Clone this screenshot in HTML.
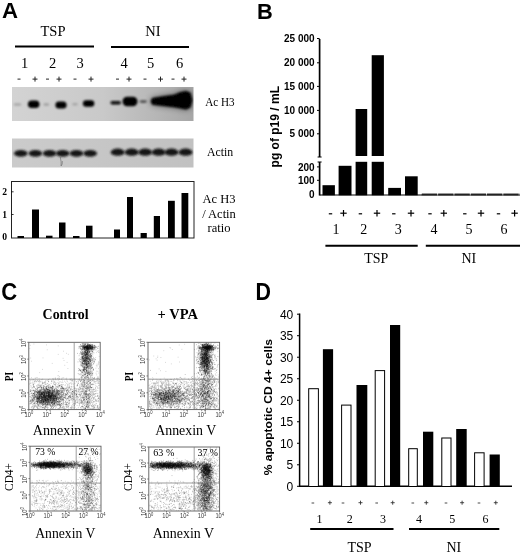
<!DOCTYPE html>
<html><head><meta charset="utf-8"><title>Figure</title>
<style>html,body{margin:0;padding:0;background:#fff;}body{width:520px;height:552px;overflow:hidden;font-family:"Liberation Serif",serif;}svg{display:block;}</style>
</head><body>
<svg width="520" height="552" viewBox="0 0 520 552">
<defs>
<filter id="b1" x="-50%" y="-100%" width="200%" height="300%"><feGaussianBlur stdDeviation="0.9"/></filter>
<filter id="b2" x="-50%" y="-100%" width="200%" height="300%"><feGaussianBlur stdDeviation="1.6"/></filter>
<filter id="b3" x="-50%" y="-100%" width="200%" height="300%"><feGaussianBlur stdDeviation="0.7"/></filter>
<filter id="b4" x="-50%" y="-200%" width="200%" height="500%"><feGaussianBlur stdDeviation="1.3"/></filter>
<filter id="bh" x="-30%" y="-100%" width="160%" height="300%"><feGaussianBlur stdDeviation="3"/></filter>
<filter id="bt" x="-5%" y="-5%" width="110%" height="110%"><feGaussianBlur stdDeviation="0.35"/></filter>
<filter id="bd" x="-5%" y="-5%" width="110%" height="110%"><feGaussianBlur stdDeviation="0.45"/></filter>
<linearGradient id="g1" x1="0" x2="1" y1="0" y2="0"><stop offset="0" stop-color="#d3d3d3"/><stop offset="0.5" stop-color="#c9c9c9"/><stop offset="0.8" stop-color="#b6b6b6"/><stop offset="1" stop-color="#a6a6a6"/></linearGradient>
<linearGradient id="g2" x1="0" x2="1" y1="0" y2="0"><stop offset="0" stop-color="#cbcbcb"/><stop offset="1" stop-color="#c1c1c1"/></linearGradient>
<clipPath id="c1"><rect x="12" y="87" width="181.5" height="34"/></clipPath>
<clipPath id="c2"><rect x="12" y="138.5" width="181.5" height="29"/></clipPath>
</defs>
<rect width="520" height="552" fill="#fff"/>
<g filter="url(#bt)">
<text transform="translate(2.00,18.10) scale(0.989,1)" font-family='"Liberation Sans", sans-serif' font-size="22.46" font-weight="bold" fill="#000">A</text>
<text transform="translate(256.90,18.50) scale(0.971,1)" font-family='"Liberation Sans", sans-serif' font-size="22.46" font-weight="bold" fill="#000">B</text>
<text transform="translate(1.30,299.97) scale(0.956,1)" font-family='"Liberation Sans", sans-serif' font-size="23.10" font-weight="bold" fill="#000">C</text>
<text transform="translate(255.40,300.40) scale(0.928,1)" font-family='"Liberation Sans", sans-serif' font-size="23.04" font-weight="bold" fill="#000">D</text>
<text x="53" y="36" font-family='"Liberation Serif", serif' font-size="14.5" font-weight="normal" text-anchor="middle" >TSP</text>
<text x="153" y="36" font-family='"Liberation Serif", serif' font-size="14.5" font-weight="normal" text-anchor="middle" >NI</text>
<line x1="15" y1="46.5" x2="94" y2="46.5" stroke="#000" stroke-width="2" />
<line x1="111" y1="47" x2="189" y2="47" stroke="#000" stroke-width="2" />
<text x="24.5" y="68" font-family='"Liberation Serif", serif' font-size="14.5" font-weight="normal" text-anchor="middle" >1</text>
<text x="52.5" y="68" font-family='"Liberation Serif", serif' font-size="14.5" font-weight="normal" text-anchor="middle" >2</text>
<text x="80" y="68" font-family='"Liberation Serif", serif' font-size="14.5" font-weight="normal" text-anchor="middle" >3</text>
<text x="124" y="68" font-family='"Liberation Serif", serif' font-size="14.5" font-weight="normal" text-anchor="middle" >4</text>
<text x="150.5" y="68" font-family='"Liberation Serif", serif' font-size="14.5" font-weight="normal" text-anchor="middle" >5</text>
<text x="179.5" y="68" font-family='"Liberation Serif", serif' font-size="14.5" font-weight="normal" text-anchor="middle" >6</text>
<line x1="17.5" y1="79.1" x2="20.5" y2="79.1" stroke="#222" stroke-width="1" />
<line x1="32.5" y1="79.1" x2="37.5" y2="79.1" stroke="#222" stroke-width="1" />
<line x1="35" y1="76.6" x2="35" y2="81.6" stroke="#222" stroke-width="1" />
<line x1="46.0" y1="79.1" x2="49.0" y2="79.1" stroke="#222" stroke-width="1" />
<line x1="56.5" y1="79.1" x2="61.5" y2="79.1" stroke="#222" stroke-width="1" />
<line x1="59" y1="76.6" x2="59" y2="81.6" stroke="#222" stroke-width="1" />
<line x1="73.5" y1="79.1" x2="76.5" y2="79.1" stroke="#222" stroke-width="1" />
<line x1="88.5" y1="79.1" x2="93.5" y2="79.1" stroke="#222" stroke-width="1" />
<line x1="91" y1="76.6" x2="91" y2="81.6" stroke="#222" stroke-width="1" />
<line x1="116.0" y1="79.1" x2="119.0" y2="79.1" stroke="#222" stroke-width="1" />
<line x1="126.5" y1="79.1" x2="131.5" y2="79.1" stroke="#222" stroke-width="1" />
<line x1="129" y1="76.6" x2="129" y2="81.6" stroke="#222" stroke-width="1" />
<line x1="143.5" y1="79.1" x2="146.5" y2="79.1" stroke="#222" stroke-width="1" />
<line x1="158.0" y1="79.1" x2="163.0" y2="79.1" stroke="#222" stroke-width="1" />
<line x1="160.5" y1="76.6" x2="160.5" y2="81.6" stroke="#222" stroke-width="1" />
<line x1="171.5" y1="79.1" x2="174.5" y2="79.1" stroke="#222" stroke-width="1" />
<line x1="181.5" y1="79.1" x2="186.5" y2="79.1" stroke="#222" stroke-width="1" />
<line x1="184" y1="76.6" x2="184" y2="81.6" stroke="#222" stroke-width="1" />
<rect x="12.00" y="87.00" width="181.50" height="34.00" fill="url(#g1)" />
<g clip-path="url(#c1)">
<ellipse cx="17.5" cy="104.5" rx="4" ry="1.2" fill="#a4a4a4" filter="url(#b1)"/>
<rect x="27.90" y="100.50" width="11.6" height="7.6" rx="3.8" fill="#000" filter="url(#b1)"/>
<ellipse cx="46.3" cy="104.5" rx="3" ry="1.2" fill="#9c9c9c" filter="url(#b1)"/>
<rect x="55.40" y="101.40" width="11.2" height="7" rx="3.5" fill="#000" filter="url(#b1)"/>
<ellipse cx="75" cy="104.3" rx="3" ry="1.2" fill="#a4a4a4" filter="url(#b1)"/>
<rect x="82.90" y="100.30" width="11.4" height="6.4" rx="3.2" fill="#000" filter="url(#b1)"/>
<rect x="110.45" y="101.00" width="10.5" height="3.6" rx="1.8" fill="#0a0a0a" filter="url(#b1)"/>
<rect x="122.50" y="96.70" width="15" height="9.6" rx="4.8" fill="#000" filter="url(#b1)"/>
<ellipse cx="143.2" cy="101.6" rx="3.8" ry="1.4" fill="#4a4a4a" filter="url(#b1)"/>
<path d="M150.6 101.3 L152.2 98 L163 96.2 L174 94.8 L180 92.2 L186 91 L190.5 92.8 L192.4 100.2 L190.5 107.6 L186 109.4 L180 108.2 L174 107.2 L163 106 L152.2 104.8Z" fill="#000" opacity="0.55" filter="url(#bh)"/>
<path d="M150.6 101.3 L152.2 98 L163 96.2 L174 94.8 L180 92.2 L186 91 L190.5 92.8 L192.4 100.2 L190.5 107.6 L186 109.4 L180 108.2 L174 107.2 L163 106 L152.2 104.8Z" fill="#000" filter="url(#b1)"/>
</g>
<text transform="translate(205.20,106.27) scale(0.888,1)" font-family='"Liberation Serif", serif' font-size="12.54" font-weight="normal" fill="#000">Ac H3</text>
<rect x="12.00" y="138.50" width="181.50" height="29.00" fill="url(#g2)" />
<g clip-path="url(#c2)">
<ellipse cx="20.8" cy="153.4" rx="6.8" ry="3.4" fill="#181818" filter="url(#b1)"/>
<ellipse cx="35.4" cy="153.4" rx="6.8" ry="3.4" fill="#181818" filter="url(#b1)"/>
<ellipse cx="49.6" cy="153.4" rx="6.8" ry="3.4" fill="#181818" filter="url(#b1)"/>
<ellipse cx="62.7" cy="153.4" rx="6.8" ry="3.4" fill="#181818" filter="url(#b1)"/>
<ellipse cx="76.5" cy="153.4" rx="6.8" ry="3.4" fill="#181818" filter="url(#b1)"/>
<ellipse cx="90.2" cy="153.4" rx="6.8" ry="3.4" fill="#181818" filter="url(#b1)"/>
<ellipse cx="117.7" cy="152.2" rx="7.0" ry="3.6" fill="#181818" filter="url(#b1)"/>
<ellipse cx="131.7" cy="152.2" rx="7.0" ry="3.6" fill="#181818" filter="url(#b1)"/>
<ellipse cx="145.2" cy="152.2" rx="7.0" ry="3.6" fill="#181818" filter="url(#b1)"/>
<ellipse cx="158.7" cy="152.2" rx="7.0" ry="3.6" fill="#181818" filter="url(#b1)"/>
<ellipse cx="171.5" cy="152.2" rx="7.0" ry="3.6" fill="#181818" filter="url(#b1)"/>
<ellipse cx="185.6" cy="152.2" rx="7.0" ry="3.6" fill="#181818" filter="url(#b1)"/>
<path d="M60.3 157 q1.2 5 0.8 9 q1.6 -1.5 1.2 -5" stroke="#666" stroke-width="0.6" fill="none"/>
</g>
<text transform="translate(207.00,156.28) scale(0.996,1)" font-family='"Liberation Serif", serif' font-size="11.85" font-weight="normal" fill="#000">Actin</text>
<rect x="11.5" y="181.5" width="182.5" height="56.5" fill="#fff" stroke="#222" stroke-width="1"/>
<text x="4.6" y="195" font-family='"Liberation Serif", serif' font-size="9.6" font-weight="bold" text-anchor="middle" >2</text>
<text x="4.6" y="217.6" font-family='"Liberation Serif", serif' font-size="9.6" font-weight="bold" text-anchor="middle" >1</text>
<text x="4.6" y="239.6" font-family='"Liberation Serif", serif' font-size="9.6" font-weight="bold" text-anchor="middle" >0</text>
<line x1="11.5" y1="191.8" x2="13.6" y2="191.8" stroke="#000" stroke-width="0.8" />
<line x1="11.5" y1="214.5" x2="13.6" y2="214.5" stroke="#000" stroke-width="0.8" />
<rect x="17.50" y="236.00" width="6.50" height="2.00" fill="#000" />
<rect x="32.00" y="209.50" width="7.00" height="28.50" fill="#000" />
<rect x="46.00" y="235.70" width="6.50" height="2.30" fill="#000" />
<rect x="59.00" y="222.50" width="6.50" height="15.50" fill="#000" />
<rect x="73.00" y="236.00" width="6.50" height="2.00" fill="#000" />
<rect x="86.00" y="225.70" width="6.50" height="12.30" fill="#000" />
<rect x="114.00" y="229.50" width="6.00" height="8.50" fill="#000" />
<rect x="127.00" y="197.00" width="6.00" height="41.00" fill="#000" />
<rect x="140.60" y="233.00" width="6.20" height="5.00" fill="#000" />
<rect x="153.80" y="216.00" width="6.20" height="22.00" fill="#000" />
<rect x="168.00" y="200.80" width="6.80" height="37.20" fill="#000" />
<rect x="181.50" y="193.00" width="6.80" height="45.00" fill="#000" />
<text x="219" y="203.0" font-family='"Liberation Serif", serif' font-size="12.5" font-weight="normal" text-anchor="middle" >Ac H3</text>
<text x="219" y="217.7" font-family='"Liberation Serif", serif' font-size="12.5" font-weight="normal" text-anchor="middle" >/ Actin</text>
<text x="219" y="232.4" font-family='"Liberation Serif", serif' font-size="12.5" font-weight="normal" text-anchor="middle" >ratio</text>
<line x1="319.6" y1="39" x2="319.6" y2="157" stroke="#000" stroke-width="1.7" />
<line x1="319.6" y1="162" x2="319.6" y2="195.5" stroke="#000" stroke-width="1.7" />
<line x1="317.6" y1="157" x2="321.6" y2="157" stroke="#000" stroke-width="1" />
<line x1="317.6" y1="162" x2="321.6" y2="162" stroke="#000" stroke-width="1" />
<text x="314.6" y="42.1" font-family='"Liberation Sans", sans-serif' font-size="10" font-weight="bold" text-anchor="end" >25 000</text>
<line x1="317.0" y1="38.5" x2="319.6" y2="38.5" stroke="#000" stroke-width="1" />
<text x="314.6" y="66.39999999999999" font-family='"Liberation Sans", sans-serif' font-size="10" font-weight="bold" text-anchor="end" >20 000</text>
<line x1="317.0" y1="62.8" x2="319.6" y2="62.8" stroke="#000" stroke-width="1" />
<text x="314.6" y="90.0" font-family='"Liberation Sans", sans-serif' font-size="10" font-weight="bold" text-anchor="end" >15 000</text>
<line x1="317.0" y1="86.4" x2="319.6" y2="86.4" stroke="#000" stroke-width="1" />
<text x="314.6" y="114.0" font-family='"Liberation Sans", sans-serif' font-size="10" font-weight="bold" text-anchor="end" >10 000</text>
<line x1="317.0" y1="110.4" x2="319.6" y2="110.4" stroke="#000" stroke-width="1" />
<text x="314.6" y="137.4" font-family='"Liberation Sans", sans-serif' font-size="10" font-weight="bold" text-anchor="end" >5 000</text>
<line x1="317.0" y1="133.8" x2="319.6" y2="133.8" stroke="#000" stroke-width="1" />
<text x="314.6" y="170.5" font-family='"Liberation Sans", sans-serif' font-size="10" font-weight="bold" text-anchor="end" >200</text>
<line x1="317.0" y1="166.9" x2="319.6" y2="166.9" stroke="#000" stroke-width="1" />
<text x="314.6" y="183.9" font-family='"Liberation Sans", sans-serif' font-size="10" font-weight="bold" text-anchor="end" >100</text>
<line x1="317.0" y1="180.3" x2="319.6" y2="180.3" stroke="#000" stroke-width="1" />
<text x="314.6" y="197.9" font-family='"Liberation Sans", sans-serif' font-size="10" font-weight="bold" text-anchor="end" >0</text>
<text transform="translate(278.75,167.40) rotate(-90) scale(0.885,1)" font-family='"Liberation Sans", sans-serif' font-size="13.58" font-weight="bold" fill="#000">pg of p19 / mL</text>
<line x1="319.6" y1="195" x2="422" y2="195" stroke="#000" stroke-width="1" />
<rect x="322.50" y="185.20" width="12.40" height="10.10" fill="#000" />
<rect x="338.60" y="165.80" width="12.90" height="29.50" fill="#000" />
<rect x="355.60" y="109.00" width="11.60" height="47.00" fill="#000" />
<rect x="355.60" y="161.80" width="11.60" height="33.50" fill="#000" />
<rect x="371.70" y="55.20" width="12.20" height="100.80" fill="#000" />
<rect x="371.70" y="161.80" width="12.20" height="33.50" fill="#000" />
<rect x="388.20" y="187.90" width="12.80" height="7.40" fill="#000" />
<rect x="405.00" y="176.30" width="12.70" height="19.00" fill="#000" />
<rect x="421.80" y="193.60" width="15.40" height="2.00" fill="#000" />
<rect x="438.10" y="193.60" width="15.40" height="2.00" fill="#000" />
<rect x="454.40" y="193.60" width="15.40" height="2.00" fill="#000" />
<rect x="470.70" y="193.60" width="15.40" height="2.00" fill="#000" />
<rect x="487.00" y="193.60" width="15.40" height="2.00" fill="#000" />
<rect x="503.30" y="193.60" width="15.40" height="2.00" fill="#000" />
<rect x="519.60" y="193.60" width="15.40" height="2.00" fill="#000" />
<rect x="421.80" y="194.60" width="100.00" height="1.00" fill="#555" />
<line x1="328.8" y1="213.8" x2="332.2" y2="213.8" stroke="#000" stroke-width="1.2" />
<line x1="340.3" y1="213.2" x2="346.7" y2="213.2" stroke="#000" stroke-width="1.2" />
<line x1="343.5" y1="210" x2="343.5" y2="216.4" stroke="#000" stroke-width="1.2" />
<line x1="358.7" y1="213.8" x2="362.09999999999997" y2="213.8" stroke="#000" stroke-width="1.2" />
<line x1="373.8" y1="213.2" x2="380.2" y2="213.2" stroke="#000" stroke-width="1.2" />
<line x1="377" y1="210" x2="377" y2="216.4" stroke="#000" stroke-width="1.2" />
<line x1="392.1" y1="213.8" x2="395.5" y2="213.8" stroke="#000" stroke-width="1.2" />
<line x1="407.8" y1="213.2" x2="414.2" y2="213.2" stroke="#000" stroke-width="1.2" />
<line x1="411" y1="210" x2="411" y2="216.4" stroke="#000" stroke-width="1.2" />
<line x1="428.3" y1="213.8" x2="431.7" y2="213.8" stroke="#000" stroke-width="1.2" />
<line x1="440.6" y1="213.2" x2="447.0" y2="213.2" stroke="#000" stroke-width="1.2" />
<line x1="443.8" y1="210" x2="443.8" y2="216.4" stroke="#000" stroke-width="1.2" />
<line x1="463.1" y1="213.8" x2="466.5" y2="213.8" stroke="#000" stroke-width="1.2" />
<line x1="477.8" y1="213.2" x2="484.2" y2="213.2" stroke="#000" stroke-width="1.2" />
<line x1="481" y1="210" x2="481" y2="216.4" stroke="#000" stroke-width="1.2" />
<line x1="496.8" y1="213.8" x2="500.2" y2="213.8" stroke="#000" stroke-width="1.2" />
<line x1="511.40000000000003" y1="213.2" x2="517.8000000000001" y2="213.2" stroke="#000" stroke-width="1.2" />
<line x1="514.6" y1="210" x2="514.6" y2="216.4" stroke="#000" stroke-width="1.2" />
<text x="336" y="233.8" font-family='"Liberation Serif", serif' font-size="14" font-weight="normal" text-anchor="middle" >1</text>
<text x="363.7" y="233.8" font-family='"Liberation Serif", serif' font-size="14" font-weight="normal" text-anchor="middle" >2</text>
<text x="398.3" y="233.8" font-family='"Liberation Serif", serif' font-size="14" font-weight="normal" text-anchor="middle" >3</text>
<text x="433.9" y="233.8" font-family='"Liberation Serif", serif' font-size="14" font-weight="normal" text-anchor="middle" >4</text>
<text x="468.9" y="233.8" font-family='"Liberation Serif", serif' font-size="14" font-weight="normal" text-anchor="middle" >5</text>
<text x="503.9" y="233.8" font-family='"Liberation Serif", serif' font-size="14" font-weight="normal" text-anchor="middle" >6</text>
<line x1="325.4" y1="245.8" x2="417.7" y2="245.8" stroke="#000" stroke-width="2" />
<line x1="425.8" y1="245.8" x2="520" y2="245.8" stroke="#000" stroke-width="2" />
<text x="376.2" y="263.3" font-family='"Liberation Serif", serif' font-size="14" font-weight="normal" text-anchor="middle" >TSP</text>
<text x="468.8" y="263.3" font-family='"Liberation Serif", serif' font-size="14" font-weight="normal" text-anchor="middle" >NI</text>
<line x1="299.6" y1="313.5" x2="299.6" y2="487" stroke="#000" stroke-width="1.5" />
<line x1="299" y1="486.3" x2="512" y2="486.3" stroke="#000" stroke-width="1.5" />
<text x="293.3" y="490.6" font-family='"Liberation Sans", sans-serif' font-size="12" font-weight="normal" text-anchor="end" >0</text>
<line x1="297" y1="486.3" x2="299.6" y2="486.3" stroke="#000" stroke-width="1" />
<text x="293.3" y="469.08750000000003" font-family='"Liberation Sans", sans-serif' font-size="12" font-weight="normal" text-anchor="end" >5</text>
<line x1="297" y1="464.7875" x2="299.6" y2="464.7875" stroke="#000" stroke-width="1" />
<text x="293.3" y="447.575" font-family='"Liberation Sans", sans-serif' font-size="12" font-weight="normal" text-anchor="end" >10</text>
<line x1="297" y1="443.275" x2="299.6" y2="443.275" stroke="#000" stroke-width="1" />
<text x="293.3" y="426.0625" font-family='"Liberation Sans", sans-serif' font-size="12" font-weight="normal" text-anchor="end" >15</text>
<line x1="297" y1="421.7625" x2="299.6" y2="421.7625" stroke="#000" stroke-width="1" />
<text x="293.3" y="404.55" font-family='"Liberation Sans", sans-serif' font-size="12" font-weight="normal" text-anchor="end" >20</text>
<line x1="297" y1="400.25" x2="299.6" y2="400.25" stroke="#000" stroke-width="1" />
<text x="293.3" y="383.0375" font-family='"Liberation Sans", sans-serif' font-size="12" font-weight="normal" text-anchor="end" >25</text>
<line x1="297" y1="378.7375" x2="299.6" y2="378.7375" stroke="#000" stroke-width="1" />
<text x="293.3" y="361.52500000000003" font-family='"Liberation Sans", sans-serif' font-size="12" font-weight="normal" text-anchor="end" >30</text>
<line x1="297" y1="357.225" x2="299.6" y2="357.225" stroke="#000" stroke-width="1" />
<text x="293.3" y="340.0125" font-family='"Liberation Sans", sans-serif' font-size="12" font-weight="normal" text-anchor="end" >35</text>
<line x1="297" y1="335.7125" x2="299.6" y2="335.7125" stroke="#000" stroke-width="1" />
<text x="293.3" y="318.5" font-family='"Liberation Sans", sans-serif' font-size="12" font-weight="normal" text-anchor="end" >40</text>
<line x1="297" y1="314.2" x2="299.6" y2="314.2" stroke="#000" stroke-width="1" />
<text transform="translate(272.44,475.30) rotate(-90) scale(1.075,1)" font-family='"Liberation Sans", sans-serif' font-size="11.23" font-weight="bold" fill="#000">% apoptotic CD 4+ cells</text>
<rect x="308.70" y="388.70" width="9.70" height="97.80" fill="#fff" stroke="#000" stroke-width="1.0"/>
<rect x="322.90" y="349.20" width="10.20" height="137.30" fill="#000" />
<rect x="341.60" y="405.10" width="9.40" height="81.40" fill="#fff" stroke="#000" stroke-width="1.0"/>
<rect x="356.50" y="385.00" width="10.80" height="101.50" fill="#000" />
<rect x="375.20" y="370.60" width="9.40" height="115.90" fill="#fff" stroke="#000" stroke-width="1.0"/>
<rect x="390.00" y="325.00" width="10.20" height="161.50" fill="#000" />
<rect x="408.70" y="448.70" width="8.60" height="37.80" fill="#fff" stroke="#000" stroke-width="1.0"/>
<rect x="423.00" y="431.70" width="10.30" height="54.80" fill="#000" />
<rect x="441.80" y="438.00" width="9.20" height="48.50" fill="#fff" stroke="#000" stroke-width="1.0"/>
<rect x="456.20" y="429.00" width="10.50" height="57.50" fill="#000" />
<rect x="474.60" y="452.80" width="9.50" height="33.70" fill="#fff" stroke="#000" stroke-width="1.0"/>
<rect x="489.60" y="454.50" width="10.20" height="32.00" fill="#000" />
<line x1="311.59999999999997" y1="503" x2="314.2" y2="503" stroke="#333" stroke-width="0.9" />
<line x1="327.9" y1="502.7" x2="331.9" y2="502.7" stroke="#333" stroke-width="0.9" />
<line x1="329.9" y1="500.7" x2="329.9" y2="504.7" stroke="#333" stroke-width="0.9" />
<line x1="341.7" y1="503" x2="344.3" y2="503" stroke="#333" stroke-width="0.9" />
<line x1="358.5" y1="502.7" x2="362.5" y2="502.7" stroke="#333" stroke-width="0.9" />
<line x1="360.5" y1="500.7" x2="360.5" y2="504.7" stroke="#333" stroke-width="0.9" />
<line x1="375.4" y1="503" x2="378.0" y2="503" stroke="#333" stroke-width="0.9" />
<line x1="390.7" y1="502.7" x2="394.7" y2="502.7" stroke="#333" stroke-width="0.9" />
<line x1="392.7" y1="500.7" x2="392.7" y2="504.7" stroke="#333" stroke-width="0.9" />
<line x1="411.5" y1="503" x2="414.1" y2="503" stroke="#333" stroke-width="0.9" />
<line x1="424.3" y1="502.7" x2="428.3" y2="502.7" stroke="#333" stroke-width="0.9" />
<line x1="426.3" y1="500.7" x2="426.3" y2="504.7" stroke="#333" stroke-width="0.9" />
<line x1="444.7" y1="503" x2="447.3" y2="503" stroke="#333" stroke-width="0.9" />
<line x1="460.1" y1="502.7" x2="464.1" y2="502.7" stroke="#333" stroke-width="0.9" />
<line x1="462.1" y1="500.7" x2="462.1" y2="504.7" stroke="#333" stroke-width="0.9" />
<line x1="477.7" y1="503" x2="480.3" y2="503" stroke="#333" stroke-width="0.9" />
<line x1="493.8" y1="502.7" x2="497.8" y2="502.7" stroke="#333" stroke-width="0.9" />
<line x1="495.8" y1="500.7" x2="495.8" y2="504.7" stroke="#333" stroke-width="0.9" />
<text x="319.6" y="522.5" font-family='"Liberation Serif", serif' font-size="12" font-weight="normal" text-anchor="middle" >1</text>
<text x="349.8" y="522.5" font-family='"Liberation Serif", serif' font-size="12" font-weight="normal" text-anchor="middle" >2</text>
<text x="383" y="522.5" font-family='"Liberation Serif", serif' font-size="12" font-weight="normal" text-anchor="middle" >3</text>
<text x="419" y="522.5" font-family='"Liberation Serif", serif' font-size="12" font-weight="normal" text-anchor="middle" >4</text>
<text x="452.2" y="522.5" font-family='"Liberation Serif", serif' font-size="12" font-weight="normal" text-anchor="middle" >5</text>
<text x="485.5" y="522.5" font-family='"Liberation Serif", serif' font-size="12" font-weight="normal" text-anchor="middle" >6</text>
<line x1="310.2" y1="529" x2="393.5" y2="529" stroke="#000" stroke-width="2" />
<line x1="409" y1="529" x2="499.3" y2="529" stroke="#000" stroke-width="2" />
<text x="359.6" y="551.5" font-family='"Liberation Serif", serif' font-size="14" font-weight="normal" text-anchor="middle" >TSP</text>
<text x="453.8" y="551.5" font-family='"Liberation Serif", serif' font-size="14" font-weight="normal" text-anchor="middle" >NI</text>
<text transform="translate(42.60,319.15) scale(0.943,1)" font-family='"Liberation Serif", serif' font-size="14.75" font-weight="bold" fill="#000">Control</text>
<text transform="translate(157.60,319.07) scale(0.942,1)" font-family='"Liberation Serif", serif' font-size="15.41" font-weight="bold" fill="#000">+ VPA</text>
<text transform="translate(32.70,435.27) scale(0.908,1)" font-family='"Liberation Serif", serif' font-size="15.59" font-weight="normal" fill="#000">Annexin V</text>
<text transform="translate(155.20,435.27) scale(0.891,1)" font-family='"Liberation Serif", serif' font-size="15.59" font-weight="normal" fill="#000">Annexin V</text>
<text transform="translate(35.20,537.88) scale(0.912,1)" font-family='"Liberation Serif", serif' font-size="15.00" font-weight="normal" fill="#000">Annexin V</text>
<text transform="translate(152.80,537.88) scale(0.930,1)" font-family='"Liberation Serif", serif' font-size="15.00" font-weight="normal" fill="#000">Annexin V</text>
<text transform="translate(13.00,381.20) rotate(-90) scale(0.808,1)" font-family='"Liberation Serif", serif' font-size="11.76" font-weight="bold" fill="#000">PI</text>
<text transform="translate(133.20,381.20) rotate(-90) scale(0.808,1)" font-family='"Liberation Serif", serif' font-size="11.76" font-weight="bold" fill="#000">PI</text>
<text transform="translate(12.88,490.90) rotate(-90) scale(0.937,1)" font-family='"Liberation Serif", serif' font-size="12.09" font-weight="normal" fill="#000">CD4+</text>
<text transform="translate(132.38,490.90) rotate(-90) scale(0.937,1)" font-family='"Liberation Serif", serif' font-size="12.09" font-weight="normal" fill="#000">CD4+</text>
<path d="M49.6 391.6h.8M98.1 397.8h.8M37.6 408.4h.8M61.2 379.3h.8M95.2 387.4h.8M45.9 397.5h.8M44.5 395.6h.8M83.4 408.6h.8M66.0 402.7h.8M72.8 384.4h.8M83.0 398.5h.8M50.3 404.9h.8M77.3 394.1h.8M71.6 407.8h.8M36.9 385.6h.8M74.8 380.2h.8M59.9 390.5h.8M59.5 381.6h.8M50.3 393.9h.8M84.5 397.7h.8M59.9 406.4h.8M96.6 393.6h.8M62.5 404.3h.8M58.2 398.4h.8M42.7 398.0h.8M54.3 389.1h.8M34.8 377.9h.8M61.3 386.1h.8M32.5 381.1h.8M97.1 407.4h.8M52.2 378.7h.8M49.5 386.0h.8M63.0 399.1h.8M87.1 407.1h.8M76.3 408.8h.8M72.0 394.4h.8M94.2 378.1h.8M87.0 387.3h.8M55.9 390.7h.8M59.2 385.9h.8M97.6 388.5h.8M39.9 392.0h.8M66.7 380.9h.8M52.0 396.9h.8M78.0 390.3h.8M64.1 390.4h.8M45.6 406.7h.8M60.1 392.7h.8M80.5 396.9h.8M53.0 379.0h.8M92.9 402.9h.8M89.2 398.7h.8M33.3 384.1h.8M66.4 379.8h.8M59.9 408.3h.8M57.0 387.3h.8M46.0 388.6h.8M45.6 388.2h.8M30.5 387.0h.8M43.9 397.2h.8M97.1 406.3h.8M34.9 378.6h.8M86.2 391.5h.8M66.3 394.9h.8M74.5 383.5h.8M39.2 398.2h.8M64.7 404.5h.8M37.2 389.0h.8M98.2 383.6h.8M51.8 398.8h.8M98.5 383.3h.8M71.2 407.0h.8M38.8 385.7h.8M55.3 388.5h.8M41.1 387.7h.8M65.4 406.1h.8M38.6 401.6h.8M57.1 392.3h.8M95.6 403.5h.8M43.2 392.6h.8M64.9 396.4h.8M75.0 393.3h.8M34.8 395.5h.8M36.1 407.2h.8M89.5 380.6h.8M96.3 386.2h.8M72.4 393.5h.8M66.1 399.4h.8M90.4 394.8h.8M93.3 398.1h.8M47.1 389.2h.8M78.7 394.1h.8M45.0 406.9h.8M73.6 405.3h.8M88.6 394.9h.8M80.1 401.0h.8M92.9 401.9h.8M98.7 407.6h.8M81.0 400.0h.8M95.0 390.3h.8M80.8 392.1h.8M83.0 400.5h.8M56.0 388.4h.8M33.9 400.4h.8M43.4 404.0h.8M47.3 408.8h.8M68.4 396.2h.8M81.2 378.9h.8M71.3 388.6h.8M92.0 378.8h.8M60.5 382.0h.8M59.4 394.9h.8M47.4 385.8h.8M47.2 399.5h.8M60.6 409.1h.8M39.0 380.9h.8M83.6 408.9h.8M45.0 396.4h.8M31.0 402.1h.8M53.7 378.3h.8M33.3 387.3h.8M44.4 389.6h.8M30.5 385.5h.8M94.0 407.6h.8M97.4 382.1h.8M51.2 394.1h.8M30.1 403.8h.8M33.7 398.6h.8M47.1 407.4h.8M34.1 403.7h.8M33.7 405.2h.8M88.0 396.0h.8M35.8 381.9h.8M41.7 402.4h.8M32.7 382.8h.8M60.9 391.1h.8M65.3 382.3h.8M92.5 384.0h.8M66.7 387.3h.8M44.8 382.0h.8M65.7 408.8h.8M52.7 379.3h.8M50.0 405.8h.8M98.3 395.9h.8M69.7 398.0h.8M47.8 399.3h.8M94.6 394.0h.8M79.3 390.0h.8M46.8 380.6h.8M93.6 405.1h.8M33.0 386.4h.8M40.2 381.9h.8M63.6 393.1h.8M48.9 391.9h.8M51.4 409.1h.8M66.9 381.7h.8M76.1 394.7h.8M88.8 408.1h.8M44.5 397.8h.8M31.3 406.7h.8M85.4 394.6h.8M75.3 403.7h.8M93.0 380.1h.8M53.2 403.3h.8M53.7 400.5h.8M56.4 387.7h.8M83.0 380.8h.8M72.5 383.3h.8M74.8 407.1h.8M41.7 402.0h.8M37.2 401.3h.8M76.3 385.8h.8M61.0 392.2h.8M74.3 387.7h.8M59.5 398.0h.8M66.0 391.0h.8M39.2 394.9h.8M64.6 385.3h.8M49.5 378.9h.8M80.0 389.7h.8M64.6 404.1h.8M53.4 399.7h.8M62.8 407.3h.8M31.2 377.7h.8M30.3 400.0h.8M57.8 378.0h.8M53.5 400.4h.8M63.5 389.5h.8M90.7 387.6h.8M35.0 380.8h.8M92.9 406.3h.8M86.8 380.4h.8M88.2 379.8h.8M51.1 389.3h.8M83.9 383.0h.8M71.7 381.3h.8M75.7 397.4h.8M95.6 396.5h.8M37.0 380.4h.8M55.5 384.2h.8M91.4 384.6h.8M77.7 399.2h.8M65.0 397.0h.8M86.0 399.6h.8M60.3 384.8h.8M37.6 384.4h.8M68.3 387.9h.8M77.1 401.8h.8M91.6 389.8h.8M54.5 406.2h.8M44.0 408.5h.8M49.9 405.2h.8M31.8 407.9h.8M36.8 402.6h.8M36.3 399.7h.8M37.1 404.6h.8M70.1 397.6h.8M77.3 402.2h.8M75.0 400.6h.8M59.5 401.5h.8M36.0 377.7h.8M72.6 407.8h.8M36.8 402.3h.8M43.8 397.7h.8M53.0 399.7h.8M83.8 397.4h.8M92.3 387.2h.8M91.3 395.8h.8M53.2 391.0h.8M99.2 407.1h.8M77.1 383.2h.8M68.1 405.6h.8M99.2 399.1h.8M93.9 394.4h.8M37.9 392.5h.8M50.2 399.7h.8M91.7 380.8h.8M69.8 388.6h.8M76.0 395.2h.8M83.1 390.2h.8M98.8 383.9h.8M91.4 408.4h.8M62.2 404.8h.8M51.0 407.3h.8M90.2 395.0h.8M68.5 383.2h.8M83.3 381.9h.8M32.2 406.4h.8M62.7 390.9h.8M98.3 398.4h.8M39.3 401.8h.8M38.4 385.7h.8M67.7 401.6h.8M82.4 397.4h.8M43.4 407.3h.8M83.8 383.1h.8M79.1 378.9h.8M39.0 393.5h.8M65.6 398.3h.8M44.8 401.1h.8M97.6 393.8h.8M59.0 385.9h.8M80.7 384.0h.8M84.2 399.7h.8M46.7 393.5h.8M81.1 401.0h.8M92.8 405.7h.8M45.9 397.3h.8M42.0 405.4h.8M71.6 392.1h.8M39.7 385.9h.8M58.4 392.1h.8M91.3 393.6h.8M37.3 398.9h.8M40.4 381.2h.8M46.2 407.3h.8M61.1 398.9h.8M84.2 408.9h.8M45.2 399.5h.8M37.2 393.2h.8M92.0 380.1h.8M74.1 404.8h.8M67.0 389.8h.8M95.6 391.5h.8M47.4 406.9h.8M82.1 398.3h.8M51.5 392.3h.8M76.4 390.3h.8M30.5 382.8h.8M75.7 381.8h.8M76.2 388.6h.8M48.5 398.5h.8M94.7 399.5h.8M93.1 401.3h.8M61.5 378.8h.8M74.3 393.0h.8M30.4 397.0h.8M38.8 391.5h.8M97.8 401.3h.8M94.4 380.0h.8M41.7 381.3h.8M79.2 404.3h.8M39.7 390.0h.8M90.3 400.0h.8M83.3 389.1h.8M38.5 387.1h.8M49.8 404.2h.8M61.6 408.5h.8M90.5 408.4h.8M98.2 378.1h.8M91.7 390.6h.8M98.4 408.2h.8M55.5 394.4h.8M41.0 387.6h.8M86.6 395.3h.8M33.5 399.0h.8M89.4 378.0h.8M90.2 387.1h.8M32.5 393.6h.8M55.0 377.9h.8M69.5 379.9h.8M58.7 398.5h.8M66.5 406.8h.8M57.9 399.5h.8M42.0 382.8h.8M69.6 386.6h.8M71.8 402.4h.8M49.1 403.7h.8M73.5 399.8h.8M38.7 383.3h.8M38.7 378.4h.8M52.5 388.1h.8M98.3 401.8h.8M90.9 399.0h.8M67.0 395.1h.8M67.3 387.7h.8M83.1 397.5h.8M78.0 381.6h.8M65.2 394.6h.8M62.0 403.7h.8M72.0 401.2h.8M55.6 379.9h.8M49.8 399.0h.8M75.5 390.3h.8M88.8 405.6h.8M47.9 404.0h.8M39.6 397.0h.8M83.2 383.0h.8M43.5 386.9h.8M42.8 395.1h.8M38.5 402.0h.8M86.4 386.6h.8M64.1 381.2h.8M37.4 400.1h.8M76.7 405.5h.8M60.8 395.9h.8M41.9 400.8h.8M47.9 392.2h.8M53.3 391.4h.8M52.6 386.5h.8M90.8 389.9h.8M87.8 394.8h.8M35.6 380.9h.8M43.5 407.2h.8M81.7 406.6h.8M65.2 395.9h.8M33.3 395.1h.8M37.6 387.2h.8M88.3 396.2h.8M68.6 397.0h.8M71.3 378.6h.8M46.1 390.5h.8M30.6 380.3h.8M33.6 395.9h.8M55.2 392.1h.8M47.1 403.8h.8M66.4 383.5h.8M97.2 396.4h.8M46.7 399.3h.8M37.9 381.7h.8M85.6 405.2h.8M93.1 393.7h.8M71.0 389.4h.8M81.8 402.8h.8M54.4 392.0h.8M73.6 386.5h.8M45.4 403.3h.8M76.7 396.0h.8M97.6 379.0h.8M96.5 378.3h.8M91.3 384.2h.8M33.3 384.1h.8M88.2 404.1h.8M37.4 380.7h.8M41.8 408.1h.8M54.5 398.4h.8M50.8 403.6h.8M61.5 382.6h.8M32.1 394.3h.8M95.1 383.7h.8M31.6 391.4h.8M43.2 404.7h.8M90.0 380.4h.8M30.8 398.8h.8M55.7 406.1h.8M93.3 394.7h.8M98.3 408.1h.8M62.3 406.3h.8M97.3 380.9h.8M37.8 398.3h.8M97.4 390.6h.8M57.5 390.1h.8M62.5 382.6h.8M36.0 391.2h.8M93.2 408.7h.8M51.3 396.3h.8M71.3 383.0h.8M67.4 406.9h.8M96.1 403.7h.8M85.9 406.0h.8M37.0 388.3h.8M57.5 382.5h.8M33.9 406.2h.8M35.4 395.3h.8M41.4 404.4h.8M61.3 384.7h.8M84.7 396.8h.8M53.9 401.3h.8M77.8 397.7h.8M78.7 405.9h.8M45.2 392.1h.8M30.1 380.9h.8M88.2 395.7h.8M36.6 397.5h.8M53.8 398.3h.8M60.1 405.0h.8M34.0 407.2h.8M39.6 403.3h.8M58.7 404.9h.8M39.9 391.0h.8M69.1 400.7h.8M78.8 392.6h.8M44.1 382.0h.8M69.3 405.1h.8M64.4 408.1h.8M51.1 381.2h.8M57.0 393.6h.8M31.9 395.5h.8M90.4 380.5h.8M61.7 378.1h.8M97.7 406.0h.8M86.8 401.7h.8M71.7 394.4h.8M45.1 403.3h.8M98.3 381.8h.8M58.4 383.5h.8M78.3 397.6h.8M86.5 382.7h.8M53.4 380.3h.8M54.6 402.7h.8M91.6 384.1h.8M45.0 392.8h.8M40.7 385.0h.8M37.2 377.8h.8M92.7 398.0h.8M93.1 395.1h.8M72.0 380.6h.8M51.4 392.4h.8M81.0 403.2h.8M30.0 403.0h.8M95.4 396.2h.8M48.2 403.7h.8M60.3 401.8h.8M44.5 395.1h.8M58.8 378.5h.8M59.1 408.2h.8M33.8 386.8h.8M66.4 390.6h.8M96.4 400.1h.8M42.1 396.5h.8M96.1 381.1h.8M69.1 385.8h.8M51.0 395.0h.8M44.4 390.4h.8M84.3 391.7h.8M89.4 401.9h.8M84.7 387.0h.8M89.9 392.0h.8M50.9 397.3h.8M79.7 400.3h.8M97.5 387.2h.8M99.1 396.2h.8M65.3 384.9h.8M97.3 406.4h.8M91.1 379.7h.8M55.5 398.0h.8M36.9 388.1h.8M59.7 397.7h.8M43.7 382.6h.8M32.4 380.0h.8M39.1 395.6h.8M48.2 407.7h.8M34.5 406.0h.8M31.0 401.8h.8M51.5 391.8h.8M92.9 393.3h.8M89.7 396.5h.8M88.1 402.0h.8M56.3 402.3h.8M55.9 393.9h.8M98.2 385.5h.8M57.9 400.5h.8M80.7 389.3h.8M97.3 380.1h.8M34.8 381.0h.8M35.9 399.5h.8M50.9 402.1h.8M56.5 402.8h.8M63.0 400.9h.8M66.3 378.2h.8M33.4 406.3h.8M40.8 402.8h.8M96.7 383.5h.8M62.7 377.7h.8M32.8 408.3h.8M42.1 383.9h.8M86.5 398.7h.8M92.1 396.8h.8M71.2 384.7h.8M82.5 391.6h.8M53.1 404.3h.8M58.7 378.9h.8M98.8 381.5h.8M80.1 409.1h.8M63.5 378.1h.8M65.2 389.0h.8M72.0 391.6h.8M75.2 393.8h.8M58.7 379.2h.8M56.2 389.7h.8M96.0 400.2h.8M37.3 402.2h.8M63.6 408.8h.8M92.6 391.4h.8M74.4 378.9h.8M50.4 396.2h.8M96.6 380.6h.8M84.9 400.6h.8M92.3 409.0h.8M37.7 392.2h.8M32.7 405.9h.8M97.7 398.5h.8M39.1 382.0h.8M41.8 382.6h.8M56.0 401.2h.8M86.9 402.2h.8M96.7 407.2h.8M33.9 405.0h.8M95.8 401.1h.8M46.4 397.9h.8M31.6 390.5h.8M58.8 382.7h.8M88.6 393.2h.8M71.9 379.4h.8M54.9 379.6h.8M67.0 407.2h.8M41.8 385.2h.8M98.8 408.9h.8M39.7 384.8h.8M88.3 404.8h.8M56.4 390.5h.8M70.1 396.6h.8M70.0 379.6h.8M92.1 400.3h.8M98.0 400.5h.8M52.3 395.6h.8M88.5 408.0h.8M93.5 384.1h.8M63.6 395.6h.8M82.0 384.2h.8M71.6 408.1h.8M61.1 399.7h.8M62.0 381.0h.8M42.3 379.0h.8M57.1 386.7h.8M76.8 385.0h.8M82.2 401.9h.8M75.1 398.0h.8M96.7 405.7h.8M35.8 405.4h.8M31.9 406.2h.8M58.4 390.4h.8M61.0 407.6h.8M38.5 408.6h.8M72.3 400.5h.8M67.6 398.7h.8M90.0 394.7h.8M45.2 384.3h.8M63.6 390.0h.8M93.9 407.2h.8M53.7 398.5h.8M50.2 408.3h.8M54.9 385.8h.8M98.0 382.2h.8M90.3 403.4h.8M33.7 390.7h.8M97.4 408.5h.8M61.3 397.8h.8M84.4 384.1h.8M82.8 384.3h.8M30.9 387.0h.8M89.0 399.4h.8M32.2 383.0h.8M92.1 409.0h.8M68.7 400.0h.8M79.2 393.9h.8M89.1 383.3h.8M43.4 390.3h.8M40.2 406.0h.8M77.8 396.3h.8M92.0 380.2h.8M86.5 394.5h.8M39.2 399.1h.8M30.4 393.3h.8M85.1 408.5h.8M97.5 399.7h.8M47.8 380.0h.8M62.9 394.6h.8M94.2 378.3h.8M31.6 388.4h.8M36.1 391.4h.8M57.8 385.2h.8M79.7 388.8h.8M87.4 395.3h.8M51.2 407.5h.8M58.7 386.0h.8M31.9 400.6h.8M98.8 398.1h.8M96.7 386.8h.8M43.5 401.4h.8M85.6 387.2h.8M49.5 393.2h.8M78.3 388.3h.8M87.3 396.5h.8M94.6 389.4h.8M69.7 378.7h.8M70.7 393.0h.8M33.1 407.8h.8M91.7 393.1h.8M56.5 404.3h.8M41.1 397.1h.8M62.9 388.7h.8M39.4 402.6h.8M55.8 407.4h.8M70.3 382.7h.8M92.4 389.5h.8M45.4 380.5h.8M70.6 383.5h.8M42.0 407.7h.8M38.7 408.7h.8M67.1 393.2h.8M90.4 389.2h.8M92.5 394.9h.8M32.2 390.3h.8M92.7 407.7h.8M76.5 391.4h.8M29.7 401.5h.8M37.9 394.5h.8M62.7 399.9h.8M78.2 382.8h.8M31.0 397.2h.8M46.0 392.9h.8M55.5 386.7h.8M57.2 404.5h.8M83.2 400.8h.8M57.4 384.7h.8M55.7 405.0h.8M58.8 405.9h.8M41.9 383.5h.8M70.3 395.2h.8M91.9 405.8h.8M47.9 401.1h.8M82.1 397.3h.8M32.0 399.1h.8M33.6 405.9h.8M57.8 380.7h.8M53.2 390.5h.8M63.5 393.7h.8M87.4 403.8h.8M39.4 402.4h.8M54.4 400.4h.8M45.3 403.2h.8M71.7 398.1h.8M73.5 403.8h.8M53.5 403.3h.8M87.3 400.9h.8M50.7 405.6h.8M69.0 400.9h.8M77.1 397.0h.8M71.5 392.8h.8M94.1 401.7h.8M89.0 403.6h.8M68.2 387.8h.8M31.2 399.8h.8M58.1 404.6h.8M82.0 406.0h.8M59.0 403.5h.8M79.0 387.4h.8M84.7 392.8h.8M71.9 380.7h.8M58.6 379.3h.8M49.9 396.4h.8M91.3 406.7h.8M60.7 386.6h.8M70.6 408.8h.8M55.9 383.2h.8M60.2 399.1h.8M47.0 385.7h.8M32.9 385.3h.8M49.4 394.2h.8M87.6 384.0h.8M83.2 404.1h.8M39.4 381.7h.8M68.8 400.5h.8M57.7 397.2h.8M88.2 385.2h.8M60.1 385.6h.8M85.6 400.8h.8M43.1 393.1h.8M33.7 386.4h.8M53.7 396.4h.8M91.3 402.3h.8M38.1 381.4h.8M79.9 348.8h.8M91.0 405.4h.8M95.0 391.2h.8M86.6 349.2h.8M81.4 386.3h.8M97.9 377.0h.8M91.0 406.0h.8M99.2 367.0h.8M96.6 401.5h.8M82.5 391.2h.8M95.0 405.1h.8M98.0 350.6h.8M86.9 383.0h.8M91.9 371.2h.8M83.1 380.6h.8M81.9 343.9h.8M83.8 352.4h.8M89.8 376.9h.8M87.1 351.8h.8M88.1 398.8h.8M87.4 403.2h.8M85.7 391.8h.8M98.5 378.5h.8M94.5 407.3h.8M85.9 356.6h.8M91.8 345.6h.8M87.4 351.5h.8M82.9 373.1h.8M89.8 379.2h.8M97.6 346.8h.8M91.4 347.1h.8M85.5 386.3h.8M98.9 388.0h.8M99.0 404.3h.8M85.4 367.4h.8M96.8 407.5h.8M83.6 407.2h.8M83.3 374.7h.8M84.3 401.1h.8M92.9 399.5h.8M98.7 352.4h.8M97.2 348.3h.8M97.6 351.3h.8M85.0 408.2h.8M81.5 408.5h.8M86.6 380.4h.8M93.6 382.6h.8M81.4 382.2h.8M93.0 369.2h.8M80.2 381.2h.8M93.8 397.4h.8M86.6 357.0h.8M96.2 390.1h.8M81.1 393.6h.8M94.8 359.6h.8M82.5 386.8h.8M87.9 376.6h.8M86.5 405.9h.8M87.3 373.0h.8M97.7 408.6h.8M95.5 381.8h.8M83.7 356.3h.8M79.8 395.0h.8M88.6 388.2h.8M94.4 406.8h.8M89.8 402.2h.8M80.2 394.7h.8M81.7 400.7h.8M87.0 343.4h.8M98.9 392.2h.8M84.4 382.9h.8M83.4 359.9h.8M89.1 368.2h.8M88.1 394.6h.8M82.4 398.2h.8M87.3 377.1h.8M80.3 381.1h.8M84.2 363.6h.8M98.1 380.4h.8M80.9 371.2h.8M91.3 381.5h.8M90.7 354.0h.8M84.3 384.9h.8M94.3 404.4h.8M93.2 397.4h.8M85.2 355.9h.8M94.8 381.5h.8M94.2 397.2h.8M91.6 371.9h.8M98.0 352.3h.8M89.9 393.0h.8M83.1 346.4h.8M81.7 390.9h.8M90.7 405.5h.8M98.0 363.4h.8M96.5 379.1h.8M92.8 408.2h.8M95.9 352.6h.8M89.4 365.5h.8M84.0 389.7h.8M87.5 358.7h.8M98.6 396.8h.8M98.2 364.7h.8M82.4 357.0h.8M85.4 406.5h.8M87.6 401.8h.8M97.3 396.2h.8M84.4 403.8h.8M89.2 375.4h.8M84.2 362.1h.8M97.9 398.4h.8M84.8 395.7h.8M87.9 380.4h.8M86.6 372.4h.8M97.5 371.3h.8M82.1 375.9h.8M90.2 376.0h.8M84.7 383.8h.8M86.1 370.3h.8M99.1 379.7h.8M86.6 404.4h.8M82.4 392.5h.8M90.6 367.1h.8M87.3 354.8h.8M99.0 385.3h.8M96.3 374.8h.8M84.2 399.7h.8M89.2 364.4h.8M87.2 365.2h.8M93.8 405.9h.8M86.9 366.9h.8M95.5 400.4h.8M92.5 387.3h.8M98.4 373.1h.8M98.8 356.4h.8M90.2 387.8h.8M84.9 391.3h.8M81.7 343.8h.8M95.9 365.6h.8M82.4 346.6h.8M89.8 368.0h.8M83.9 348.8h.8M80.4 381.8h.8M88.1 346.6h.8M90.7 372.6h.8M88.2 365.1h.8M80.1 351.7h.8M97.5 378.3h.8M88.5 374.7h.8M90.9 356.1h.8M94.9 385.8h.8M83.9 347.4h.8M82.8 359.4h.8M90.1 392.0h.8M84.6 399.5h.8M91.1 373.1h.8M81.5 372.8h.8M82.0 346.4h.8M96.5 393.2h.8M92.5 380.7h.8M82.3 367.7h.8M98.5 362.5h.8M98.2 368.6h.8M94.9 400.9h.8M81.1 399.6h.8M94.6 350.0h.8M83.2 379.2h.8M96.6 364.1h.8M87.6 346.9h.8M94.9 405.3h.8M91.3 374.6h.8M91.3 372.2h.8M95.3 357.7h.8M81.7 349.6h.8M89.1 358.0h.8M83.9 384.7h.8M88.2 343.4h.8M98.2 361.8h.8M85.8 381.4h.8M83.9 355.9h.8M92.0 358.9h.8M87.7 407.5h.8M86.6 390.5h.8M87.2 387.9h.8M86.4 352.1h.8M80.4 386.6h.8M90.6 389.2h.8M92.6 359.9h.8M86.7 363.2h.8M85.6 380.5h.8M95.6 401.8h.8M90.3 376.0h.8M94.7 393.9h.8M92.6 373.0h.8M96.8 351.2h.8M95.7 373.2h.8M85.2 354.8h.8M87.8 387.9h.8M86.3 350.3h.8M82.4 352.1h.8M93.0 358.4h.8M92.2 353.4h.8M80.4 375.0h.8M93.6 389.5h.8M97.6 400.9h.8M88.1 398.1h.8M92.4 356.4h.8M82.9 350.9h.8M88.6 351.7h.8M90.6 360.3h.8M85.8 382.0h.8M87.3 348.1h.8M84.6 359.3h.8M93.2 347.4h.8M96.4 371.2h.8M80.1 346.0h.8M96.8 365.2h.8M86.3 406.5h.8M91.5 347.6h.8M83.7 399.6h.8M85.3 351.0h.8M96.4 346.7h.8M92.8 370.3h.8M90.8 374.0h.8M89.0 351.5h.8M82.3 354.8h.8M89.0 357.3h.8M97.0 395.9h.8M80.8 354.4h.8M80.0 371.0h.8M82.5 382.3h.8M92.7 352.2h.8M94.5 382.7h.8M96.6 366.8h.8M95.5 368.2h.8M80.1 351.9h.8M89.5 373.7h.8M94.5 346.1h.8M88.6 374.6h.8M90.7 384.4h.8M81.9 353.9h.8M83.6 402.0h.8M80.4 359.8h.8M89.0 362.7h.8M91.2 364.0h.8M95.6 408.6h.8M85.1 391.6h.8M87.3 404.7h.8M97.4 388.0h.8M92.0 403.2h.8M91.4 365.9h.8M80.4 402.7h.8M88.1 359.3h.8M82.5 375.7h.8M80.0 373.9h.8M98.3 398.0h.8M89.7 380.3h.8M81.4 401.0h.8M92.0 384.1h.8M91.3 391.9h.8M42.1 369.4h.8M57.8 345.9h.8M64.4 365.3h.8M33.5 344.0h.8M66.7 362.4h.8M57.8 354.4h.8M66.1 353.3h.8M31.1 361.2h.8M29.4 348.4h.8M58.4 371.5h.8M46.8 349.8h.8M42.6 357.9h.8M30.3 358.0h.8M29.9 345.3h.8M63.6 360.5h.8M67.5 368.5h.8M67.9 354.3h.8M46.0 344.9h.8M63.0 351.2h.8M39.3 372.6h.8M62.7 358.3h.8M51.8 363.4h.8" stroke="#000" stroke-opacity="0.24" stroke-width="0.8" fill="none" filter="url(#bd)"/>
<path d="M37.1 395.1h.8M53.8 399.1h.8M36.3 397.1h.8M49.9 391.8h.8M37.2 402.7h.8M51.6 394.7h.8M57.8 392.3h.8M45.5 398.1h.8M65.6 398.1h.8M40.4 402.0h.8M47.0 396.2h.8M43.7 397.1h.8M48.3 393.7h.8M54.5 395.9h.8M32.9 393.6h.8M35.6 397.6h.8M35.2 396.8h.8M40.5 395.8h.8M71.0 397.0h.8M52.6 402.8h.8M44.1 393.8h.8M45.6 395.1h.8M47.1 401.4h.8M50.5 400.5h.8M60.3 399.1h.8M51.4 396.8h.8M53.4 399.5h.8M53.8 397.4h.8M55.8 394.0h.8M47.4 400.4h.8M52.0 394.7h.8M58.6 398.5h.8M50.5 394.5h.8M48.4 395.9h.8M47.7 399.5h.8M38.7 398.6h.8M50.7 389.9h.8M53.6 392.0h.8M52.1 393.6h.8M47.7 393.3h.8M59.6 398.3h.8M41.1 387.9h.8M48.1 392.4h.8M52.8 402.0h.8M64.5 388.7h.8M47.6 393.4h.8M47.2 400.8h.8M45.5 395.1h.8M54.7 393.6h.8M46.7 390.7h.8M40.6 393.2h.8M54.6 398.1h.8M32.9 400.9h.8M48.1 394.4h.8M57.9 401.4h.8M46.3 393.9h.8M45.1 407.6h.8M52.3 386.3h.8M53.8 401.0h.8M43.2 395.8h.8M65.0 394.0h.8M47.1 389.7h.8M45.7 388.4h.8M41.2 399.0h.8M51.7 390.3h.8M51.2 395.4h.8M32.6 400.1h.8M41.7 399.2h.8M50.7 398.3h.8M52.2 396.4h.8M43.8 396.3h.8M49.5 392.9h.8M42.7 397.9h.8M36.1 389.5h.8M57.2 397.6h.8M42.7 402.4h.8M47.6 395.9h.8M62.6 395.7h.8M40.5 407.9h.8M56.9 396.0h.8M34.2 396.0h.8M34.2 381.0h.8M54.7 394.2h.8M45.0 406.5h.8M45.3 403.9h.8M50.8 406.5h.8M39.5 391.3h.8M58.6 402.2h.8M34.8 392.8h.8M52.7 401.3h.8M41.1 400.0h.8M37.4 399.9h.8M55.7 393.7h.8M61.7 397.2h.8M45.3 401.3h.8M45.4 402.8h.8M33.0 393.6h.8M57.1 393.0h.8M56.3 395.7h.8M40.9 396.4h.8M43.5 401.9h.8M33.6 403.5h.8M46.3 396.1h.8M42.7 390.3h.8M47.6 394.2h.8M55.4 400.5h.8M31.5 393.4h.8M41.1 390.9h.8M48.8 392.2h.8M52.0 406.3h.8M51.7 399.9h.8M40.6 398.8h.8M52.1 392.8h.8M53.9 404.4h.8M41.9 407.6h.8M45.5 394.1h.8M40.6 395.7h.8M48.0 392.2h.8M40.1 400.6h.8M40.6 388.9h.8M54.5 397.4h.8M48.0 396.3h.8M47.8 397.8h.8M43.8 402.5h.8M41.5 389.3h.8M50.3 396.5h.8M44.7 396.5h.8M48.9 399.7h.8M47.8 395.7h.8M40.7 400.4h.8M38.8 401.6h.8M53.0 407.5h.8M44.3 399.6h.8M41.6 396.4h.8M54.7 396.5h.8M45.2 399.6h.8M45.3 392.7h.8M43.3 402.0h.8M36.8 401.8h.8M35.9 391.8h.8M49.0 397.9h.8M57.2 399.8h.8M51.9 393.2h.8M34.7 403.9h.8M39.3 392.7h.8M56.0 402.4h.8M54.2 398.6h.8M43.3 399.3h.8M43.9 405.1h.8M38.8 402.4h.8M50.0 387.3h.8M66.8 398.3h.8M33.4 398.7h.8M39.3 387.8h.8M50.6 400.1h.8M53.3 394.4h.8M34.1 399.2h.8M44.5 396.7h.8M47.3 398.4h.8M47.7 399.5h.8M39.6 389.9h.8M49.0 394.8h.8M34.3 397.6h.8M52.4 402.7h.8M54.5 398.6h.8M49.3 397.4h.8M47.9 391.3h.8M43.3 389.7h.8M40.4 401.0h.8M51.6 401.7h.8M43.5 392.7h.8M55.4 404.9h.8M50.1 388.3h.8M55.3 397.9h.8M41.8 398.2h.8M37.7 398.0h.8M44.9 397.5h.8M55.2 397.9h.8M35.4 392.0h.8M38.3 398.8h.8M45.3 398.4h.8M38.8 397.9h.8M62.7 399.6h.8M45.3 391.7h.8M51.9 393.3h.8M52.8 405.8h.8M39.8 396.2h.8M50.0 390.9h.8M49.8 397.9h.8M46.6 397.8h.8M48.1 393.8h.8M43.7 400.5h.8M39.9 391.8h.8M55.9 392.3h.8M52.7 393.0h.8M46.3 393.8h.8M38.4 397.7h.8M40.8 393.5h.8M41.9 397.3h.8M49.3 390.7h.8M40.4 401.1h.8M52.4 401.8h.8M49.7 399.4h.8M45.5 405.1h.8M51.6 399.1h.8M39.6 387.4h.8M51.6 380.9h.8M49.4 398.4h.8M47.1 389.5h.8M46.1 394.8h.8M50.2 400.9h.8M47.3 399.1h.8M37.0 392.9h.8M51.3 396.5h.8M39.5 405.9h.8M49.9 397.3h.8M33.7 397.1h.8M34.9 396.9h.8M47.4 395.2h.8M47.9 396.0h.8M37.7 398.6h.8M42.5 397.9h.8M48.3 394.0h.8M58.6 408.5h.8M49.3 397.7h.8M63.4 392.6h.8M33.9 395.0h.8M42.4 392.3h.8M38.4 397.3h.8M45.3 397.3h.8M41.9 405.2h.8M49.7 392.3h.8M45.8 401.4h.8M47.8 394.2h.8M45.0 396.9h.8M56.9 401.9h.8M42.1 405.5h.8M41.0 400.2h.8M39.1 400.0h.8M59.8 397.7h.8M45.4 386.8h.8M45.8 404.7h.8M49.3 401.1h.8M58.6 402.5h.8M41.9 404.1h.8M47.0 401.4h.8M45.8 398.5h.8M41.7 392.5h.8M53.3 396.5h.8M39.5 401.7h.8M48.3 386.0h.8M42.9 400.4h.8M41.1 401.8h.8M39.0 397.7h.8M57.0 396.8h.8M42.5 404.1h.8M47.9 396.9h.8M37.1 401.7h.8M46.0 392.2h.8M51.0 395.9h.8M43.9 395.4h.8M46.2 386.9h.8M37.8 398.5h.8M55.8 398.0h.8M57.0 397.0h.8M47.4 398.5h.8M35.9 401.2h.8M62.9 393.9h.8M50.8 392.5h.8M50.6 392.2h.8M44.3 397.8h.8M53.7 398.4h.8M36.3 397.8h.8M42.2 394.0h.8M40.9 401.6h.8M43.8 389.8h.8M45.9 396.1h.8M46.4 395.5h.8M53.3 390.5h.8M34.0 390.6h.8M46.3 398.3h.8M64.3 397.6h.8M60.9 392.4h.8M38.6 394.6h.8M51.8 397.4h.8M44.9 401.8h.8M60.0 397.9h.8M43.3 398.2h.8M40.4 400.3h.8M47.0 395.4h.8M42.5 397.2h.8M35.9 394.4h.8M40.7 395.8h.8M39.5 399.2h.8M47.9 402.3h.8M64.8 397.0h.8M45.7 400.1h.8M58.2 390.5h.8M48.5 403.0h.8M42.5 394.0h.8M42.5 402.2h.8M37.4 400.3h.8M46.4 399.8h.8M46.4 384.1h.8M59.6 401.5h.8M48.9 396.4h.8M45.3 392.1h.8M43.8 398.3h.8M43.5 397.3h.8M55.9 393.3h.8M36.2 398.8h.8M40.3 393.1h.8M48.0 392.8h.8M45.8 405.5h.8M49.7 395.8h.8M50.1 402.7h.8M46.9 399.9h.8M41.1 395.2h.8M48.9 400.9h.8M33.5 408.1h.8M42.0 391.7h.8M45.9 407.0h.8M39.8 394.9h.8M58.8 391.5h.8M49.0 395.9h.8M38.4 398.9h.8M43.8 400.3h.8M46.8 398.6h.8M48.8 390.3h.8M51.9 394.9h.8M44.5 403.7h.8M45.4 394.3h.8M38.7 391.1h.8M43.8 395.1h.8M43.8 402.5h.8M61.8 402.1h.8M53.2 399.3h.8M48.4 400.5h.8M43.2 392.6h.8M60.9 400.7h.8M46.4 392.5h.8M41.6 393.6h.8M40.4 394.1h.8M49.6 391.3h.8M49.0 402.2h.8M51.3 401.8h.8M51.9 390.0h.8M50.8 399.3h.8M55.2 396.1h.8M37.0 398.4h.8M56.9 398.2h.8M47.2 398.4h.8M33.7 399.1h.8M49.0 395.9h.8M45.0 406.5h.8M55.5 393.5h.8M54.0 390.9h.8M43.0 399.6h.8M48.6 389.2h.8M33.7 397.9h.8M40.9 394.3h.8M57.3 398.2h.8M37.0 396.6h.8M44.2 403.8h.8M52.9 399.2h.8M51.4 402.8h.8M54.5 403.4h.8M54.2 405.0h.8M56.6 398.5h.8M34.6 397.9h.8M48.8 401.3h.8M42.6 395.6h.8M43.1 394.9h.8M48.5 392.2h.8M41.1 385.2h.8M52.3 395.4h.8M54.4 392.5h.8M47.1 399.6h.8M54.0 394.9h.8M32.1 401.8h.8M49.8 396.3h.8M48.4 393.9h.8M47.4 389.6h.8M41.9 398.6h.8M48.7 393.4h.8M52.2 390.1h.8M42.7 391.5h.8M49.8 401.5h.8M45.3 387.3h.8M52.2 398.9h.8M41.0 396.5h.8M63.6 393.4h.8M48.6 401.1h.8M37.4 397.8h.8M42.8 383.2h.8M43.3 399.6h.8M54.8 396.5h.8M37.0 391.0h.8M44.0 402.8h.8M48.7 394.6h.8M43.8 393.6h.8M52.4 400.8h.8M30.9 407.7h.8M45.3 391.2h.8M53.8 390.5h.8M60.2 396.7h.8M54.2 403.8h.8M51.5 395.0h.8M45.6 398.8h.8M37.9 396.2h.8M55.9 398.5h.8M50.3 399.8h.8M48.2 401.4h.8M49.1 397.8h.8M48.7 399.6h.8M37.5 398.3h.8M54.1 389.6h.8M43.9 393.2h.8M52.0 395.0h.8M34.7 395.3h.8M39.0 391.5h.8M52.2 394.0h.8M51.5 402.6h.8M53.6 396.5h.8M44.9 400.1h.8M38.7 398.8h.8M69.4 395.9h.8M47.9 399.8h.8M41.7 399.3h.8M39.6 392.8h.8M44.3 392.9h.8M37.6 392.6h.8M46.1 393.8h.8M45.5 400.8h.8M55.4 398.8h.8M45.2 400.8h.8M47.8 398.6h.8M48.4 395.2h.8M41.1 403.2h.8M49.5 392.6h.8M51.5 402.0h.8M50.8 395.1h.8M48.4 394.9h.8M43.9 395.8h.8M53.2 399.1h.8M35.5 397.3h.8M47.8 405.2h.8M41.2 394.1h.8M45.2 396.4h.8M36.9 392.7h.8M59.4 397.7h.8M40.8 402.1h.8M53.0 396.3h.8M40.3 391.3h.8M52.0 394.1h.8M33.1 397.3h.8M51.0 402.4h.8M53.3 390.3h.8M54.0 400.1h.8M41.0 392.5h.8M53.7 391.2h.8M55.3 397.3h.8M43.2 405.2h.8M52.2 386.5h.8M42.8 399.0h.8M51.2 395.1h.8M36.0 400.1h.8M38.1 387.6h.8M40.9 392.9h.8M60.7 388.2h.8M57.0 389.4h.8M37.0 398.4h.8M40.8 398.1h.8M65.9 404.4h.8M50.5 402.4h.8M56.3 390.9h.8M42.5 387.4h.8M46.9 390.9h.8M48.6 399.4h.8M43.4 397.3h.8M50.9 396.2h.8M64.0 397.7h.8M42.8 400.1h.8M40.5 403.4h.8M38.9 392.7h.8M46.7 397.6h.8M48.9 392.0h.8M50.9 393.3h.8M42.1 398.0h.8M40.5 397.3h.8M40.2 398.5h.8M45.0 397.8h.8M44.3 399.0h.8M56.1 398.4h.8M38.7 395.9h.8M38.1 401.7h.8M46.9 404.4h.8M54.1 404.4h.8M39.6 394.2h.8M31.4 400.8h.8M37.3 397.7h.8M31.5 392.7h.8M45.2 395.4h.8M43.8 406.4h.8M45.2 402.9h.8M46.4 400.7h.8M43.9 397.8h.8M52.1 393.3h.8M38.8 396.9h.8M57.2 394.6h.8M40.8 397.4h.8M43.7 392.5h.8M46.5 395.1h.8M62.9 403.1h.8M38.7 404.7h.8M34.4 392.9h.8M48.5 389.4h.8M31.5 400.8h.8M57.1 392.1h.8M52.9 392.9h.8M46.5 396.9h.8M46.5 393.0h.8M45.1 395.4h.8M57.2 401.9h.8M40.7 394.2h.8M44.3 397.5h.8M62.0 394.9h.8M43.2 391.8h.8M65.2 401.9h.8M41.3 396.3h.8M41.5 386.9h.8M50.2 398.6h.8M50.0 400.4h.8M41.8 396.3h.8M64.2 407.0h.8M49.4 390.7h.8M51.8 388.1h.8M49.7 396.1h.8M45.3 400.7h.8M58.6 402.2h.8M45.4 399.2h.8M40.4 406.9h.8M43.4 396.2h.8M47.4 393.0h.8M45.1 399.7h.8M48.6 393.8h.8M39.5 403.7h.8M38.6 392.0h.8M53.8 400.8h.8M47.1 393.0h.8M56.3 399.8h.8M44.5 390.4h.8M64.4 389.9h.8M37.7 394.8h.8M44.1 397.1h.8M41.3 399.0h.8M46.2 388.6h.8M51.5 394.9h.8M46.5 400.2h.8M44.6 391.2h.8M52.5 387.9h.8M48.2 396.9h.8M34.2 395.0h.8M33.4 389.9h.8M41.6 396.8h.8M36.2 399.1h.8M39.3 391.7h.8M48.2 402.2h.8M31.8 397.1h.8M42.6 401.9h.8M50.7 397.7h.8M47.1 399.5h.8M42.0 398.9h.8M34.3 394.0h.8M49.3 404.6h.8M47.1 391.6h.8M48.1 390.9h.8M44.3 396.8h.8M36.5 400.9h.8M32.6 400.9h.8M48.1 394.5h.8M55.0 396.2h.8M38.9 394.9h.8M45.2 388.7h.8M61.0 392.5h.8M37.8 399.2h.8M47.7 400.0h.8M50.2 393.7h.8M52.6 395.8h.8M39.7 400.6h.8M45.4 390.8h.8M58.1 392.4h.8M49.0 393.7h.8M52.5 390.9h.8M52.7 403.8h.8M53.4 395.1h.8M42.8 394.4h.8M48.5 397.1h.8M33.6 396.3h.8M50.5 397.0h.8M34.4 394.7h.8M51.7 396.0h.8M49.5 398.4h.8M41.4 394.4h.8M43.6 396.0h.8M70.7 393.6h.8M47.3 404.2h.8M47.0 393.4h.8M41.0 397.9h.8M29.4 394.3h.8M41.8 393.7h.8M56.5 397.5h.8M53.7 395.7h.8M44.8 398.1h.8M39.9 391.0h.8M52.9 401.4h.8M52.6 400.1h.8M35.0 391.4h.8M36.7 391.4h.8M47.8 392.7h.8M50.1 391.6h.8M48.9 394.2h.8M48.2 391.8h.8M43.4 392.2h.8M57.6 397.1h.8M49.6 399.1h.8M44.1 395.6h.8M43.7 400.8h.8M46.1 395.9h.8M48.7 393.6h.8M33.0 390.4h.8M45.0 400.3h.8M43.5 394.8h.8M52.8 398.5h.8M47.5 404.1h.8M47.6 397.3h.8M43.1 392.8h.8M59.7 392.1h.8M40.4 389.9h.8M43.8 397.0h.8M41.9 394.7h.8M50.4 396.2h.8M44.7 397.5h.8M43.3 392.4h.8M42.4 397.5h.8M44.7 400.2h.8M44.6 403.5h.8M49.3 394.4h.8M44.0 389.8h.8M40.2 394.3h.8M49.9 399.2h.8M44.5 392.8h.8M46.8 395.5h.8M56.7 395.8h.8M33.8 400.1h.8M52.5 397.4h.8M38.2 405.8h.8M48.7 390.0h.8M36.9 406.6h.8M50.0 399.3h.8M44.1 398.3h.8M39.6 394.8h.8M53.1 395.2h.8M42.1 392.1h.8M45.5 394.2h.8M39.3 393.8h.8M51.8 391.0h.8M46.5 394.8h.8M42.0 392.8h.8M52.1 391.9h.8M43.4 402.3h.8M45.8 397.7h.8M40.8 394.1h.8M53.3 395.0h.8M54.6 395.0h.8M39.1 399.4h.8M43.7 393.7h.8M53.1 396.2h.8M53.8 400.5h.8M45.5 390.1h.8M49.6 392.1h.8M32.3 404.3h.8M39.9 392.3h.8M58.3 399.6h.8M39.0 401.4h.8M39.7 394.3h.8M44.0 388.4h.8M51.6 399.9h.8M48.1 397.5h.8M52.2 392.7h.8M43.7 392.8h.8M50.5 397.2h.8M48.2 393.8h.8M44.0 399.8h.8M55.7 396.8h.8M41.9 394.7h.8M35.4 396.5h.8M36.3 398.7h.8M33.2 400.0h.8M52.9 397.6h.8M37.4 389.0h.8M41.7 390.2h.8M42.5 403.3h.8M59.9 398.7h.8M51.9 391.5h.8M36.7 396.5h.8M42.1 394.1h.8M46.2 402.4h.8M46.8 393.4h.8M44.2 394.3h.8M42.4 397.0h.8M48.9 396.1h.8M55.7 392.6h.8M52.5 393.6h.8M47.5 402.0h.8M54.1 389.0h.8M48.0 397.9h.8M46.1 391.4h.8M48.4 401.2h.8M45.1 400.2h.8M44.9 400.8h.8M39.9 390.2h.8M54.0 403.9h.8M39.2 398.8h.8M43.5 402.9h.8M52.9 403.9h.8M51.4 393.7h.8M43.7 399.7h.8M46.8 396.1h.8M31.0 402.3h.8M50.2 397.3h.8M43.3 401.2h.8M41.2 400.2h.8M66.8 402.3h.8M57.6 394.6h.8M47.9 395.9h.8M43.6 389.6h.8M50.1 396.9h.8M45.5 395.9h.8M38.0 398.2h.8M41.8 394.0h.8M50.8 405.1h.8M44.7 392.4h.8M36.9 402.0h.8M53.7 397.4h.8M43.0 402.2h.8M47.6 399.2h.8M47.9 394.9h.8M51.5 398.2h.8M42.5 396.6h.8M45.6 396.0h.8M42.5 397.8h.8M42.1 399.4h.8M47.5 391.7h.8M42.4 394.2h.8M48.9 396.3h.8M51.3 399.3h.8M50.5 395.4h.8M50.7 388.1h.8M38.6 396.3h.8M48.9 401.1h.8M55.2 394.8h.8M40.5 402.1h.8M43.3 386.2h.8M62.2 407.8h.8M33.0 393.8h.8M45.6 399.6h.8M50.8 396.4h.8M48.5 395.6h.8M38.4 390.9h.8M43.0 391.7h.8M51.4 396.6h.8M47.4 397.0h.8M32.8 398.2h.8M49.5 404.0h.8M35.4 392.0h.8M52.3 403.7h.8M49.7 397.0h.8M53.5 398.2h.8M44.7 400.1h.8M47.7 397.3h.8M41.5 398.3h.8M40.8 394.0h.8M38.7 403.7h.8M39.2 391.9h.8M42.6 393.9h.8M51.8 399.1h.8M51.9 394.5h.8M46.0 399.9h.8M45.9 402.5h.8M44.3 399.4h.8M49.6 395.3h.8M41.6 392.9h.8M55.1 396.5h.8M40.9 394.5h.8M50.6 387.8h.8M40.9 389.9h.8M63.5 388.3h.8M47.7 392.2h.8M45.0 399.5h.8M44.6 390.1h.8M52.6 398.1h.8M49.2 392.9h.8M50.5 397.0h.8M41.5 400.1h.8M43.1 399.3h.8M34.6 403.2h.8M52.8 401.8h.8M36.6 397.0h.8M57.1 391.1h.8M43.3 401.5h.8M42.3 400.9h.8M42.2 394.6h.8M38.4 400.3h.8M44.4 396.9h.8M40.6 400.4h.8M37.9 400.2h.8M50.2 397.9h.8M45.8 400.7h.8M34.0 391.5h.8M62.2 387.0h.8M40.8 396.6h.8M52.1 402.4h.8M59.3 400.1h.8M48.9 402.0h.8M49.0 396.9h.8M54.4 402.0h.8M46.2 388.6h.8M37.4 395.2h.8M49.6 399.1h.8M44.3 390.4h.8M54.8 394.2h.8M48.3 401.9h.8M47.0 388.7h.8M54.2 403.0h.8M30.8 399.8h.8M47.5 399.3h.8M44.0 395.3h.8M53.0 395.9h.8M55.7 403.3h.8M49.8 394.9h.8M35.1 391.1h.8M34.3 403.4h.8M66.3 390.9h.8M49.1 390.6h.8M54.9 401.9h.8M49.9 390.4h.8M45.1 396.5h.8M42.8 393.5h.8M42.1 399.5h.8M37.1 401.0h.8M47.9 394.7h.8M43.4 401.6h.8M48.9 395.2h.8M55.9 399.1h.8M43.2 394.5h.8M57.8 397.0h.8M45.7 401.1h.8M43.5 392.5h.8M52.7 391.7h.8M33.9 393.0h.8M39.3 394.1h.8M39.6 391.0h.8M47.2 390.9h.8M43.0 387.8h.8M42.9 388.1h.8M42.6 401.3h.8M53.1 398.6h.8M45.9 403.0h.8M43.7 396.3h.8M41.0 395.0h.8M43.2 390.1h.8M43.7 399.8h.8M42.9 395.5h.8M50.8 398.9h.8M40.3 394.8h.8M52.6 404.8h.8M38.4 399.9h.8M59.2 391.2h.8M52.3 394.5h.8M37.8 391.6h.8M42.9 400.5h.8M61.0 403.5h.8M56.8 395.9h.8M39.3 396.0h.8M39.9 395.9h.8M41.4 402.3h.8M66.5 399.1h.8M53.8 397.0h.8M51.4 402.6h.8M53.9 394.8h.8M37.4 393.0h.8M50.8 383.3h.8M48.1 392.6h.8M51.0 393.3h.8M46.1 398.7h.8M51.7 391.1h.8M37.5 402.0h.8M46.0 388.5h.8M44.7 404.6h.8M52.5 393.3h.8M61.1 395.9h.8M61.3 400.1h.8M53.2 396.2h.8M37.3 398.1h.8M56.4 391.7h.8M43.5 391.7h.8M53.2 392.7h.8M48.5 395.4h.8M40.1 397.1h.8M47.3 400.2h.8M44.1 396.0h.8M48.0 391.9h.8M38.5 398.6h.8M48.4 398.5h.8M48.9 398.9h.8M55.3 397.8h.8M37.7 393.3h.8M59.0 405.6h.8M45.4 396.5h.8M54.2 389.9h.8M45.1 404.0h.8M51.4 392.2h.8M49.9 396.4h.8M40.2 385.6h.8M37.2 403.7h.8M53.7 395.5h.8M51.4 395.1h.8M59.1 390.2h.8M42.2 392.2h.8M37.4 404.6h.8M55.5 398.8h.8M30.1 396.9h.8M41.3 394.5h.8M45.9 400.3h.8M40.9 393.3h.8M39.3 396.2h.8M38.9 394.7h.8M59.9 394.2h.8M54.8 394.7h.8M39.1 398.2h.8M46.9 394.8h.8M41.8 394.0h.8M40.9 396.5h.8M46.3 402.1h.8M53.9 396.6h.8M47.2 396.9h.8M30.4 403.2h.8M39.6 392.2h.8M42.0 394.0h.8M38.6 400.7h.8M42.8 391.9h.8M33.8 397.6h.8M49.4 396.2h.8M46.2 393.2h.8M48.5 401.4h.8M51.1 400.4h.8M43.8 390.1h.8M64.8 390.1h.8M49.6 400.3h.8M40.6 389.2h.8M48.9 403.1h.8M58.2 394.1h.8M56.3 394.9h.8M30.0 400.2h.8M45.3 397.6h.8M57.8 399.9h.8M45.6 397.0h.8M45.7 401.5h.8M37.1 408.6h.8M48.9 397.7h.8M47.9 401.6h.8M46.4 401.2h.8M38.7 395.2h.8M51.1 394.1h.8M46.0 398.6h.8M56.9 391.1h.8M41.5 401.8h.8M49.1 395.3h.8M39.4 386.3h.8M30.5 400.6h.8M48.2 392.2h.8M32.3 398.8h.8M57.2 390.3h.8M44.4 396.6h.8M39.7 395.0h.8M38.4 406.1h.8M34.8 396.5h.8M36.4 391.7h.8M56.0 392.2h.8M51.3 391.6h.8M48.3 392.8h.8M49.9 393.2h.8M38.7 399.8h.8M38.8 393.0h.8M50.2 400.4h.8M38.9 399.4h.8M52.9 397.3h.8M44.5 399.9h.8M45.4 389.5h.8M41.1 398.4h.8M59.2 393.5h.8M37.7 391.8h.8M36.8 394.2h.8M53.3 399.5h.8M40.9 396.5h.8M46.4 398.9h.8M41.2 388.6h.8M57.6 395.3h.8M37.7 399.2h.8M44.2 394.6h.8M58.4 399.2h.8M47.5 398.7h.8M47.4 399.9h.8M49.2 391.5h.8M43.4 398.3h.8M47.2 402.8h.8M60.0 402.9h.8M43.6 400.8h.8M57.7 399.0h.8M42.5 388.1h.8M45.4 400.3h.8M46.3 395.9h.8M40.7 397.6h.8M44.8 393.5h.8M52.1 393.0h.8M45.4 393.1h.8M44.8 391.5h.8M49.4 398.7h.8M55.7 403.7h.8M39.0 400.4h.8M45.4 402.4h.8M37.3 405.4h.8M47.2 400.3h.8M62.9 393.2h.8M37.7 390.7h.8M47.1 391.9h.8M38.0 391.5h.8M54.6 398.7h.8M39.9 398.5h.8M48.3 385.8h.8M60.0 389.9h.8M44.7 398.3h.8M49.1 398.0h.8M42.8 397.7h.8M52.7 397.1h.8M48.1 398.0h.8M44.9 398.3h.8M55.9 395.7h.8M57.6 397.6h.8M54.4 403.1h.8M43.3 397.1h.8M41.6 397.3h.8M39.4 397.5h.8M41.3 396.8h.8M44.1 401.3h.8M43.3 396.7h.8M36.8 396.3h.8M55.8 397.8h.8M50.5 393.9h.8M40.3 390.7h.8M65.3 401.5h.8M62.5 400.0h.8M57.3 405.1h.8M54.9 396.1h.8M36.7 400.5h.8M38.4 400.9h.8M49.2 397.6h.8M49.9 396.4h.8M59.1 405.2h.8M48.2 396.6h.8M51.8 402.9h.8M36.5 397.6h.8M46.9 405.1h.8M49.1 396.8h.8M51.9 408.7h.8M50.1 400.8h.8M42.8 393.2h.8M59.1 396.1h.8M45.5 390.8h.8M39.6 397.5h.8M42.5 401.3h.8M47.8 387.5h.8M48.2 394.5h.8M46.1 391.6h.8M47.7 400.8h.8M47.1 390.2h.8M45.7 391.3h.8M45.8 387.5h.8M48.5 393.8h.8M44.2 393.0h.8M44.6 403.5h.8M48.6 402.3h.8M57.5 393.2h.8M46.5 393.6h.8M41.5 393.7h.8M65.7 404.2h.8M43.2 395.2h.8M49.5 404.5h.8M39.3 390.0h.8M41.8 394.2h.8M36.0 400.9h.8M32.6 395.5h.8M55.1 396.3h.8M44.3 395.7h.8M49.9 398.1h.8M50.5 387.9h.8M63.1 399.4h.8M36.8 388.0h.8M53.8 391.2h.8M50.9 397.8h.8M53.7 391.7h.8M55.2 401.7h.8M54.1 398.4h.8M43.7 395.2h.8M43.7 386.2h.8M50.6 395.5h.8M44.9 395.6h.8M44.6 394.1h.8M52.9 392.9h.8M36.9 398.3h.8M47.0 402.4h.8M49.2 397.4h.8M46.8 395.0h.8M41.7 389.7h.8M54.2 399.3h.8M49.9 393.4h.8M40.6 398.4h.8M51.6 408.6h.8M36.4 395.3h.8M51.1 401.0h.8M52.8 386.6h.8M47.9 397.0h.8M46.9 401.4h.8M50.5 395.9h.8M52.0 390.2h.8M46.6 395.9h.8M48.8 388.8h.8M35.4 396.8h.8M41.6 396.2h.8M52.7 396.4h.8M51.9 395.9h.8M41.0 399.8h.8M36.0 395.7h.8M43.4 392.9h.8M53.7 400.8h.8M38.2 394.0h.8M39.8 395.8h.8M51.0 398.5h.8M59.8 400.3h.8M49.6 398.6h.8M45.2 394.1h.8M45.4 400.1h.8M42.5 398.1h.8M52.1 398.0h.8M55.7 392.9h.8M40.8 392.0h.8M29.3 396.6h.8M39.0 397.2h.8M55.1 396.8h.8M45.1 390.9h.8M40.6 400.5h.8M53.7 394.0h.8M35.6 396.1h.8M52.3 397.5h.8M43.3 396.1h.8M48.0 400.0h.8M52.7 404.0h.8M45.8 387.0h.8M38.4 396.9h.8M37.7 396.5h.8M42.7 388.4h.8M39.4 396.9h.8M48.0 393.8h.8M53.1 403.9h.8M62.9 398.2h.8M41.0 404.3h.8M43.0 404.8h.8M47.8 399.5h.8M48.8 400.4h.8M46.9 386.6h.8M55.2 396.0h.8M39.0 390.1h.8M33.6 403.2h.8M56.1 399.5h.8M56.5 394.2h.8M62.7 388.6h.8M50.8 399.6h.8M50.8 390.4h.8M43.5 398.5h.8M45.9 398.4h.8M54.9 402.6h.8M49.7 405.8h.8M30.0 401.4h.8M40.7 400.9h.8M41.1 394.0h.8M50.7 396.4h.8M47.8 400.0h.8M38.9 403.3h.8M43.2 402.0h.8M43.9 393.5h.8M50.4 390.8h.8M39.3 406.8h.8M38.0 387.7h.8M51.6 398.8h.8M56.2 398.7h.8M58.9 398.6h.8M43.3 393.6h.8M37.7 397.6h.8M60.9 394.8h.8M38.0 397.9h.8M46.1 400.3h.8M49.4 391.1h.8M46.7 392.8h.8M48.5 396.2h.8M40.7 392.4h.8M56.5 398.9h.8M39.7 394.4h.8M47.1 391.7h.8M50.0 397.4h.8M35.9 394.0h.8M47.0 402.6h.8M35.1 405.1h.8M51.0 398.8h.8M41.5 397.3h.8M46.6 398.4h.8M51.9 392.2h.8M44.6 389.6h.8M45.3 400.8h.8M47.4 403.3h.8M44.0 401.6h.8M43.0 395.9h.8M48.2 397.8h.8M51.7 395.3h.8M43.5 401.4h.8M51.8 393.4h.8M35.2 400.1h.8M37.4 393.0h.8M42.0 402.5h.8M57.6 394.8h.8M48.0 395.7h.8M44.9 396.7h.8M53.0 394.8h.8M42.8 396.4h.8M60.3 399.4h.8M36.3 396.3h.8M37.7 384.9h.8M50.9 394.2h.8M49.0 387.9h.8M38.6 397.1h.8M33.7 391.2h.8M45.7 388.8h.8M44.2 401.6h.8M40.9 393.2h.8M40.0 395.7h.8M40.8 400.1h.8M42.0 389.4h.8M38.1 395.4h.8M52.3 400.2h.8M34.9 390.0h.8M59.3 398.0h.8M37.2 392.9h.8M45.9 400.6h.8M43.3 407.8h.8M40.1 402.4h.8M36.3 394.2h.8M48.2 389.1h.8M39.9 390.8h.8M54.0 396.3h.8M46.9 400.3h.8M42.3 398.9h.8M51.7 387.3h.8M55.5 394.6h.8M52.5 404.6h.8M38.5 393.0h.8M43.3 404.3h.8M46.1 402.8h.8M46.2 389.7h.8M37.6 399.0h.8M50.3 397.0h.8M47.6 400.8h.8M43.6 407.8h.8M44.8 391.0h.8M37.7 397.8h.8M51.5 391.3h.8M55.0 401.0h.8M43.0 388.8h.8M42.6 395.6h.8M39.7 399.9h.8M29.5 401.6h.8M38.7 390.7h.8M51.9 395.1h.8M42.2 403.3h.8M49.8 400.7h.8M45.2 392.6h.8M44.7 397.0h.8M38.6 392.1h.8M50.1 393.7h.8M58.5 404.4h.8M46.3 394.0h.8M48.6 395.5h.8M49.7 404.0h.8M45.5 391.6h.8M45.7 397.8h.8M52.5 405.0h.8M49.1 389.9h.8M44.2 400.7h.8M50.1 399.0h.8M39.9 396.2h.8M33.5 393.8h.8M37.0 399.5h.8M51.6 397.1h.8M48.1 390.6h.8M57.6 387.3h.8M41.9 392.7h.8M33.5 393.2h.8M56.0 400.3h.8M49.6 393.1h.8M44.9 399.9h.8M57.6 403.0h.8M47.3 392.5h.8M47.9 389.6h.8M57.4 394.8h.8M59.6 393.5h.8M36.7 398.4h.8M48.2 396.0h.8M33.2 386.3h.8M34.2 402.1h.8M49.5 396.0h.8M57.8 395.9h.8M49.0 393.6h.8M40.5 402.9h.8M42.6 392.2h.8M44.0 391.2h.8M41.9 393.4h.8M46.3 393.0h.8M46.2 396.0h.8M42.6 391.2h.8M45.9 394.6h.8M51.1 401.0h.8M39.8 397.1h.8M55.8 401.8h.8M38.4 401.5h.8M43.2 401.8h.8M39.9 394.5h.8M37.9 396.9h.8M37.2 397.8h.8M50.1 406.1h.8M46.6 395.9h.8M45.7 395.7h.8M49.3 402.9h.8M45.2 393.9h.8M56.0 403.2h.8M41.6 403.2h.8M46.0 401.8h.8M38.7 393.3h.8M63.2 406.4h.8M58.6 401.1h.8M51.3 395.3h.8M55.5 397.8h.8M39.9 397.2h.8M52.1 401.0h.8M49.3 396.9h.8M47.5 396.8h.8M50.7 393.2h.8M44.0 398.5h.8M29.9 400.9h.8M34.6 393.8h.8M38.0 400.1h.8M50.2 392.3h.8M55.4 400.8h.8M48.0 392.0h.8M39.8 397.9h.8M36.9 399.8h.8M51.5 396.5h.8M43.4 399.4h.8M57.7 393.4h.8M36.8 386.9h.8M43.1 397.6h.8M42.5 399.5h.8M51.0 403.5h.8M46.4 398.4h.8M59.4 395.1h.8M49.5 394.5h.8M50.7 396.3h.8M43.8 393.6h.8M48.5 399.4h.8M39.4 401.5h.8M48.4 397.3h.8M39.5 398.5h.8M48.8 399.9h.8M45.2 399.7h.8M46.7 393.1h.8M56.0 400.2h.8M50.7 395.6h.8M46.8 393.1h.8M52.8 402.7h.8M57.4 397.7h.8M41.2 400.0h.8M44.5 402.0h.8M54.4 394.9h.8M39.4 393.1h.8M48.0 396.5h.8M53.5 397.3h.8M44.2 394.6h.8M32.4 402.3h.8M50.0 392.0h.8M33.5 396.8h.8M41.2 398.1h.8M50.7 390.0h.8M59.5 392.5h.8M51.0 396.2h.8M32.1 395.1h.8M37.2 401.9h.8M47.1 404.1h.8M59.6 394.1h.8M49.0 394.6h.8M48.0 396.6h.8M51.5 399.9h.8M48.3 396.1h.8M52.1 401.9h.8M48.1 397.4h.8M51.0 394.4h.8M47.6 394.7h.8M49.6 390.6h.8M48.5 394.4h.8M39.2 397.8h.8M52.0 392.1h.8M38.9 397.0h.8M44.2 396.6h.8M42.6 398.8h.8M45.8 396.3h.8M53.9 400.7h.8M39.0 393.3h.8M50.0 397.7h.8M37.5 392.0h.8M38.1 391.7h.8M48.1 397.5h.8M45.0 393.1h.8M46.3 404.8h.8M41.0 406.6h.8M49.2 392.6h.8M54.0 403.0h.8M62.2 388.6h.8M45.4 405.9h.8M39.7 392.1h.8M61.8 399.3h.8M32.4 401.3h.8M60.6 396.9h.8M35.7 406.4h.8M51.0 393.2h.8M42.6 397.8h.8M46.8 398.4h.8M42.1 399.5h.8M41.8 391.2h.8M49.2 392.2h.8M60.1 407.3h.8M45.7 392.5h.8M44.6 399.6h.8M49.2 399.3h.8M39.9 398.3h.8M46.6 396.8h.8M53.0 396.8h.8M42.6 383.0h.8M44.5 398.1h.8M45.1 400.0h.8M34.4 396.0h.8M57.2 405.1h.8M40.5 394.9h.8M41.1 394.5h.8M45.9 401.9h.8M44.6 399.2h.8M50.3 408.4h.8M49.3 390.8h.8M47.3 395.8h.8M42.2 395.3h.8M45.1 402.7h.8M37.3 407.4h.8M49.5 396.1h.8M54.4 395.7h.8M51.4 403.0h.8M32.2 399.5h.8M43.7 395.2h.8M45.2 397.6h.8M46.5 395.7h.8M47.7 395.4h.8M42.4 397.3h.8M35.2 401.9h.8M44.2 394.9h.8M40.5 403.3h.8M53.4 400.7h.8M33.3 401.3h.8M37.3 407.9h.8M43.3 389.2h.8M40.6 400.6h.8M54.8 396.5h.8M45.4 390.7h.8M37.3 397.1h.8M50.0 395.9h.8M37.4 401.1h.8M59.6 397.3h.8M44.2 392.0h.8M32.8 397.1h.8M33.0 390.5h.8M38.8 396.4h.8M39.3 396.3h.8M48.6 396.8h.8M43.8 395.7h.8M44.4 399.1h.8M51.0 393.0h.8M36.1 401.4h.8M40.4 395.5h.8M35.7 389.8h.8M46.6 396.1h.8M52.8 400.2h.8M49.0 395.0h.8M55.9 401.6h.8M56.6 394.1h.8M48.1 392.0h.8M44.4 397.7h.8M52.5 398.4h.8M54.4 390.6h.8M47.9 396.0h.8M41.4 401.0h.8M57.0 401.5h.8M46.9 395.5h.8M39.6 399.9h.8M41.0 387.2h.8M49.1 390.5h.8M61.5 392.2h.8M56.2 398.8h.8M41.1 390.2h.8M57.3 401.4h.8M54.9 395.5h.8M52.3 392.4h.8M60.6 399.6h.8M46.4 391.1h.8M44.4 394.3h.8M45.8 404.5h.8M42.2 392.8h.8M42.3 403.7h.8M42.6 396.3h.8M50.1 395.2h.8M50.3 401.5h.8M41.9 400.2h.8M43.1 394.7h.8M56.4 397.8h.8M54.4 391.7h.8M37.9 400.4h.8M47.6 403.0h.8M60.4 405.2h.8M37.3 393.2h.8M40.9 393.5h.8M39.1 391.9h.8M42.1 393.4h.8M54.0 403.5h.8M39.8 404.6h.8M38.2 392.5h.8M46.2 392.9h.8M57.1 392.0h.8M51.9 398.6h.8M43.6 395.2h.8M53.0 391.8h.8M48.7 398.0h.8M45.9 389.2h.8M48.6 387.6h.8M41.2 392.7h.8M48.2 393.2h.8M40.9 395.1h.8M46.0 397.9h.8M37.6 403.1h.8M44.0 394.2h.8M48.5 395.6h.8M49.0 402.8h.8M54.5 396.3h.8M40.9 399.1h.8M53.9 395.8h.8M34.1 387.1h.8M35.5 388.9h.8M52.9 401.2h.8M55.9 390.9h.8M54.4 393.7h.8M49.0 395.7h.8M42.6 395.4h.8M56.1 397.1h.8M61.3 403.7h.8M46.8 403.3h.8M33.5 395.5h.8M44.2 399.1h.8M38.7 397.7h.8M34.5 397.5h.8M42.7 402.3h.8M49.7 405.0h.8M49.8 395.4h.8M50.5 396.0h.8M52.5 397.8h.8M38.5 394.9h.8M40.7 398.3h.8M47.5 400.8h.8M53.9 403.6h.8M55.7 396.8h.8M59.3 391.6h.8M51.7 395.3h.8M47.5 402.8h.8M42.4 400.9h.8M41.3 397.2h.8M40.7 396.0h.8M44.7 398.7h.8M49.5 394.5h.8M36.6 398.0h.8M68.4 396.6h.8M50.0 400.6h.8M53.9 389.7h.8M50.9 397.2h.8M46.8 405.2h.8M51.0 398.0h.8M49.6 394.9h.8M48.2 387.1h.8M53.5 399.6h.8M51.2 393.8h.8M46.9 390.3h.8M43.9 404.5h.8M38.6 394.9h.8M39.2 395.9h.8M35.3 394.9h.8M44.7 400.7h.8M42.5 397.9h.8M53.4 395.6h.8M45.1 395.9h.8M53.2 394.5h.8M59.7 399.9h.8M52.7 396.1h.8M41.9 393.9h.8M52.8 392.2h.8M50.2 400.6h.8M47.9 394.9h.8M59.0 396.1h.8M47.7 389.6h.8M47.1 398.6h.8M48.7 393.1h.8M47.7 404.2h.8M43.6 392.1h.8M41.1 392.8h.8M47.9 400.2h.8M52.5 406.3h.8M31.0 403.6h.8M50.5 397.9h.8M51.3 397.0h.8M47.6 399.0h.8M43.7 392.2h.8M52.3 402.6h.8M50.9 387.5h.8M52.2 400.9h.8M52.1 395.6h.8M44.2 392.2h.8M55.7 399.0h.8M47.5 398.4h.8M46.6 389.5h.8M43.4 394.1h.8M48.5 396.2h.8M38.3 393.8h.8M38.5 393.4h.8M45.9 396.0h.8M43.2 400.5h.8M39.0 396.6h.8M46.0 395.3h.8M44.5 393.2h.8M47.7 396.1h.8M44.8 396.7h.8M51.4 399.8h.8M37.7 394.9h.8M49.7 396.5h.8M48.4 402.5h.8M39.4 396.6h.8M55.7 404.5h.8M74.8 403.2h.8M47.8 403.1h.8M36.1 398.1h.8M58.7 397.9h.8M55.8 405.9h.8M72.0 393.7h.8M29.4 384.0h.8M65.6 388.3h.8M71.2 386.8h.8M30.9 395.4h.8M44.5 382.4h.8M66.4 395.9h.8M57.6 401.7h.8M76.4 390.7h.8M55.0 398.6h.8M72.6 399.6h.8M72.5 394.5h.8M51.8 393.3h.8M82.2 407.0h.8M67.3 390.7h.8M52.3 385.7h.8M66.1 392.1h.8M41.1 391.9h.8M36.8 392.4h.8M88.3 402.1h.8M79.4 403.4h.8M57.1 390.9h.8M34.5 393.6h.8M44.5 400.2h.8M68.7 396.5h.8M62.1 395.8h.8M61.8 385.1h.8M58.0 397.9h.8M56.5 390.9h.8M55.0 392.9h.8M95.2 400.0h.8M52.0 404.0h.8M55.1 408.2h.8M43.5 396.5h.8M33.5 397.8h.8M45.8 387.1h.8M80.0 381.2h.8M58.2 391.2h.8M91.6 400.4h.8M81.5 402.3h.8M71.9 406.8h.8M50.1 397.3h.8M57.9 397.9h.8M78.3 391.8h.8M72.1 396.6h.8M45.5 405.5h.8M50.5 402.5h.8M51.9 398.2h.8M75.3 402.8h.8M61.1 403.6h.8M60.2 388.7h.8M47.5 404.2h.8M56.6 395.8h.8M46.5 393.0h.8M57.1 391.2h.8M35.4 390.6h.8M75.1 401.7h.8M85.8 394.3h.8M36.5 403.4h.8M44.9 400.5h.8M52.5 393.8h.8M53.0 398.2h.8M45.4 404.5h.8M53.1 395.8h.8M39.3 402.8h.8M69.2 403.5h.8M54.6 395.6h.8M65.9 404.8h.8M75.8 397.0h.8M71.3 405.9h.8M72.4 396.6h.8M67.8 400.4h.8M69.0 395.7h.8M46.0 392.7h.8M53.1 399.1h.8M50.4 389.5h.8M70.1 389.4h.8M31.4 390.2h.8M33.3 379.7h.8M61.8 387.9h.8M56.0 395.0h.8M45.3 381.9h.8M51.0 388.2h.8M43.8 397.0h.8M50.1 396.7h.8M48.3 391.4h.8M66.0 407.2h.8M49.4 405.2h.8M72.2 404.8h.8M63.1 394.9h.8M81.7 397.0h.8M66.3 388.5h.8M40.9 402.9h.8M82.1 382.2h.8M43.6 396.5h.8M70.4 397.0h.8M76.0 391.7h.8M54.9 391.2h.8M48.9 387.0h.8M46.0 386.7h.8M94.1 408.3h.8M81.8 406.4h.8M55.0 383.0h.8M72.5 391.2h.8M61.7 394.7h.8M63.1 397.3h.8M51.8 404.6h.8M82.5 396.0h.8M85.0 390.6h.8M63.0 403.7h.8M52.2 395.6h.8M54.3 398.0h.8M52.3 399.3h.8M51.3 406.9h.8M43.1 385.5h.8M41.8 399.6h.8M43.5 397.1h.8M48.2 381.7h.8M40.3 386.3h.8M49.0 392.7h.8M94.6 396.0h.8M51.0 397.5h.8M58.1 394.2h.8M39.5 402.5h.8M67.8 397.8h.8M56.7 391.2h.8M57.8 394.8h.8M39.8 395.8h.8M30.4 383.3h.8M44.5 383.9h.8M48.7 396.8h.8M76.0 394.3h.8M59.0 397.8h.8M52.3 401.0h.8M44.5 408.5h.8M54.0 401.4h.8M77.7 380.8h.8M85.3 404.2h.8M50.8 396.7h.8M33.0 384.8h.8M67.2 393.7h.8M85.7 392.3h.8M51.8 393.8h.8M49.2 392.4h.8M36.4 392.2h.8M51.8 398.8h.8M50.5 396.7h.8M29.9 391.5h.8M53.4 383.0h.8M56.1 389.1h.8M55.9 396.7h.8M37.8 399.1h.8M51.9 400.9h.8M61.0 388.4h.8M51.8 387.3h.8M75.3 390.3h.8M51.4 395.0h.8M81.4 384.8h.8M73.8 408.0h.8M67.3 386.2h.8M65.3 397.9h.8M63.5 396.0h.8M79.3 389.8h.8M42.0 401.1h.8M71.9 389.5h.8M60.9 393.3h.8M37.5 401.8h.8M64.5 408.7h.8M64.0 391.6h.8M66.5 389.7h.8M85.6 393.6h.8M44.1 407.8h.8M70.1 407.6h.8M59.2 400.8h.8M52.7 394.2h.8M57.1 404.1h.8M68.1 396.6h.8M80.6 398.4h.8M81.0 406.9h.8M52.7 386.4h.8M76.6 392.0h.8M72.8 398.6h.8M67.6 388.9h.8M71.0 393.0h.8M69.4 392.6h.8M65.9 406.7h.8M65.7 402.4h.8M50.8 395.3h.8M60.4 405.0h.8M48.5 394.0h.8M50.3 395.5h.8M60.1 394.2h.8M48.2 394.4h.8M65.3 404.7h.8M68.5 402.8h.8M62.1 391.3h.8M66.3 404.1h.8M42.5 404.1h.8M65.2 394.7h.8M74.6 399.4h.8M55.3 394.0h.8M41.1 398.8h.8M64.9 398.2h.8M56.3 394.9h.8M82.7 393.8h.8M61.6 399.1h.8M75.4 395.2h.8M56.0 386.4h.8M77.0 402.3h.8M51.7 386.7h.8M49.3 384.6h.8M54.0 381.9h.8M34.3 381.7h.8M45.4 398.8h.8M47.7 401.0h.8M58.8 394.8h.8M46.9 399.5h.8M76.8 388.9h.8M71.5 386.9h.8M53.5 389.5h.8M81.6 401.6h.8M41.2 402.6h.8M48.9 390.0h.8M45.2 398.4h.8M36.5 407.1h.8M53.6 401.1h.8M69.9 395.0h.8M38.0 398.6h.8M40.4 401.7h.8M47.1 404.3h.8M45.0 397.8h.8M67.2 390.8h.8M83.4 407.3h.8M50.3 387.2h.8M39.0 397.0h.8M67.2 384.9h.8M65.0 393.5h.8M53.7 391.5h.8M57.7 393.4h.8M46.4 396.8h.8M42.7 403.6h.8M43.3 401.8h.8M45.9 400.0h.8M33.0 393.7h.8M60.9 384.9h.8M41.3 402.1h.8M57.0 401.9h.8M44.3 390.7h.8M53.2 407.3h.8M70.5 380.0h.8M73.2 397.1h.8M76.7 396.4h.8M50.7 394.1h.8M75.8 395.1h.8M51.5 405.7h.8M58.9 403.5h.8M54.5 405.7h.8M42.9 402.8h.8M45.9 404.0h.8M74.7 390.4h.8M51.0 403.3h.8M72.6 397.7h.8M64.7 388.8h.8M49.8 392.8h.8M62.8 399.0h.8M53.4 400.3h.8M81.1 388.7h.8M97.3 395.4h.8M69.5 400.3h.8M44.7 402.1h.8M62.9 390.5h.8M69.8 390.4h.8M36.6 394.5h.8M61.0 405.4h.8M38.8 380.4h.8M45.8 399.4h.8M76.6 393.2h.8M43.1 395.7h.8M61.5 391.8h.8M40.9 393.3h.8M45.9 399.5h.8M43.0 401.6h.8M63.3 408.4h.8M58.9 376.8h.8M42.4 398.0h.8M54.9 385.0h.8M34.3 392.0h.8M54.4 382.1h.8M52.8 381.9h.8M41.3 393.4h.8M39.3 400.2h.8M37.0 398.8h.8M79.4 399.7h.8M93.3 384.6h.8M60.5 395.9h.8M60.7 401.3h.8M64.9 395.3h.8M64.6 395.6h.8M60.6 396.0h.8M48.6 388.6h.8M77.1 398.1h.8M68.0 403.6h.8M74.8 401.8h.8M56.5 389.3h.8M48.3 395.7h.8M71.1 399.9h.8M61.0 388.3h.8M59.7 401.5h.8M49.9 397.8h.8M56.1 391.6h.8M32.4 396.5h.8M58.9 385.5h.8M33.9 402.2h.8M69.2 396.3h.8M72.3 396.3h.8M46.1 396.4h.8M74.4 391.0h.8M58.8 395.0h.8M72.0 391.7h.8M59.5 390.9h.8M57.3 403.8h.8M69.3 387.6h.8M76.7 396.5h.8M37.8 393.2h.8M47.1 409.0h.8M58.1 401.3h.8M56.9 399.4h.8M68.1 390.1h.8M63.4 387.8h.8M47.9 379.6h.8M30.1 390.9h.8M71.2 398.8h.8M57.6 404.3h.8M49.3 394.0h.8M50.5 401.8h.8M41.5 397.2h.8M35.3 388.5h.8M73.0 395.8h.8M47.0 396.4h.8M54.3 401.5h.8M46.2 393.1h.8M42.4 400.5h.8M49.1 402.9h.8M59.6 404.9h.8M69.5 391.1h.8M55.3 390.2h.8M72.0 398.7h.8M55.0 400.2h.8M50.3 398.7h.8M57.0 392.5h.8M88.3 393.7h.8M69.7 397.6h.8M80.2 395.2h.8M53.2 398.0h.8M56.2 398.8h.8M58.4 383.9h.8M56.8 401.3h.8M40.8 401.4h.8M57.8 393.7h.8M62.6 388.2h.8M41.7 400.6h.8M42.7 403.0h.8M46.1 401.9h.8M65.8 403.4h.8M67.8 406.9h.8M48.5 404.5h.8M55.7 392.9h.8M49.5 400.7h.8M41.0 401.9h.8M43.0 400.8h.8M56.4 390.1h.8M50.1 390.6h.8M40.4 393.7h.8M38.4 404.9h.8M58.6 408.9h.8M39.9 393.7h.8M47.9 401.1h.8M63.1 402.6h.8M38.4 399.1h.8M54.1 395.4h.8M52.5 388.2h.8M63.4 397.3h.8M88.9 407.0h.8M58.7 401.7h.8M86.6 394.4h.8M67.2 393.7h.8M76.6 400.1h.8M68.4 408.1h.8M63.4 388.6h.8M67.8 392.3h.8M50.1 386.0h.8M63.0 391.9h.8M74.2 392.8h.8M35.0 401.9h.8M52.2 405.2h.8M62.3 399.3h.8M50.5 387.5h.8M53.6 398.1h.8M71.6 398.9h.8M62.7 384.6h.8M34.9 406.1h.8M44.5 397.9h.8M38.9 394.7h.8M43.6 388.7h.8M62.4 391.8h.8M58.2 395.0h.8M31.1 398.0h.8M38.3 402.7h.8M48.3 381.4h.8M38.7 385.0h.8M57.0 378.7h.8M51.7 400.2h.8M54.6 400.2h.8M44.4 391.6h.8M48.3 390.4h.8M63.7 390.1h.8M78.1 389.2h.8M41.0 387.3h.8M72.8 403.7h.8M69.8 399.2h.8M50.8 397.6h.8M46.7 391.4h.8M54.2 396.7h.8M55.7 398.9h.8M40.1 392.3h.8M67.3 404.5h.8M69.1 387.8h.8M57.5 386.4h.8M44.1 394.4h.8M41.5 379.6h.8M49.0 391.8h.8M33.5 398.4h.8M61.3 397.2h.8M43.9 386.2h.8M32.3 395.8h.8M52.5 398.9h.8M64.6 394.8h.8M52.4 391.9h.8M53.9 392.8h.8M73.8 394.7h.8M56.0 400.3h.8M75.9 389.8h.8M62.9 394.3h.8M42.9 395.8h.8M59.5 404.3h.8M41.0 397.1h.8M83.3 393.9h.8M33.7 387.7h.8M68.3 391.5h.8M47.1 397.1h.8M87.3 388.7h.8M31.9 399.3h.8M41.7 400.9h.8M65.8 387.2h.8M34.2 392.4h.8M67.8 394.6h.8M75.1 388.3h.8M43.2 395.4h.8M59.2 404.5h.8M51.8 389.3h.8M60.9 396.1h.8M93.3 392.0h.8M69.3 402.3h.8M73.2 399.3h.8M52.6 399.2h.8M36.4 392.4h.8M37.0 390.6h.8M43.3 387.6h.8M60.2 388.2h.8M38.9 392.4h.8M66.2 394.4h.8M53.6 400.3h.8M36.5 403.5h.8M44.0 391.5h.8M55.7 397.7h.8M43.7 395.0h.8M32.5 400.1h.8M67.2 402.6h.8M53.4 398.8h.8M42.4 401.6h.8M40.0 396.6h.8M59.9 391.9h.8M60.6 404.3h.8M75.9 393.8h.8M66.3 405.1h.8M71.4 380.4h.8M63.1 388.5h.8M46.7 395.1h.8M54.5 391.6h.8M57.8 394.4h.8M41.9 404.4h.8M55.2 378.7h.8M40.7 392.5h.8M75.3 400.6h.8M31.0 393.6h.8M54.8 402.2h.8M77.9 391.3h.8M55.3 405.7h.8M74.2 388.3h.8M67.8 384.9h.8M40.0 403.1h.8M68.5 393.1h.8M54.8 399.6h.8M70.8 394.4h.8M68.4 404.1h.8M56.4 393.2h.8M70.7 407.8h.8M52.5 400.7h.8M55.6 397.1h.8M61.8 390.7h.8M59.5 396.6h.8M68.7 386.4h.8M56.5 401.7h.8M82.0 389.8h.8M88.2 399.0h.8M49.7 397.3h.8M54.2 406.4h.8M68.1 406.5h.8M39.6 394.3h.8M38.2 405.6h.8M51.2 381.2h.8M65.7 400.6h.8M75.8 394.4h.8M32.8 400.2h.8M56.1 400.4h.8M47.4 402.7h.8M58.1 390.6h.8M39.5 387.4h.8M42.9 398.1h.8M80.7 391.9h.8M56.8 398.6h.8M52.3 388.4h.8M47.3 383.5h.8M56.3 395.0h.8M50.9 395.5h.8M76.0 394.4h.8M40.5 401.5h.8M73.2 392.3h.8M42.8 397.0h.8M57.1 392.1h.8M41.1 395.4h.8M36.1 401.6h.8M52.2 386.6h.8M54.3 384.5h.8M61.4 387.0h.8M53.2 408.8h.8M82.4 397.2h.8M48.0 391.8h.8M50.0 398.8h.8M58.6 393.3h.8M46.8 401.8h.8M79.8 402.2h.8M42.0 397.4h.8M53.4 394.0h.8M79.2 386.9h.8M55.0 395.3h.8M70.3 397.0h.8M58.2 403.8h.8M61.7 396.7h.8M34.0 394.4h.8M89.1 393.7h.8M43.5 387.1h.8M61.0 394.8h.8M78.5 389.7h.8M87.1 401.7h.8M49.1 396.7h.8M58.6 404.4h.8M59.9 406.0h.8M47.1 397.9h.8M59.5 393.9h.8M44.2 393.7h.8M60.2 396.8h.8M56.0 399.7h.8M82.9 386.5h.8M59.4 386.8h.8M42.4 399.8h.8M50.7 393.0h.8M50.7 402.6h.8M33.0 403.9h.8M69.7 392.7h.8M34.4 383.1h.8M48.3 399.4h.8M53.1 395.8h.8M49.8 396.4h.8M67.3 389.7h.8M45.4 397.3h.8M44.2 399.2h.8M54.1 398.4h.8M64.6 402.6h.8M61.4 391.0h.8M50.9 398.4h.8M64.7 398.8h.8M50.6 394.7h.8M59.3 392.1h.8M34.8 399.1h.8M62.2 392.3h.8M46.7 399.3h.8M78.6 394.3h.8M74.2 405.6h.8M62.0 400.0h.8M48.0 387.2h.8M39.7 402.7h.8M45.1 397.8h.8M56.0 393.2h.8M74.3 392.8h.8M82.2 388.7h.8M63.8 397.2h.8M76.3 398.2h.8M70.5 395.9h.8M47.2 391.5h.8M65.9 394.0h.8M72.0 395.3h.8M44.6 395.6h.8M83.7 402.9h.8M40.2 386.7h.8M58.0 402.6h.8M54.7 402.7h.8M62.9 389.6h.8M73.8 388.8h.8M55.4 387.8h.8M63.0 405.0h.8M76.1 402.3h.8M46.8 407.0h.8M37.1 402.0h.8M37.7 398.8h.8M67.5 398.3h.8M62.2 388.4h.8M46.5 385.8h.8M54.9 396.5h.8M61.0 386.6h.8M37.4 389.7h.8M48.3 395.5h.8M73.2 390.8h.8M39.8 402.5h.8M37.5 396.4h.8M86.3 397.1h.8M30.1 391.0h.8M42.0 407.2h.8M61.4 396.2h.8M58.2 391.1h.8M58.2 388.1h.8M74.2 403.4h.8M61.5 397.6h.8M67.9 397.4h.8M36.5 403.9h.8M52.0 390.3h.8M77.8 403.1h.8M62.2 396.6h.8M38.1 404.4h.8M79.1 399.2h.8M54.3 392.9h.8M61.0 391.3h.8M43.5 398.8h.8M59.4 393.7h.8M44.6 408.1h.8M68.6 390.2h.8M69.8 397.0h.8M86.1 394.0h.8M59.3 407.5h.8M45.8 389.3h.8M60.6 397.1h.8M74.4 391.2h.8M63.8 397.3h.8M61.9 388.9h.8M60.3 405.0h.8M52.9 398.1h.8M61.9 387.2h.8M54.5 399.2h.8M66.7 392.8h.8M43.8 392.9h.8M58.4 393.7h.8M32.9 408.0h.8M70.2 389.1h.8M36.1 385.9h.8M38.5 401.8h.8M88.1 405.2h.8M66.2 390.4h.8M72.3 391.5h.8M59.4 385.3h.8M54.4 395.4h.8M61.6 398.5h.8M53.4 387.6h.8M80.0 391.9h.8M54.0 399.6h.8M49.8 398.7h.8M49.0 396.7h.8M52.3 388.6h.8M34.3 399.0h.8M67.9 399.0h.8M49.5 392.2h.8M54.4 402.9h.8M57.9 391.7h.8M30.2 389.7h.8M29.8 391.2h.8M35.9 394.5h.8M55.0 388.9h.8M54.6 399.1h.8M44.5 394.6h.8M52.1 389.9h.8M61.9 387.4h.8M66.4 394.8h.8M54.8 391.7h.8M67.3 405.4h.8M61.7 398.6h.8M60.6 390.5h.8M70.8 408.2h.8M59.1 396.0h.8M47.3 389.7h.8M69.7 395.9h.8M77.0 385.8h.8M58.8 390.1h.8M69.0 383.9h.8M68.0 391.2h.8M57.7 390.9h.8M79.6 396.5h.8M54.4 402.7h.8M94.5 398.7h.8M48.4 400.0h.8M73.7 393.5h.8M83.5 396.3h.8M57.7 375.7h.8M52.4 397.4h.8M65.6 378.9h.8M62.6 407.3h.8M53.9 397.4h.8M67.3 398.4h.8M58.1 404.9h.8M37.1 395.5h.8M80.7 402.7h.8M32.2 387.6h.8M62.0 390.3h.8M53.5 394.2h.8M54.8 395.9h.8M83.0 398.7h.8M50.2 395.8h.8M53.4 384.0h.8M53.7 393.1h.8M37.7 392.0h.8M65.9 391.2h.8M32.1 400.2h.8M54.7 384.4h.8M85.2 388.6h.8M46.6 397.4h.8M77.1 385.5h.8M69.3 397.8h.8M61.7 407.1h.8M41.9 399.0h.8M44.8 384.1h.8M73.5 392.3h.8M52.7 400.9h.8M87.4 394.2h.8M60.2 407.1h.8M47.5 389.6h.8M58.1 399.0h.8M51.5 407.1h.8M34.3 406.9h.8M60.9 389.3h.8M50.9 388.1h.8M80.7 403.5h.8M80.0 397.9h.8M55.0 399.2h.8M40.9 391.6h.8M81.4 386.8h.8M47.7 392.4h.8M72.0 391.8h.8M36.4 381.4h.8M44.9 401.7h.8M58.2 394.3h.8M47.7 405.1h.8M37.6 395.9h.8M65.9 394.4h.8M59.2 402.1h.8M47.6 389.6h.8M48.3 384.7h.8M71.5 391.0h.8M52.5 402.5h.8M53.7 402.7h.8M50.5 398.4h.8M47.6 387.9h.8M42.6 401.2h.8M74.0 394.1h.8M63.6 400.4h.8M61.1 386.6h.8M56.4 392.9h.8M74.6 391.7h.8M74.8 404.3h.8M29.4 403.8h.8M62.5 400.7h.8M75.9 399.7h.8M46.1 400.9h.8M67.0 392.7h.8M58.2 386.2h.8M43.6 404.4h.8M56.0 396.3h.8M57.5 393.0h.8M32.6 384.7h.8M61.4 390.1h.8M59.4 401.8h.8M53.0 405.6h.8M53.5 397.6h.8M46.9 392.1h.8M75.8 396.2h.8M49.8 403.8h.8M44.8 401.1h.8M53.6 390.3h.8M58.9 385.4h.8M62.0 394.3h.8M60.0 406.4h.8M55.0 400.9h.8M52.7 396.2h.8M51.7 396.4h.8M61.3 393.8h.8M45.8 389.5h.8M56.8 393.4h.8M82.4 384.2h.8M89.0 397.6h.8M62.2 392.6h.8M57.5 397.0h.8M68.6 387.9h.8M89.3 399.7h.8M63.0 401.3h.8M88.1 407.2h.8M57.6 408.5h.8M50.8 403.2h.8M80.7 348.7h.8M87.3 347.5h.8M81.2 346.5h.8M87.0 348.8h.8M93.6 348.3h.8M89.0 345.3h.8M88.3 347.5h.8M91.6 347.9h.8M88.4 347.5h.8M86.8 346.3h.8M89.1 345.4h.8M89.5 349.2h.8M89.5 347.7h.8M87.2 346.0h.8M89.6 349.5h.8M95.3 347.5h.8M82.3 347.8h.8M89.9 348.8h.8M85.1 349.7h.8M89.1 348.0h.8M93.6 347.0h.8M89.0 348.1h.8M91.6 349.2h.8M89.1 346.7h.8M85.3 348.9h.8M92.2 344.9h.8M89.5 344.9h.8M89.8 347.6h.8M86.7 349.0h.8M91.4 348.1h.8M85.8 346.8h.8M89.9 348.3h.8M88.9 347.5h.8M88.6 347.5h.8M86.6 350.6h.8M86.0 345.7h.8M86.9 347.1h.8M90.3 348.7h.8M88.4 347.7h.8M89.4 346.5h.8M88.4 347.6h.8M91.5 347.2h.8M82.8 345.6h.8M89.7 348.1h.8M87.9 348.6h.8M88.6 349.3h.8M91.7 346.7h.8M84.6 346.7h.8M82.9 348.0h.8M84.5 346.4h.8M90.6 349.1h.8M88.7 346.7h.8M86.9 344.1h.8M82.5 345.5h.8M93.5 347.8h.8M84.1 345.7h.8M79.3 347.4h.8M83.0 347.4h.8M86.1 349.1h.8M90.1 345.8h.8M83.2 346.5h.8M88.4 348.3h.8M86.2 346.6h.8M92.1 347.7h.8M79.3 346.3h.8M89.5 350.0h.8M86.2 347.4h.8M87.0 346.9h.8M84.9 346.5h.8M78.3 346.9h.8M86.0 347.5h.8M90.4 345.5h.8M84.4 347.5h.8M84.4 347.3h.8M86.0 349.0h.8M92.0 346.9h.8M88.1 345.6h.8M82.2 346.8h.8M93.8 347.8h.8M84.9 348.4h.8M92.4 345.9h.8M89.2 346.1h.8M85.6 347.9h.8M91.0 348.6h.8M88.8 347.4h.8M85.0 347.1h.8M83.5 348.2h.8M80.9 349.1h.8M84.9 346.9h.8M88.1 349.1h.8M87.1 344.3h.8M88.3 346.8h.8M80.4 348.0h.8M92.1 349.3h.8M84.8 348.4h.8M87.5 346.6h.8M81.7 346.5h.8M78.6 348.6h.8M89.4 349.0h.8M84.9 348.1h.8M93.7 348.8h.8M91.4 344.7h.8M86.6 348.5h.8M87.9 348.8h.8M86.6 348.8h.8M82.6 349.6h.8M91.2 348.3h.8M83.8 346.0h.8M87.3 347.9h.8M85.2 347.4h.8M86.8 348.0h.8M87.3 346.4h.8M87.2 345.6h.8M91.4 348.8h.8M84.4 349.2h.8M85.1 346.4h.8M86.7 348.1h.8M88.2 350.4h.8M89.0 347.7h.8M90.3 347.8h.8M91.4 346.0h.8M86.8 346.7h.8M84.6 348.4h.8M83.9 347.7h.8M83.5 348.9h.8M87.0 349.4h.8M89.9 348.7h.8M86.9 347.9h.8M91.5 346.6h.8M87.0 348.2h.8M90.9 347.6h.8M84.1 347.3h.8M90.1 347.5h.8M88.0 345.4h.8M85.9 346.4h.8M93.5 345.1h.8M83.7 346.7h.8M88.3 344.2h.8M92.4 346.1h.8M92.1 346.7h.8M84.1 344.4h.8M81.7 346.4h.8M90.6 347.2h.8M91.5 347.5h.8M90.7 347.1h.8M85.2 346.1h.8M85.8 346.6h.8M84.1 347.1h.8M89.8 345.9h.8M83.9 348.2h.8M87.8 348.8h.8M90.0 344.2h.8M90.3 346.6h.8M84.9 346.7h.8M89.8 344.8h.8M86.6 345.7h.8M86.6 347.8h.8M86.3 347.0h.8M82.5 347.9h.8M93.2 349.9h.8M91.1 346.4h.8M86.3 348.5h.8M92.0 347.9h.8M89.0 347.7h.8M83.8 346.0h.8M90.2 348.7h.8M91.9 349.1h.8M83.3 346.3h.8M86.3 347.4h.8M93.6 348.9h.8M90.1 348.0h.8M88.2 347.7h.8M85.0 347.3h.8M84.6 347.4h.8M84.4 347.8h.8M88.4 349.3h.8M87.6 346.5h.8M88.3 346.2h.8M84.3 346.6h.8M89.0 351.2h.8M87.9 346.2h.8M87.6 347.4h.8M87.4 347.6h.8M84.1 348.3h.8M80.0 344.6h.8M87.8 347.1h.8M90.1 346.7h.8M87.6 349.5h.8M83.6 345.1h.8M89.4 346.5h.8M84.1 348.1h.8M88.8 348.5h.8M92.2 348.4h.8M86.3 349.0h.8M89.2 345.7h.8M88.6 347.4h.8M86.6 346.3h.8M87.9 345.0h.8M86.9 347.9h.8M86.0 350.0h.8M88.7 347.2h.8M82.1 349.0h.8M84.0 347.8h.8M84.2 346.4h.8M92.2 348.3h.8M88.0 348.9h.8M92.6 348.9h.8M85.0 347.4h.8M85.0 343.8h.8M87.2 347.7h.8M84.3 347.5h.8M85.7 348.0h.8M91.4 348.2h.8M89.4 348.3h.8M91.5 348.4h.8M84.4 347.8h.8M92.4 348.0h.8M84.7 347.6h.8M85.3 347.1h.8M85.4 347.0h.8M91.1 346.8h.8M93.3 347.0h.8M94.5 345.7h.8M86.9 346.4h.8M85.2 347.7h.8M87.6 348.5h.8M89.0 347.5h.8M95.0 346.4h.8M87.0 348.3h.8M86.0 348.3h.8M85.2 347.4h.8M83.1 347.8h.8M89.6 348.2h.8M83.9 348.1h.8M90.9 348.4h.8M93.4 349.7h.8M85.0 346.6h.8M92.7 347.7h.8M82.0 347.8h.8M84.6 348.3h.8M86.5 348.2h.8M87.7 347.2h.8M86.8 349.8h.8M87.2 350.9h.8M88.1 348.0h.8M84.6 344.6h.8M93.8 345.6h.8M88.6 348.1h.8M89.5 345.2h.8M87.6 347.6h.8M85.8 347.5h.8M90.8 348.6h.8M91.6 347.2h.8M95.8 347.2h.8M92.4 348.7h.8M96.5 347.3h.8M87.6 345.4h.8M88.4 349.1h.8M90.1 346.7h.8M87.8 348.0h.8M82.2 345.2h.8M86.3 346.9h.8M86.1 348.4h.8M88.9 348.6h.8M91.2 349.6h.8M90.0 345.8h.8M86.3 347.1h.8M90.8 348.0h.8M87.1 347.7h.8M97.6 348.5h.8M87.3 348.0h.8M86.0 348.6h.8M85.6 347.2h.8M92.1 345.2h.8M83.4 348.7h.8M87.8 348.7h.8M85.2 347.7h.8M85.9 348.5h.8M88.7 348.4h.8M87.0 347.0h.8M90.5 347.1h.8M91.8 347.2h.8M82.7 345.4h.8M98.0 346.3h.8M93.6 345.9h.8M86.4 346.6h.8M85.5 348.2h.8M89.9 347.3h.8M85.6 349.3h.8M90.8 347.4h.8M88.5 348.6h.8M85.2 347.5h.8M81.3 345.8h.8M88.0 345.9h.8M91.3 348.2h.8M89.8 348.9h.8M84.7 345.6h.8M86.1 348.4h.8M89.6 347.4h.8M91.4 349.1h.8M87.1 348.8h.8M88.1 347.8h.8M84.6 349.7h.8M83.1 346.1h.8M86.7 348.8h.8M88.6 348.9h.8M91.2 346.2h.8M88.1 348.2h.8M81.5 346.7h.8M95.2 347.1h.8M86.0 346.3h.8M86.6 349.0h.8M87.6 346.6h.8M81.5 346.0h.8M93.7 347.4h.8M86.3 349.3h.8M89.9 347.8h.8M92.3 345.3h.8M92.4 347.1h.8M81.5 345.6h.8M86.3 348.0h.8M91.8 346.7h.8M84.3 347.8h.8M86.9 347.6h.8M83.8 345.4h.8M87.5 346.5h.8M91.7 344.5h.8M90.5 348.4h.8M86.4 346.2h.8M93.8 349.3h.8M94.8 348.1h.8M87.3 348.0h.8M90.1 347.6h.8M87.8 348.6h.8M93.2 346.9h.8M87.8 344.5h.8M90.3 345.5h.8M87.0 347.2h.8M87.5 346.2h.8M89.0 349.6h.8M90.0 347.7h.8M88.9 346.1h.8M87.0 346.5h.8M88.1 347.5h.8M86.2 347.5h.8M86.9 346.3h.8M79.9 346.6h.8M87.7 348.8h.8M90.8 347.4h.8M90.0 345.6h.8M88.8 349.5h.8M82.3 347.4h.8M83.7 344.5h.8M87.7 349.8h.8M80.3 348.1h.8M79.5 346.7h.8M79.8 346.2h.8M86.3 345.9h.8M83.9 348.0h.8M91.9 349.5h.8M90.4 345.4h.8M84.5 347.6h.8M93.9 345.4h.8M93.8 347.5h.8M86.7 347.6h.8M86.7 346.3h.8M91.0 346.7h.8M85.6 346.3h.8M89.8 347.0h.8M92.4 347.9h.8M88.5 345.9h.8M85.4 346.2h.8M90.7 345.4h.8M92.6 348.1h.8M94.4 348.0h.8M83.8 347.7h.8M86.8 348.5h.8M91.5 346.7h.8M90.2 349.2h.8M94.5 346.7h.8M92.2 346.9h.8M89.4 346.3h.8M88.6 345.5h.8M86.3 350.1h.8M86.8 347.4h.8M89.5 347.2h.8M89.6 346.7h.8M87.5 346.6h.8M90.1 348.4h.8M81.9 347.0h.8M89.8 345.9h.8M92.0 347.0h.8M92.2 348.1h.8M86.4 345.5h.8M83.9 347.4h.8M84.4 349.0h.8M95.6 349.7h.8M94.4 347.9h.8M85.4 349.5h.8M88.9 346.5h.8M90.2 348.5h.8M93.9 347.1h.8M90.0 346.5h.8M90.1 347.8h.8M89.4 348.3h.8M89.0 348.6h.8M83.1 348.1h.8M87.6 348.2h.8M87.0 348.1h.8M88.3 345.0h.8M90.2 346.2h.8M91.6 346.2h.8M89.6 346.2h.8M91.9 347.5h.8M87.1 347.3h.8M87.9 346.7h.8M86.6 347.9h.8M88.9 346.7h.8M87.8 349.3h.8M87.3 346.2h.8M87.3 345.7h.8M86.3 347.7h.8M90.9 345.8h.8M87.1 345.4h.8M88.8 346.8h.8M94.4 346.2h.8M87.4 347.4h.8M84.9 345.9h.8M89.4 344.9h.8M92.4 347.3h.8M84.2 361.6h.8M89.7 360.0h.8M89.4 348.8h.8M90.4 356.9h.8M88.1 369.5h.8M87.0 358.7h.8M88.8 373.4h.8M86.5 362.8h.8M86.3 360.0h.8M85.0 354.0h.8M86.8 349.5h.8M93.5 352.9h.8M87.1 346.8h.8M81.9 344.0h.8M82.6 362.8h.8M86.2 369.9h.8M84.1 357.5h.8M87.2 370.4h.8M77.1 353.4h.8M81.1 356.1h.8M87.4 352.3h.8M84.3 363.9h.8M95.2 359.7h.8M83.0 369.7h.8M85.2 344.8h.8M88.1 366.3h.8M81.9 364.0h.8M85.9 356.5h.8M87.5 349.8h.8M82.0 371.7h.8M85.7 354.1h.8M84.3 356.7h.8M85.7 349.4h.8M85.3 362.8h.8M87.5 350.7h.8M84.0 359.8h.8M83.8 368.3h.8M93.2 363.9h.8M85.0 361.7h.8M83.5 360.1h.8M85.7 355.8h.8M84.3 370.6h.8M85.6 353.1h.8M89.8 359.6h.8M85.2 365.1h.8M90.4 363.9h.8M84.4 359.4h.8M85.3 358.4h.8M87.2 344.9h.8M87.5 355.5h.8M87.5 351.6h.8M85.0 359.6h.8M84.9 360.4h.8M84.8 352.4h.8M89.2 359.3h.8M85.1 352.0h.8M85.4 354.4h.8M84.0 347.3h.8M84.6 354.3h.8M91.1 355.6h.8M85.2 352.7h.8M90.5 377.2h.8M84.8 360.1h.8M88.6 371.4h.8M88.4 358.4h.8M87.7 367.4h.8M86.4 354.0h.8M82.9 382.4h.8M85.8 360.7h.8M88.0 358.4h.8M82.0 377.4h.8M89.3 350.8h.8M85.6 361.0h.8M88.1 363.3h.8M82.1 348.5h.8M81.8 362.3h.8M89.9 355.0h.8M89.3 346.5h.8M86.6 371.2h.8M80.8 377.3h.8M88.2 370.9h.8M85.6 358.1h.8M87.0 359.1h.8M89.9 356.1h.8M89.2 359.6h.8M86.1 357.5h.8M87.4 352.4h.8M84.5 353.7h.8M94.3 381.4h.8M87.9 359.9h.8M85.3 363.9h.8M82.4 356.8h.8M83.8 345.6h.8M87.0 344.2h.8M86.3 370.9h.8M87.3 357.2h.8M88.6 379.0h.8M86.2 346.7h.8M86.2 376.1h.8M87.3 354.8h.8M90.2 354.2h.8M83.0 349.0h.8M88.1 348.8h.8M85.5 350.2h.8M79.6 370.2h.8M87.8 345.4h.8M87.7 357.5h.8M85.5 362.4h.8M89.4 373.9h.8M86.8 346.2h.8M81.0 377.8h.8M83.0 358.9h.8M87.6 363.7h.8M88.4 363.3h.8M81.1 350.3h.8M86.0 364.5h.8M81.0 380.3h.8M82.8 352.8h.8M83.2 370.3h.8M83.6 353.9h.8M87.8 348.5h.8M83.3 346.2h.8M90.8 355.2h.8M89.2 344.8h.8M87.2 366.2h.8M87.6 355.7h.8M86.2 360.9h.8M89.8 358.5h.8M82.2 356.1h.8M89.1 372.6h.8M82.6 356.7h.8M87.2 354.1h.8M86.9 352.8h.8M83.7 360.9h.8M85.7 355.1h.8M92.0 351.3h.8M82.8 355.6h.8M91.2 358.0h.8M88.3 357.3h.8M82.6 358.3h.8M84.8 369.6h.8M85.6 362.1h.8M85.3 352.6h.8M82.8 358.1h.8M87.2 356.4h.8M86.9 358.1h.8M81.2 376.4h.8M84.2 362.2h.8M83.2 365.4h.8M84.8 344.3h.8M85.7 352.0h.8M88.1 357.4h.8M89.0 363.6h.8M85.5 368.8h.8M85.6 351.3h.8M83.3 359.5h.8M85.2 359.3h.8M84.8 356.4h.8M82.2 357.7h.8M91.1 368.2h.8M88.5 364.8h.8M84.3 343.5h.8M88.1 353.5h.8M91.1 353.3h.8M85.7 378.3h.8M88.2 344.4h.8M84.7 369.1h.8M80.8 353.8h.8M78.7 355.7h.8M88.5 362.8h.8M82.8 361.3h.8M90.8 368.7h.8M83.6 354.4h.8M84.1 347.8h.8M83.8 369.2h.8M81.4 360.8h.8M89.4 358.8h.8M84.2 371.9h.8M86.8 364.6h.8M93.1 369.0h.8M81.8 369.8h.8M86.6 354.0h.8M86.7 349.0h.8M88.1 364.0h.8M91.1 365.6h.8M86.6 358.6h.8M89.5 359.3h.8M87.0 375.6h.8M85.7 357.7h.8M90.6 373.6h.8M82.3 351.8h.8M93.1 357.7h.8M79.5 374.1h.8M84.8 366.5h.8M87.5 350.0h.8M88.4 366.9h.8M83.8 360.6h.8M87.3 354.2h.8M84.8 350.2h.8M88.2 361.5h.8M86.6 345.4h.8M88.0 361.5h.8M85.0 350.8h.8M87.2 357.7h.8M83.8 361.1h.8M86.5 344.0h.8M82.0 357.9h.8M83.1 370.6h.8M93.0 369.7h.8M89.7 350.2h.8M87.4 358.5h.8M85.9 354.7h.8M87.2 354.1h.8M88.0 372.8h.8M82.1 359.2h.8M85.9 370.4h.8M88.9 354.8h.8M86.9 350.1h.8M87.9 359.9h.8M84.2 349.2h.8M84.5 365.2h.8M83.1 353.1h.8M86.8 360.3h.8M88.9 366.0h.8M88.5 363.3h.8M85.5 360.6h.8M86.7 347.1h.8M84.2 350.2h.8M89.8 360.3h.8M84.0 368.6h.8M85.4 357.9h.8M83.1 355.2h.8M86.8 350.6h.8M92.4 350.3h.8M83.4 360.0h.8M82.0 362.5h.8M81.7 349.3h.8M79.3 353.8h.8M86.4 372.0h.8M88.4 347.9h.8M91.4 361.1h.8M88.3 357.3h.8M90.4 359.0h.8M89.4 367.5h.8M84.0 368.1h.8M85.4 369.6h.8M86.5 363.8h.8M81.7 356.9h.8M89.5 354.6h.8M87.0 361.0h.8M85.4 372.5h.8M92.0 373.1h.8M83.3 367.8h.8M82.7 357.7h.8M83.7 363.7h.8M87.1 369.2h.8M82.6 355.1h.8M84.5 374.6h.8M87.8 371.3h.8M85.9 358.9h.8M86.8 356.7h.8M84.7 359.3h.8M80.9 356.8h.8M80.2 352.9h.8M83.7 351.6h.8M85.8 354.7h.8M84.5 361.2h.8M87.4 353.5h.8M84.8 382.3h.8M86.4 353.0h.8M89.8 361.2h.8M89.2 389.4h.8M84.7 364.5h.8M92.3 361.2h.8M93.9 358.7h.8M84.6 364.0h.8M83.4 358.0h.8M86.4 367.5h.8M91.4 350.1h.8M85.0 354.6h.8M85.4 363.3h.8M83.3 364.7h.8M91.4 344.7h.8M85.6 361.8h.8M89.4 366.3h.8M88.2 372.1h.8M87.2 352.7h.8M88.5 345.6h.8M89.7 362.7h.8M81.7 379.0h.8M82.7 360.3h.8M87.3 355.3h.8M86.3 360.7h.8M87.1 349.3h.8M86.2 350.9h.8M90.4 357.1h.8M88.2 356.0h.8M89.7 351.4h.8M86.7 348.7h.8M89.8 356.9h.8M82.3 343.8h.8M86.8 352.5h.8M86.7 361.3h.8M82.4 358.6h.8M85.5 354.2h.8M85.2 359.1h.8M88.4 358.7h.8M84.2 354.6h.8M85.1 367.6h.8M82.8 366.2h.8M84.2 378.0h.8M81.6 364.0h.8M84.8 360.3h.8M87.8 368.0h.8M90.8 355.7h.8M78.6 359.3h.8M82.9 354.4h.8M91.4 370.9h.8M86.3 368.2h.8M81.4 353.4h.8M88.6 364.7h.8M84.8 369.4h.8M83.9 361.0h.8M85.5 352.8h.8M86.6 359.3h.8M86.3 353.6h.8M87.7 370.6h.8M85.4 355.4h.8M83.6 371.5h.8M82.9 369.5h.8M85.3 360.3h.8M87.6 375.5h.8M87.4 351.9h.8M94.2 361.5h.8M88.3 373.9h.8M89.3 344.8h.8M86.8 364.2h.8M90.7 367.2h.8M91.5 368.2h.8M87.5 356.3h.8M86.6 364.0h.8M82.8 347.0h.8M87.4 366.6h.8M81.9 352.4h.8M90.2 359.4h.8M84.6 354.0h.8M87.5 348.4h.8M85.5 365.0h.8M85.8 370.6h.8M82.6 363.7h.8M85.5 358.3h.8M81.6 362.0h.8M92.1 373.8h.8M84.8 363.1h.8M87.9 365.9h.8M93.0 363.7h.8M86.8 357.6h.8M90.3 355.3h.8M81.7 358.5h.8M84.1 349.1h.8M87.6 355.9h.8M85.7 365.2h.8M89.2 351.1h.8M93.0 361.2h.8M89.5 368.1h.8M87.7 358.9h.8M82.7 364.2h.8M86.3 360.9h.8M85.1 361.4h.8M86.0 362.8h.8M80.7 357.9h.8M91.3 360.5h.8M86.4 366.1h.8M83.5 367.2h.8M81.8 358.7h.8M83.1 356.3h.8M86.3 371.2h.8M92.8 362.1h.8M86.4 363.0h.8M82.4 359.3h.8M87.6 377.0h.8M86.1 358.0h.8M91.6 375.9h.8M83.8 349.4h.8M83.7 353.7h.8M82.9 368.9h.8M88.3 363.8h.8M82.6 358.8h.8M89.6 360.0h.8M92.9 370.0h.8M91.1 356.5h.8M88.6 352.7h.8M85.1 361.6h.8M81.8 365.2h.8M83.7 350.6h.8M84.5 356.2h.8M83.4 367.1h.8M87.9 374.2h.8M86.0 367.6h.8M83.3 361.0h.8M92.3 351.6h.8M88.5 355.2h.8M87.5 364.9h.8M86.5 360.0h.8M87.9 351.7h.8M82.4 370.4h.8M90.4 368.6h.8M89.2 356.4h.8M85.5 357.6h.8M88.7 360.6h.8M90.9 359.1h.8M90.0 356.8h.8M86.6 352.6h.8M85.5 364.7h.8M85.7 358.4h.8M84.8 352.7h.8M87.0 356.6h.8M84.9 357.2h.8M88.1 361.7h.8M85.2 356.9h.8M86.7 364.2h.8M88.5 355.4h.8M91.7 369.0h.8M82.0 356.8h.8M91.8 351.1h.8M86.0 365.4h.8M86.9 363.3h.8M83.4 358.4h.8M83.8 361.8h.8M83.7 360.9h.8M87.4 358.7h.8M86.7 368.0h.8M81.5 360.1h.8M85.9 353.7h.8M81.7 351.5h.8M85.5 368.4h.8M84.1 363.1h.8M90.0 363.0h.8M86.9 366.7h.8M81.7 365.4h.8M80.9 362.0h.8M85.2 344.5h.8M84.4 349.9h.8M87.8 352.4h.8M86.5 360.5h.8M87.4 349.4h.8M83.4 369.9h.8M84.0 371.5h.8M84.5 362.0h.8M83.6 361.0h.8M89.5 358.8h.8M89.3 360.6h.8M86.2 370.9h.8M89.6 356.7h.8M90.3 360.0h.8M82.5 376.2h.8M88.2 368.2h.8M82.3 357.0h.8M83.4 344.2h.8M84.2 351.5h.8M83.9 363.7h.8M85.1 360.9h.8M86.9 362.0h.8M90.1 371.0h.8M87.1 372.8h.8M87.4 349.1h.8M90.6 353.9h.8M86.4 364.7h.8M84.7 357.8h.8M83.6 370.4h.8M89.8 354.9h.8M87.3 362.8h.8M87.9 362.8h.8M87.2 358.8h.8M86.0 364.6h.8M88.0 366.1h.8M90.8 351.4h.8M85.2 355.2h.8M88.5 359.0h.8M82.5 356.8h.8M84.8 360.8h.8M92.3 358.8h.8M81.6 353.0h.8M89.1 366.1h.8M85.8 365.1h.8M86.8 349.3h.8M94.0 361.1h.8M86.4 347.3h.8M85.2 351.4h.8M83.4 352.8h.8M91.0 350.7h.8M90.8 351.0h.8M86.1 353.0h.8M88.7 357.1h.8M88.7 361.3h.8M83.5 347.0h.8M86.6 345.1h.8M91.8 362.6h.8M91.0 355.4h.8M87.2 373.6h.8M84.6 361.0h.8M84.1 369.1h.8M80.8 357.8h.8M87.1 351.7h.8M81.5 372.3h.8M92.2 360.2h.8M85.7 350.3h.8M82.6 360.6h.8M88.5 355.3h.8M88.6 362.6h.8M90.6 371.3h.8M79.2 360.8h.8M86.3 359.3h.8M79.6 370.4h.8M84.9 351.7h.8M89.5 344.9h.8M82.2 363.5h.8M80.6 369.4h.8M82.1 360.3h.8M83.3 356.6h.8M90.2 361.5h.8M84.6 359.0h.8M85.3 361.1h.8M83.9 358.1h.8M84.3 355.4h.8M86.4 350.2h.8M87.6 354.7h.8M85.7 363.0h.8M87.7 366.2h.8M87.2 345.1h.8M83.8 353.5h.8M87.8 359.1h.8M89.2 362.9h.8M82.2 354.7h.8M87.4 356.6h.8M88.7 368.2h.8M83.4 343.9h.8M85.1 350.3h.8M87.2 375.2h.8M86.5 352.7h.8M82.0 360.1h.8M82.6 361.5h.8M86.3 365.4h.8M81.7 354.1h.8M87.7 363.2h.8M83.8 351.6h.8M85.5 349.1h.8M88.0 361.4h.8M89.0 374.5h.8M83.1 358.6h.8M88.7 352.0h.8M87.6 366.0h.8M85.7 343.3h.8M88.1 350.1h.8M86.3 369.1h.8M84.8 348.2h.8M83.6 348.4h.8M87.5 373.6h.8M86.2 363.4h.8M85.4 346.7h.8M81.7 372.6h.8M84.9 358.0h.8M86.8 357.9h.8M83.3 360.9h.8M92.4 354.8h.8M88.5 356.0h.8M86.6 371.7h.8M80.6 354.0h.8M82.1 353.4h.8M86.9 359.9h.8M82.2 363.8h.8M89.9 361.4h.8M85.8 354.5h.8M84.2 360.8h.8M86.8 353.9h.8M84.2 367.8h.8M88.2 363.2h.8M86.1 367.8h.8M92.7 359.8h.8M86.9 351.5h.8M82.5 357.6h.8M82.0 366.1h.8M88.5 349.3h.8M87.3 366.9h.8M85.6 352.8h.8M84.7 361.8h.8M86.5 352.2h.8M84.0 372.0h.8M84.3 360.4h.8M85.3 356.8h.8M89.3 359.3h.8M87.1 364.5h.8M85.6 354.5h.8M82.4 350.8h.8M83.4 361.5h.8M87.6 354.3h.8M86.2 364.3h.8M91.7 360.0h.8M86.0 358.6h.8M86.3 361.4h.8M84.2 367.8h.8M82.5 353.3h.8M90.9 357.6h.8M86.4 361.1h.8M84.8 343.3h.8M86.5 354.7h.8M89.0 383.1h.8M87.9 359.5h.8M86.2 358.2h.8M87.9 354.0h.8M90.9 362.6h.8M87.2 351.5h.8M84.2 360.6h.8M87.8 357.2h.8M85.7 356.9h.8M94.0 362.7h.8M82.7 357.6h.8M80.5 364.4h.8M80.1 349.0h.8M88.3 360.9h.8M79.2 369.1h.8M81.4 359.2h.8M88.4 354.4h.8M84.8 363.9h.8M88.9 360.7h.8M81.1 365.1h.8M84.1 347.0h.8M85.4 373.6h.8M84.8 352.2h.8M83.1 363.7h.8M82.1 357.3h.8M86.0 363.8h.8M86.3 354.9h.8M83.9 359.8h.8M87.8 361.5h.8M81.0 354.5h.8M85.7 355.8h.8M86.5 346.1h.8M87.4 353.2h.8M83.2 358.9h.8M85.5 355.4h.8M80.9 359.6h.8M83.8 364.7h.8M84.3 354.1h.8M88.8 353.8h.8M80.6 362.3h.8M86.6 358.1h.8M88.3 363.5h.8M84.9 376.1h.8M85.6 354.0h.8M86.4 366.1h.8M85.8 359.1h.8M83.1 363.6h.8M86.4 353.8h.8M91.7 367.1h.8M84.9 352.3h.8M84.4 352.6h.8M80.2 344.8h.8M88.8 358.3h.8M81.9 362.6h.8M83.5 347.5h.8M84.4 357.0h.8M87.7 362.2h.8M83.9 377.7h.8M88.4 346.8h.8M86.4 366.8h.8M87.4 361.4h.8M77.6 361.9h.8M79.8 361.8h.8M82.3 352.1h.8M81.2 357.9h.8M85.5 372.5h.8M86.0 364.9h.8M82.8 371.4h.8M85.9 364.4h.8M85.4 359.6h.8M90.2 361.3h.8M86.0 347.7h.8M84.4 349.2h.8M87.3 375.3h.8M90.3 360.5h.8M82.4 361.5h.8M86.4 357.3h.8M92.2 373.7h.8M86.9 363.9h.8M84.5 363.1h.8M83.6 345.8h.8M86.4 359.7h.8M86.8 372.1h.8M85.4 363.6h.8M83.0 347.9h.8M86.5 354.2h.8M84.1 358.4h.8M85.8 354.2h.8M86.3 355.3h.8M83.6 355.1h.8M87.1 355.1h.8M85.0 357.3h.8M85.7 356.7h.8M85.8 363.4h.8M84.3 358.2h.8M82.6 379.8h.8M85.6 362.5h.8M86.5 354.4h.8M86.9 361.4h.8M86.3 373.5h.8M87.5 366.8h.8M83.5 355.3h.8M83.9 367.0h.8M85.0 367.8h.8M88.2 368.6h.8M85.5 350.4h.8M88.9 356.6h.8M82.2 354.2h.8M89.5 351.5h.8M87.6 354.1h.8M85.5 356.1h.8M87.0 359.1h.8M89.7 366.5h.8M89.6 364.0h.8M82.8 361.8h.8M83.3 361.4h.8M87.7 349.1h.8M88.2 381.4h.8M89.4 365.4h.8M87.0 348.8h.8M89.1 344.9h.8M86.0 367.3h.8M83.1 343.3h.8M84.8 357.8h.8M84.4 366.8h.8M90.3 348.0h.8M86.4 353.8h.8M83.7 360.3h.8M84.3 351.1h.8M89.6 363.9h.8M80.7 352.6h.8M92.0 367.4h.8M91.3 356.7h.8M86.7 372.2h.8M85.3 371.3h.8M86.5 365.1h.8M84.0 360.2h.8M86.3 347.4h.8M86.2 358.3h.8M82.8 367.0h.8M86.5 360.2h.8M85.4 355.2h.8M90.6 366.9h.8M87.9 351.4h.8M84.3 370.0h.8M82.2 358.0h.8M86.2 356.2h.8M87.9 350.7h.8M89.8 345.4h.8M85.8 357.8h.8M83.2 369.0h.8M85.8 368.3h.8M89.8 365.5h.8M90.9 365.2h.8M85.4 350.3h.8M87.1 347.7h.8M83.3 353.1h.8M84.7 355.2h.8M81.8 366.4h.8M85.0 355.5h.8M82.7 366.9h.8M80.5 363.9h.8M90.7 364.3h.8M80.1 370.7h.8M82.5 363.1h.8M86.6 352.0h.8M84.4 354.1h.8M85.6 353.8h.8M89.0 352.6h.8M80.9 353.2h.8M84.8 378.3h.8M87.2 361.3h.8M82.1 375.2h.8M87.4 356.8h.8M87.8 358.4h.8M91.8 364.8h.8M86.1 358.5h.8M90.7 348.6h.8M84.2 349.3h.8M83.9 352.3h.8M81.2 374.1h.8M88.8 355.7h.8M84.7 373.5h.8M84.2 364.0h.8M88.1 358.1h.8M79.9 365.7h.8M82.4 365.1h.8M82.2 349.7h.8M89.3 360.9h.8M83.6 367.2h.8M88.7 355.2h.8M89.4 364.2h.8M84.3 355.5h.8M82.4 349.1h.8M84.2 369.8h.8M88.7 361.6h.8M85.0 347.7h.8M90.2 364.8h.8M89.5 371.5h.8M90.2 357.5h.8M86.0 346.4h.8M87.2 373.9h.8M87.0 351.6h.8M89.0 345.9h.8M84.8 369.5h.8M81.2 363.3h.8M84.1 357.6h.8M90.9 363.3h.8M82.0 358.8h.8M86.5 353.2h.8M90.1 355.0h.8M86.8 365.2h.8M87.0 350.7h.8M84.8 345.3h.8M86.0 352.6h.8M80.9 349.8h.8M85.6 363.2h.8M86.5 357.0h.8M83.8 369.8h.8M87.2 353.2h.8M86.5 361.3h.8M85.3 374.8h.8M84.4 365.2h.8M85.5 378.1h.8M82.0 363.3h.8M80.3 370.6h.8M90.3 361.2h.8M84.4 358.8h.8M82.7 358.4h.8M84.4 367.9h.8M86.0 353.5h.8M85.9 370.1h.8M86.2 364.6h.8M84.5 357.7h.8M87.2 352.2h.8M88.8 352.9h.8M91.2 349.5h.8M90.7 349.1h.8M84.8 351.9h.8M89.4 352.3h.8M90.0 353.7h.8M83.5 360.5h.8M83.1 369.8h.8M92.1 351.7h.8M89.8 369.7h.8M88.4 362.7h.8M88.1 352.6h.8M89.9 365.4h.8M89.8 350.2h.8M87.1 367.9h.8M82.3 372.8h.8M81.2 352.3h.8M81.1 365.4h.8M86.9 363.0h.8M87.4 348.8h.8M84.5 353.3h.8M89.2 359.1h.8M89.0 359.2h.8M86.6 351.2h.8M85.4 360.3h.8M87.7 350.1h.8M82.8 349.4h.8M86.7 356.9h.8M90.2 366.5h.8M83.4 368.1h.8M86.5 354.7h.8M81.6 354.8h.8M82.4 356.8h.8M92.4 349.3h.8M86.1 350.8h.8M88.4 378.3h.8M83.7 352.3h.8M87.8 367.4h.8M87.5 355.1h.8M85.8 358.6h.8M91.8 352.2h.8M88.8 372.8h.8M85.0 351.8h.8M86.8 360.2h.8M83.3 355.9h.8M85.7 371.9h.8M93.8 359.9h.8M80.6 370.8h.8M84.2 362.4h.8M83.5 359.5h.8M90.5 367.3h.8M89.4 351.8h.8M82.7 370.5h.8M88.4 350.3h.8M88.4 353.5h.8M84.1 353.1h.8M82.9 353.6h.8M88.8 352.5h.8M90.1 353.2h.8M89.3 357.0h.8M91.2 358.8h.8M90.6 364.0h.8M82.7 356.6h.8M86.0 362.5h.8M83.8 351.5h.8M87.5 350.9h.8M84.9 355.4h.8M83.2 363.9h.8M88.6 351.7h.8M86.5 348.3h.8M83.9 347.0h.8M85.7 359.5h.8M83.3 347.0h.8M83.2 346.8h.8M90.4 373.8h.8M86.0 368.0h.8M84.6 358.7h.8M85.3 352.8h.8M87.5 373.2h.8M82.4 369.6h.8M82.0 354.0h.8M85.6 358.0h.8M79.8 361.6h.8M79.4 358.8h.8M84.2 354.9h.8M88.5 380.8h.8M85.6 386.7h.8M82.5 362.0h.8M87.1 406.6h.8M86.7 377.1h.8M83.6 376.6h.8M85.2 374.3h.8M86.6 403.6h.8M87.2 375.6h.8M79.0 405.1h.8M88.0 406.6h.8M79.4 391.9h.8M84.5 395.9h.8M84.8 388.3h.8M85.4 396.2h.8M85.7 391.4h.8M88.2 372.4h.8M88.4 390.5h.8M88.7 397.0h.8M86.7 407.5h.8M82.7 386.8h.8M90.2 373.3h.8M79.7 395.7h.8M83.4 391.5h.8M86.2 386.0h.8M85.4 408.3h.8M78.2 368.6h.8M83.9 383.3h.8M86.8 382.1h.8M86.3 376.7h.8M82.4 385.4h.8M88.1 403.5h.8M82.6 402.8h.8M91.3 398.6h.8M89.6 398.1h.8M87.2 384.2h.8M87.1 398.8h.8M84.4 367.5h.8M91.9 384.7h.8M84.1 386.8h.8M93.6 401.7h.8M86.8 385.8h.8M84.8 394.6h.8M89.6 396.8h.8M85.7 388.6h.8M81.3 391.5h.8M90.5 377.8h.8M79.0 394.9h.8M93.2 406.0h.8M82.9 388.1h.8M83.7 403.2h.8M83.4 390.0h.8M87.4 387.7h.8M89.3 394.0h.8M86.7 387.3h.8M92.0 377.5h.8M84.1 382.2h.8M88.3 373.1h.8M89.8 361.7h.8M95.2 388.3h.8M82.7 385.0h.8M83.4 392.9h.8M90.4 400.9h.8M78.6 400.3h.8M88.7 385.1h.8M87.4 377.1h.8M85.7 364.1h.8M87.3 379.9h.8M83.4 386.1h.8M85.1 407.9h.8M87.3 404.8h.8M78.7 374.7h.8M88.8 397.0h.8M78.7 401.4h.8M87.3 365.9h.8M83.9 369.2h.8M79.5 370.3h.8M89.0 402.0h.8M91.7 391.3h.8M83.3 397.4h.8M89.8 399.8h.8M83.5 394.5h.8M91.9 367.5h.8M85.9 385.6h.8M85.6 406.6h.8M87.7 406.1h.8M80.4 399.9h.8M87.9 398.5h.8M89.7 382.8h.8M90.3 373.1h.8M84.3 382.1h.8M89.0 387.3h.8M84.3 384.7h.8M87.0 382.1h.8M85.9 399.6h.8M80.6 393.4h.8M93.5 389.4h.8M86.4 402.8h.8M87.7 390.9h.8M87.1 395.6h.8M82.2 404.0h.8M83.9 405.1h.8M82.1 388.2h.8M86.4 399.0h.8M85.7 377.2h.8M81.6 383.4h.8M78.2 370.7h.8M88.3 363.2h.8M93.4 390.2h.8M88.9 386.1h.8M78.6 379.3h.8M89.4 380.9h.8M87.4 407.8h.8M87.2 402.4h.8M84.0 377.7h.8M81.5 406.3h.8M87.6 384.3h.8M77.8 373.5h.8M83.5 370.1h.8M84.6 372.5h.8M81.5 400.6h.8M90.0 369.9h.8M86.8 386.0h.8M89.3 405.3h.8M83.8 390.7h.8M91.6 402.3h.8M88.9 402.8h.8M81.6 390.8h.8M86.9 391.3h.8M83.2 399.9h.8M83.8 408.1h.8M86.6 375.0h.8M84.8 401.7h.8M84.8 391.7h.8M84.3 405.5h.8M87.5 372.0h.8M87.1 401.8h.8M91.5 392.0h.8M87.9 394.5h.8M86.1 394.8h.8M85.4 390.4h.8M97.3 405.7h.8M86.6 399.8h.8M90.1 394.1h.8M85.7 391.9h.8M94.1 377.8h.8M87.8 377.8h.8M80.7 385.4h.8M87.6 400.6h.8M82.4 381.1h.8M84.5 409.1h.8M89.2 390.8h.8M81.4 371.7h.8M84.0 399.9h.8M83.3 397.4h.8M92.2 397.1h.8M89.1 402.0h.8M91.0 375.4h.8M89.5 368.9h.8M81.2 401.2h.8M89.4 390.8h.8M87.3 389.4h.8M84.9 393.8h.8M84.0 392.5h.8M88.9 370.4h.8M91.8 394.4h.8M84.4 398.3h.8M78.9 379.9h.8M89.7 387.0h.8M86.4 383.2h.8M90.0 375.0h.8M80.2 359.5h.8M83.6 373.8h.8M81.8 375.4h.8M96.8 378.6h.8M86.4 370.7h.8M86.0 390.5h.8M84.3 394.5h.8M86.8 401.9h.8M90.9 387.6h.8M81.4 402.6h.8M86.0 397.0h.8M92.2 406.5h.8M86.3 394.2h.8M85.6 384.0h.8M88.6 400.0h.8M84.1 387.2h.8M86.0 399.6h.8M79.9 387.9h.8M84.5 385.4h.8M83.7 393.5h.8M86.4 388.5h.8M85.9 391.3h.8M82.3 401.8h.8M83.1 399.5h.8M81.0 397.4h.8M88.2 402.0h.8M88.8 381.1h.8M89.5 389.3h.8M78.6 394.5h.8M88.9 400.9h.8M88.9 374.0h.8M86.0 406.5h.8M86.4 393.5h.8M87.0 367.1h.8M85.6 366.7h.8M88.4 387.8h.8M83.5 395.7h.8M79.0 369.5h.8M88.3 397.0h.8M89.6 372.4h.8M85.8 393.5h.8M88.7 394.9h.8M93.3 378.5h.8M87.1 398.3h.8M77.9 407.7h.8M94.9 393.5h.8M81.3 380.2h.8M80.1 407.5h.8M92.9 407.9h.8M87.7 381.5h.8M85.9 392.7h.8M84.6 366.1h.8M90.8 395.2h.8M84.4 393.5h.8M77.4 400.0h.8M84.2 374.4h.8M88.0 406.3h.8M80.6 384.0h.8M87.8 381.8h.8M86.4 387.9h.8M86.6 367.4h.8M86.2 406.4h.8M89.8 382.2h.8M85.0 374.3h.8M88.6 402.8h.8M82.9 370.4h.8M90.0 409.0h.8M81.7 366.4h.8M97.1 377.1h.8M86.0 397.5h.8M89.7 371.8h.8M87.9 395.2h.8M88.0 398.6h.8M93.4 378.3h.8M86.5 365.3h.8M90.0 396.4h.8M86.6 402.0h.8M84.3 393.3h.8M84.8 398.1h.8M85.5 391.4h.8M91.7 395.4h.8M84.8 384.6h.8M87.2 408.1h.8M85.2 394.4h.8M83.4 381.5h.8M87.7 400.4h.8M90.9 387.7h.8M86.5 389.1h.8M89.8 383.1h.8M83.5 388.1h.8M85.9 396.9h.8M85.0 377.6h.8M86.6 357.7h.8M84.0 380.2h.8M90.8 397.8h.8M86.7 377.6h.8M93.7 394.2h.8M85.7 387.9h.8M89.2 397.9h.8M89.9 385.9h.8M86.6 405.7h.8M84.9 395.8h.8M84.9 402.1h.8M80.3 388.3h.8M91.2 387.5h.8M88.6 389.0h.8M76.3 381.7h.8M93.4 381.1h.8M88.5 386.3h.8M85.6 396.4h.8M86.6 404.3h.8M86.0 369.0h.8M92.3 404.5h.8M89.8 384.7h.8M90.2 386.7h.8M85.3 376.6h.8M86.6 397.2h.8M82.2 391.5h.8M94.1 391.5h.8M85.8 389.7h.8M82.7 404.1h.8M93.1 398.7h.8M79.6 388.2h.8M89.9 403.1h.8M83.9 374.9h.8M84.5 398.2h.8M85.6 407.5h.8M89.2 390.3h.8M84.4 397.1h.8M84.4 380.5h.8M88.3 384.2h.8M78.0 383.5h.8M85.9 398.9h.8M80.7 377.3h.8M92.4 392.8h.8M85.7 402.8h.8M89.6 391.8h.8M83.5 375.2h.8M88.4 389.0h.8M86.1 396.5h.8M83.1 400.1h.8M84.2 380.9h.8M82.5 372.6h.8M90.7 401.7h.8M89.7 383.2h.8M92.8 389.0h.8M87.9 397.3h.8M81.4 384.0h.8M85.0 393.7h.8M83.3 386.1h.8M90.6 384.8h.8M82.5 389.6h.8M87.8 379.0h.8M90.6 379.1h.8M84.1 366.5h.8M86.4 383.5h.8M88.7 372.7h.8M80.7 394.7h.8M83.3 379.7h.8M92.3 375.0h.8M82.3 385.8h.8M90.0 383.0h.8M90.0 356.3h.8M89.6 387.1h.8M88.6 388.5h.8M84.8 392.8h.8M82.7 406.3h.8M86.6 405.0h.8M83.9 402.0h.8M88.9 374.4h.8M87.1 402.5h.8M90.8 387.8h.8M80.9 394.0h.8M86.5 404.9h.8M86.4 383.0h.8M78.9 385.0h.8M89.7 404.5h.8M81.8 395.6h.8M86.3 395.6h.8M85.0 408.4h.8M79.2 403.0h.8M89.9 382.7h.8M89.1 395.8h.8M83.9 400.0h.8M87.7 387.1h.8M83.8 380.8h.8M84.7 394.7h.8M77.2 384.5h.8M90.0 385.9h.8M85.7 373.5h.8M86.6 388.8h.8M88.1 377.7h.8M79.6 380.5h.8M87.6 373.8h.8M87.1 394.1h.8M83.6 392.3h.8M84.0 385.9h.8M86.4 403.1h.8M88.9 393.7h.8M84.7 374.3h.8M88.0 387.0h.8M83.4 375.6h.8M88.5 409.0h.8" stroke="#000" stroke-opacity="0.34" stroke-width="0.8" fill="none" filter="url(#bd)"/>
<rect x="28.8" y="342.3" width="71.40" height="67.30" fill="none" stroke="#5c5c5c" stroke-width="0.9"/>
<line x1="74.2" y1="342.3" x2="74.2" y2="409.6" stroke="#747474" stroke-width="0.7" />
<line x1="28.8" y1="379.2" x2="100.2" y2="379.2" stroke="#747474" stroke-width="0.7" />
<text transform="translate(24.6,416.9) scale(0.86,1)" font-family='"Liberation Sans", sans-serif' font-size="6.7" fill="#3a3a3a">10<tspan dy="-2.7" font-size="4.8">0</tspan></text>
<text transform="translate(25.6,414.5) rotate(-90) scale(0.86,1)" font-family='"Liberation Sans", sans-serif' font-size="6.7" fill="#3a3a3a">10<tspan dy="-2.7" font-size="4.8">0</tspan></text>
<line x1="28.8" y1="409.6" x2="28.8" y2="411.20000000000005" stroke="#444" stroke-width="0.6" />
<line x1="27.2" y1="409.6" x2="28.8" y2="409.6" stroke="#444" stroke-width="0.6" />
<text transform="translate(42.5,416.9) scale(0.86,1)" font-family='"Liberation Sans", sans-serif' font-size="6.7" fill="#3a3a3a">10<tspan dy="-2.7" font-size="4.8">1</tspan></text>
<text transform="translate(25.6,397.7) rotate(-90) scale(0.86,1)" font-family='"Liberation Sans", sans-serif' font-size="6.7" fill="#3a3a3a">10<tspan dy="-2.7" font-size="4.8">1</tspan></text>
<line x1="46.650000000000006" y1="409.6" x2="46.650000000000006" y2="411.20000000000005" stroke="#444" stroke-width="0.6" />
<line x1="27.2" y1="392.77500000000003" x2="28.8" y2="392.77500000000003" stroke="#444" stroke-width="0.6" />
<text transform="translate(60.3,416.9) scale(0.86,1)" font-family='"Liberation Sans", sans-serif' font-size="6.7" fill="#3a3a3a">10<tspan dy="-2.7" font-size="4.8">2</tspan></text>
<text transform="translate(25.6,380.9) rotate(-90) scale(0.86,1)" font-family='"Liberation Sans", sans-serif' font-size="6.7" fill="#3a3a3a">10<tspan dy="-2.7" font-size="4.8">2</tspan></text>
<line x1="64.5" y1="409.6" x2="64.5" y2="411.20000000000005" stroke="#444" stroke-width="0.6" />
<line x1="27.2" y1="375.95000000000005" x2="28.8" y2="375.95000000000005" stroke="#444" stroke-width="0.6" />
<text transform="translate(78.2,416.9) scale(0.86,1)" font-family='"Liberation Sans", sans-serif' font-size="6.7" fill="#3a3a3a">10<tspan dy="-2.7" font-size="4.8">3</tspan></text>
<text transform="translate(25.6,364.0) rotate(-90) scale(0.86,1)" font-family='"Liberation Sans", sans-serif' font-size="6.7" fill="#3a3a3a">10<tspan dy="-2.7" font-size="4.8">3</tspan></text>
<line x1="82.35000000000001" y1="409.6" x2="82.35000000000001" y2="411.20000000000005" stroke="#444" stroke-width="0.6" />
<line x1="27.2" y1="359.125" x2="28.8" y2="359.125" stroke="#444" stroke-width="0.6" />
<text transform="translate(96.0,416.9) scale(0.86,1)" font-family='"Liberation Sans", sans-serif' font-size="6.7" fill="#3a3a3a">10<tspan dy="-2.7" font-size="4.8">4</tspan></text>
<text transform="translate(25.6,347.2) rotate(-90) scale(0.86,1)" font-family='"Liberation Sans", sans-serif' font-size="6.7" fill="#3a3a3a">10<tspan dy="-2.7" font-size="4.8">4</tspan></text>
<line x1="100.2" y1="409.6" x2="100.2" y2="411.20000000000005" stroke="#444" stroke-width="0.6" />
<line x1="27.2" y1="342.3" x2="28.8" y2="342.3" stroke="#444" stroke-width="0.6" />
<path d="M153.7 407.7h.8M181.0 382.4h.8M179.9 400.9h.8M185.4 390.0h.8M167.9 381.0h.8M153.4 406.0h.8M189.1 395.1h.8M205.4 402.8h.8M195.1 397.0h.8M167.5 390.9h.8M207.9 388.6h.8M159.9 381.3h.8M194.6 383.6h.8M169.9 392.0h.8M149.0 387.3h.8M191.5 395.0h.8M178.4 389.9h.8M205.9 403.4h.8M216.5 398.0h.8M187.3 395.3h.8M204.0 393.2h.8M170.8 407.4h.8M189.1 380.4h.8M215.3 403.7h.8M195.6 379.8h.8M212.9 406.5h.8M199.7 381.8h.8M151.3 401.4h.8M177.7 408.2h.8M204.7 389.7h.8M191.7 388.8h.8M176.5 399.8h.8M149.9 393.3h.8M155.4 401.2h.8M206.5 397.3h.8M159.8 392.4h.8M181.0 382.7h.8M156.7 405.5h.8M184.5 397.8h.8M162.4 391.1h.8M208.8 380.8h.8M154.6 383.0h.8M158.5 380.7h.8M167.1 399.4h.8M187.5 389.6h.8M149.2 405.9h.8M206.3 393.9h.8M176.1 390.5h.8M206.5 404.2h.8M157.6 385.6h.8M166.3 382.2h.8M204.9 398.5h.8M212.5 379.4h.8M170.5 407.2h.8M171.0 389.7h.8M165.0 394.8h.8M201.0 404.8h.8M169.1 399.1h.8M154.9 398.2h.8M151.1 383.2h.8M167.7 382.2h.8M161.4 385.4h.8M172.5 402.4h.8M150.2 388.6h.8M166.3 392.1h.8M181.9 406.1h.8M192.5 407.7h.8M174.1 384.7h.8M179.4 386.1h.8M193.5 402.3h.8M188.2 382.4h.8M202.0 383.1h.8M203.0 386.3h.8M158.8 401.9h.8M155.8 383.3h.8M175.4 392.9h.8M198.3 389.0h.8M217.1 395.0h.8M161.5 404.8h.8M173.5 391.5h.8M208.1 395.0h.8M193.6 394.7h.8M204.2 395.1h.8M153.2 379.1h.8M168.5 403.8h.8M163.7 406.0h.8M183.9 388.0h.8M196.2 408.3h.8M172.6 401.0h.8M173.5 380.0h.8M172.3 382.8h.8M200.2 386.8h.8M176.6 387.5h.8M207.7 381.0h.8M173.8 393.4h.8M196.7 396.6h.8M149.5 391.8h.8M191.6 381.5h.8M206.5 396.5h.8M213.4 383.1h.8M160.9 403.7h.8M215.1 404.7h.8M182.9 398.5h.8M179.4 377.7h.8M158.6 389.8h.8M210.9 392.1h.8M168.5 385.5h.8M213.0 401.2h.8M207.7 378.6h.8M164.3 392.0h.8M211.8 406.8h.8M212.2 382.7h.8M163.1 398.5h.8M191.8 386.0h.8M214.6 399.3h.8M202.1 395.5h.8M176.2 378.4h.8M149.1 396.7h.8M179.1 387.3h.8M154.0 383.9h.8M194.3 407.2h.8M190.2 406.8h.8M160.2 407.1h.8M172.7 392.1h.8M196.4 379.7h.8M197.9 388.9h.8M163.0 391.7h.8M155.8 392.8h.8M151.4 396.2h.8M197.0 379.3h.8M154.7 388.2h.8M199.6 400.4h.8M184.4 388.5h.8M214.7 408.7h.8M211.2 404.3h.8M176.3 388.1h.8M195.8 390.8h.8M167.6 400.3h.8M165.8 380.6h.8M173.6 380.3h.8M160.8 391.3h.8M157.3 405.0h.8M157.9 397.1h.8M217.7 396.4h.8M159.8 407.4h.8M184.9 403.1h.8M199.8 382.9h.8M189.4 404.1h.8M175.9 395.8h.8M204.9 398.7h.8M164.4 385.5h.8M191.1 385.4h.8M207.6 397.8h.8M196.4 406.7h.8M176.1 408.7h.8M165.8 396.2h.8M203.1 401.8h.8M215.5 397.1h.8M206.8 405.6h.8M170.2 398.8h.8M212.2 387.0h.8M177.6 397.1h.8M191.5 382.1h.8M213.5 406.6h.8M177.8 402.8h.8M176.9 378.9h.8M179.6 403.7h.8M157.0 405.8h.8M214.7 399.2h.8M215.3 378.3h.8M197.9 386.2h.8M192.5 403.9h.8M150.5 402.1h.8M157.7 399.5h.8M213.9 389.8h.8M167.1 399.7h.8M171.0 407.5h.8M196.6 396.7h.8M176.3 404.5h.8M163.1 400.7h.8M212.5 395.9h.8M195.5 395.8h.8M183.7 385.8h.8M205.2 408.9h.8M208.8 397.2h.8M178.8 383.5h.8M204.4 385.8h.8M163.6 390.2h.8M154.2 392.5h.8M195.9 393.3h.8M189.4 402.9h.8M189.0 405.5h.8M156.5 385.2h.8M175.3 401.9h.8M202.6 385.6h.8M207.0 393.8h.8M177.5 405.2h.8M189.5 389.7h.8M169.2 397.6h.8M214.2 404.5h.8M166.5 407.0h.8M152.5 385.5h.8M165.3 397.7h.8M213.3 403.9h.8M172.9 392.6h.8M192.0 389.5h.8M205.5 404.6h.8M169.0 395.4h.8M160.8 381.2h.8M177.8 390.6h.8M193.4 403.9h.8M188.4 398.0h.8M194.1 385.1h.8M177.0 402.0h.8M165.0 384.0h.8M201.2 407.2h.8M176.6 378.9h.8M165.1 388.7h.8M200.1 386.3h.8M157.4 385.4h.8M155.5 383.0h.8M189.4 386.8h.8M168.0 385.9h.8M173.4 393.2h.8M152.3 377.7h.8M161.8 390.0h.8M170.7 405.0h.8M199.4 407.1h.8M175.1 383.6h.8M169.8 388.3h.8M153.4 389.4h.8M190.6 394.2h.8M199.8 383.2h.8M192.9 399.6h.8M213.2 383.4h.8M208.7 385.5h.8M200.4 404.2h.8M215.3 397.5h.8M149.9 407.7h.8M158.6 408.7h.8M160.2 399.6h.8M159.0 397.3h.8M158.0 407.7h.8M177.1 394.0h.8M187.9 404.0h.8M207.1 403.6h.8M183.4 392.1h.8M202.4 394.0h.8M204.5 388.7h.8M184.2 384.5h.8M211.8 387.5h.8M162.1 408.5h.8M214.2 380.0h.8M177.2 380.1h.8M216.2 400.8h.8M198.0 393.5h.8M150.6 406.7h.8M201.0 391.9h.8M176.9 406.6h.8M157.2 405.2h.8M196.1 390.2h.8M166.1 396.1h.8M201.2 393.7h.8M170.1 392.1h.8M198.3 388.6h.8M160.7 380.0h.8M172.5 383.4h.8M198.0 396.1h.8M164.6 381.6h.8M196.5 403.2h.8M191.3 405.5h.8M208.4 384.8h.8M197.0 384.7h.8M213.0 396.9h.8M177.4 388.4h.8M174.2 391.0h.8M200.3 379.2h.8M209.0 380.4h.8M207.9 404.1h.8M213.6 398.9h.8M202.1 401.8h.8M181.3 397.0h.8M198.0 397.5h.8M209.6 408.1h.8M161.1 392.8h.8M181.0 393.2h.8M166.8 397.8h.8M215.8 386.2h.8M174.1 378.5h.8M215.5 401.1h.8M174.0 401.0h.8M216.9 394.5h.8M149.6 384.4h.8M215.0 392.7h.8M205.5 380.7h.8M158.1 387.7h.8M207.8 387.4h.8M170.1 379.3h.8M169.0 396.2h.8M150.4 405.9h.8M169.7 409.0h.8M157.5 403.5h.8M209.6 377.7h.8M190.9 402.4h.8M201.2 389.3h.8M196.9 382.6h.8M177.5 380.8h.8M186.4 398.5h.8M170.8 379.7h.8M161.6 382.4h.8M208.0 404.8h.8M160.2 389.8h.8M206.7 395.4h.8M208.8 383.3h.8M170.1 385.0h.8M202.8 392.8h.8M193.8 391.5h.8M155.4 394.9h.8M202.8 407.5h.8M167.6 395.3h.8M162.4 383.9h.8M173.4 401.6h.8M203.3 387.0h.8M155.1 384.7h.8M151.1 406.1h.8M187.4 385.8h.8M165.2 379.8h.8M208.4 383.7h.8M166.6 400.1h.8M197.4 388.7h.8M197.0 381.2h.8M208.1 404.2h.8M149.0 391.2h.8M201.2 406.5h.8M168.0 383.3h.8M207.8 389.5h.8M213.1 400.5h.8M179.0 405.8h.8M213.4 390.1h.8M202.7 401.6h.8M197.9 378.1h.8M218.1 388.2h.8M182.3 380.0h.8M174.3 403.8h.8M168.2 391.3h.8M149.7 390.4h.8M194.9 377.8h.8M164.5 406.4h.8M171.3 403.8h.8M168.8 403.9h.8M180.0 386.5h.8M194.3 390.3h.8M159.6 396.7h.8M198.2 383.7h.8M156.7 389.7h.8M214.1 381.6h.8M169.5 379.7h.8M211.4 384.9h.8M201.4 381.1h.8M165.7 399.4h.8M175.4 397.1h.8M157.9 397.7h.8M204.8 378.6h.8M198.2 393.9h.8M161.7 384.9h.8M163.8 378.1h.8M204.3 380.4h.8M181.6 409.0h.8M161.0 399.7h.8M184.8 393.0h.8M210.8 402.3h.8M195.5 395.5h.8M184.6 378.0h.8M175.9 393.0h.8M176.6 382.6h.8M172.4 397.6h.8M151.1 393.7h.8M169.4 383.1h.8M202.3 387.1h.8M208.5 387.1h.8M189.1 400.2h.8M149.9 408.7h.8M192.7 383.7h.8M161.2 393.0h.8M169.8 381.4h.8M198.8 405.5h.8M171.9 385.8h.8M205.8 401.6h.8M194.6 384.9h.8M203.2 403.6h.8M162.0 385.4h.8M175.5 383.2h.8M208.3 388.4h.8M192.3 401.4h.8M206.7 387.4h.8M157.5 382.3h.8M210.8 397.3h.8M150.4 388.3h.8M152.1 387.4h.8M157.6 389.6h.8M167.5 380.5h.8M162.6 403.5h.8M161.2 382.3h.8M196.3 380.4h.8M196.3 395.4h.8M154.5 394.3h.8M201.9 392.1h.8M149.7 407.8h.8M198.1 404.6h.8M152.7 407.1h.8M153.1 398.6h.8M160.2 379.3h.8M155.3 383.7h.8M185.3 401.7h.8M156.0 381.1h.8M150.9 408.5h.8M186.4 390.4h.8M183.2 404.7h.8M168.5 393.6h.8M207.6 405.6h.8M182.7 383.8h.8M202.7 402.6h.8M157.3 391.1h.8M210.7 398.8h.8M171.2 379.4h.8M209.5 391.2h.8M203.5 386.0h.8M181.3 378.3h.8M208.6 397.4h.8M153.6 384.3h.8M183.9 405.8h.8M189.0 391.4h.8M161.1 399.9h.8M208.2 405.1h.8M190.5 382.6h.8M155.2 390.1h.8M183.1 398.8h.8M192.5 396.7h.8M162.3 395.1h.8M173.0 395.5h.8M203.7 402.6h.8M215.1 385.3h.8M210.9 404.7h.8M216.6 397.8h.8M171.7 399.8h.8M211.3 402.3h.8M160.8 387.8h.8M198.0 380.5h.8M190.7 393.4h.8M212.9 382.2h.8M181.8 398.4h.8M188.2 390.5h.8M215.9 392.9h.8M173.0 403.8h.8M199.9 388.9h.8M208.0 383.6h.8M195.4 385.6h.8M184.8 403.6h.8M216.7 385.8h.8M218.2 382.4h.8M178.4 388.3h.8M209.5 383.5h.8M198.3 395.2h.8M213.4 392.5h.8M187.1 393.3h.8M155.9 389.8h.8M203.5 396.5h.8M158.7 393.4h.8M189.9 402.0h.8M159.6 397.1h.8M160.3 394.4h.8M153.9 390.8h.8M205.0 387.0h.8M201.4 396.3h.8M166.7 403.6h.8M202.7 399.0h.8M157.4 382.6h.8M163.5 398.7h.8M186.2 389.0h.8M157.3 380.0h.8M206.7 380.9h.8M205.6 389.6h.8M165.6 394.4h.8M162.7 404.5h.8M201.4 386.6h.8M188.7 399.0h.8M175.8 392.5h.8M204.9 402.7h.8M159.4 379.8h.8M153.8 389.4h.8M152.1 386.8h.8M177.5 398.8h.8M177.3 408.6h.8M184.9 381.6h.8M218.7 382.0h.8M192.2 402.9h.8M165.9 379.5h.8M163.6 388.8h.8M173.1 402.5h.8M172.5 382.0h.8M194.7 407.9h.8M165.4 380.6h.8M176.9 392.9h.8M179.9 398.6h.8M173.6 385.4h.8M216.1 383.4h.8M191.1 379.3h.8M177.8 390.1h.8M198.7 405.5h.8M173.8 403.8h.8M154.7 394.6h.8M160.3 406.3h.8M192.9 392.0h.8M188.6 407.0h.8M204.2 401.9h.8M156.6 398.2h.8M154.8 406.0h.8M187.9 385.5h.8M173.0 383.4h.8M215.1 392.7h.8M208.7 380.3h.8M151.0 394.6h.8M196.2 396.0h.8M205.8 399.4h.8M201.6 405.8h.8M207.2 380.0h.8M218.7 403.6h.8M158.2 391.9h.8M183.7 378.3h.8M185.7 398.1h.8M167.0 402.8h.8M210.0 391.3h.8M150.3 381.2h.8M209.3 403.7h.8M168.9 384.6h.8M176.1 390.3h.8M156.5 389.4h.8M151.4 408.1h.8M189.8 382.9h.8M162.8 405.8h.8M157.3 392.2h.8M149.3 404.8h.8M151.3 386.1h.8M163.1 382.3h.8M198.1 401.2h.8M149.1 401.6h.8M210.9 389.4h.8M174.3 398.9h.8M206.4 403.5h.8M217.2 398.9h.8M165.5 404.3h.8M155.6 383.7h.8M192.9 387.6h.8M201.1 386.3h.8M213.4 403.8h.8M187.7 400.3h.8M167.2 379.7h.8M216.3 378.5h.8M153.0 400.0h.8M155.9 406.9h.8M182.5 398.3h.8M186.6 409.0h.8M173.2 395.6h.8M200.0 393.0h.8M152.3 401.8h.8M191.5 401.8h.8M166.7 389.3h.8M209.0 386.9h.8M196.0 383.7h.8M213.5 407.1h.8M176.1 402.5h.8M167.4 379.9h.8M152.1 398.2h.8M218.1 381.8h.8M195.3 378.7h.8M149.5 379.0h.8M151.0 394.0h.8M186.4 406.3h.8M201.4 381.2h.8M188.5 384.5h.8M163.7 402.0h.8M161.7 383.7h.8M198.9 382.8h.8M151.9 408.2h.8M151.1 387.4h.8M208.5 404.0h.8M169.2 385.2h.8M199.2 381.3h.8M194.2 384.6h.8M199.1 382.3h.8M195.5 408.7h.8M193.4 395.4h.8M184.2 402.1h.8M205.5 402.9h.8M173.4 382.3h.8M186.0 398.6h.8M177.8 384.4h.8M151.3 388.5h.8M152.1 386.0h.8M152.1 380.5h.8M174.6 383.6h.8M204.6 400.0h.8M162.9 406.0h.8M167.5 399.0h.8M195.9 397.2h.8M186.1 389.7h.8M196.2 408.7h.8M157.0 404.1h.8M188.8 403.6h.8M209.0 402.5h.8M173.7 393.4h.8M196.5 391.4h.8M157.4 401.8h.8M212.8 387.3h.8M200.4 403.4h.8M168.3 395.0h.8M203.3 378.2h.8M162.4 400.2h.8M152.1 386.5h.8M177.7 408.7h.8M181.5 378.7h.8M204.1 385.7h.8M188.8 386.0h.8M155.8 379.2h.8M211.0 390.0h.8M186.3 382.0h.8M157.3 383.4h.8M183.5 399.0h.8M195.0 401.3h.8M208.3 408.2h.8M167.0 401.2h.8M200.7 382.7h.8M163.4 403.6h.8M178.8 390.2h.8M150.9 390.4h.8M172.1 397.1h.8M158.3 394.1h.8M214.5 378.0h.8M211.6 395.1h.8M171.0 381.5h.8M213.2 388.7h.8M172.0 406.2h.8M166.7 397.2h.8M204.9 409.0h.8M192.3 385.8h.8M195.3 382.4h.8M181.9 383.4h.8M152.6 388.3h.8M212.9 378.5h.8M150.8 386.5h.8M186.7 386.2h.8M195.8 394.9h.8M182.6 382.4h.8M159.1 389.6h.8M215.2 388.3h.8M214.6 386.4h.8M152.7 382.6h.8M164.6 380.7h.8M181.1 383.1h.8M162.5 404.6h.8M156.5 381.9h.8M169.6 394.7h.8M152.2 379.6h.8M196.6 384.6h.8M202.4 388.7h.8M207.4 401.1h.8M186.3 391.5h.8M160.2 381.9h.8M190.1 405.8h.8M188.5 390.8h.8M167.6 380.7h.8M196.7 377.9h.8M166.5 384.5h.8M162.6 399.1h.8M192.3 401.3h.8M173.1 380.1h.8M179.1 390.0h.8M155.9 382.2h.8M183.2 402.1h.8M188.3 398.8h.8M166.2 395.6h.8M214.0 400.6h.8M163.9 384.3h.8M159.5 399.6h.8M157.8 407.0h.8M180.0 386.3h.8M194.7 392.5h.8M161.9 389.0h.8M218.6 408.1h.8M196.7 405.0h.8M168.2 402.6h.8M165.2 381.7h.8M187.2 382.9h.8M178.4 379.0h.8M209.0 399.8h.8M179.1 392.6h.8M155.1 387.6h.8M174.6 408.1h.8M170.3 393.7h.8M165.2 400.6h.8M167.5 381.5h.8M212.4 403.8h.8M203.4 386.8h.8M180.4 382.2h.8M162.4 393.8h.8M173.5 396.9h.8M181.7 399.0h.8M176.5 388.5h.8M215.1 386.0h.8M159.6 404.8h.8M187.7 385.1h.8M184.6 393.0h.8M196.5 403.8h.8M207.5 396.1h.8M156.8 391.6h.8M195.5 381.6h.8M173.0 394.1h.8M202.0 406.1h.8M200.7 382.7h.8M190.4 382.0h.8M214.3 407.6h.8M199.1 400.8h.8M209.2 395.3h.8M184.4 407.9h.8M200.1 386.3h.8M177.6 398.5h.8M209.5 407.1h.8M202.8 390.9h.8M218.6 408.6h.8M172.7 386.6h.8M154.4 398.5h.8M161.8 400.7h.8M188.9 407.9h.8M155.5 393.7h.8M184.4 399.9h.8M197.1 390.3h.8M191.7 383.4h.8M187.5 388.5h.8M216.1 360.7h.8M209.3 384.9h.8M201.0 398.0h.8M206.5 347.5h.8M204.4 379.1h.8M210.8 389.9h.8M218.7 378.9h.8M202.5 381.8h.8M205.5 344.5h.8M217.6 402.1h.8M206.2 399.2h.8M200.9 385.3h.8M214.6 379.7h.8M205.4 383.5h.8M214.9 364.6h.8M200.7 379.2h.8M208.2 371.5h.8M211.1 344.2h.8M210.1 391.7h.8M207.5 406.8h.8M204.4 392.9h.8M207.2 408.5h.8M202.2 394.6h.8M202.7 348.4h.8M218.0 401.8h.8M205.2 378.3h.8M214.2 382.5h.8M209.4 349.9h.8M215.3 407.1h.8M217.3 405.9h.8M211.2 373.4h.8M208.0 379.5h.8M217.3 364.8h.8M208.9 369.5h.8M199.2 371.2h.8M212.3 404.0h.8M213.9 378.3h.8M204.7 399.6h.8M210.2 393.6h.8M201.3 356.0h.8M211.7 351.8h.8M202.7 387.1h.8M199.1 389.8h.8M202.7 381.3h.8M202.6 369.0h.8M207.1 351.7h.8M215.9 395.0h.8M207.6 356.9h.8M205.2 404.6h.8M206.6 384.5h.8M217.7 383.8h.8M218.5 396.1h.8M201.5 393.9h.8M217.4 351.6h.8M217.1 348.4h.8M211.8 390.5h.8M202.9 372.9h.8M216.6 367.2h.8M203.7 387.2h.8M199.2 391.8h.8M218.2 380.7h.8M212.4 368.1h.8M218.4 376.4h.8M212.4 375.4h.8M202.0 372.5h.8M202.6 370.9h.8M210.3 405.3h.8M206.8 392.2h.8M206.6 362.2h.8M200.6 402.1h.8M218.0 364.4h.8M199.0 364.1h.8M204.3 389.3h.8M208.7 394.5h.8M201.1 349.3h.8M209.0 384.9h.8M218.3 377.3h.8M206.8 367.0h.8M207.9 382.2h.8M214.5 343.2h.8M205.8 365.5h.8M201.8 374.0h.8M217.4 403.2h.8M218.2 381.8h.8M202.7 408.1h.8M212.6 369.1h.8M203.6 381.9h.8M204.8 354.8h.8M213.3 360.6h.8M212.2 348.5h.8M199.8 352.3h.8M215.9 381.8h.8M218.7 395.7h.8M213.5 380.9h.8M213.2 399.4h.8M216.3 360.6h.8M205.1 388.0h.8M218.0 403.9h.8M200.2 356.0h.8M212.5 350.7h.8M208.7 379.5h.8M214.4 364.6h.8M218.5 399.9h.8M211.0 373.1h.8M203.2 381.9h.8M217.6 348.0h.8M211.6 394.6h.8M216.0 370.4h.8M206.9 400.7h.8M215.0 400.7h.8M201.2 375.6h.8M216.3 384.5h.8M205.3 375.2h.8M214.2 362.7h.8M210.5 354.1h.8M215.6 375.5h.8M213.0 380.0h.8M210.5 407.7h.8M211.8 345.9h.8M218.3 388.9h.8M213.0 347.8h.8M199.1 348.4h.8M204.3 383.1h.8M207.4 385.9h.8M212.7 401.6h.8M216.4 398.8h.8M217.0 349.1h.8M210.4 352.5h.8M204.2 401.5h.8M212.5 399.9h.8M212.4 405.3h.8M208.3 346.4h.8M204.9 371.5h.8M205.2 377.1h.8M207.1 345.0h.8M215.8 382.0h.8M203.8 403.7h.8M210.0 370.9h.8M201.9 382.1h.8M217.2 405.2h.8M206.4 367.8h.8M214.4 408.1h.8M202.5 348.4h.8M204.9 397.2h.8M203.5 393.6h.8M216.7 406.9h.8M206.2 355.2h.8M216.0 358.5h.8M208.9 372.4h.8M213.6 407.8h.8M212.6 375.7h.8M212.1 368.1h.8M213.1 390.2h.8M208.0 375.9h.8M200.0 394.5h.8M212.7 388.0h.8M205.9 402.7h.8M211.9 377.3h.8M205.2 406.0h.8M209.6 372.8h.8M212.3 350.8h.8M213.2 375.4h.8M212.3 376.1h.8M200.1 394.0h.8M214.8 371.2h.8M216.6 369.5h.8M217.0 382.0h.8M206.6 345.5h.8M203.4 366.1h.8M216.6 379.2h.8M210.6 347.1h.8M201.0 368.0h.8M217.1 366.8h.8M211.0 402.2h.8M206.4 399.4h.8M213.4 407.1h.8M203.6 392.8h.8M202.2 400.7h.8M217.2 365.3h.8M206.9 393.6h.8M199.0 345.6h.8M201.0 350.6h.8M200.0 364.0h.8M215.1 356.8h.8M202.1 374.7h.8M216.4 359.8h.8M202.1 386.9h.8M213.9 389.7h.8M218.1 400.1h.8M207.1 371.8h.8M208.8 355.0h.8M209.2 397.8h.8M206.1 372.1h.8M212.9 380.5h.8M215.5 385.0h.8M201.8 353.9h.8M209.5 361.0h.8M205.6 343.4h.8M200.8 389.4h.8M210.5 349.9h.8M205.3 370.7h.8M217.8 345.5h.8M208.8 377.7h.8M209.7 379.8h.8M209.4 370.3h.8M200.7 381.2h.8M202.7 401.1h.8M207.0 350.3h.8M206.6 349.9h.8M215.3 408.6h.8M217.2 380.0h.8M211.6 404.1h.8M202.8 371.0h.8M208.2 404.8h.8M203.8 398.3h.8M217.7 407.9h.8M200.1 388.5h.8M202.5 357.3h.8M208.0 343.7h.8M199.5 383.9h.8M208.5 407.5h.8M204.1 395.2h.8M204.3 390.3h.8M205.5 383.7h.8M203.0 404.1h.8M210.8 378.2h.8M207.9 384.9h.8M201.9 351.3h.8M205.5 343.8h.8M216.2 370.4h.8M207.9 402.9h.8M210.6 369.7h.8M212.7 404.8h.8M217.1 356.5h.8M216.3 372.6h.8M208.1 347.1h.8M208.4 390.9h.8M199.6 352.5h.8M214.3 355.8h.8M199.9 399.2h.8M213.9 368.5h.8M202.8 353.8h.8M200.6 354.0h.8M207.5 384.8h.8M212.0 357.4h.8M205.9 398.7h.8M211.3 389.6h.8M201.1 388.2h.8M203.0 399.9h.8M218.5 356.7h.8M217.8 374.9h.8M207.3 392.6h.8M203.9 359.9h.8M212.4 400.8h.8M203.4 377.1h.8M213.8 381.1h.8M206.4 401.2h.8M203.9 361.1h.8M214.6 350.1h.8M215.0 405.5h.8M156.7 360.2h.8M165.5 371.4h.8M156.0 373.3h.8M179.1 362.0h.8M157.3 357.5h.8M184.3 344.3h.8M181.5 349.3h.8M170.9 363.9h.8M158.7 368.9h.8M153.4 356.0h.8M155.7 358.8h.8M157.4 356.1h.8M148.9 359.9h.8M160.1 370.7h.8M171.9 349.5h.8M177.7 357.2h.8M178.8 345.0h.8M160.5 357.5h.8M163.4 350.7h.8M170.3 348.0h.8M165.2 362.4h.8M169.5 347.6h.8" stroke="#000" stroke-opacity="0.24" stroke-width="0.8" fill="none" filter="url(#bd)"/>
<path d="M161.4 399.5h.8M167.6 403.0h.8M169.4 401.2h.8M160.9 399.8h.8M172.9 396.0h.8M160.9 395.1h.8M156.6 395.8h.8M167.4 396.6h.8M154.1 395.2h.8M170.8 395.1h.8M161.5 392.2h.8M182.2 391.3h.8M168.4 389.2h.8M158.9 404.6h.8M158.0 399.8h.8M160.2 397.4h.8M168.6 398.2h.8M156.6 398.3h.8M170.1 401.3h.8M152.7 398.8h.8M162.6 381.8h.8M168.2 399.5h.8M162.8 399.7h.8M172.4 386.9h.8M169.8 399.4h.8M167.6 384.8h.8M157.7 399.7h.8M161.3 398.8h.8M163.1 393.3h.8M156.7 401.9h.8M162.7 402.9h.8M168.8 398.8h.8M169.6 394.5h.8M172.8 397.9h.8M170.4 399.4h.8M167.5 393.0h.8M181.2 394.9h.8M161.5 399.3h.8M155.3 393.3h.8M176.8 400.2h.8M161.8 397.5h.8M152.5 402.3h.8M170.5 399.8h.8M171.0 395.1h.8M178.2 399.8h.8M178.5 398.8h.8M166.0 391.0h.8M161.3 402.0h.8M172.0 398.2h.8M151.7 390.9h.8M159.6 393.3h.8M165.1 400.4h.8M166.7 403.0h.8M175.8 401.3h.8M166.3 385.9h.8M163.6 396.8h.8M153.8 389.8h.8M167.9 395.8h.8M152.8 398.6h.8M164.4 398.8h.8M159.8 406.8h.8M156.0 387.1h.8M169.0 393.0h.8M154.8 391.1h.8M161.2 398.4h.8M167.3 397.4h.8M171.5 401.7h.8M166.7 402.2h.8M186.8 403.8h.8M178.1 391.3h.8M163.7 397.5h.8M164.4 394.7h.8M170.9 394.8h.8M172.6 395.3h.8M157.9 394.0h.8M160.5 401.6h.8M169.0 397.8h.8M165.8 394.8h.8M154.2 397.8h.8M160.2 397.2h.8M175.8 401.1h.8M162.3 398.6h.8M168.8 404.0h.8M171.6 399.6h.8M178.3 391.4h.8M162.9 399.7h.8M161.8 400.0h.8M174.3 388.1h.8M154.5 400.5h.8M167.0 395.8h.8M169.6 402.6h.8M172.9 398.4h.8M171.3 397.8h.8M153.2 392.8h.8M163.8 399.5h.8M153.4 398.7h.8M176.6 391.4h.8M172.0 399.4h.8M167.1 395.8h.8M160.4 398.5h.8M167.7 401.1h.8M163.4 401.9h.8M160.0 399.1h.8M169.2 394.3h.8M159.4 396.3h.8M178.8 406.7h.8M164.5 403.5h.8M176.7 394.7h.8M170.1 395.3h.8M151.0 391.5h.8M163.2 397.6h.8M152.4 396.5h.8M150.8 403.9h.8M186.8 398.0h.8M186.2 390.2h.8M177.3 405.9h.8M180.7 396.5h.8M160.6 387.3h.8M173.6 393.0h.8M156.2 398.2h.8M171.6 397.2h.8M165.3 398.2h.8M168.7 399.2h.8M177.9 404.6h.8M159.2 394.3h.8M174.6 389.5h.8M175.0 402.2h.8M173.8 398.5h.8M178.4 392.4h.8M158.0 398.1h.8M167.4 402.3h.8M152.1 398.6h.8M172.4 390.4h.8M170.0 395.9h.8M162.1 390.7h.8M153.4 394.4h.8M175.5 390.5h.8M158.4 401.2h.8M162.4 393.2h.8M169.9 397.0h.8M174.0 397.0h.8M164.2 389.0h.8M162.5 395.4h.8M159.4 394.6h.8M160.4 393.6h.8M163.8 397.0h.8M186.6 393.8h.8M174.4 398.5h.8M162.9 393.2h.8M173.5 394.9h.8M175.9 406.6h.8M166.6 391.7h.8M171.7 391.5h.8M157.4 394.4h.8M158.7 403.9h.8M181.6 393.6h.8M179.7 399.8h.8M165.2 399.9h.8M177.1 399.3h.8M160.6 398.6h.8M161.5 399.7h.8M182.3 401.9h.8M158.0 402.9h.8M176.3 400.8h.8M172.6 390.3h.8M169.5 388.4h.8M160.6 385.5h.8M173.7 403.3h.8M171.4 398.5h.8M179.1 402.6h.8M174.5 403.6h.8M170.9 404.6h.8M154.9 391.5h.8M166.8 399.7h.8M175.3 388.3h.8M162.0 400.0h.8M166.3 402.1h.8M162.3 401.5h.8M179.7 401.9h.8M178.1 391.9h.8M163.0 397.2h.8M157.1 389.7h.8M160.8 395.8h.8M161.7 396.8h.8M171.3 394.6h.8M175.7 396.7h.8M171.0 404.0h.8M162.3 405.2h.8M173.9 396.9h.8M154.1 399.7h.8M169.3 390.2h.8M161.0 395.2h.8M154.5 386.0h.8M155.1 393.2h.8M164.6 400.5h.8M177.0 387.7h.8M174.7 396.5h.8M175.1 399.6h.8M162.3 402.0h.8M161.9 398.2h.8M167.5 400.3h.8M161.1 408.8h.8M179.8 392.8h.8M170.5 396.1h.8M154.4 402.7h.8M162.4 399.2h.8M169.3 399.6h.8M160.6 394.8h.8M164.3 393.7h.8M171.8 399.3h.8M168.1 396.5h.8M166.1 402.9h.8M159.8 396.9h.8M162.9 406.3h.8M172.8 396.9h.8M163.2 401.0h.8M158.8 396.8h.8M178.1 391.4h.8M165.9 396.4h.8M167.7 393.3h.8M175.3 393.0h.8M165.5 392.2h.8M169.8 393.2h.8M158.7 392.5h.8M163.7 397.6h.8M165.1 398.9h.8M175.0 398.8h.8M159.4 393.4h.8M155.5 397.1h.8M158.5 397.5h.8M151.8 398.9h.8M150.7 395.8h.8M167.2 401.4h.8M152.8 400.8h.8M157.6 390.3h.8M172.4 400.2h.8M172.6 395.6h.8M154.8 404.3h.8M159.2 402.9h.8M158.7 399.6h.8M168.5 405.3h.8M183.1 399.2h.8M156.5 400.7h.8M156.5 391.8h.8M157.5 408.2h.8M158.4 394.5h.8M155.2 397.3h.8M177.6 393.1h.8M155.1 393.4h.8M165.6 398.6h.8M183.5 400.3h.8M171.8 398.9h.8M159.1 403.4h.8M170.0 395.8h.8M180.9 400.8h.8M177.3 399.2h.8M154.0 395.8h.8M173.6 398.2h.8M176.6 389.1h.8M179.7 395.9h.8M158.2 389.2h.8M168.4 398.8h.8M155.3 394.6h.8M182.2 394.4h.8M157.4 396.0h.8M162.3 394.9h.8M181.8 404.6h.8M168.4 398.6h.8M168.3 398.5h.8M157.1 390.6h.8M162.9 398.8h.8M175.5 393.4h.8M175.0 400.1h.8M163.0 393.7h.8M159.9 401.7h.8M156.9 399.8h.8M152.6 399.8h.8M161.1 393.0h.8M156.2 397.9h.8M161.4 400.9h.8M155.5 397.4h.8M171.4 396.9h.8M153.2 392.0h.8M166.2 397.5h.8M152.6 398.8h.8M182.1 395.7h.8M164.9 387.7h.8M176.5 398.3h.8M157.4 401.3h.8M164.2 399.9h.8M171.2 400.7h.8M174.7 402.6h.8M151.0 391.7h.8M156.8 396.0h.8M171.0 396.3h.8M176.4 393.9h.8M165.9 397.0h.8M177.9 396.9h.8M174.0 393.6h.8M160.3 394.4h.8M191.7 401.3h.8M173.8 406.1h.8M163.4 398.9h.8M170.4 396.2h.8M154.0 402.5h.8M164.8 400.0h.8M163.6 396.3h.8M165.6 390.5h.8M168.6 395.3h.8M158.6 390.7h.8M175.9 396.2h.8M164.2 395.0h.8M175.9 392.4h.8M160.1 393.0h.8M165.8 400.0h.8M163.0 393.4h.8M182.3 398.4h.8M161.2 396.4h.8M162.1 402.8h.8M176.9 401.3h.8M162.8 396.6h.8M163.8 393.5h.8M156.1 402.9h.8M168.2 397.4h.8M155.5 393.6h.8M167.9 404.3h.8M167.9 394.5h.8M172.1 400.2h.8M164.0 397.4h.8M170.3 400.4h.8M164.8 398.5h.8M164.5 400.5h.8M169.1 392.6h.8M177.9 397.4h.8M169.0 396.7h.8M169.1 401.8h.8M150.5 390.4h.8M189.0 400.1h.8M173.9 395.6h.8M177.6 401.7h.8M167.5 387.6h.8M185.8 401.9h.8M166.3 398.2h.8M183.5 393.1h.8M159.0 394.5h.8M164.8 402.9h.8M161.5 392.8h.8M172.2 392.9h.8M148.6 394.3h.8M158.1 403.8h.8M158.8 395.5h.8M165.6 384.9h.8M176.2 390.3h.8M172.2 395.8h.8M166.8 385.2h.8M162.9 402.1h.8M170.1 397.1h.8M166.4 402.7h.8M158.8 397.5h.8M162.4 395.4h.8M178.8 395.2h.8M169.8 398.5h.8M153.5 395.3h.8M166.0 400.0h.8M159.0 393.4h.8M171.2 397.3h.8M173.2 403.8h.8M165.0 390.6h.8M162.9 395.7h.8M163.7 395.3h.8M156.9 403.4h.8M173.9 394.7h.8M174.5 401.1h.8M168.0 397.6h.8M170.2 389.4h.8M161.4 389.3h.8M156.5 394.1h.8M162.9 402.1h.8M173.5 399.9h.8M170.1 392.8h.8M159.8 400.0h.8M164.8 397.3h.8M181.9 394.0h.8M160.2 396.2h.8M164.1 397.4h.8M174.3 394.4h.8M163.1 393.3h.8M174.8 394.3h.8M160.7 390.0h.8M179.3 400.6h.8M173.8 393.4h.8M170.6 393.6h.8M163.9 397.9h.8M193.9 383.7h.8M153.6 386.8h.8M172.7 396.5h.8M174.3 390.6h.8M167.1 394.6h.8M178.5 400.9h.8M152.9 394.6h.8M179.7 398.5h.8M169.8 398.8h.8M165.7 397.4h.8M185.3 404.3h.8M160.4 402.8h.8M168.9 387.4h.8M171.5 397.4h.8M165.0 396.6h.8M165.8 398.3h.8M162.2 396.4h.8M160.9 398.7h.8M171.9 393.7h.8M174.8 391.7h.8M168.8 388.4h.8M170.6 395.8h.8M169.9 397.4h.8M151.7 398.2h.8M156.9 397.4h.8M168.5 397.3h.8M164.5 397.6h.8M184.4 401.2h.8M171.3 400.8h.8M163.1 391.6h.8M156.8 397.1h.8M155.7 390.3h.8M169.0 393.4h.8M165.2 392.0h.8M154.4 394.3h.8M160.5 398.9h.8M177.9 397.0h.8M171.0 399.1h.8M162.1 392.3h.8M160.1 399.3h.8M171.1 398.3h.8M152.3 397.7h.8M180.7 400.1h.8M152.3 392.9h.8M161.5 399.4h.8M184.8 396.2h.8M155.9 394.1h.8M162.2 384.3h.8M169.4 398.3h.8M161.6 397.3h.8M159.5 393.5h.8M183.9 405.5h.8M165.8 394.3h.8M165.8 392.1h.8M174.8 396.3h.8M160.3 392.2h.8M159.9 399.7h.8M163.9 395.9h.8M161.0 398.0h.8M167.8 391.7h.8M159.6 400.9h.8M153.9 398.0h.8M167.5 394.2h.8M162.1 402.5h.8M154.6 392.4h.8M171.9 393.3h.8M174.4 396.5h.8M161.5 401.7h.8M166.3 398.1h.8M155.8 399.7h.8M154.2 394.5h.8M167.0 390.7h.8M166.6 397.9h.8M172.6 395.4h.8M153.4 402.9h.8M156.2 391.6h.8M181.4 398.7h.8M170.9 393.2h.8M168.7 388.1h.8M164.4 399.4h.8M153.8 400.9h.8M165.2 405.8h.8M175.3 404.7h.8M153.6 399.5h.8M161.7 398.7h.8M162.9 388.8h.8M161.9 393.7h.8M156.9 389.7h.8M164.2 395.8h.8M155.1 400.9h.8M165.8 403.2h.8M169.8 395.8h.8M174.1 401.0h.8M169.0 389.3h.8M165.1 397.4h.8M180.1 395.2h.8M178.5 401.1h.8M164.6 394.5h.8M170.9 392.6h.8M173.9 398.2h.8M162.9 398.3h.8M172.5 393.0h.8M159.4 394.8h.8M163.0 399.6h.8M166.8 392.4h.8M162.7 400.9h.8M182.6 385.9h.8M158.4 398.6h.8M165.6 396.6h.8M163.3 397.7h.8M169.0 403.3h.8M159.5 390.2h.8M163.0 391.8h.8M163.1 399.3h.8M154.9 395.0h.8M160.6 390.2h.8M174.1 394.0h.8M158.0 395.4h.8M158.4 397.2h.8M172.6 391.5h.8M151.1 391.9h.8M182.1 400.8h.8M166.2 392.5h.8M165.5 392.7h.8M166.7 393.5h.8M191.6 391.2h.8M164.4 400.2h.8M169.6 401.4h.8M153.9 399.5h.8M167.4 398.8h.8M167.5 401.3h.8M175.3 395.8h.8M164.5 400.9h.8M164.5 398.7h.8M163.8 403.2h.8M171.7 396.5h.8M180.9 392.2h.8M153.8 400.2h.8M170.1 395.3h.8M167.3 397.3h.8M171.4 391.2h.8M154.7 397.0h.8M155.5 403.0h.8M157.7 392.6h.8M178.7 389.7h.8M168.2 398.0h.8M165.4 394.8h.8M161.6 397.2h.8M158.2 398.9h.8M166.8 396.5h.8M170.2 391.1h.8M172.3 394.0h.8M159.4 392.5h.8M185.1 398.4h.8M176.3 393.1h.8M166.5 397.6h.8M178.7 399.0h.8M172.1 397.9h.8M173.0 391.0h.8M172.3 391.8h.8M163.7 394.4h.8M172.1 387.9h.8M168.1 395.1h.8M160.8 394.9h.8M151.5 398.0h.8M178.1 399.6h.8M163.4 393.5h.8M159.1 395.3h.8M156.8 398.5h.8M176.6 402.5h.8M149.0 404.2h.8M171.6 399.0h.8M178.4 404.3h.8M168.7 406.7h.8M186.0 393.5h.8M162.7 399.2h.8M165.5 406.3h.8M160.9 402.3h.8M178.3 406.9h.8M171.1 401.9h.8M163.4 400.0h.8M167.5 394.8h.8M155.1 391.1h.8M157.5 403.8h.8M164.2 393.0h.8M169.2 398.4h.8M179.1 401.9h.8M158.4 389.3h.8M176.9 398.9h.8M166.6 399.3h.8M168.4 397.2h.8M156.2 402.6h.8M164.9 400.2h.8M161.2 398.7h.8M164.6 389.2h.8M168.6 399.6h.8M169.6 402.5h.8M157.4 395.9h.8M157.9 401.3h.8M179.6 389.1h.8M174.2 401.9h.8M150.4 400.8h.8M154.4 400.7h.8M161.8 395.3h.8M185.5 401.3h.8M163.4 404.0h.8M178.9 392.6h.8M168.9 400.5h.8M164.4 395.5h.8M170.6 401.4h.8M176.7 399.4h.8M170.6 392.9h.8M171.6 402.4h.8M168.7 394.1h.8M161.2 401.9h.8M166.6 393.7h.8M178.6 390.4h.8M169.7 404.8h.8M165.3 398.5h.8M178.4 393.5h.8M154.5 403.1h.8M167.2 401.6h.8M150.0 404.5h.8M177.9 395.1h.8M155.5 397.8h.8M160.8 400.7h.8M175.2 391.1h.8M175.5 398.6h.8M177.2 403.4h.8M149.1 400.1h.8M161.2 393.1h.8M156.0 396.5h.8M168.4 395.2h.8M161.1 398.8h.8M157.8 397.4h.8M158.7 394.6h.8M168.1 397.4h.8M166.9 396.3h.8M173.2 391.8h.8M148.9 391.1h.8M169.1 392.9h.8M175.6 398.8h.8M158.0 392.5h.8M182.0 399.2h.8M150.9 392.7h.8M174.0 397.5h.8M155.6 388.6h.8M163.0 395.8h.8M160.3 390.1h.8M168.8 391.2h.8M173.5 393.9h.8M164.0 398.3h.8M160.1 398.4h.8M153.4 394.2h.8M175.6 396.4h.8M179.3 403.0h.8M160.9 397.1h.8M165.2 394.9h.8M174.6 394.7h.8M162.8 403.7h.8M166.7 399.8h.8M167.4 395.9h.8M158.4 396.8h.8M165.4 404.4h.8M162.7 393.7h.8M177.0 401.6h.8M162.7 403.4h.8M179.6 395.7h.8M167.6 396.7h.8M166.7 393.0h.8M167.3 403.8h.8M170.5 384.7h.8M176.7 396.0h.8M167.9 398.8h.8M161.3 399.6h.8M164.0 397.1h.8M165.3 402.8h.8M161.1 395.7h.8M172.0 393.6h.8M159.9 393.9h.8M166.2 391.8h.8M161.0 390.5h.8M164.5 396.2h.8M166.6 396.4h.8M157.6 393.9h.8M162.0 391.3h.8M164.7 401.8h.8M148.9 401.9h.8M172.8 396.7h.8M174.9 393.3h.8M171.4 402.3h.8M167.0 401.4h.8M178.6 399.3h.8M168.8 398.9h.8M169.2 389.9h.8M168.7 389.7h.8M155.2 395.9h.8M155.6 388.9h.8M167.4 394.9h.8M187.7 400.4h.8M163.5 394.4h.8M160.7 394.8h.8M153.5 395.1h.8M155.2 394.7h.8M156.5 391.6h.8M159.9 394.7h.8M156.4 394.4h.8M158.7 392.4h.8M173.0 389.9h.8M167.6 402.0h.8M166.2 394.5h.8M160.4 394.9h.8M172.0 400.5h.8M180.9 401.0h.8M162.0 397.3h.8M164.7 401.0h.8M178.6 396.8h.8M161.3 401.2h.8M170.1 395.9h.8M160.4 395.4h.8M183.0 396.8h.8M153.2 394.3h.8M180.1 397.4h.8M159.6 394.3h.8M163.4 392.6h.8M169.4 395.8h.8M162.3 393.1h.8M167.6 399.3h.8M169.7 399.4h.8M177.6 396.2h.8M165.1 393.6h.8M160.5 398.6h.8M173.1 389.9h.8M171.8 405.5h.8M165.2 392.3h.8M158.8 395.9h.8M163.6 391.6h.8M173.9 393.1h.8M164.6 396.2h.8M154.8 399.7h.8M175.8 401.0h.8M167.7 392.9h.8M163.5 389.7h.8M157.0 398.3h.8M170.5 404.0h.8M161.5 395.3h.8M169.2 392.8h.8M162.9 394.1h.8M177.2 395.4h.8M155.0 395.2h.8M186.5 399.6h.8M159.7 394.0h.8M164.2 400.6h.8M167.7 390.7h.8M168.5 391.5h.8M165.8 400.4h.8M175.2 396.7h.8M176.5 392.6h.8M169.5 396.0h.8M163.2 407.9h.8M164.0 398.2h.8M163.0 393.2h.8M162.8 400.7h.8M172.6 401.6h.8M173.9 395.2h.8M173.6 389.8h.8M178.7 394.1h.8M165.8 387.3h.8M167.9 395.8h.8M163.3 399.1h.8M177.2 390.6h.8M175.9 403.3h.8M172.6 403.5h.8M152.4 390.2h.8M168.2 387.8h.8M181.0 403.6h.8M151.2 388.9h.8M157.7 398.0h.8M170.8 391.3h.8M172.6 402.5h.8M166.5 396.5h.8M178.8 399.2h.8M177.3 391.3h.8M165.9 397.9h.8M177.7 388.9h.8M155.7 405.1h.8M165.3 394.1h.8M163.0 403.9h.8M159.3 393.7h.8M156.6 392.0h.8M168.3 397.3h.8M166.0 394.8h.8M172.5 389.7h.8M166.3 397.3h.8M169.8 390.2h.8M163.5 390.2h.8M171.2 388.6h.8M166.7 390.9h.8M166.4 394.6h.8M164.1 396.2h.8M153.4 402.0h.8M157.4 391.5h.8M175.4 395.2h.8M172.9 401.6h.8M161.5 393.9h.8M156.8 404.6h.8M165.4 396.5h.8M168.8 390.0h.8M154.1 401.1h.8M162.1 387.0h.8M153.3 403.0h.8M165.7 399.5h.8M176.4 395.8h.8M165.3 389.9h.8M149.3 403.4h.8M175.9 403.4h.8M161.5 398.7h.8M182.7 395.4h.8M169.3 392.1h.8M157.7 391.8h.8M169.5 407.6h.8M156.5 402.1h.8M172.0 394.8h.8M178.3 393.4h.8M151.0 405.0h.8M157.0 396.7h.8M149.1 402.8h.8M167.1 402.3h.8M166.1 396.3h.8M150.4 393.8h.8M174.9 397.8h.8M168.1 396.1h.8M169.9 404.8h.8M165.4 401.0h.8M160.8 403.5h.8M162.6 402.7h.8M179.7 400.2h.8M156.6 393.6h.8M176.7 398.5h.8M170.0 397.1h.8M163.7 396.2h.8M172.3 395.8h.8M165.9 398.8h.8M177.4 391.0h.8M157.6 396.1h.8M173.9 397.6h.8M166.3 388.5h.8M168.6 402.0h.8M161.5 400.6h.8M163.8 395.9h.8M168.3 398.2h.8M153.7 400.6h.8M172.0 396.9h.8M165.2 397.7h.8M180.9 397.4h.8M170.1 398.8h.8M172.7 401.4h.8M169.8 394.1h.8M163.1 398.1h.8M171.1 386.7h.8M179.1 397.2h.8M179.9 402.0h.8M167.8 391.0h.8M163.5 394.3h.8M175.1 398.1h.8M174.5 407.5h.8M165.2 395.3h.8M159.6 401.3h.8M164.0 396.3h.8M166.0 396.5h.8M170.8 394.9h.8M173.4 392.3h.8M184.5 397.3h.8M200.8 393.8h.8M165.9 402.3h.8M165.6 391.3h.8M182.3 394.4h.8M159.0 393.4h.8M156.4 403.0h.8M180.8 399.6h.8M179.3 400.3h.8M168.5 401.9h.8M174.5 390.0h.8M166.4 398.4h.8M156.2 403.3h.8M177.6 399.3h.8M156.7 393.1h.8M164.1 395.4h.8M155.9 394.9h.8M150.5 396.2h.8M165.3 393.9h.8M156.4 396.4h.8M201.1 391.8h.8M149.7 403.4h.8M176.4 398.5h.8M165.0 395.2h.8M165.7 393.4h.8M156.6 393.8h.8M179.2 401.7h.8M157.9 400.3h.8M182.1 403.6h.8M162.7 402.9h.8M168.2 393.7h.8M176.2 401.3h.8M157.9 390.6h.8M167.8 395.8h.8M168.6 394.3h.8M165.0 392.2h.8M176.7 397.5h.8M172.6 389.8h.8M184.6 403.6h.8M173.2 390.4h.8M174.3 401.5h.8M168.6 396.7h.8M167.5 397.0h.8M154.8 397.6h.8M168.6 393.1h.8M176.4 396.2h.8M169.1 399.7h.8M165.8 396.5h.8M153.9 392.0h.8M158.3 388.6h.8M179.1 396.7h.8M170.3 396.3h.8M168.0 405.8h.8M164.8 402.2h.8M171.8 397.0h.8M157.3 394.3h.8M176.9 397.0h.8M152.5 393.8h.8M176.8 394.3h.8M186.5 400.2h.8M156.6 394.6h.8M156.5 395.4h.8M165.8 393.1h.8M171.2 396.6h.8M159.4 400.1h.8M172.0 395.6h.8M165.5 397.1h.8M160.7 392.4h.8M161.3 392.7h.8M180.4 396.1h.8M164.3 395.1h.8M155.8 403.4h.8M178.4 395.4h.8M165.4 390.8h.8M169.8 403.1h.8M165.2 398.9h.8M175.1 399.9h.8M165.1 392.9h.8M160.2 397.9h.8M175.3 394.9h.8M170.8 397.7h.8M155.2 396.3h.8M177.5 402.8h.8M165.4 394.2h.8M168.4 396.4h.8M172.2 390.1h.8M159.9 399.0h.8M174.2 400.6h.8M159.9 386.4h.8M176.6 402.1h.8M167.1 393.1h.8M177.7 392.9h.8M158.3 399.4h.8M174.8 396.4h.8M159.1 394.3h.8M169.4 401.0h.8M160.6 395.7h.8M173.1 395.9h.8M159.8 405.9h.8M158.7 402.7h.8M165.0 401.6h.8M169.2 403.2h.8M168.3 390.6h.8M164.3 401.4h.8M168.1 387.9h.8M172.9 404.8h.8M202.9 396.2h.8M154.8 401.1h.8M200.6 405.8h.8M166.0 387.3h.8M171.5 405.6h.8M178.5 388.3h.8M149.5 388.3h.8M184.7 393.0h.8M191.9 396.8h.8M192.0 380.8h.8M170.1 404.0h.8M195.7 404.4h.8M173.7 401.2h.8M168.0 398.8h.8M178.0 407.5h.8M165.6 392.1h.8M179.6 403.4h.8M170.0 390.6h.8M198.2 390.0h.8M172.9 392.5h.8M188.1 379.0h.8M183.0 395.4h.8M192.1 394.5h.8M176.0 400.1h.8M172.7 391.5h.8M198.8 396.0h.8M166.9 397.3h.8M159.8 396.9h.8M197.4 397.7h.8M194.3 408.9h.8M166.4 397.3h.8M158.3 396.1h.8M164.7 386.3h.8M194.7 392.8h.8M171.7 402.3h.8M165.5 386.5h.8M156.8 394.8h.8M172.7 396.0h.8M189.9 390.3h.8M194.8 395.0h.8M166.5 402.7h.8M170.5 393.4h.8M195.5 394.4h.8M196.2 395.6h.8M164.5 402.1h.8M204.5 393.3h.8M184.0 398.0h.8M188.3 394.4h.8M170.6 396.0h.8M170.5 400.7h.8M182.2 403.5h.8M193.4 398.7h.8M196.9 403.3h.8M164.4 382.7h.8M206.7 394.1h.8M207.3 392.2h.8M188.6 393.7h.8M208.4 388.9h.8M159.2 395.1h.8M150.0 398.6h.8M176.2 390.9h.8M195.9 398.6h.8M180.9 387.7h.8M181.2 399.9h.8M176.4 385.7h.8M182.2 394.6h.8M180.5 392.5h.8M179.2 387.5h.8M205.9 393.8h.8M152.9 387.5h.8M184.4 395.6h.8M191.2 377.6h.8M208.5 393.3h.8M177.0 400.4h.8M209.7 391.1h.8M169.4 405.3h.8M191.7 398.7h.8M215.8 389.1h.8M183.9 391.7h.8M187.6 402.7h.8M190.3 388.1h.8M171.2 398.8h.8M188.0 397.3h.8M203.3 390.0h.8M199.8 394.0h.8M179.1 386.3h.8M189.7 392.4h.8M205.8 401.2h.8M152.8 398.2h.8M187.1 388.8h.8M177.1 399.1h.8M170.0 396.6h.8M173.2 386.6h.8M182.1 398.0h.8M185.8 401.0h.8M178.6 400.6h.8M178.5 400.5h.8M194.2 403.6h.8M206.3 394.9h.8M159.0 405.5h.8M166.9 406.9h.8M179.9 381.3h.8M178.1 391.2h.8M184.0 397.3h.8M213.4 392.7h.8M157.8 395.5h.8M158.3 397.4h.8M183.5 386.9h.8M184.4 400.9h.8M184.2 393.1h.8M168.3 396.9h.8M201.3 378.1h.8M189.2 401.1h.8M196.7 400.8h.8M167.8 397.2h.8M150.0 370.4h.8M186.7 395.7h.8M192.9 404.2h.8M193.4 396.6h.8M167.4 393.6h.8M169.9 387.4h.8M179.6 390.8h.8M149.1 401.8h.8M167.0 393.2h.8M163.8 400.8h.8M157.6 398.4h.8M150.4 404.3h.8M189.5 391.3h.8M210.3 387.9h.8M204.7 392.0h.8M167.7 402.2h.8M194.6 388.9h.8M164.0 388.9h.8M182.7 393.0h.8M156.7 398.3h.8M194.0 397.9h.8M202.8 404.6h.8M210.3 394.0h.8M170.3 399.2h.8M197.4 403.2h.8M158.4 396.1h.8M191.6 397.5h.8M175.7 388.2h.8M180.2 396.0h.8M211.7 384.3h.8M164.0 403.1h.8M159.9 392.0h.8M191.2 398.1h.8M177.6 401.3h.8M184.9 389.3h.8M155.7 400.6h.8M194.3 394.1h.8M175.7 397.2h.8M174.4 398.0h.8M166.0 398.0h.8M179.5 404.5h.8M180.0 396.0h.8M179.9 394.0h.8M193.4 381.8h.8M182.3 391.2h.8M175.2 393.9h.8M173.2 396.4h.8M217.2 392.9h.8M162.5 387.6h.8M176.3 403.7h.8M156.3 390.5h.8M180.7 391.3h.8M152.6 405.6h.8M177.0 391.9h.8M172.4 387.1h.8M177.7 403.3h.8M190.2 391.5h.8M188.1 394.1h.8M154.6 392.7h.8M174.6 406.8h.8M180.1 396.8h.8M167.9 391.8h.8M167.9 403.3h.8M203.8 393.7h.8M199.6 388.2h.8M186.0 386.3h.8M214.4 405.1h.8M170.1 400.8h.8M175.5 400.2h.8M184.7 397.3h.8M191.9 397.8h.8M173.4 394.2h.8M160.8 398.0h.8M188.7 399.4h.8M196.3 398.1h.8M179.1 394.2h.8M183.1 395.9h.8M170.0 400.1h.8M187.4 402.6h.8M174.6 398.9h.8M153.4 396.1h.8M202.9 395.2h.8M178.6 397.7h.8M171.1 407.1h.8M180.1 391.3h.8M183.8 384.2h.8M205.2 393.6h.8M161.6 383.0h.8M180.2 401.9h.8M161.2 387.1h.8M179.6 389.6h.8M161.3 392.8h.8M166.6 389.0h.8M151.2 388.9h.8M164.4 398.3h.8M158.6 385.7h.8M178.8 396.1h.8M166.9 399.2h.8M179.2 397.1h.8M175.9 394.1h.8M198.9 391.6h.8M183.3 395.5h.8M164.2 390.4h.8M157.7 400.3h.8M174.1 395.7h.8M186.7 389.4h.8M184.8 374.5h.8M167.4 400.9h.8M164.8 393.2h.8M203.9 392.8h.8M177.7 391.4h.8M193.4 386.2h.8M150.9 394.8h.8M200.9 394.3h.8M159.2 391.1h.8M171.5 394.2h.8M172.9 391.7h.8M166.6 392.8h.8M163.2 393.0h.8M199.5 394.8h.8M213.1 393.6h.8M180.7 401.7h.8M184.1 399.8h.8M186.1 392.7h.8M192.6 404.5h.8M179.9 408.3h.8M194.7 399.5h.8M164.5 402.5h.8M165.5 391.1h.8M163.5 404.4h.8M200.0 407.5h.8M174.5 396.0h.8M174.1 390.5h.8M171.9 394.7h.8M176.2 384.1h.8M188.2 386.9h.8M190.2 401.4h.8M177.6 394.3h.8M174.4 407.6h.8M181.3 399.6h.8M186.7 398.4h.8M188.2 403.5h.8M160.5 397.4h.8M191.7 401.0h.8M168.0 403.1h.8M170.5 408.0h.8M187.4 395.0h.8M216.3 391.4h.8M198.0 393.3h.8M212.5 394.3h.8M193.7 394.3h.8M169.5 406.0h.8M202.0 391.3h.8M210.5 402.0h.8M160.9 401.7h.8M152.9 396.2h.8M165.5 394.9h.8M208.3 393.4h.8M191.4 386.1h.8M161.7 395.9h.8M190.7 393.1h.8M173.9 391.7h.8M187.4 399.6h.8M189.4 397.8h.8M197.9 392.7h.8M168.3 381.9h.8M174.0 393.5h.8M175.6 387.8h.8M166.8 401.5h.8M189.4 407.1h.8M178.0 391.2h.8M210.6 406.6h.8M153.1 401.0h.8M189.5 390.0h.8M171.0 387.3h.8M168.6 392.7h.8M175.3 383.5h.8M205.3 387.8h.8M170.5 407.3h.8M172.5 399.7h.8M167.3 401.1h.8M172.7 392.6h.8M202.4 388.6h.8M192.3 378.5h.8M199.9 390.0h.8M197.3 396.8h.8M175.5 399.6h.8M171.5 397.7h.8M168.2 384.9h.8M192.1 389.1h.8M211.5 393.8h.8M198.6 400.8h.8M187.6 390.8h.8M159.0 390.6h.8M181.7 399.3h.8M205.9 394.9h.8M179.7 389.6h.8M170.3 405.9h.8M196.4 388.1h.8M170.8 393.9h.8M181.5 393.8h.8M200.1 394.7h.8M194.1 389.7h.8M175.3 393.1h.8M174.1 396.7h.8M204.5 401.3h.8M194.8 396.8h.8M172.4 394.6h.8M170.5 407.1h.8M200.5 390.3h.8M172.7 404.7h.8M163.2 383.3h.8M163.9 400.6h.8M160.3 402.6h.8M183.8 405.2h.8M156.1 393.4h.8M163.7 392.8h.8M166.4 384.1h.8M159.4 393.7h.8M160.4 385.8h.8M183.4 398.6h.8M177.7 399.3h.8M171.3 393.7h.8M215.5 392.3h.8M189.2 400.2h.8M164.9 395.2h.8M168.4 383.9h.8M180.7 384.3h.8M176.9 387.3h.8M153.8 383.0h.8M158.4 394.1h.8M178.0 396.6h.8M195.6 402.2h.8M190.1 406.9h.8M154.3 390.1h.8M205.5 403.0h.8M191.3 398.1h.8M210.5 393.0h.8M214.2 398.4h.8M215.6 400.0h.8M212.8 390.5h.8M154.3 387.9h.8M185.1 389.2h.8M165.2 398.5h.8M157.9 384.0h.8M195.7 394.4h.8M190.4 398.5h.8M171.6 390.3h.8M178.9 389.2h.8M199.4 388.6h.8M171.6 404.6h.8M188.4 403.4h.8M205.8 397.0h.8M195.3 393.1h.8M197.2 392.5h.8M189.3 394.2h.8M166.6 407.4h.8M150.5 387.1h.8M168.2 392.7h.8M193.9 393.8h.8M194.3 380.3h.8M159.3 395.3h.8M183.4 388.0h.8M170.7 403.6h.8M206.7 399.9h.8M176.7 399.2h.8M176.6 394.2h.8M197.7 392.6h.8M186.4 397.0h.8M180.0 388.6h.8M166.7 395.3h.8M184.0 392.3h.8M185.1 403.9h.8M163.4 401.9h.8M178.1 394.5h.8M180.2 393.5h.8M207.7 391.4h.8M202.1 396.3h.8M159.3 392.1h.8M161.1 386.6h.8M174.3 398.6h.8M180.1 384.8h.8M154.4 386.2h.8M211.3 389.2h.8M181.0 388.4h.8M171.7 401.4h.8M203.4 406.5h.8M188.5 399.4h.8M174.7 395.7h.8M171.4 386.1h.8M167.2 403.8h.8M155.8 395.3h.8M184.2 396.0h.8M183.8 403.8h.8M187.6 389.4h.8M153.5 397.6h.8M180.7 398.1h.8M165.8 400.3h.8M161.2 383.8h.8M157.3 403.3h.8M152.4 394.4h.8M162.1 391.2h.8M182.5 393.0h.8M194.8 395.8h.8M173.1 395.1h.8M198.9 402.1h.8M176.0 383.6h.8M187.6 386.3h.8M193.5 408.2h.8M173.5 405.1h.8M185.4 396.6h.8M194.3 393.8h.8M173.8 387.3h.8M156.1 408.1h.8M197.9 392.5h.8M193.1 402.5h.8M193.4 390.9h.8M181.5 395.5h.8M177.4 392.4h.8M154.8 385.8h.8M163.4 403.3h.8M203.7 396.2h.8M151.1 394.4h.8M170.4 392.8h.8M158.2 396.4h.8M173.0 383.7h.8M161.9 388.1h.8M198.0 393.0h.8M175.4 391.9h.8M165.6 388.0h.8M148.6 385.5h.8M173.2 399.9h.8M185.7 383.3h.8M179.5 380.8h.8M178.7 393.0h.8M155.6 395.8h.8M178.9 400.1h.8M155.0 399.7h.8M187.1 390.6h.8M213.8 389.0h.8M179.9 386.3h.8M186.5 407.5h.8M193.7 405.9h.8M194.1 405.1h.8M149.2 388.8h.8M171.4 400.6h.8M214.1 395.5h.8M209.9 397.6h.8M203.9 399.1h.8M199.0 400.7h.8M158.3 386.7h.8M210.2 398.6h.8M185.3 391.5h.8M188.3 404.1h.8M200.6 383.3h.8M183.3 394.8h.8M169.2 391.9h.8M193.0 400.0h.8M149.3 406.4h.8M190.4 394.6h.8M152.8 383.7h.8M162.2 403.1h.8M199.0 386.7h.8M170.7 394.6h.8M188.8 392.3h.8M171.7 395.8h.8M191.1 384.7h.8M188.2 409.0h.8M162.2 402.9h.8M194.5 385.0h.8M189.5 404.8h.8M173.9 396.7h.8M196.4 394.5h.8M194.5 399.3h.8M215.9 405.2h.8M178.2 388.3h.8M195.3 404.4h.8M168.1 398.7h.8M196.1 389.6h.8M152.1 397.9h.8M184.0 388.4h.8M191.6 386.5h.8M172.3 401.0h.8M183.4 394.0h.8M177.4 403.7h.8M184.6 399.4h.8M192.0 397.0h.8M164.8 402.9h.8M168.3 396.4h.8M178.1 406.0h.8M191.7 398.6h.8M192.2 394.5h.8M172.8 386.9h.8M195.9 405.2h.8M176.0 406.1h.8M168.7 397.1h.8M170.1 397.8h.8M189.2 388.1h.8M190.5 389.2h.8M168.7 399.0h.8M198.1 400.2h.8M189.1 395.3h.8M190.9 387.7h.8M182.7 400.1h.8M165.8 383.2h.8M196.9 405.4h.8M180.6 400.9h.8M180.7 382.3h.8M181.9 406.6h.8M181.4 395.7h.8M159.5 405.9h.8M168.2 396.6h.8M199.1 401.7h.8M186.6 384.1h.8M162.4 404.2h.8M168.5 392.5h.8M161.7 388.6h.8M168.2 401.0h.8M187.2 390.1h.8M172.1 397.2h.8M196.0 383.4h.8M170.1 390.1h.8M198.8 391.6h.8M183.2 394.3h.8M160.0 397.5h.8M165.3 400.1h.8M183.9 381.9h.8M185.6 399.0h.8M202.2 403.2h.8M196.5 401.9h.8M186.3 382.0h.8M178.0 401.1h.8M177.1 392.0h.8M160.5 393.0h.8M191.4 402.0h.8M174.9 388.3h.8M172.3 391.4h.8M179.0 396.6h.8M182.8 393.8h.8M175.1 388.4h.8M181.0 395.3h.8M194.1 391.2h.8M185.5 387.5h.8M192.9 390.2h.8M199.8 390.7h.8M177.9 386.1h.8M167.7 398.8h.8M211.1 398.4h.8M205.5 401.9h.8M179.8 389.1h.8M150.1 396.9h.8M177.8 396.3h.8M197.9 403.4h.8M210.4 398.7h.8M160.8 393.8h.8M192.5 390.0h.8M190.1 402.2h.8M183.3 393.4h.8M200.6 389.5h.8M159.2 408.0h.8M191.0 395.6h.8M180.1 402.7h.8M181.6 399.1h.8M178.8 391.9h.8M180.5 391.6h.8M176.4 386.6h.8M212.6 398.0h.8M182.4 397.2h.8M172.0 388.0h.8M202.4 391.3h.8M153.4 395.1h.8M174.2 394.4h.8M180.2 377.4h.8M199.1 380.5h.8M200.2 398.1h.8M203.7 383.9h.8M172.2 392.3h.8M192.8 391.4h.8M199.6 388.2h.8M175.5 384.0h.8M183.5 381.2h.8M186.4 391.9h.8M193.1 392.3h.8M205.1 400.5h.8M167.4 401.3h.8M197.7 398.8h.8M187.7 399.1h.8M164.7 399.4h.8M179.1 400.0h.8M205.1 391.3h.8M193.7 394.5h.8M180.0 408.7h.8M180.2 401.4h.8M194.6 396.7h.8M184.1 407.7h.8M193.7 393.6h.8M166.7 393.5h.8M210.8 389.0h.8M173.0 404.2h.8M165.9 393.7h.8M177.9 391.1h.8M186.5 396.0h.8M179.7 392.3h.8M169.6 396.1h.8M166.8 393.4h.8M192.0 389.7h.8M179.0 401.7h.8M170.9 391.5h.8M169.7 394.1h.8M186.6 389.9h.8M164.7 385.9h.8M154.2 387.9h.8M187.5 386.8h.8M174.4 393.1h.8M166.4 399.1h.8M151.7 394.1h.8M172.7 387.2h.8M213.5 403.3h.8M205.6 392.7h.8M161.5 407.7h.8M181.5 398.7h.8M200.7 399.7h.8M210.3 406.4h.8M182.2 393.3h.8M211.2 389.7h.8M172.7 391.7h.8M188.6 392.7h.8M171.6 399.8h.8M160.0 404.2h.8M186.4 391.2h.8M169.6 389.6h.8M159.2 399.7h.8M171.3 403.5h.8M160.6 393.8h.8M173.9 396.0h.8M179.2 402.3h.8M203.2 397.9h.8M210.9 378.8h.8M202.5 399.5h.8M194.0 401.5h.8M189.5 395.5h.8M206.0 390.1h.8M195.8 380.6h.8M176.5 390.9h.8M199.3 397.8h.8M189.1 386.4h.8M154.6 393.7h.8M188.1 388.8h.8M185.8 392.4h.8M193.4 383.8h.8M180.0 393.1h.8M174.4 389.5h.8M170.4 406.8h.8M159.6 399.3h.8M161.7 398.7h.8M181.3 394.5h.8M168.3 386.7h.8M195.8 394.3h.8M198.9 396.5h.8M184.8 387.3h.8M190.5 395.1h.8M154.4 398.3h.8M167.9 390.8h.8M183.7 393.6h.8M152.2 392.5h.8M190.3 385.4h.8M213.8 381.0h.8M201.3 393.4h.8M175.0 403.6h.8M179.4 386.1h.8M190.8 394.3h.8M185.0 402.3h.8M159.8 395.7h.8M200.4 399.6h.8M161.8 395.3h.8M171.0 397.2h.8M186.7 396.2h.8M195.0 383.8h.8M170.8 409.0h.8M159.9 386.9h.8M178.0 396.1h.8M174.7 388.8h.8M209.1 407.1h.8M200.8 396.5h.8M151.6 404.2h.8M182.8 393.6h.8M163.6 389.3h.8M176.5 392.8h.8M158.3 396.8h.8M213.8 406.8h.8M185.9 396.7h.8M194.0 391.2h.8M198.6 394.0h.8M172.9 392.3h.8M154.9 394.8h.8M186.6 395.7h.8M178.2 389.1h.8M177.4 386.2h.8M174.5 401.0h.8M197.7 390.3h.8M154.7 404.0h.8M178.7 390.0h.8M176.3 398.4h.8M177.5 386.4h.8M165.1 392.5h.8M209.3 386.7h.8M185.2 397.6h.8M202.5 397.8h.8M168.4 390.9h.8M194.8 389.1h.8M153.4 398.3h.8M175.1 394.1h.8M183.6 404.3h.8M156.1 403.6h.8M153.6 383.3h.8M163.1 395.0h.8M197.1 384.9h.8M196.2 403.2h.8M190.1 403.3h.8M187.6 396.7h.8M207.8 400.8h.8M204.1 389.9h.8M158.8 405.7h.8M185.5 392.7h.8M157.7 392.9h.8M164.9 393.0h.8M172.6 390.5h.8M194.9 407.2h.8M189.4 394.7h.8M168.3 390.4h.8M190.4 388.9h.8M174.7 395.9h.8M213.7 391.8h.8M203.8 400.6h.8M175.1 401.5h.8M176.5 397.1h.8M202.1 400.6h.8M205.1 399.8h.8M216.7 399.0h.8M170.5 393.8h.8M179.9 400.1h.8M197.6 391.0h.8M201.9 405.0h.8M187.4 398.5h.8M168.5 392.4h.8M163.9 399.7h.8M165.4 388.2h.8M201.9 395.4h.8M184.0 399.5h.8M202.3 389.5h.8M171.4 402.7h.8M205.9 403.6h.8M193.7 387.5h.8M154.3 393.0h.8M193.5 388.0h.8M209.6 400.7h.8M191.6 392.2h.8M206.9 392.8h.8M192.6 403.9h.8M189.9 395.1h.8M190.2 404.4h.8M169.8 394.3h.8M169.3 387.6h.8M197.1 397.2h.8M207.8 392.2h.8M192.3 392.7h.8M216.7 400.8h.8M202.0 391.0h.8M167.9 390.3h.8M180.1 400.3h.8M177.2 394.1h.8M172.7 401.2h.8M183.5 395.5h.8M168.0 401.4h.8M163.3 399.7h.8M200.4 392.1h.8M166.2 395.4h.8M178.2 393.0h.8M189.4 408.1h.8M159.8 393.5h.8M176.7 389.7h.8M174.3 385.1h.8M172.6 401.4h.8M160.8 405.4h.8M210.0 404.1h.8M183.9 394.9h.8M186.8 393.1h.8M200.9 392.9h.8M173.0 394.5h.8M188.2 391.7h.8M205.3 397.1h.8M192.8 397.0h.8M198.1 402.8h.8M179.2 400.6h.8M165.2 404.0h.8M178.4 400.2h.8M197.4 392.2h.8M194.5 398.4h.8M192.9 396.8h.8M157.2 402.1h.8M179.9 391.0h.8M158.4 382.0h.8M181.2 400.7h.8M185.1 398.7h.8M208.1 350.0h.8M209.5 347.0h.8M216.1 347.8h.8M209.0 345.3h.8M204.9 346.2h.8M208.5 348.4h.8M204.2 344.0h.8M207.8 346.4h.8M209.2 350.6h.8M207.3 348.0h.8M212.8 346.1h.8M203.1 347.6h.8M198.8 347.3h.8M206.6 345.8h.8M211.2 349.1h.8M209.0 347.8h.8M207.1 347.6h.8M206.9 345.7h.8M206.5 343.7h.8M199.8 348.3h.8M206.6 348.7h.8M198.9 350.0h.8M207.6 349.0h.8M215.2 348.2h.8M208.5 349.2h.8M203.3 345.2h.8M203.2 347.6h.8M209.0 347.7h.8M210.6 345.8h.8M206.9 346.3h.8M212.0 347.1h.8M213.6 348.8h.8M213.3 348.7h.8M208.7 346.6h.8M210.9 342.9h.8M207.1 345.8h.8M200.6 347.0h.8M201.3 351.2h.8M203.6 346.0h.8M207.4 347.8h.8M206.3 349.2h.8M204.0 347.4h.8M197.5 346.4h.8M206.5 347.9h.8M205.1 345.8h.8M205.9 346.0h.8M202.9 347.1h.8M209.7 347.0h.8M206.5 349.4h.8M212.7 349.8h.8M213.2 344.4h.8M204.1 346.6h.8M212.2 349.6h.8M204.6 345.0h.8M211.3 345.6h.8M205.8 348.0h.8M204.6 350.8h.8M207.2 344.7h.8M208.7 345.8h.8M206.4 349.3h.8M204.7 350.6h.8M204.2 350.7h.8M207.6 345.1h.8M205.8 347.4h.8M207.1 347.7h.8M206.1 347.1h.8M199.7 347.3h.8M200.5 347.2h.8M202.1 347.2h.8M207.6 346.9h.8M204.6 348.0h.8M207.2 348.6h.8M203.9 346.1h.8M205.8 347.2h.8M205.7 348.8h.8M213.4 348.6h.8M207.8 347.3h.8M209.3 346.7h.8M202.0 347.1h.8M203.1 347.9h.8M209.9 350.8h.8M210.1 346.6h.8M202.4 345.4h.8M211.2 348.5h.8M203.3 346.5h.8M204.8 350.8h.8M204.8 347.1h.8M211.7 348.7h.8M206.6 347.7h.8M206.7 347.9h.8M210.5 347.0h.8M211.6 350.2h.8M211.2 348.9h.8M203.8 347.4h.8M209.1 346.0h.8M203.5 347.1h.8M211.3 349.6h.8M213.8 347.9h.8M200.4 348.5h.8M210.2 347.9h.8M210.0 346.8h.8M206.4 350.0h.8M208.5 349.5h.8M209.4 346.9h.8M207.1 346.9h.8M208.6 348.6h.8M201.1 350.7h.8M206.9 344.7h.8M205.1 348.7h.8M203.7 347.5h.8M206.8 347.6h.8M207.5 351.0h.8M199.1 347.0h.8M208.4 348.8h.8M207.6 346.5h.8M201.2 347.6h.8M205.9 348.3h.8M205.4 351.4h.8M208.1 347.0h.8M204.4 347.7h.8M205.3 348.2h.8M209.1 348.3h.8M216.2 346.8h.8M202.3 346.9h.8M210.5 351.2h.8M209.9 348.7h.8M206.2 348.3h.8M201.3 348.3h.8M206.9 348.0h.8M202.6 347.9h.8M207.1 349.3h.8M210.8 347.4h.8M210.7 348.1h.8M208.3 345.5h.8M208.9 347.9h.8M206.1 346.5h.8M207.7 348.6h.8M205.1 346.6h.8M204.1 347.7h.8M208.6 350.7h.8M211.0 348.1h.8M204.8 346.3h.8M206.9 347.5h.8M209.9 346.4h.8M208.1 346.8h.8M203.4 348.7h.8M210.6 347.9h.8M204.6 345.8h.8M211.9 346.9h.8M207.1 345.4h.8M206.0 349.1h.8M207.6 348.2h.8M208.6 348.8h.8M213.2 347.7h.8M209.7 346.4h.8M217.6 348.3h.8M206.1 346.9h.8M209.7 347.0h.8M208.8 345.6h.8M211.9 346.1h.8M199.0 348.2h.8M204.2 348.6h.8M205.5 344.6h.8M208.8 349.5h.8M208.2 346.3h.8M212.8 347.7h.8M206.4 349.1h.8M207.0 348.0h.8M202.3 349.1h.8M214.4 346.0h.8M201.9 345.4h.8M210.6 350.0h.8M206.9 347.1h.8M198.3 348.6h.8M205.5 346.1h.8M205.2 347.2h.8M208.9 349.5h.8M202.1 346.7h.8M209.5 346.3h.8M206.9 348.9h.8M200.4 344.6h.8M200.4 347.6h.8M207.6 350.4h.8M206.6 346.9h.8M208.9 348.8h.8M204.6 348.1h.8M207.9 347.7h.8M194.2 349.6h.8M204.6 348.3h.8M208.7 349.2h.8M200.3 347.7h.8M208.6 346.6h.8M211.4 346.7h.8M207.3 346.0h.8M209.7 350.6h.8M215.1 347.3h.8M206.7 348.5h.8M205.6 349.4h.8M209.1 348.5h.8M208.5 350.0h.8M210.6 346.6h.8M210.9 346.8h.8M210.0 347.5h.8M209.0 346.1h.8M207.9 349.6h.8M207.9 347.3h.8M214.8 347.1h.8M202.8 348.5h.8M206.8 344.4h.8M210.1 348.1h.8M204.5 346.1h.8M207.6 347.0h.8M205.2 347.6h.8M213.2 345.4h.8M208.2 348.5h.8M206.3 349.9h.8M209.0 349.4h.8M208.2 348.2h.8M209.4 346.0h.8M208.7 346.8h.8M207.1 350.2h.8M207.9 345.9h.8M210.9 347.6h.8M212.9 349.5h.8M211.5 347.2h.8M208.1 347.0h.8M213.7 349.0h.8M211.6 347.0h.8M207.0 347.7h.8M203.7 347.8h.8M210.1 346.7h.8M206.4 345.7h.8M205.7 347.5h.8M211.9 348.7h.8M207.8 346.4h.8M211.9 346.4h.8M201.8 345.4h.8M204.9 346.2h.8M206.1 347.1h.8M202.3 344.8h.8M206.4 344.9h.8M209.7 346.5h.8M201.3 348.6h.8M210.5 347.3h.8M207.6 345.0h.8M208.1 348.3h.8M206.4 348.9h.8M208.2 347.0h.8M206.3 347.9h.8M206.9 347.3h.8M210.2 347.8h.8M205.1 348.8h.8M206.2 348.4h.8M208.4 348.6h.8M206.0 345.3h.8M205.1 349.7h.8M204.9 347.9h.8M207.0 346.7h.8M209.1 347.0h.8M202.9 345.5h.8M205.0 348.2h.8M207.1 346.9h.8M207.3 349.7h.8M211.1 349.2h.8M203.4 347.8h.8M207.2 347.6h.8M204.5 348.6h.8M204.5 348.2h.8M208.7 346.6h.8M210.8 346.3h.8M199.1 348.7h.8M203.4 347.2h.8M203.1 347.2h.8M212.0 348.6h.8M206.9 346.1h.8M204.1 348.3h.8M210.4 348.2h.8M210.5 349.4h.8M208.9 347.1h.8M202.0 348.5h.8M205.1 346.9h.8M205.1 347.6h.8M202.7 345.0h.8M210.5 347.1h.8M205.8 347.4h.8M201.6 347.6h.8M199.0 348.8h.8M207.3 345.0h.8M210.6 346.2h.8M213.9 347.5h.8M210.0 348.2h.8M209.3 347.5h.8M198.8 347.9h.8M213.2 349.2h.8M209.3 345.4h.8M206.4 347.2h.8M205.3 349.0h.8M210.7 347.8h.8M205.4 346.3h.8M209.8 346.5h.8M215.2 348.1h.8M207.8 348.5h.8M205.8 346.4h.8M209.4 347.3h.8M210.5 348.6h.8M205.3 347.2h.8M206.1 352.0h.8M208.4 346.3h.8M205.3 350.3h.8M211.9 347.3h.8M208.0 347.3h.8M207.8 348.7h.8M205.9 346.9h.8M204.9 348.2h.8M209.3 347.9h.8M207.1 348.6h.8M211.3 348.6h.8M201.6 349.8h.8M207.5 347.9h.8M207.7 347.2h.8M209.8 345.3h.8M206.4 348.4h.8M203.6 345.8h.8M197.5 347.8h.8M213.2 350.0h.8M204.4 347.5h.8M209.9 346.2h.8M205.5 347.1h.8M208.6 348.0h.8M208.2 348.3h.8M207.0 347.4h.8M210.1 348.4h.8M207.2 347.4h.8M205.4 347.3h.8M206.0 346.9h.8M206.8 347.1h.8M205.5 348.0h.8M202.2 350.2h.8M212.8 345.3h.8M205.8 346.6h.8M198.8 347.0h.8M206.2 349.3h.8M209.9 346.1h.8M205.9 347.3h.8M207.3 349.6h.8M203.4 350.6h.8M204.1 348.4h.8M204.4 349.1h.8M207.4 347.5h.8M206.9 348.0h.8M205.8 348.8h.8M213.2 347.9h.8M208.3 346.2h.8M202.4 348.1h.8M209.9 348.1h.8M209.6 346.5h.8M207.4 345.8h.8M211.5 347.8h.8M211.1 346.1h.8M206.5 349.5h.8M208.1 346.6h.8M203.2 349.6h.8M208.8 346.5h.8M207.5 347.6h.8M205.2 348.2h.8M212.8 350.3h.8M203.7 346.4h.8M209.5 347.7h.8M205.9 347.2h.8M208.0 347.8h.8M204.1 348.3h.8M218.1 348.2h.8M217.3 348.0h.8M208.2 346.9h.8M204.4 347.2h.8M209.8 349.2h.8M205.2 349.1h.8M210.2 348.2h.8M210.3 346.6h.8M204.7 348.2h.8M201.1 345.7h.8M207.9 348.8h.8M208.5 347.0h.8M208.9 349.4h.8M209.8 347.5h.8M211.6 346.9h.8M201.2 348.3h.8M202.2 347.2h.8M206.5 347.2h.8M212.8 350.0h.8M209.1 345.6h.8M207.0 348.1h.8M208.0 349.2h.8M209.2 346.0h.8M209.6 349.0h.8M209.3 348.0h.8M207.6 348.6h.8M214.2 349.1h.8M206.5 345.2h.8M207.3 347.2h.8M212.5 347.2h.8M211.5 347.3h.8M205.1 347.5h.8M204.3 348.1h.8M208.4 348.5h.8M199.6 348.0h.8M207.9 348.7h.8M206.4 348.6h.8M208.9 348.0h.8M210.8 347.0h.8M203.2 347.5h.8M206.5 347.5h.8M206.9 349.8h.8M205.3 344.9h.8M206.4 346.9h.8M207.7 347.4h.8M206.7 348.0h.8M211.9 346.1h.8M206.6 348.3h.8M201.0 344.5h.8M210.0 348.9h.8M202.8 350.5h.8M202.8 347.3h.8M206.8 349.1h.8M211.5 348.0h.8M202.2 347.8h.8M204.8 343.2h.8M211.2 345.4h.8M209.3 346.2h.8M211.1 349.3h.8M204.6 348.1h.8M205.1 347.0h.8M202.3 347.0h.8M209.5 347.4h.8M214.7 348.7h.8M206.8 345.3h.8M209.8 350.2h.8M205.8 347.6h.8M204.3 348.9h.8M201.9 346.6h.8M205.6 346.2h.8M211.9 349.0h.8M208.0 348.7h.8M203.6 346.9h.8M210.3 348.6h.8M207.6 344.5h.8M207.4 346.8h.8M207.8 346.3h.8M204.7 347.1h.8M207.5 350.0h.8M210.3 345.2h.8M208.0 348.0h.8M208.8 349.4h.8M202.3 345.1h.8M208.7 347.8h.8M207.5 347.9h.8M205.1 347.4h.8M211.6 346.8h.8M208.6 347.2h.8M203.5 347.2h.8M206.9 348.2h.8M202.9 350.2h.8M209.8 349.2h.8M208.0 344.3h.8M208.2 349.3h.8M205.3 347.1h.8M209.2 350.3h.8M207.8 347.6h.8M205.4 346.5h.8M207.7 348.6h.8M207.3 350.4h.8M203.6 346.1h.8M210.8 345.4h.8M211.1 349.4h.8M212.2 346.4h.8M201.8 350.3h.8M207.5 350.8h.8M210.4 347.4h.8M205.5 346.0h.8M205.6 346.8h.8M199.6 348.7h.8M201.0 349.5h.8M206.1 347.1h.8M202.0 348.6h.8M208.0 349.2h.8M199.7 347.8h.8M207.3 346.8h.8M208.6 346.0h.8M208.2 350.6h.8M208.2 346.4h.8M208.1 345.7h.8M208.3 348.2h.8M203.2 349.7h.8M209.8 345.8h.8M207.7 348.3h.8M205.9 348.1h.8M207.0 348.8h.8M207.5 347.2h.8M214.3 347.1h.8M206.9 348.2h.8M203.8 347.6h.8M204.4 345.8h.8M203.5 346.7h.8M212.9 349.4h.8M202.5 345.8h.8M206.9 344.5h.8M207.3 349.3h.8M211.8 348.6h.8M210.6 346.1h.8M213.1 347.4h.8M206.0 349.9h.8M203.7 347.0h.8M211.3 349.8h.8M206.9 347.7h.8M204.7 351.2h.8M203.6 346.9h.8M209.1 347.1h.8M209.5 349.5h.8M201.1 349.2h.8M213.0 349.7h.8M206.5 349.0h.8M210.3 349.6h.8M205.5 350.0h.8M208.5 347.6h.8M206.0 348.2h.8M206.4 348.7h.8M214.9 346.0h.8M209.9 347.5h.8M202.4 346.4h.8M208.7 347.2h.8M208.2 345.7h.8M214.8 348.9h.8M208.8 347.7h.8M206.3 347.9h.8M204.6 346.8h.8M209.5 344.4h.8M200.8 347.6h.8M205.8 343.2h.8M207.6 347.9h.8M203.7 349.6h.8M201.3 349.6h.8M210.4 345.1h.8M197.7 348.0h.8M205.5 346.8h.8M200.3 349.3h.8M208.7 346.0h.8M204.9 350.8h.8M206.0 346.4h.8M205.5 348.6h.8M208.7 347.6h.8M201.9 345.9h.8M209.0 348.9h.8M211.8 346.0h.8M217.2 345.2h.8M207.5 348.8h.8M208.2 347.0h.8M209.0 348.6h.8M202.2 349.3h.8M208.0 346.4h.8M206.5 346.1h.8M208.3 348.4h.8M208.1 348.4h.8M204.0 348.1h.8M207.2 346.7h.8M206.0 351.4h.8M208.3 346.8h.8M205.6 347.8h.8M202.7 349.8h.8M210.5 347.3h.8M209.4 348.4h.8M210.6 347.4h.8M201.5 348.4h.8M205.9 347.6h.8M203.8 349.2h.8M203.3 347.8h.8M209.8 346.6h.8M212.1 345.5h.8M207.1 348.9h.8M205.9 348.9h.8M205.0 348.8h.8M206.7 349.8h.8M204.7 344.5h.8M196.2 344.7h.8M205.9 347.6h.8M205.8 348.2h.8M209.5 348.4h.8M204.6 347.7h.8M205.1 347.8h.8M209.0 347.1h.8M207.5 350.0h.8M208.7 345.9h.8M205.2 347.0h.8M209.5 346.0h.8M209.8 347.3h.8M209.9 349.1h.8M209.8 348.2h.8M203.9 350.1h.8M203.0 347.5h.8M200.6 348.4h.8M204.5 347.8h.8M201.4 357.6h.8M202.4 357.9h.8M207.6 367.5h.8M206.6 358.0h.8M209.0 380.9h.8M207.4 364.1h.8M207.6 359.4h.8M206.0 362.2h.8M203.1 358.1h.8M206.5 345.9h.8M204.6 354.5h.8M201.4 354.0h.8M203.9 370.9h.8M204.9 355.2h.8M202.5 364.0h.8M204.4 363.7h.8M206.7 366.4h.8M207.3 364.0h.8M212.4 367.8h.8M208.3 365.3h.8M205.8 361.4h.8M204.2 366.5h.8M206.5 351.7h.8M201.7 370.5h.8M210.6 367.2h.8M202.0 356.7h.8M205.9 347.4h.8M205.6 347.4h.8M206.9 357.5h.8M201.0 354.8h.8M199.1 353.0h.8M211.5 354.9h.8M208.5 357.0h.8M202.2 357.4h.8M200.2 352.7h.8M202.6 361.3h.8M202.1 345.8h.8M205.2 355.0h.8M204.2 358.3h.8M203.3 365.7h.8M203.4 349.6h.8M203.8 359.0h.8M211.5 355.6h.8M208.3 360.4h.8M207.1 351.6h.8M204.3 350.1h.8M209.1 375.7h.8M211.9 352.5h.8M208.2 357.2h.8M209.1 365.0h.8M200.1 360.6h.8M207.2 364.6h.8M208.7 368.6h.8M203.7 344.7h.8M204.1 352.1h.8M201.2 362.4h.8M209.5 371.5h.8M204.2 370.1h.8M205.3 370.5h.8M203.4 363.1h.8M201.7 358.1h.8M208.2 360.2h.8M203.0 345.6h.8M209.6 362.2h.8M205.5 362.9h.8M204.3 360.8h.8M204.8 373.0h.8M200.3 357.8h.8M203.2 356.2h.8M201.0 350.7h.8M206.0 364.3h.8M204.6 354.2h.8M203.9 358.5h.8M208.5 358.5h.8M207.1 365.8h.8M206.6 359.1h.8M206.5 360.5h.8M203.2 350.0h.8M201.3 362.8h.8M208.6 369.6h.8M202.1 361.4h.8M208.3 351.6h.8M206.5 364.3h.8M209.7 352.5h.8M210.8 353.2h.8M203.5 355.6h.8M202.3 344.7h.8M204.8 372.8h.8M203.1 355.4h.8M205.0 353.0h.8M203.3 361.5h.8M207.2 361.4h.8M206.0 366.1h.8M206.2 349.0h.8M201.4 368.8h.8M205.5 372.1h.8M203.3 358.2h.8M202.4 360.1h.8M201.0 353.0h.8M206.2 371.8h.8M208.5 363.1h.8M206.9 374.1h.8M201.1 351.5h.8M208.4 353.7h.8M202.5 356.5h.8M211.6 361.3h.8M207.2 362.0h.8M204.4 354.8h.8M202.2 351.5h.8M208.6 360.3h.8M204.7 370.5h.8M206.5 354.3h.8M204.9 363.4h.8M204.0 361.7h.8M214.6 356.9h.8M201.3 351.1h.8M204.8 371.5h.8M212.7 366.8h.8M204.2 357.1h.8M209.8 360.9h.8M210.3 362.4h.8M204.0 363.6h.8M203.0 361.8h.8M210.9 362.1h.8M206.5 357.4h.8M205.0 361.7h.8M206.6 359.7h.8M198.3 363.4h.8M198.9 350.9h.8M204.1 362.2h.8M209.1 366.8h.8M202.3 366.6h.8M207.0 357.6h.8M204.6 353.9h.8M210.4 368.1h.8M205.8 364.5h.8M204.8 357.1h.8M201.3 373.9h.8M208.5 362.0h.8M208.0 365.7h.8M208.1 359.1h.8M208.9 362.4h.8M202.0 368.0h.8M205.2 354.8h.8M202.2 355.3h.8M207.1 368.2h.8M204.0 358.1h.8M207.2 355.6h.8M204.1 360.9h.8M207.5 352.6h.8M205.3 349.4h.8M207.1 364.2h.8M208.1 358.0h.8M207.7 351.6h.8M208.5 352.7h.8M210.9 357.9h.8M201.7 367.3h.8M198.2 373.0h.8M203.8 362.4h.8M205.0 351.0h.8M207.0 348.7h.8M206.4 364.1h.8M207.4 353.0h.8M201.5 359.9h.8M206.7 362.9h.8M210.9 355.4h.8M208.2 360.5h.8M204.8 373.0h.8M203.9 354.0h.8M203.7 360.5h.8M198.9 364.5h.8M205.3 359.9h.8M203.2 361.6h.8M207.8 352.3h.8M207.4 350.0h.8M202.0 353.3h.8M206.8 359.9h.8M206.0 353.8h.8M202.5 344.4h.8M205.5 348.0h.8M202.5 358.8h.8M204.6 369.8h.8M208.5 371.9h.8M207.6 359.8h.8M207.0 365.0h.8M205.2 355.4h.8M202.9 358.1h.8M206.0 365.1h.8M205.7 354.4h.8M204.8 369.4h.8M203.4 363.9h.8M206.2 367.8h.8M207.6 367.1h.8M206.7 368.8h.8M204.9 355.9h.8M204.3 344.5h.8M204.3 371.7h.8M205.2 348.5h.8M202.8 357.6h.8M206.0 353.5h.8M205.3 350.8h.8M201.9 358.9h.8M201.7 361.2h.8M200.4 362.7h.8M202.8 345.8h.8M205.8 342.8h.8M205.2 356.4h.8M207.3 351.5h.8M202.9 361.9h.8M209.2 362.8h.8M205.3 369.9h.8M201.1 362.3h.8M203.6 359.6h.8M209.2 369.6h.8M205.0 363.6h.8M205.2 358.7h.8M202.2 364.2h.8M198.3 345.5h.8M202.8 347.8h.8M201.7 364.6h.8M200.9 353.0h.8M204.7 358.1h.8M197.1 359.3h.8M206.1 362.9h.8M206.6 360.8h.8M209.3 353.9h.8M201.4 363.1h.8M206.3 366.0h.8M206.0 354.5h.8M203.7 357.7h.8M204.1 354.7h.8M196.2 359.9h.8M205.0 363.5h.8M209.6 370.9h.8M206.1 367.3h.8M200.7 361.4h.8M199.6 361.3h.8M212.9 354.1h.8M206.4 370.8h.8M198.3 363.8h.8M201.5 357.0h.8M201.2 363.2h.8M212.5 367.2h.8M207.8 355.2h.8M213.0 369.4h.8M203.2 361.5h.8M206.8 359.9h.8M209.6 356.4h.8M202.1 356.8h.8M210.5 357.3h.8M204.9 351.3h.8M203.1 356.1h.8M209.5 356.9h.8M205.6 350.9h.8M210.6 356.0h.8M212.8 362.9h.8M200.9 357.3h.8M205.5 352.7h.8M212.3 354.2h.8M205.9 352.3h.8M200.5 360.0h.8M205.0 349.7h.8M207.6 356.4h.8M206.3 364.0h.8M202.0 360.4h.8M205.1 355.2h.8M207.9 360.5h.8M205.8 368.4h.8M209.0 373.8h.8M204.4 362.3h.8M203.4 352.5h.8M206.3 344.1h.8M205.4 368.9h.8M209.6 361.1h.8M207.0 347.2h.8M210.5 352.9h.8M203.3 354.6h.8M206.8 371.4h.8M203.0 358.0h.8M208.2 362.3h.8M204.9 379.0h.8M212.1 369.4h.8M206.2 346.2h.8M201.4 350.9h.8M202.6 361.4h.8M201.0 360.2h.8M205.8 355.8h.8M208.3 358.6h.8M201.4 361.0h.8M199.8 370.5h.8M204.2 353.9h.8M203.1 359.6h.8M207.2 360.9h.8M203.5 353.9h.8M206.1 353.9h.8M202.0 359.5h.8M206.8 364.4h.8M207.0 352.6h.8M202.2 354.5h.8M205.8 348.8h.8M199.9 360.9h.8M207.7 350.7h.8M205.9 358.6h.8M203.9 346.7h.8M207.3 353.1h.8M206.9 364.9h.8M210.2 355.7h.8M207.5 366.8h.8M209.4 352.4h.8M209.3 364.3h.8M198.3 361.6h.8M205.7 366.4h.8M204.1 370.4h.8M205.3 364.1h.8M202.3 356.5h.8M202.4 351.1h.8M204.0 361.2h.8M204.3 345.6h.8M206.1 356.4h.8M204.6 362.4h.8M199.2 359.2h.8M210.0 357.4h.8M206.8 354.9h.8M206.8 368.6h.8M207.3 359.9h.8M206.1 354.7h.8M206.2 362.7h.8M202.1 367.8h.8M212.0 349.7h.8M211.0 373.7h.8M203.9 360.1h.8M203.3 354.6h.8M201.8 365.1h.8M207.8 368.2h.8M202.4 361.2h.8M207.6 358.3h.8M205.0 362.2h.8M205.1 355.9h.8M211.2 370.4h.8M205.9 370.8h.8M210.8 374.5h.8M205.2 353.3h.8M206.6 358.8h.8M204.8 360.9h.8M200.4 358.1h.8M203.4 347.4h.8M206.1 355.0h.8M205.2 353.1h.8M204.4 365.1h.8M204.7 362.5h.8M206.3 353.7h.8M206.6 364.6h.8M206.4 357.3h.8M203.7 361.4h.8M204.7 362.8h.8M202.4 347.3h.8M204.5 360.7h.8M200.9 368.6h.8M201.9 352.3h.8M204.8 350.6h.8M203.6 361.6h.8M203.9 344.9h.8M203.4 354.9h.8M201.6 347.4h.8M205.1 356.8h.8M209.2 366.8h.8M205.7 349.7h.8M207.2 359.2h.8M203.0 347.7h.8M208.3 368.9h.8M206.0 356.4h.8M206.8 351.8h.8M206.9 368.6h.8M203.7 368.0h.8M203.6 371.4h.8M207.2 369.2h.8M201.3 356.8h.8M207.0 355.7h.8M205.6 370.8h.8M208.6 354.7h.8M208.8 363.4h.8M204.2 366.2h.8M208.6 366.1h.8M206.6 348.4h.8M197.4 355.0h.8M205.3 352.5h.8M204.2 358.1h.8M201.4 366.2h.8M214.6 354.8h.8M203.8 362.8h.8M207.6 358.5h.8M203.7 366.2h.8M204.6 345.6h.8M208.7 368.2h.8M208.7 372.3h.8M201.5 366.5h.8M205.8 354.3h.8M199.4 359.6h.8M205.3 354.0h.8M202.4 358.4h.8M208.7 354.3h.8M204.4 360.8h.8M211.4 368.6h.8M203.8 356.9h.8M208.7 355.5h.8M206.6 356.2h.8M202.2 353.5h.8M200.8 366.9h.8M203.2 357.6h.8M199.6 367.5h.8M202.3 359.6h.8M201.6 370.7h.8M209.1 355.6h.8M204.7 363.1h.8M207.8 360.6h.8M201.2 363.4h.8M206.3 354.0h.8M209.3 357.3h.8M210.9 365.7h.8M203.0 347.6h.8M204.5 349.6h.8M198.3 352.8h.8M206.6 343.2h.8M209.9 366.6h.8M202.6 368.0h.8M212.9 351.9h.8M205.8 349.4h.8M208.7 373.9h.8M208.4 368.2h.8M208.7 357.9h.8M204.4 364.2h.8M205.8 350.7h.8M206.2 362.0h.8M210.0 360.2h.8M203.9 370.2h.8M202.5 364.2h.8M202.0 347.9h.8M202.5 344.3h.8M206.0 347.8h.8M206.7 369.0h.8M206.2 367.7h.8M201.9 344.6h.8M209.8 343.3h.8M205.2 363.9h.8M204.8 360.5h.8M209.5 351.6h.8M205.9 356.9h.8M196.2 367.7h.8M200.2 354.5h.8M206.5 355.8h.8M206.3 359.1h.8M206.7 357.3h.8M207.2 361.4h.8M205.7 359.0h.8M199.7 356.7h.8M200.8 364.9h.8M205.5 347.7h.8M203.5 357.1h.8M209.0 359.7h.8M211.8 365.4h.8M206.8 361.4h.8M209.1 349.2h.8M206.5 359.9h.8M207.2 362.6h.8M199.7 364.0h.8M202.2 361.8h.8M210.8 356.9h.8M203.1 361.8h.8M208.8 358.2h.8M212.0 346.6h.8M206.3 358.5h.8M203.7 376.8h.8M203.8 356.9h.8M203.9 347.5h.8M204.7 353.7h.8M207.4 361.9h.8M203.3 358.1h.8M205.8 355.4h.8M199.9 363.9h.8M211.0 357.4h.8M198.4 367.5h.8M207.2 362.0h.8M207.4 353.3h.8M199.0 368.8h.8M206.5 369.2h.8M206.3 362.0h.8M206.4 366.2h.8M197.6 353.8h.8M205.3 359.0h.8M205.3 355.3h.8M201.9 361.6h.8M202.6 358.6h.8M207.4 373.9h.8M209.5 356.2h.8M207.2 358.4h.8M202.4 362.2h.8M201.6 357.5h.8M211.3 365.9h.8M204.2 358.6h.8M204.8 356.5h.8M208.9 348.6h.8M205.7 366.0h.8M206.1 366.3h.8M211.0 357.8h.8M199.9 369.9h.8M205.0 357.1h.8M207.4 365.4h.8M201.4 368.3h.8M207.6 360.7h.8M206.9 350.8h.8M202.5 347.0h.8M207.4 366.5h.8M206.5 366.4h.8M206.8 364.0h.8M213.2 360.6h.8M200.6 350.9h.8M210.9 346.6h.8M205.6 371.8h.8M202.7 356.8h.8M207.5 360.0h.8M206.7 369.1h.8M207.5 365.7h.8M207.3 351.8h.8M206.1 365.2h.8M203.6 356.6h.8M208.8 356.3h.8M203.8 360.7h.8M204.5 352.5h.8M204.9 363.0h.8M207.7 372.3h.8M201.9 357.7h.8M205.0 353.9h.8M204.1 344.5h.8M204.9 372.6h.8M206.3 369.9h.8M204.0 356.3h.8M203.5 370.9h.8M208.1 351.8h.8M205.2 359.7h.8M205.9 366.8h.8M206.4 357.2h.8M210.2 359.4h.8M212.2 367.0h.8M206.3 361.5h.8M198.3 361.4h.8M205.6 371.2h.8M205.5 356.8h.8M205.2 360.4h.8M201.6 363.1h.8M201.0 362.9h.8M208.7 363.4h.8M209.8 366.0h.8M202.1 363.2h.8M208.8 349.1h.8M206.0 358.6h.8M206.0 361.9h.8M205.2 344.1h.8M205.3 367.0h.8M202.0 363.7h.8M208.2 367.7h.8M209.8 356.5h.8M204.5 362.9h.8M203.5 355.4h.8M204.5 353.3h.8M206.0 347.4h.8M205.4 364.5h.8M206.0 354.9h.8M207.1 344.9h.8M209.6 361.1h.8M202.7 371.1h.8M201.3 374.6h.8M206.3 356.4h.8M200.0 353.9h.8M201.9 363.8h.8M204.3 351.6h.8M204.4 368.3h.8M208.4 362.1h.8M208.6 375.0h.8M199.8 356.0h.8M203.8 358.3h.8M204.0 357.1h.8M199.7 366.5h.8M203.0 365.2h.8M201.4 364.1h.8M201.9 349.2h.8M207.6 355.9h.8M197.4 361.9h.8M201.3 359.4h.8M205.1 364.5h.8M202.6 355.3h.8M210.7 351.2h.8M201.8 360.0h.8M201.2 353.5h.8M200.3 362.1h.8M201.3 358.5h.8M202.2 355.0h.8M212.2 368.5h.8M208.0 366.9h.8M205.9 370.8h.8M206.5 371.2h.8M200.9 358.0h.8M202.0 366.0h.8M201.9 363.1h.8M202.8 344.5h.8M205.5 354.6h.8M206.7 370.0h.8M202.7 362.6h.8M210.2 364.8h.8M204.2 369.0h.8M206.2 354.2h.8M200.9 363.9h.8M206.3 350.2h.8M201.9 366.5h.8M206.9 351.6h.8M207.2 366.3h.8M203.8 352.7h.8M209.1 362.0h.8M209.4 362.6h.8M205.1 362.8h.8M199.9 371.9h.8M205.4 363.0h.8M204.0 360.4h.8M208.0 348.9h.8M202.5 363.7h.8M206.6 372.6h.8M204.5 346.7h.8M205.1 359.7h.8M200.6 354.3h.8M208.8 367.6h.8M207.1 365.6h.8M200.5 347.1h.8M207.3 366.4h.8M200.0 364.2h.8M200.1 362.8h.8M204.6 365.6h.8M211.4 363.6h.8M207.1 349.0h.8M206.7 364.7h.8M207.3 362.9h.8M201.8 353.8h.8M206.7 351.3h.8M202.2 355.0h.8M206.3 351.3h.8M208.1 373.2h.8M200.2 357.6h.8M202.1 354.1h.8M207.3 361.4h.8M204.3 354.4h.8M206.0 375.4h.8M212.1 358.4h.8M204.3 366.5h.8M206.0 358.0h.8M208.9 360.3h.8M206.6 358.2h.8M206.1 356.3h.8M207.5 349.7h.8M211.2 351.1h.8M197.9 356.8h.8M208.2 349.8h.8M201.7 364.8h.8M201.8 358.6h.8M210.3 358.1h.8M206.3 351.8h.8M202.9 358.8h.8M203.2 362.1h.8M207.9 360.8h.8M205.7 361.4h.8M204.2 359.4h.8M205.4 371.5h.8M206.1 368.0h.8M209.3 357.2h.8M209.7 375.4h.8M203.9 366.6h.8M207.6 354.3h.8M205.5 352.6h.8M208.5 356.2h.8M203.6 355.9h.8M206.8 371.9h.8M210.0 360.2h.8M204.8 361.9h.8M202.0 369.8h.8M208.3 366.9h.8M205.6 358.2h.8M206.7 376.2h.8M207.6 357.6h.8M206.8 365.3h.8M202.6 360.8h.8M199.7 353.9h.8M207.6 358.7h.8M200.1 357.4h.8M204.0 360.2h.8M203.9 355.4h.8M203.5 362.7h.8M205.6 356.9h.8M204.7 357.8h.8M207.5 360.4h.8M201.9 357.1h.8M211.6 367.0h.8M200.9 349.6h.8M208.3 369.8h.8M200.8 349.5h.8M207.7 352.8h.8M203.1 353.7h.8M206.1 375.5h.8M207.9 344.1h.8M206.6 356.1h.8M210.0 368.0h.8M207.2 357.8h.8M212.0 347.4h.8M204.7 354.8h.8M204.2 359.1h.8M198.5 362.9h.8M205.0 365.4h.8M201.1 361.8h.8M205.2 365.2h.8M205.4 359.4h.8M203.6 363.4h.8M207.8 353.9h.8M204.6 357.1h.8M203.1 370.5h.8M209.5 367.3h.8M206.5 344.7h.8M207.4 352.8h.8M206.0 362.5h.8M206.1 353.7h.8M203.0 351.2h.8M199.1 365.2h.8M207.5 355.9h.8M206.2 360.2h.8M201.9 358.2h.8M202.9 353.1h.8M203.2 354.3h.8M214.4 357.2h.8M207.4 372.9h.8M203.6 367.1h.8M200.0 364.6h.8M200.8 349.2h.8M202.6 354.6h.8M204.1 353.7h.8M207.5 353.9h.8M201.9 351.9h.8M208.2 343.1h.8M212.0 360.0h.8M202.4 358.0h.8M202.0 359.3h.8M206.5 369.0h.8M207.8 365.5h.8M208.8 355.5h.8M206.9 372.4h.8M206.0 363.5h.8M202.1 365.3h.8M205.2 361.8h.8M207.0 351.3h.8M202.8 343.8h.8M204.9 372.5h.8M202.3 351.0h.8M203.9 364.8h.8M203.9 353.3h.8M206.5 369.6h.8M203.3 363.1h.8M203.4 348.0h.8M205.4 355.4h.8M198.8 367.5h.8M207.4 360.4h.8M205.6 357.3h.8M202.7 353.5h.8M207.1 359.4h.8M208.3 371.7h.8M209.7 376.6h.8M202.0 349.5h.8M208.1 359.6h.8M210.4 359.9h.8M203.3 353.3h.8M202.1 357.2h.8M203.4 366.1h.8M207.6 354.2h.8M207.8 354.8h.8M205.0 359.3h.8M204.2 377.1h.8M207.1 350.2h.8M207.0 358.6h.8M205.1 358.0h.8M208.2 358.9h.8M201.4 351.9h.8M204.0 366.1h.8M202.0 358.1h.8M207.0 353.9h.8M200.5 347.0h.8M210.9 361.1h.8M198.2 354.2h.8M206.8 358.6h.8M204.8 352.6h.8M208.0 380.6h.8M200.0 351.2h.8M202.1 347.4h.8M201.7 357.7h.8M203.7 360.8h.8M200.1 367.3h.8M203.4 363.6h.8M204.4 356.6h.8M210.1 355.3h.8M205.2 362.4h.8M203.5 346.5h.8M204.5 370.0h.8M203.5 365.2h.8M205.8 351.3h.8M207.2 361.9h.8M203.1 355.9h.8M201.2 364.8h.8M209.7 361.9h.8M204.1 358.7h.8M199.9 368.2h.8M209.6 373.8h.8M207.1 358.1h.8M205.9 373.7h.8M204.1 364.0h.8M205.6 365.5h.8M209.7 364.2h.8M200.6 352.1h.8M206.4 355.1h.8M207.0 359.1h.8M211.6 349.8h.8M202.1 356.7h.8M206.9 358.2h.8M204.4 350.3h.8M205.7 367.0h.8M205.7 359.2h.8M204.6 355.0h.8M203.2 367.8h.8M207.6 346.6h.8M204.5 359.7h.8M204.0 356.4h.8M207.7 367.6h.8M204.8 363.1h.8M205.9 357.0h.8M200.7 362.9h.8M203.3 367.2h.8M204.1 357.6h.8M208.8 365.7h.8M204.7 364.9h.8M198.6 372.8h.8M200.5 365.0h.8M204.8 359.2h.8M208.4 356.8h.8M205.7 371.4h.8M208.7 348.7h.8M209.7 350.4h.8M203.0 364.3h.8M206.5 354.2h.8M205.9 361.5h.8M206.9 368.8h.8M205.5 367.2h.8M204.5 362.1h.8M203.7 360.6h.8M214.4 355.4h.8M202.9 364.3h.8M209.4 357.8h.8M207.4 353.6h.8M209.8 366.1h.8M201.7 367.4h.8M205.2 359.5h.8M201.9 368.2h.8M204.4 358.6h.8M208.2 361.3h.8M205.2 354.7h.8M203.7 354.8h.8M202.3 357.3h.8M207.0 347.7h.8M205.9 361.6h.8M208.4 361.5h.8M207.0 350.3h.8M204.6 363.7h.8M205.0 348.7h.8M206.4 353.3h.8M205.6 361.7h.8M209.1 381.0h.8M205.5 348.1h.8M201.3 356.6h.8M196.4 349.0h.8M206.1 364.9h.8M208.7 365.4h.8M204.1 364.6h.8M206.3 365.0h.8M208.7 356.9h.8M206.4 372.2h.8M206.1 350.3h.8M204.5 360.5h.8M206.1 354.1h.8M210.6 360.5h.8M203.6 359.0h.8M199.3 356.9h.8M202.6 381.7h.8M201.7 354.8h.8M201.6 353.4h.8M200.4 355.5h.8M209.9 360.5h.8M206.0 358.5h.8M196.6 352.7h.8M200.6 364.6h.8M209.0 362.4h.8M201.8 365.3h.8M208.2 356.5h.8M198.8 358.5h.8M208.1 357.7h.8M201.9 362.1h.8M202.1 360.4h.8M206.3 349.1h.8M204.2 360.0h.8M200.5 358.5h.8M210.7 368.6h.8M204.0 371.5h.8M200.7 359.4h.8M203.7 371.9h.8M206.1 360.7h.8M206.8 361.2h.8M203.7 361.5h.8M203.2 357.8h.8M206.7 359.5h.8M208.9 375.8h.8M201.6 360.1h.8M207.2 346.8h.8M204.3 374.1h.8M206.5 342.9h.8M204.3 350.2h.8M207.6 368.3h.8M212.6 367.3h.8M205.7 363.4h.8M203.6 356.6h.8M205.0 359.7h.8M203.6 362.8h.8M203.0 361.6h.8M200.1 355.0h.8M205.3 357.2h.8M212.0 368.0h.8M205.8 363.3h.8M205.3 374.0h.8M211.0 356.6h.8M204.6 351.8h.8M205.3 352.9h.8M211.3 371.3h.8M203.9 367.5h.8M206.4 358.0h.8M207.2 349.8h.8M203.2 363.7h.8M209.0 351.8h.8M202.2 358.2h.8M201.5 357.1h.8M205.8 352.9h.8M204.0 363.0h.8M199.4 343.0h.8M209.1 367.0h.8M204.1 363.7h.8M201.2 355.5h.8M206.8 368.8h.8M211.1 350.6h.8M203.9 358.0h.8M201.4 365.9h.8M207.8 361.4h.8M201.9 350.9h.8M202.9 361.7h.8M208.9 364.4h.8M206.7 359.6h.8M204.4 355.4h.8M213.9 364.4h.8M198.4 346.8h.8M205.3 375.7h.8M205.5 360.4h.8M206.0 350.2h.8M198.1 353.8h.8M208.6 361.1h.8M202.7 362.5h.8M207.0 363.5h.8M198.6 347.3h.8M205.0 354.9h.8M200.4 362.6h.8M206.7 364.5h.8M204.2 352.8h.8M211.1 363.0h.8M197.5 357.5h.8M204.6 350.1h.8M205.6 366.8h.8M206.4 359.8h.8M205.8 355.3h.8M204.3 361.2h.8M206.4 357.6h.8M208.9 374.9h.8M209.0 364.0h.8M204.0 344.8h.8M205.7 365.2h.8M204.4 355.8h.8M200.2 364.7h.8M204.5 353.2h.8M203.3 352.0h.8M210.7 359.4h.8M206.4 356.7h.8M202.6 359.0h.8M206.9 355.5h.8M201.6 352.8h.8M201.2 362.8h.8M200.3 360.5h.8M206.1 357.7h.8M206.0 359.0h.8M207.4 355.1h.8M208.2 359.9h.8M206.0 364.9h.8M208.5 365.6h.8M199.1 357.7h.8M198.2 351.6h.8M206.5 348.0h.8M212.5 354.6h.8M198.9 353.9h.8M207.3 351.6h.8M201.6 354.5h.8M200.5 362.6h.8M206.4 370.8h.8M204.7 354.4h.8M204.4 358.6h.8M205.3 360.0h.8M203.9 362.8h.8M203.3 366.3h.8M208.6 351.8h.8M203.8 352.9h.8M208.2 363.2h.8M201.2 348.1h.8M201.7 355.6h.8M204.9 360.2h.8M201.6 354.3h.8M207.7 346.0h.8M202.0 356.2h.8M208.1 368.2h.8M196.6 363.6h.8M206.9 349.1h.8M201.5 359.4h.8M202.2 380.7h.8M204.1 357.7h.8M208.3 350.8h.8M204.1 368.8h.8M201.8 344.6h.8M207.5 359.4h.8M206.1 362.4h.8M199.0 348.0h.8M209.2 363.6h.8M207.0 358.0h.8M204.6 359.7h.8M203.8 370.0h.8M200.6 370.3h.8M205.8 355.2h.8M204.5 362.1h.8M205.6 352.7h.8M200.5 343.8h.8M200.4 358.2h.8M206.1 363.2h.8M205.5 363.3h.8M212.1 364.4h.8M205.1 354.0h.8M206.5 362.7h.8M207.2 358.5h.8M207.9 354.1h.8M205.5 363.5h.8M200.7 372.9h.8M204.2 355.6h.8M204.7 344.4h.8M202.8 351.1h.8M202.1 363.1h.8M207.4 361.1h.8M206.4 364.4h.8M204.2 353.2h.8M203.9 360.7h.8M204.7 351.2h.8M203.0 359.9h.8M207.2 363.0h.8M203.3 360.9h.8M208.9 350.6h.8M206.2 349.0h.8M205.6 353.5h.8M204.8 367.0h.8M207.6 369.5h.8M205.9 367.3h.8M203.5 349.3h.8M203.3 355.8h.8M207.5 358.6h.8M202.7 356.4h.8M205.0 369.1h.8M206.9 357.7h.8M207.9 358.1h.8M206.5 370.4h.8M203.7 366.8h.8M208.8 345.1h.8M207.1 364.3h.8M204.0 360.5h.8M204.4 358.1h.8M206.4 356.9h.8M201.2 363.3h.8M198.0 350.3h.8M211.2 350.7h.8M207.4 364.2h.8M206.9 360.9h.8M207.0 357.4h.8M203.3 365.2h.8M207.5 366.8h.8M208.5 361.8h.8M205.8 351.1h.8M204.4 351.5h.8M207.4 373.8h.8M210.6 368.6h.8M204.9 361.9h.8M205.9 353.7h.8M207.0 364.4h.8M199.3 370.1h.8M204.5 346.3h.8M202.7 360.4h.8M200.3 348.4h.8M202.7 351.9h.8M208.1 358.6h.8M203.4 360.6h.8M205.3 363.3h.8M206.7 366.1h.8M211.9 362.6h.8M205.8 358.8h.8M211.7 355.9h.8M205.7 358.9h.8M200.5 364.7h.8M209.4 379.8h.8M201.7 358.8h.8M203.0 346.0h.8M206.7 357.3h.8M207.8 348.3h.8M206.2 366.5h.8M205.3 350.5h.8M207.5 357.1h.8M210.3 345.1h.8M198.2 350.2h.8M206.9 352.8h.8M195.9 360.8h.8M210.3 372.0h.8M204.4 349.3h.8M208.0 369.6h.8M203.3 365.4h.8M204.7 347.6h.8M203.7 358.2h.8M206.3 361.2h.8M200.4 355.5h.8M210.1 359.6h.8M209.5 347.2h.8M201.2 351.3h.8M209.3 364.3h.8M205.5 355.3h.8M208.9 356.6h.8M206.4 344.7h.8M206.0 361.6h.8M204.4 360.2h.8M207.0 350.6h.8M203.6 354.9h.8M204.1 353.4h.8M202.9 352.4h.8M211.7 359.6h.8M206.0 360.9h.8M208.3 372.0h.8M211.9 364.0h.8M205.3 357.8h.8M206.3 361.1h.8M204.0 363.7h.8M206.4 366.7h.8M206.2 354.0h.8M207.0 352.6h.8M205.6 357.8h.8M208.8 362.4h.8M205.0 365.8h.8M208.7 346.3h.8M200.6 354.1h.8M206.4 352.3h.8M207.2 354.0h.8M212.4 376.8h.8M203.6 348.2h.8M206.2 352.2h.8M207.3 348.9h.8M204.0 350.0h.8M205.7 346.7h.8M205.5 352.7h.8M202.9 349.1h.8M202.5 344.9h.8M211.4 347.1h.8M205.4 374.6h.8M198.3 358.8h.8M210.9 368.1h.8M207.3 364.7h.8M202.5 369.9h.8M203.8 359.8h.8M201.5 380.1h.8M203.2 358.6h.8M203.0 355.1h.8M202.6 363.7h.8M200.8 351.8h.8M204.7 362.3h.8M208.4 343.4h.8M204.1 361.8h.8M210.3 366.6h.8M202.0 363.2h.8M202.7 350.6h.8M197.1 357.1h.8M207.1 365.2h.8M205.9 352.3h.8M204.4 369.1h.8M206.1 351.2h.8M202.1 361.3h.8M207.3 355.6h.8M198.9 352.1h.8M203.9 366.8h.8M210.2 365.3h.8M203.9 357.2h.8M209.0 350.9h.8M202.6 352.3h.8M201.9 347.4h.8M201.1 374.5h.8M206.0 370.3h.8M211.2 361.9h.8M211.6 369.5h.8M208.5 360.4h.8M205.9 366.4h.8M206.5 357.2h.8M214.7 358.9h.8M207.2 361.7h.8M208.7 361.7h.8M205.9 359.3h.8M205.6 356.5h.8M205.3 368.8h.8M208.2 362.4h.8M202.2 366.0h.8M205.6 357.4h.8M208.4 363.0h.8M203.0 354.1h.8M209.0 350.3h.8M198.4 354.4h.8M205.6 359.3h.8M204.6 344.0h.8M206.3 351.5h.8M200.7 361.6h.8M207.6 351.2h.8M209.0 358.9h.8M210.6 361.4h.8M203.1 360.7h.8M210.2 361.3h.8M201.0 357.7h.8M203.0 350.0h.8M205.7 356.5h.8M206.3 372.2h.8M201.2 360.0h.8M202.4 354.5h.8M206.2 361.4h.8M206.3 358.8h.8M200.1 357.2h.8M208.0 364.0h.8M203.0 360.0h.8M207.6 356.9h.8M203.0 359.3h.8M203.6 370.2h.8M199.9 363.5h.8M209.4 349.5h.8M203.2 368.1h.8M199.4 370.1h.8M208.6 357.0h.8M205.7 367.2h.8M208.2 366.3h.8M198.0 361.3h.8M205.7 349.0h.8M201.9 345.8h.8M211.4 362.7h.8M207.0 367.0h.8M205.5 364.4h.8M196.2 357.9h.8M207.0 355.0h.8M210.1 352.5h.8M199.4 355.5h.8M205.7 359.3h.8M206.0 365.3h.8M203.6 368.5h.8M207.7 368.5h.8M206.3 354.1h.8M204.0 353.5h.8M204.7 352.3h.8M206.4 351.1h.8M205.3 358.0h.8M202.6 354.7h.8M209.2 356.7h.8M208.3 363.3h.8M201.6 367.0h.8M201.8 359.7h.8M201.8 362.4h.8M205.9 360.7h.8M202.1 356.9h.8M206.2 368.5h.8M212.4 349.6h.8M207.1 367.4h.8M203.1 352.0h.8M211.9 362.7h.8M200.2 349.3h.8M203.9 351.8h.8M202.6 360.7h.8M203.8 367.9h.8M208.2 369.5h.8M204.9 354.7h.8M203.7 361.5h.8M205.3 351.9h.8M202.9 357.5h.8M209.3 359.6h.8M201.1 357.5h.8M196.5 359.8h.8M206.4 353.8h.8M206.6 366.4h.8M208.0 352.3h.8M205.9 358.7h.8M204.3 366.8h.8M205.4 363.6h.8M208.4 350.7h.8M204.8 344.8h.8M208.7 347.1h.8M199.9 359.9h.8M211.0 362.5h.8M200.3 366.9h.8M204.6 364.5h.8M203.0 372.8h.8M203.9 365.3h.8M206.8 346.1h.8M205.7 352.6h.8M205.1 358.1h.8M202.1 359.8h.8M207.9 364.0h.8M207.5 370.3h.8M207.3 359.2h.8M206.8 363.7h.8M204.8 356.1h.8M212.2 363.8h.8M206.2 357.5h.8M210.0 369.0h.8M201.4 364.9h.8M212.3 366.6h.8M205.0 364.9h.8M206.8 358.0h.8M203.0 361.0h.8M207.9 359.9h.8M203.4 367.2h.8M212.8 376.6h.8M204.7 359.2h.8M203.9 354.6h.8M198.6 360.7h.8M201.5 358.7h.8M204.3 356.6h.8M199.6 359.1h.8M204.8 361.6h.8M203.5 363.2h.8M210.6 352.4h.8M205.2 356.2h.8M208.4 362.6h.8M201.3 354.8h.8M204.1 354.0h.8M206.2 370.6h.8M209.0 361.9h.8M209.2 358.9h.8M209.4 361.0h.8M201.9 364.3h.8M205.1 371.4h.8M206.8 355.3h.8M205.9 355.6h.8M203.3 359.7h.8M203.5 367.0h.8M204.5 365.2h.8M201.0 352.6h.8M198.7 367.6h.8M208.8 354.6h.8M205.1 350.9h.8M209.2 371.1h.8M204.2 359.4h.8M202.6 369.7h.8M205.3 373.5h.8M203.0 362.5h.8M204.8 353.6h.8M204.7 353.3h.8M208.3 352.7h.8M201.5 367.3h.8M204.3 348.2h.8M209.2 354.0h.8M202.0 359.4h.8M204.1 354.5h.8M208.9 371.8h.8M201.5 359.8h.8M196.6 363.0h.8M204.6 360.7h.8M207.1 365.7h.8M210.4 354.7h.8M203.5 357.1h.8M206.1 358.2h.8M202.6 349.5h.8M206.1 363.2h.8M205.8 353.3h.8M204.8 370.3h.8M201.1 355.8h.8M205.6 355.2h.8M203.7 366.3h.8M210.4 356.9h.8M204.5 348.4h.8M202.0 349.2h.8M198.5 353.5h.8M204.0 362.4h.8M209.6 358.1h.8M208.3 354.9h.8M204.8 351.1h.8M207.0 362.3h.8M204.3 358.6h.8M203.9 353.2h.8M206.8 364.2h.8M202.0 358.3h.8M204.1 354.3h.8M204.8 351.0h.8M200.7 353.5h.8M204.7 353.0h.8M204.5 353.3h.8M205.7 360.0h.8M206.8 364.2h.8M206.2 359.7h.8M203.9 367.7h.8M197.2 361.9h.8M212.2 364.1h.8M205.9 353.0h.8M208.1 364.0h.8M203.9 367.5h.8M201.1 365.0h.8M206.9 366.8h.8M207.5 357.8h.8M209.0 376.7h.8M202.1 363.1h.8M203.6 349.8h.8M201.9 358.9h.8M207.6 355.7h.8M203.9 365.5h.8M204.9 365.6h.8M207.8 367.9h.8M209.5 344.6h.8M199.7 346.8h.8M197.9 343.6h.8M208.3 365.0h.8M207.6 370.1h.8M204.0 365.7h.8M210.5 364.1h.8M203.2 370.7h.8M205.2 355.8h.8M208.0 360.7h.8M206.5 343.5h.8M204.5 361.7h.8M204.3 357.4h.8M206.6 360.4h.8M204.4 348.1h.8M203.5 361.7h.8M202.8 354.4h.8M205.0 359.8h.8M200.8 357.7h.8M203.9 369.1h.8M203.3 364.0h.8M202.4 347.8h.8M203.5 348.9h.8M199.1 369.3h.8M208.7 352.7h.8M207.0 349.1h.8M207.2 350.5h.8M204.2 355.0h.8M204.3 366.0h.8M201.3 364.8h.8M209.9 348.9h.8M202.1 361.8h.8M206.4 358.7h.8M201.9 352.9h.8M203.9 365.8h.8M200.6 354.3h.8M205.2 374.5h.8M206.7 364.8h.8M202.5 365.3h.8M197.6 355.2h.8M209.0 362.9h.8M205.4 360.1h.8M206.6 345.0h.8M210.6 364.5h.8M214.4 401.1h.8M206.9 392.0h.8M202.7 382.0h.8M202.5 403.6h.8M204.0 401.1h.8M211.8 374.7h.8M212.0 401.9h.8M207.7 402.5h.8M210.7 398.8h.8M207.2 354.9h.8M204.5 384.5h.8M208.5 395.3h.8M202.8 386.8h.8M203.3 397.8h.8M200.7 390.0h.8M208.0 388.5h.8M205.7 395.5h.8M207.2 380.4h.8M208.2 402.4h.8M201.5 388.4h.8M206.8 381.2h.8M207.6 383.9h.8M194.1 390.3h.8M193.4 405.9h.8M213.6 397.8h.8M205.2 392.6h.8M207.8 400.7h.8M214.0 404.7h.8M211.4 404.0h.8M200.8 384.2h.8M194.6 387.3h.8M206.3 399.6h.8M206.6 393.2h.8M204.1 391.4h.8M202.9 393.9h.8M205.8 369.2h.8M211.1 376.0h.8M212.2 382.3h.8M201.7 395.3h.8M207.0 382.6h.8M200.9 392.7h.8M192.5 378.6h.8M207.2 393.2h.8M204.7 380.0h.8M201.9 390.4h.8M202.6 384.3h.8M199.4 397.5h.8M202.5 389.1h.8M205.9 401.0h.8M210.6 383.7h.8M202.5 395.3h.8M207.7 374.1h.8M207.9 404.2h.8M203.6 378.1h.8M207.1 379.2h.8M202.6 402.8h.8M205.6 388.9h.8M207.7 400.0h.8M211.5 393.3h.8M199.8 395.1h.8M203.5 366.8h.8M202.0 407.4h.8M206.8 387.2h.8M204.1 398.9h.8M203.7 382.6h.8M206.6 395.2h.8M194.9 403.2h.8M196.7 395.6h.8M200.9 403.3h.8M202.6 385.1h.8M210.6 398.6h.8M200.6 385.3h.8M199.2 377.3h.8M209.4 393.6h.8M210.5 382.7h.8M207.0 378.0h.8M207.1 381.5h.8M205.8 370.7h.8M216.1 406.7h.8M203.6 370.4h.8M206.8 371.6h.8M206.8 374.4h.8M198.2 389.4h.8M200.1 371.6h.8M204.9 373.5h.8M204.3 378.6h.8M207.8 402.7h.8M206.9 400.3h.8M206.0 387.4h.8M206.3 377.0h.8M209.1 392.7h.8M201.0 374.2h.8M198.6 385.8h.8M204.9 408.6h.8M200.2 401.5h.8M210.0 388.1h.8M210.8 397.8h.8M203.2 392.8h.8M208.8 376.9h.8M204.0 376.2h.8M209.7 367.0h.8M206.4 399.7h.8M206.0 381.0h.8M208.2 395.6h.8M207.8 397.8h.8M210.7 405.5h.8M205.4 372.2h.8M207.4 395.8h.8M210.3 361.0h.8M207.8 396.6h.8M201.0 384.2h.8M207.1 393.8h.8M198.5 402.6h.8M204.8 382.6h.8M211.1 377.7h.8M205.1 393.3h.8M203.0 406.7h.8M205.5 388.7h.8M207.2 380.9h.8M207.9 403.3h.8M199.4 408.2h.8M204.0 393.4h.8M204.3 376.5h.8M205.5 401.4h.8M201.2 400.8h.8M205.1 406.0h.8M209.9 388.5h.8M204.5 380.3h.8M214.6 391.5h.8M204.7 393.4h.8M197.5 403.3h.8M205.7 387.3h.8M208.8 389.3h.8M206.9 400.2h.8M204.1 393.8h.8M210.2 403.5h.8M202.0 391.2h.8M202.5 396.4h.8M204.4 384.5h.8M201.4 405.6h.8M206.3 403.8h.8M213.5 386.5h.8M189.8 407.7h.8M203.9 379.7h.8M211.1 396.3h.8M194.0 403.6h.8M207.0 391.6h.8M203.4 386.8h.8M198.1 373.0h.8M207.4 397.5h.8M209.9 380.8h.8M211.8 393.7h.8M208.4 399.1h.8M207.0 394.1h.8M206.9 388.0h.8M208.3 377.1h.8M205.0 407.5h.8M209.3 394.7h.8M202.9 376.7h.8M208.7 372.9h.8M205.5 395.1h.8M203.6 374.5h.8M208.7 390.6h.8M208.3 378.5h.8M213.2 398.3h.8M208.0 392.6h.8M203.8 403.6h.8M210.0 406.6h.8M204.8 385.8h.8M205.1 399.3h.8M208.2 396.9h.8M214.6 380.9h.8M206.5 386.5h.8M201.3 388.6h.8M206.1 380.6h.8M208.6 390.9h.8M209.7 403.5h.8M207.1 386.6h.8M208.7 395.2h.8M205.5 368.6h.8M211.6 390.2h.8M202.4 385.2h.8M204.3 370.3h.8M208.6 403.3h.8M211.9 386.7h.8M209.6 381.5h.8M208.8 394.1h.8M212.6 400.4h.8M207.8 378.6h.8M208.0 381.2h.8M208.4 379.6h.8M206.4 404.7h.8M196.8 408.1h.8M209.8 404.1h.8M203.6 403.5h.8M198.6 380.5h.8M208.3 401.3h.8M202.1 379.6h.8M205.9 392.5h.8M205.0 382.8h.8M203.4 406.0h.8M202.5 391.6h.8M202.7 405.6h.8M201.2 396.1h.8M208.1 384.3h.8M207.6 373.0h.8M200.2 395.3h.8M197.7 390.5h.8M207.6 408.5h.8M204.9 398.4h.8M207.4 366.7h.8M203.8 366.4h.8M200.9 406.5h.8M211.4 404.5h.8M208.1 382.7h.8M196.7 387.8h.8M203.6 394.0h.8M205.2 380.8h.8M210.5 388.0h.8M205.0 386.8h.8M194.8 382.6h.8M201.3 389.9h.8M206.2 382.3h.8M200.5 379.7h.8M214.5 379.1h.8M198.1 389.0h.8M196.8 382.7h.8M206.6 406.9h.8M204.5 387.3h.8M200.2 393.3h.8M205.2 390.9h.8M206.8 378.6h.8M210.1 392.1h.8M197.9 400.3h.8M208.1 362.8h.8M202.1 380.3h.8M212.3 384.5h.8M202.6 403.0h.8M205.8 354.5h.8M203.6 388.0h.8M199.5 405.4h.8M206.6 383.5h.8M207.4 384.7h.8M205.9 393.1h.8M203.1 383.8h.8M208.7 396.0h.8M209.7 386.5h.8M205.3 408.3h.8M201.8 403.0h.8M209.3 403.3h.8M208.2 391.5h.8M204.7 393.9h.8M210.4 387.1h.8M211.1 404.9h.8M194.9 400.2h.8M200.9 398.3h.8M202.4 384.8h.8M201.8 407.0h.8M203.4 387.3h.8M202.1 378.8h.8M202.2 394.4h.8M201.1 383.3h.8M207.8 394.0h.8M200.9 369.2h.8M207.1 377.4h.8M197.2 400.6h.8M210.4 401.4h.8M195.4 390.3h.8M207.8 381.7h.8M202.0 400.8h.8M203.1 396.0h.8M207.6 393.6h.8M205.3 397.7h.8M206.6 398.9h.8M201.1 397.5h.8M201.4 396.1h.8M211.5 400.6h.8M205.6 392.5h.8M201.7 403.8h.8M210.8 398.7h.8M203.5 390.6h.8M204.3 403.6h.8M213.8 398.5h.8M206.7 400.0h.8M202.7 395.9h.8M204.3 405.0h.8M205.6 396.6h.8M210.6 368.6h.8M201.4 399.8h.8M208.5 391.6h.8M203.2 378.3h.8M203.8 398.6h.8M205.3 394.1h.8M209.0 401.4h.8M201.1 375.0h.8M206.1 404.6h.8M205.1 407.8h.8M205.1 397.4h.8M202.3 399.2h.8M198.1 397.7h.8M206.0 381.9h.8M205.2 406.1h.8M202.5 401.3h.8M201.2 393.3h.8M200.5 375.3h.8M206.3 404.0h.8M203.1 382.5h.8M210.7 375.9h.8M207.5 370.3h.8M202.6 405.4h.8M207.8 399.8h.8M202.6 394.1h.8M201.3 384.5h.8M206.5 389.4h.8M203.5 384.7h.8M204.6 373.8h.8M205.6 408.4h.8M203.4 393.8h.8M206.6 405.3h.8M206.2 388.4h.8M208.0 384.5h.8M216.1 406.2h.8M208.9 396.5h.8M206.0 385.5h.8M206.5 375.4h.8M201.8 392.5h.8M207.6 407.1h.8M201.0 396.6h.8M209.8 397.0h.8M203.0 384.9h.8M199.3 391.9h.8M203.1 404.3h.8M212.3 381.4h.8M204.6 393.0h.8M201.7 392.0h.8M197.4 372.3h.8M200.0 394.7h.8M209.1 395.8h.8M207.8 372.7h.8M202.0 395.4h.8M212.2 397.6h.8M211.0 384.9h.8M207.6 388.6h.8M196.4 389.2h.8M207.0 389.8h.8M205.1 399.5h.8M197.6 383.4h.8M206.7 377.2h.8M208.6 387.6h.8M206.4 382.1h.8M203.3 386.6h.8M210.9 381.9h.8M206.4 386.2h.8M214.2 369.1h.8M205.7 387.9h.8M202.5 394.7h.8M201.5 389.3h.8M207.8 400.8h.8M196.9 391.3h.8M201.4 386.7h.8M205.0 373.3h.8M207.1 391.4h.8M204.5 389.7h.8M209.3 383.1h.8M202.9 399.2h.8M209.2 390.6h.8M212.0 376.4h.8M204.3 399.2h.8M202.1 389.3h.8M204.4 371.3h.8M205.8 408.3h.8M208.5 396.7h.8M209.2 409.0h.8M199.2 396.6h.8M207.3 392.5h.8M206.6 402.8h.8M205.4 397.7h.8M207.1 395.2h.8M198.2 395.6h.8M209.3 403.8h.8M205.4 401.9h.8M203.3 377.9h.8M214.1 405.8h.8M194.5 393.0h.8M206.5 402.0h.8M208.9 396.7h.8M208.4 381.5h.8M205.9 376.9h.8M204.3 385.4h.8M204.1 372.6h.8M201.8 382.1h.8M208.5 373.5h.8M199.5 394.7h.8M206.8 385.7h.8M204.8 397.8h.8M206.8 400.2h.8M202.2 383.3h.8M204.4 394.4h.8M196.9 376.2h.8M203.0 385.2h.8M204.7 381.0h.8M203.2 391.8h.8M206.1 392.9h.8M200.6 394.3h.8M201.3 388.6h.8M200.0 407.9h.8M212.4 393.1h.8M213.7 391.0h.8M208.1 361.0h.8M209.6 383.4h.8M200.6 370.0h.8M208.8 386.3h.8M214.0 394.7h.8M204.2 375.5h.8M209.8 390.0h.8M211.4 385.6h.8M200.3 401.2h.8M209.2 401.9h.8M203.9 371.3h.8M205.9 358.3h.8M208.5 390.5h.8M201.1 400.8h.8M198.7 385.5h.8M210.4 382.2h.8M209.9 384.1h.8M212.1 377.6h.8M201.8 387.1h.8M201.7 401.8h.8M205.3 405.0h.8M200.5 408.2h.8M214.0 391.5h.8M204.5 372.9h.8M209.6 391.9h.8M211.3 384.1h.8M198.4 392.8h.8M207.4 373.3h.8M203.7 391.1h.8M199.9 384.6h.8M207.3 391.1h.8M201.9 395.0h.8M202.7 360.7h.8M211.6 389.6h.8M202.1 395.3h.8M198.5 393.0h.8M204.4 402.8h.8M204.2 385.6h.8M202.8 378.8h.8M216.5 393.2h.8M202.5 406.5h.8M202.5 375.1h.8M212.6 397.4h.8M209.6 369.8h.8M207.6 401.2h.8M203.2 396.7h.8M202.2 385.3h.8M211.3 385.3h.8M201.9 405.1h.8M204.6 408.9h.8M197.5 383.4h.8M199.2 379.1h.8M203.5 400.4h.8M202.9 379.8h.8M201.2 400.0h.8M200.5 393.3h.8M196.3 393.6h.8M210.0 378.8h.8M191.8 376.5h.8M204.4 379.2h.8M209.7 398.9h.8M203.0 380.3h.8M204.6 386.2h.8M207.5 380.1h.8M199.1 370.7h.8M196.4 373.6h.8M207.2 373.4h.8M202.2 396.8h.8M198.8 384.7h.8M206.7 408.5h.8M204.0 388.2h.8M214.4 382.4h.8M204.1 370.0h.8M200.4 391.9h.8M198.1 373.1h.8M209.6 377.2h.8M206.4 395.1h.8M205.0 391.9h.8M200.1 406.4h.8M201.3 378.9h.8M199.5 390.1h.8M211.3 388.3h.8M204.6 406.7h.8M207.2 384.6h.8M209.8 391.1h.8M208.2 375.6h.8M207.9 408.2h.8M200.0 390.3h.8M205.0 372.6h.8M203.7 402.6h.8M205.4 383.2h.8M208.2 384.8h.8M204.9 391.6h.8M209.7 396.2h.8M203.5 401.2h.8M200.9 370.7h.8M197.1 402.6h.8M214.2 390.0h.8M211.4 383.9h.8M207.9 396.3h.8M204.0 397.9h.8M207.5 389.6h.8M216.2 398.5h.8M208.3 392.0h.8M202.2 389.0h.8M205.5 387.4h.8M200.5 381.4h.8M202.8 395.5h.8M199.1 402.4h.8M198.1 378.2h.8M208.1 396.4h.8M203.1 393.6h.8M205.2 405.6h.8M203.2 397.9h.8M205.9 380.6h.8M212.2 384.6h.8M209.6 371.0h.8M207.0 385.9h.8M203.4 398.4h.8M204.8 380.6h.8M199.0 395.7h.8M205.2 383.5h.8M202.6 382.9h.8M207.1 385.1h.8M213.9 381.9h.8M213.8 397.3h.8M205.0 393.9h.8M206.6 388.9h.8M209.2 383.3h.8M208.2 390.6h.8M210.6 380.8h.8M199.2 374.7h.8M204.6 369.4h.8M205.9 385.7h.8M202.7 400.7h.8M213.9 377.3h.8M209.2 395.8h.8M203.7 401.5h.8M200.3 366.3h.8M202.0 387.8h.8M205.1 380.6h.8M211.3 371.3h.8M199.4 363.0h.8M200.2 379.1h.8M208.4 390.4h.8M210.4 396.2h.8M210.7 386.0h.8M203.8 373.4h.8M214.9 374.1h.8M205.5 396.0h.8M202.9 399.2h.8M203.3 394.6h.8M202.8 386.5h.8M208.3 405.5h.8M208.9 388.4h.8M202.1 383.1h.8M209.7 386.6h.8M206.3 398.6h.8M208.3 403.9h.8M200.2 384.6h.8M207.1 396.5h.8M208.7 394.3h.8M207.8 387.5h.8M209.5 378.3h.8M206.3 395.1h.8M209.0 405.2h.8M204.6 388.9h.8M202.3 403.4h.8M203.8 386.0h.8M204.7 394.1h.8M205.5 396.5h.8M212.5 391.4h.8M203.0 379.8h.8M204.1 393.4h.8M208.3 396.2h.8M207.3 392.9h.8M204.0 392.4h.8M212.3 400.8h.8M209.8 376.4h.8M196.8 387.3h.8M204.7 382.0h.8M203.8 379.4h.8M207.6 382.9h.8M206.1 380.9h.8M203.4 391.9h.8M208.7 406.6h.8M204.0 379.2h.8M204.1 390.5h.8M202.8 391.3h.8M200.3 388.3h.8M207.2 392.1h.8M197.2 389.1h.8M199.4 386.9h.8M211.8 400.9h.8M200.9 379.3h.8M209.6 387.7h.8M206.5 397.6h.8M212.0 395.3h.8M214.2 394.8h.8M200.9 393.1h.8M209.7 396.9h.8M204.9 385.4h.8M210.9 402.8h.8M200.7 398.6h.8M202.8 390.0h.8M204.5 366.2h.8M211.6 405.0h.8M210.0 379.5h.8M207.1 391.7h.8M212.1 403.2h.8M212.6 379.1h.8M210.5 399.6h.8M201.6 396.9h.8M200.7 400.7h.8M209.4 401.8h.8M210.3 407.2h.8M200.4 403.2h.8M211.7 391.8h.8M206.9 393.7h.8M204.9 401.3h.8M210.8 379.5h.8M198.2 398.0h.8M204.0 399.4h.8M206.9 397.9h.8M200.8 358.7h.8M202.4 382.6h.8M204.6 403.6h.8M206.6 384.1h.8M209.1 397.6h.8M203.2 385.5h.8M207.6 380.9h.8M208.0 391.2h.8M208.5 394.4h.8M195.8 391.0h.8M204.6 387.4h.8M201.8 361.7h.8M210.1 409.0h.8M206.1 397.5h.8M204.0 384.4h.8M213.7 399.8h.8M206.7 391.2h.8M209.3 398.1h.8M207.5 370.1h.8M203.2 378.4h.8M198.3 401.2h.8M206.8 386.6h.8M204.9 405.5h.8M203.3 406.5h.8M194.2 373.8h.8M207.7 383.9h.8M205.2 386.4h.8M203.0 384.4h.8M215.2 368.7h.8M204.1 388.6h.8M209.0 402.7h.8M202.8 374.1h.8M203.3 346.5h.8M213.4 399.4h.8M209.5 395.0h.8M206.5 399.6h.8M209.4 408.6h.8M202.3 380.0h.8M213.5 391.6h.8M201.1 390.6h.8M206.7 391.5h.8M212.9 402.3h.8M204.7 398.7h.8M204.7 399.6h.8M206.8 401.6h.8M197.6 398.4h.8M206.6 389.0h.8M204.0 388.4h.8M203.5 406.6h.8M194.9 390.0h.8M207.5 373.2h.8M207.0 374.8h.8M199.8 397.2h.8M202.8 391.3h.8M205.4 396.3h.8M208.5 363.3h.8M203.8 397.0h.8M203.0 406.6h.8M204.4 388.1h.8M195.3 356.9h.8M202.3 400.7h.8M199.9 387.2h.8M211.5 359.7h.8M199.6 367.1h.8M201.4 387.5h.8M199.6 393.4h.8M212.4 384.7h.8M210.7 398.1h.8" stroke="#000" stroke-opacity="0.34" stroke-width="0.8" fill="none" filter="url(#bd)"/>
<rect x="148" y="342.3" width="71.60" height="67.30" fill="none" stroke="#5c5c5c" stroke-width="0.9"/>
<line x1="194.2" y1="342.3" x2="194.2" y2="409.6" stroke="#747474" stroke-width="0.7" />
<line x1="148" y1="379.2" x2="219.6" y2="379.2" stroke="#747474" stroke-width="0.7" />
<text transform="translate(143.8,416.9) scale(0.86,1)" font-family='"Liberation Sans", sans-serif' font-size="6.7" fill="#3a3a3a">10<tspan dy="-2.7" font-size="4.8">0</tspan></text>
<text transform="translate(144.8,414.5) rotate(-90) scale(0.86,1)" font-family='"Liberation Sans", sans-serif' font-size="6.7" fill="#3a3a3a">10<tspan dy="-2.7" font-size="4.8">0</tspan></text>
<line x1="148.0" y1="409.6" x2="148.0" y2="411.20000000000005" stroke="#444" stroke-width="0.6" />
<line x1="146.4" y1="409.6" x2="148" y2="409.6" stroke="#444" stroke-width="0.6" />
<text transform="translate(161.7,416.9) scale(0.86,1)" font-family='"Liberation Sans", sans-serif' font-size="6.7" fill="#3a3a3a">10<tspan dy="-2.7" font-size="4.8">1</tspan></text>
<text transform="translate(144.8,397.7) rotate(-90) scale(0.86,1)" font-family='"Liberation Sans", sans-serif' font-size="6.7" fill="#3a3a3a">10<tspan dy="-2.7" font-size="4.8">1</tspan></text>
<line x1="165.9" y1="409.6" x2="165.9" y2="411.20000000000005" stroke="#444" stroke-width="0.6" />
<line x1="146.4" y1="392.77500000000003" x2="148" y2="392.77500000000003" stroke="#444" stroke-width="0.6" />
<text transform="translate(179.6,416.9) scale(0.86,1)" font-family='"Liberation Sans", sans-serif' font-size="6.7" fill="#3a3a3a">10<tspan dy="-2.7" font-size="4.8">2</tspan></text>
<text transform="translate(144.8,380.9) rotate(-90) scale(0.86,1)" font-family='"Liberation Sans", sans-serif' font-size="6.7" fill="#3a3a3a">10<tspan dy="-2.7" font-size="4.8">2</tspan></text>
<line x1="183.8" y1="409.6" x2="183.8" y2="411.20000000000005" stroke="#444" stroke-width="0.6" />
<line x1="146.4" y1="375.95000000000005" x2="148" y2="375.95000000000005" stroke="#444" stroke-width="0.6" />
<text transform="translate(197.5,416.9) scale(0.86,1)" font-family='"Liberation Sans", sans-serif' font-size="6.7" fill="#3a3a3a">10<tspan dy="-2.7" font-size="4.8">3</tspan></text>
<text transform="translate(144.8,364.0) rotate(-90) scale(0.86,1)" font-family='"Liberation Sans", sans-serif' font-size="6.7" fill="#3a3a3a">10<tspan dy="-2.7" font-size="4.8">3</tspan></text>
<line x1="201.7" y1="409.6" x2="201.7" y2="411.20000000000005" stroke="#444" stroke-width="0.6" />
<line x1="146.4" y1="359.125" x2="148" y2="359.125" stroke="#444" stroke-width="0.6" />
<text transform="translate(215.4,416.9) scale(0.86,1)" font-family='"Liberation Sans", sans-serif' font-size="6.7" fill="#3a3a3a">10<tspan dy="-2.7" font-size="4.8">4</tspan></text>
<text transform="translate(144.8,347.2) rotate(-90) scale(0.86,1)" font-family='"Liberation Sans", sans-serif' font-size="6.7" fill="#3a3a3a">10<tspan dy="-2.7" font-size="4.8">4</tspan></text>
<line x1="219.6" y1="409.6" x2="219.6" y2="411.20000000000005" stroke="#444" stroke-width="0.6" />
<line x1="146.4" y1="342.3" x2="148" y2="342.3" stroke="#444" stroke-width="0.6" />
<path d="M36.1 484.0h.8M75.8 502.1h.8M32.2 482.5h.8M33.8 506.6h.8M92.8 483.7h.8M33.3 502.5h.8M67.9 509.3h.8M64.5 508.6h.8M88.8 503.6h.8M69.2 507.0h.8M49.4 506.1h.8M35.6 508.0h.8M42.0 483.4h.8M83.6 492.2h.8M82.3 509.0h.8M83.9 499.1h.8M89.5 487.6h.8M45.6 488.1h.8M77.4 509.3h.8M36.4 505.5h.8M79.4 494.2h.8M34.1 494.5h.8M67.2 507.3h.8M67.9 492.1h.8M35.7 498.8h.8M71.8 500.5h.8M32.9 486.0h.8M44.3 493.7h.8M41.8 505.6h.8M39.1 480.6h.8M32.5 490.0h.8M57.4 481.5h.8M31.7 501.9h.8M71.1 485.8h.8M48.0 494.4h.8M34.8 501.8h.8M94.4 501.2h.8M49.7 499.8h.8M99.4 487.8h.8M90.3 492.7h.8M39.0 490.9h.8M44.1 507.1h.8M31.5 487.8h.8M43.3 486.5h.8M76.7 493.2h.8M68.4 505.7h.8M62.8 482.3h.8M48.9 485.0h.8M91.3 494.0h.8M64.8 501.5h.8M73.5 492.3h.8M61.7 506.2h.8M64.2 492.9h.8M54.4 506.8h.8M33.3 487.6h.8M61.1 490.3h.8M58.9 495.6h.8M83.5 481.0h.8M98.9 491.6h.8M36.4 482.7h.8M73.3 500.1h.8M31.6 481.0h.8M49.0 490.2h.8M89.4 488.1h.8M54.9 509.7h.8M56.5 490.4h.8M36.2 485.5h.8M73.4 492.4h.8M82.6 488.0h.8M48.9 492.2h.8M84.7 490.6h.8M75.9 503.1h.8M77.5 491.2h.8M68.5 486.5h.8M35.2 500.9h.8M74.5 496.2h.8M69.0 499.9h.8M58.6 505.5h.8M71.1 481.0h.8M66.9 509.1h.8M57.7 504.3h.8M70.0 502.6h.8M94.2 481.2h.8M72.6 482.8h.8M89.2 507.3h.8M79.7 491.5h.8M57.7 481.4h.8M97.2 497.0h.8M49.8 502.3h.8M39.9 496.9h.8M92.1 510.1h.8M80.5 507.4h.8M59.0 494.1h.8M60.1 492.9h.8M51.6 509.9h.8M32.1 486.1h.8M60.7 480.8h.8M52.8 500.5h.8M40.0 510.1h.8M31.4 482.7h.8M76.8 504.2h.8M65.8 488.4h.8M51.0 488.7h.8M88.9 504.2h.8M43.2 505.6h.8M89.7 491.4h.8M66.9 509.5h.8M98.7 489.8h.8M78.3 498.6h.8M76.7 499.5h.8M75.9 500.8h.8M78.1 492.4h.8M90.8 482.1h.8M53.4 498.1h.8M81.2 493.2h.8M78.4 498.9h.8M84.1 507.1h.8M65.6 496.8h.8M56.3 497.2h.8M92.6 491.0h.8M56.9 490.0h.8M93.9 485.2h.8M79.9 484.7h.8M57.7 499.0h.8M41.9 503.6h.8M43.2 480.4h.8M58.0 489.9h.8M52.0 508.3h.8M78.2 487.5h.8M95.3 498.5h.8M44.0 487.3h.8M34.0 493.7h.8M42.8 509.2h.8M45.7 489.7h.8M57.4 481.9h.8M69.1 492.0h.8M71.4 499.6h.8M45.7 480.9h.8M84.5 485.8h.8M66.1 495.0h.8M55.7 506.7h.8M52.6 506.7h.8M48.6 501.5h.8M43.7 483.7h.8M95.0 484.0h.8M82.5 496.3h.8M94.1 509.8h.8M64.9 481.3h.8M35.8 495.2h.8M75.6 502.8h.8M68.5 490.6h.8M62.9 503.2h.8M93.6 505.0h.8M63.5 485.1h.8M33.9 491.6h.8M97.1 488.6h.8M73.0 481.9h.8M76.5 501.6h.8M84.3 504.9h.8M97.2 494.6h.8M74.0 509.0h.8M60.5 494.3h.8M92.7 492.5h.8M57.1 485.6h.8M76.3 491.1h.8M43.2 504.3h.8M66.6 487.6h.8M86.7 486.4h.8M86.5 486.5h.8M66.2 507.9h.8M64.7 501.7h.8M48.6 490.2h.8M47.1 496.0h.8M93.9 487.7h.8M43.7 492.0h.8M70.8 497.1h.8M74.7 490.3h.8M50.1 499.8h.8M78.2 489.9h.8M94.8 490.5h.8M68.5 509.4h.8M83.7 510.3h.8M91.4 502.7h.8M39.9 507.8h.8M51.0 504.1h.8M87.1 498.4h.8M86.8 500.4h.8M97.6 493.1h.8M76.1 504.1h.8M33.9 488.5h.8M63.1 509.3h.8M78.0 502.2h.8M41.2 508.5h.8M51.6 496.2h.8M36.5 490.9h.8M50.1 483.7h.8M75.3 496.5h.8M37.6 495.6h.8M70.4 504.0h.8M44.4 506.9h.8M46.2 486.4h.8M81.1 481.6h.8M37.8 494.4h.8M91.2 500.0h.8M82.0 496.8h.8M92.3 508.6h.8M31.9 495.7h.8M77.7 496.0h.8M41.0 483.0h.8M44.4 492.1h.8M59.1 489.4h.8M54.3 499.6h.8M49.2 501.5h.8M54.1 504.6h.8M98.5 491.2h.8M56.1 483.2h.8M80.8 508.1h.8M62.9 488.4h.8M80.6 503.0h.8M73.5 492.4h.8M85.9 485.0h.8M52.4 502.0h.8M34.7 500.9h.8M96.8 504.3h.8M90.5 508.4h.8M58.8 490.4h.8M39.1 486.0h.8M98.6 507.6h.8M72.8 510.0h.8M95.3 486.5h.8M47.8 508.4h.8M56.3 501.4h.8M95.4 486.0h.8M57.8 506.6h.8M56.1 509.0h.8M87.5 492.3h.8M75.2 509.0h.8M60.2 494.9h.8M36.1 490.3h.8M70.9 505.9h.8M36.7 481.8h.8M89.2 493.3h.8M32.0 505.5h.8M58.4 497.9h.8M88.7 480.3h.8M44.0 491.2h.8M98.8 486.2h.8M93.6 508.7h.8M39.3 508.6h.8M43.8 507.2h.8M56.1 483.7h.8M57.4 480.3h.8M55.6 500.2h.8M74.6 484.4h.8M68.7 507.0h.8M68.6 482.6h.8M47.3 507.2h.8M67.6 508.0h.8M84.5 485.5h.8M57.0 493.2h.8M51.4 496.4h.8M58.9 501.8h.8M93.2 506.1h.8M60.0 490.2h.8M71.4 487.2h.8M44.9 500.5h.8M39.6 503.5h.8M63.1 494.6h.8M53.3 486.1h.8M62.3 486.8h.8M100.1 505.1h.8M92.5 505.0h.8M53.5 491.4h.8M94.8 503.5h.8M96.4 505.6h.8M70.5 490.8h.8M35.7 503.3h.8M57.0 507.1h.8M86.5 503.8h.8M88.4 489.2h.8M40.8 483.9h.8M60.4 500.5h.8M52.5 508.9h.8M47.5 480.4h.8M65.8 501.2h.8M77.8 486.6h.8M33.2 489.9h.8M34.4 487.6h.8M72.9 491.9h.8M65.4 507.9h.8M31.7 490.1h.8M88.3 495.7h.8M31.5 486.1h.8M52.3 481.7h.8M57.8 508.1h.8M52.3 488.9h.8M63.7 486.8h.8M61.3 491.5h.8M37.3 480.8h.8M44.8 507.1h.8M91.6 480.6h.8M78.3 502.4h.8M55.0 509.5h.8M93.9 494.8h.8M94.5 509.5h.8M47.0 497.4h.8M35.0 490.2h.8M55.1 498.2h.8M77.6 497.3h.8M86.6 503.9h.8M34.3 491.2h.8M37.9 482.4h.8M77.9 508.4h.8M40.9 499.1h.8M33.6 498.7h.8M88.6 499.9h.8M38.8 480.2h.8M90.7 487.3h.8M54.8 501.0h.8M91.0 508.3h.8M76.9 510.2h.8M65.2 501.5h.8M79.5 506.4h.8M63.4 507.2h.8M36.0 488.1h.8M65.5 487.0h.8M55.7 488.5h.8M65.4 486.5h.8M98.5 505.2h.8M88.6 491.5h.8M89.0 510.2h.8M38.2 482.6h.8M73.5 500.8h.8M59.2 499.3h.8M89.4 498.0h.8M96.6 496.0h.8M57.9 499.3h.8M41.4 491.6h.8M99.1 505.6h.8M61.1 480.5h.8M83.6 488.4h.8M53.7 484.6h.8M88.9 490.9h.8M62.3 499.8h.8M76.0 483.9h.8M36.7 484.0h.8M89.3 505.0h.8M52.7 484.2h.8M73.2 506.3h.8M91.4 486.7h.8M82.2 508.9h.8M82.1 499.0h.8M36.3 480.5h.8M32.7 490.0h.8M93.0 493.0h.8M44.0 502.2h.8M92.1 503.8h.8M80.3 489.6h.8M38.3 487.7h.8M41.8 492.9h.8M43.0 506.0h.8M56.6 502.2h.8M83.8 509.1h.8M95.8 504.6h.8M77.9 482.9h.8M32.6 492.1h.8M41.6 508.3h.8M50.0 499.4h.8M40.6 497.2h.8M89.8 496.7h.8M46.4 484.8h.8M94.8 507.6h.8M53.7 507.2h.8M43.9 484.1h.8M56.9 503.1h.8M44.1 482.8h.8M52.7 503.1h.8M87.8 499.5h.8M40.8 496.7h.8M43.8 492.0h.8M32.2 492.2h.8M37.7 503.4h.8M94.9 484.4h.8M74.6 509.2h.8M89.4 482.5h.8M39.1 492.5h.8M76.9 500.3h.8M99.3 508.4h.8M64.0 500.2h.8M32.8 485.8h.8M76.8 482.5h.8M57.8 503.2h.8M82.8 486.7h.8M42.5 499.6h.8M49.2 484.3h.8M89.4 508.8h.8M94.3 508.6h.8M84.4 490.1h.8M97.1 499.9h.8M53.6 498.6h.8M55.8 491.0h.8M69.8 484.2h.8M74.2 493.5h.8M61.6 497.4h.8M91.1 489.4h.8M98.9 483.7h.8M95.9 493.3h.8M45.7 481.7h.8M46.8 494.2h.8M45.6 496.7h.8M62.2 484.3h.8M70.3 483.7h.8M34.1 495.3h.8M85.9 496.8h.8M94.0 471.7h.8M95.8 465.5h.8M91.9 497.1h.8M96.9 467.7h.8M88.1 454.8h.8M95.0 459.5h.8M96.6 453.8h.8M91.9 464.4h.8M99.2 465.0h.8M82.8 494.9h.8M85.1 450.2h.8M90.3 509.3h.8M90.4 448.7h.8M98.8 449.4h.8M81.9 473.0h.8M96.6 456.4h.8M92.5 500.6h.8M81.6 476.9h.8M86.3 460.5h.8M81.4 490.9h.8M88.0 497.2h.8M87.9 454.8h.8M87.7 470.0h.8M86.7 451.0h.8M88.3 497.9h.8M88.0 466.4h.8M88.3 458.8h.8M100.1 454.0h.8M97.4 447.2h.8M88.9 490.4h.8M84.0 503.2h.8M85.8 457.1h.8M99.9 494.4h.8M82.5 471.2h.8M99.1 454.7h.8M97.4 458.6h.8M90.0 450.3h.8M95.3 470.2h.8M89.2 478.6h.8M99.5 507.5h.8M97.3 487.1h.8M98.5 470.9h.8M94.8 507.5h.8M94.6 478.0h.8M97.0 501.1h.8M88.0 457.9h.8M81.2 491.4h.8M94.0 457.6h.8M83.3 463.9h.8M83.6 503.6h.8M82.3 475.7h.8M96.4 474.8h.8M99.8 507.0h.8M83.7 454.5h.8M93.7 473.4h.8M84.3 460.6h.8M95.0 492.8h.8M93.2 455.2h.8M91.9 482.2h.8M94.3 499.3h.8M83.1 470.4h.8M90.3 447.7h.8M92.2 475.6h.8M84.3 468.6h.8M99.1 473.4h.8M98.5 509.3h.8M87.0 475.4h.8M93.6 494.1h.8M89.2 470.3h.8M82.6 484.2h.8M82.0 453.0h.8M81.8 483.3h.8M99.2 490.6h.8M82.4 466.7h.8M88.7 449.1h.8M85.4 493.1h.8M87.2 503.6h.8M84.7 497.7h.8M99.6 453.7h.8M91.8 467.6h.8M95.5 465.3h.8M87.0 461.5h.8M100.0 467.1h.8M93.2 498.4h.8M96.1 502.7h.8M85.9 491.0h.8M97.3 466.1h.8M82.1 505.0h.8M82.0 509.8h.8M88.6 490.0h.8M90.2 457.8h.8M83.5 465.7h.8M93.4 474.3h.8M97.0 498.8h.8M91.8 452.9h.8M89.7 483.3h.8M100.1 481.9h.8M83.0 465.4h.8M83.5 450.4h.8M98.5 477.0h.8M90.7 510.0h.8M88.6 471.8h.8M92.0 498.5h.8M98.3 501.9h.8M98.3 488.6h.8M99.7 470.0h.8M88.5 489.3h.8M98.2 476.0h.8M84.0 496.2h.8M88.2 458.6h.8M97.2 449.5h.8M87.3 504.1h.8M91.3 485.4h.8M88.3 498.5h.8M98.6 472.6h.8M83.5 452.6h.8M99.9 505.3h.8M81.3 464.4h.8M81.6 471.3h.8" stroke="#000" stroke-opacity="0.24" stroke-width="0.8" fill="none" filter="url(#bd)"/>
<path d="M34.8 463.6h.8M61.0 465.6h.8M42.6 464.9h.8M63.4 465.9h.8M62.6 463.7h.8M57.3 464.9h.8M53.6 465.5h.8M64.0 466.4h.8M55.7 465.3h.8M47.4 464.9h.8M42.7 465.8h.8M56.4 465.7h.8M60.6 464.7h.8M42.9 461.9h.8M47.7 467.6h.8M60.1 464.8h.8M33.5 463.8h.8M43.9 464.2h.8M60.9 467.1h.8M50.1 464.3h.8M40.8 466.3h.8M36.0 470.4h.8M59.6 463.7h.8M48.8 465.2h.8M40.2 468.1h.8M58.0 463.8h.8M53.7 466.8h.8M55.7 465.8h.8M36.1 464.6h.8M40.3 465.6h.8M55.0 464.5h.8M60.4 463.0h.8M44.2 464.7h.8M55.8 463.4h.8M33.8 464.4h.8M51.4 465.3h.8M46.4 463.2h.8M53.7 466.1h.8M52.5 463.7h.8M52.7 464.5h.8M44.7 464.2h.8M57.9 464.1h.8M53.2 461.7h.8M43.9 462.8h.8M60.0 464.9h.8M54.5 464.7h.8M33.9 467.4h.8M50.9 465.8h.8M63.4 467.4h.8M54.0 463.6h.8M52.5 466.7h.8M44.3 467.0h.8M54.1 464.6h.8M59.2 464.7h.8M57.5 464.3h.8M53.6 466.0h.8M56.3 465.6h.8M55.9 465.2h.8M56.9 464.1h.8M43.9 463.6h.8M43.7 463.5h.8M44.1 465.0h.8M56.0 463.8h.8M57.2 463.7h.8M47.3 461.9h.8M49.0 465.8h.8M50.2 461.5h.8M60.4 464.8h.8M49.8 465.6h.8M55.2 465.8h.8M44.7 464.3h.8M44.7 467.8h.8M45.4 466.0h.8M41.9 463.6h.8M63.7 465.2h.8M52.8 462.9h.8M64.8 465.3h.8M41.0 464.3h.8M56.0 464.9h.8M40.2 467.4h.8M39.2 464.0h.8M65.1 463.4h.8M48.7 464.6h.8M53.8 463.6h.8M53.8 463.1h.8M54.0 465.4h.8M53.9 463.8h.8M60.8 463.8h.8M57.0 462.4h.8M60.7 468.7h.8M52.4 464.6h.8M44.0 464.0h.8M62.6 464.5h.8M54.8 463.5h.8M59.2 462.0h.8M43.5 464.9h.8M40.6 467.0h.8M56.3 465.2h.8M53.7 467.3h.8M50.1 467.1h.8M41.4 464.9h.8M47.2 463.8h.8M49.4 467.1h.8M49.5 465.1h.8M45.1 464.8h.8M36.4 465.6h.8M46.4 464.0h.8M38.3 466.4h.8M47.5 464.1h.8M39.9 463.1h.8M54.6 463.2h.8M46.2 464.3h.8M63.9 463.8h.8M42.8 465.4h.8M40.1 465.5h.8M46.1 468.7h.8M43.6 467.5h.8M56.1 464.9h.8M66.2 464.1h.8M60.4 464.9h.8M42.7 466.5h.8M48.4 465.8h.8M57.7 464.7h.8M55.1 467.1h.8M46.3 464.0h.8M63.0 466.9h.8M43.6 462.6h.8M57.3 463.8h.8M53.5 464.1h.8M55.2 462.5h.8M55.6 466.0h.8M50.9 464.4h.8M46.5 464.0h.8M37.7 463.2h.8M63.9 465.0h.8M55.3 465.6h.8M48.1 464.0h.8M35.3 464.2h.8M36.5 467.9h.8M47.9 464.5h.8M47.5 463.7h.8M47.4 465.8h.8M61.0 464.7h.8M53.1 465.7h.8M50.9 466.9h.8M38.8 464.6h.8M36.4 465.1h.8M50.1 465.4h.8M51.9 463.9h.8M45.2 465.2h.8M43.0 463.8h.8M45.9 465.7h.8M58.5 464.4h.8M39.5 463.0h.8M46.4 461.9h.8M58.3 463.5h.8M35.4 464.3h.8M43.1 461.2h.8M57.4 464.0h.8M70.6 462.2h.8M35.9 464.5h.8M42.7 468.2h.8M72.3 463.8h.8M32.0 464.6h.8M45.8 464.4h.8M44.9 466.5h.8M60.9 462.7h.8M48.4 464.5h.8M70.2 463.7h.8M59.0 466.0h.8M46.9 467.1h.8M74.4 463.5h.8M40.8 466.9h.8M53.5 462.2h.8M66.9 466.1h.8M56.4 465.5h.8M31.4 466.5h.8M40.5 465.4h.8M51.7 464.6h.8M50.9 461.2h.8M61.6 461.2h.8M32.1 463.2h.8M59.4 465.1h.8M42.4 465.9h.8M50.5 464.2h.8M51.8 462.6h.8M52.3 467.4h.8M58.5 465.0h.8M56.9 465.9h.8M40.6 464.8h.8M46.4 465.9h.8M63.2 465.8h.8M44.0 464.7h.8M52.1 464.4h.8M52.5 463.0h.8M36.6 464.7h.8M60.7 465.6h.8M43.2 463.5h.8M60.2 463.7h.8M48.3 463.3h.8M50.4 466.9h.8M54.8 462.8h.8M57.3 468.1h.8M56.1 464.6h.8M49.3 463.7h.8M47.0 463.8h.8M45.9 464.9h.8M39.4 466.2h.8M55.3 462.3h.8M50.7 464.1h.8M45.3 465.3h.8M51.8 465.6h.8M41.6 463.5h.8M54.1 465.8h.8M48.1 465.0h.8M50.3 462.9h.8M51.1 463.7h.8M69.6 464.9h.8M59.4 466.7h.8M59.9 467.5h.8M46.8 467.1h.8M57.3 464.6h.8M43.5 466.3h.8M45.5 464.1h.8M48.9 467.7h.8M54.2 467.3h.8M57.0 466.9h.8M42.0 463.3h.8M56.3 465.8h.8M56.1 462.9h.8M42.3 465.0h.8M42.2 468.2h.8M48.7 465.0h.8M49.1 468.4h.8M48.8 464.6h.8M40.8 465.2h.8M61.1 464.8h.8M42.8 466.3h.8M42.6 466.2h.8M53.2 468.6h.8M55.2 466.6h.8M58.8 462.0h.8M45.5 463.2h.8M58.9 464.0h.8M54.1 466.6h.8M39.9 466.5h.8M43.4 465.9h.8M55.4 465.0h.8M44.6 463.2h.8M44.8 461.7h.8M45.1 468.7h.8M45.0 464.2h.8M33.5 465.9h.8M40.5 464.9h.8M57.9 463.8h.8M45.1 463.8h.8M53.7 466.5h.8M53.1 465.0h.8M58.2 466.5h.8M48.3 464.4h.8M53.6 463.4h.8M47.5 466.2h.8M72.4 463.4h.8M52.5 466.7h.8M50.5 464.3h.8M43.8 462.3h.8M71.9 466.2h.8M40.2 464.9h.8M52.8 463.5h.8M50.1 466.3h.8M42.4 466.7h.8M51.6 461.0h.8M48.8 464.6h.8M69.4 465.1h.8M69.1 464.8h.8M54.0 466.8h.8M51.8 465.3h.8M64.3 465.1h.8M59.6 466.9h.8M42.5 462.8h.8M62.1 464.1h.8M49.5 466.6h.8M44.1 464.6h.8M44.5 464.3h.8M56.9 464.7h.8M67.5 463.0h.8M52.2 464.2h.8M53.3 464.8h.8M45.9 464.8h.8M62.6 466.7h.8M55.9 463.6h.8M47.8 466.9h.8M58.7 461.7h.8M57.7 466.1h.8M50.6 465.8h.8M42.1 467.9h.8M53.4 463.8h.8M56.4 465.4h.8M51.2 467.3h.8M41.2 467.6h.8M50.9 466.2h.8M41.5 463.3h.8M50.7 462.9h.8M48.9 465.5h.8M58.6 465.8h.8M49.5 464.3h.8M30.7 466.3h.8M48.3 463.9h.8M50.9 464.4h.8M48.4 466.1h.8M61.0 465.1h.8M49.1 466.5h.8M52.7 466.3h.8M51.4 466.5h.8M50.4 464.7h.8M58.2 464.1h.8M33.2 464.6h.8M57.5 464.5h.8M59.6 463.6h.8M55.1 462.7h.8M44.5 462.5h.8M39.7 467.5h.8M50.4 463.1h.8M36.1 465.3h.8M36.7 464.7h.8M46.3 463.1h.8M46.4 463.6h.8M45.9 466.9h.8M56.3 465.9h.8M49.3 463.1h.8M32.1 463.8h.8M57.8 467.1h.8M56.8 463.6h.8M31.0 464.0h.8M56.5 467.0h.8M32.8 462.7h.8M47.6 467.0h.8M53.8 467.6h.8M52.1 464.2h.8M40.8 466.9h.8M46.5 464.2h.8M43.2 468.0h.8M30.6 465.6h.8M38.7 464.7h.8M50.9 465.5h.8M54.3 463.1h.8M54.1 466.2h.8M56.6 464.2h.8M48.4 465.8h.8M47.7 465.6h.8M50.6 464.9h.8M35.4 465.0h.8M31.1 464.2h.8M41.4 465.8h.8M69.9 464.6h.8M55.9 466.0h.8M45.2 467.0h.8M39.1 463.9h.8M40.3 463.7h.8M46.8 463.9h.8M55.8 463.6h.8M48.0 464.3h.8M64.5 464.6h.8M48.7 463.4h.8M47.0 464.2h.8M45.0 466.3h.8M59.3 464.3h.8M44.1 464.0h.8M52.9 462.5h.8M54.7 468.0h.8M49.1 464.9h.8M53.4 466.8h.8M45.8 465.5h.8M39.8 464.9h.8M59.7 465.9h.8M43.4 465.2h.8M37.4 464.1h.8M59.1 465.7h.8M48.6 463.9h.8M54.2 465.0h.8M44.6 466.0h.8M55.1 464.1h.8M54.5 465.6h.8M43.1 462.9h.8M52.4 463.9h.8M44.2 464.3h.8M39.5 462.4h.8M33.5 464.4h.8M41.4 462.0h.8M45.2 466.3h.8M42.0 467.0h.8M60.7 467.3h.8M49.3 464.8h.8M53.8 465.0h.8M39.6 464.5h.8M48.5 465.5h.8M55.5 464.9h.8M39.6 465.0h.8M52.3 464.6h.8M51.9 463.3h.8M50.1 466.5h.8M32.8 463.2h.8M53.2 465.9h.8M41.5 462.0h.8M61.6 464.7h.8M55.4 463.4h.8M66.8 462.9h.8M59.8 464.1h.8M59.6 465.7h.8M59.0 464.7h.8M44.7 463.7h.8M59.3 464.9h.8M40.4 465.4h.8M53.0 464.7h.8M55.6 462.7h.8M42.6 464.2h.8M64.1 466.9h.8M50.9 466.2h.8M60.7 463.9h.8M53.2 463.3h.8M43.2 465.1h.8M38.7 464.9h.8M37.5 464.4h.8M47.9 466.1h.8M54.2 465.8h.8M53.1 465.7h.8M39.4 463.7h.8M41.3 465.6h.8M50.9 465.4h.8M55.1 465.0h.8M59.3 463.7h.8M50.1 466.5h.8M40.4 469.1h.8M50.4 464.1h.8M49.5 464.9h.8M58.0 465.4h.8M47.6 466.9h.8M56.1 460.7h.8M48.4 465.1h.8M53.2 464.7h.8M45.1 465.4h.8M56.4 464.5h.8M48.4 466.3h.8M50.3 468.3h.8M55.4 465.9h.8M59.5 467.7h.8M60.0 466.9h.8M46.6 464.0h.8M47.9 463.2h.8M44.7 463.4h.8M57.4 462.0h.8M60.7 463.1h.8M45.4 466.9h.8M58.8 462.9h.8M57.0 460.9h.8M45.1 465.2h.8M44.3 462.2h.8M46.9 465.6h.8M50.9 462.9h.8M36.7 466.9h.8M53.1 460.8h.8M60.6 464.9h.8M44.5 464.3h.8M53.7 465.9h.8M31.8 465.3h.8M41.6 465.5h.8M44.2 464.0h.8M47.6 465.3h.8M63.3 462.0h.8M48.5 466.6h.8M50.2 464.9h.8M50.4 465.6h.8M49.0 464.8h.8M52.8 466.2h.8M64.3 462.8h.8M53.1 463.7h.8M54.2 464.8h.8M53.7 466.7h.8M50.8 464.5h.8M62.9 466.0h.8M50.7 464.2h.8M52.7 461.5h.8M39.5 463.0h.8M39.4 465.1h.8M46.6 464.4h.8M58.8 465.2h.8M60.1 464.4h.8M43.9 467.6h.8M54.6 464.4h.8M39.1 462.6h.8M40.2 464.2h.8M61.4 462.7h.8M46.9 466.2h.8M53.4 465.5h.8M55.7 462.9h.8M53.3 464.9h.8M52.0 465.5h.8M50.0 463.8h.8M57.3 464.6h.8M52.5 463.0h.8M50.5 464.6h.8M43.2 465.4h.8M48.5 467.2h.8M53.2 464.4h.8M43.3 462.9h.8M50.9 462.7h.8M42.2 465.5h.8M58.8 463.8h.8M63.6 466.2h.8M67.0 464.7h.8M52.7 468.0h.8M56.0 464.0h.8M46.0 465.7h.8M54.8 466.1h.8M57.7 464.7h.8M57.7 465.2h.8M47.6 463.2h.8M48.6 466.9h.8M52.5 465.4h.8M61.7 465.0h.8M46.9 466.5h.8M51.3 461.6h.8M42.1 463.9h.8M49.5 466.0h.8M56.7 463.3h.8M58.4 463.9h.8M32.7 465.3h.8M54.7 465.1h.8M58.9 465.9h.8M56.4 463.6h.8M46.5 463.1h.8M49.7 465.2h.8M64.0 466.2h.8M49.9 463.6h.8M49.1 466.2h.8M43.4 463.7h.8M42.6 464.9h.8M45.9 462.1h.8M37.3 463.1h.8M62.5 465.2h.8M53.9 465.5h.8M60.3 465.7h.8M49.7 461.0h.8M52.6 467.6h.8M53.4 464.9h.8M38.6 462.5h.8M44.4 465.2h.8M62.3 465.0h.8M57.6 464.8h.8M47.4 464.4h.8M53.3 467.6h.8M35.7 465.1h.8M48.8 464.7h.8M51.5 465.6h.8M59.7 461.7h.8M60.9 466.5h.8M59.2 462.8h.8M32.5 465.8h.8M54.6 467.0h.8M56.4 464.4h.8M47.1 464.4h.8M48.7 465.5h.8M45.4 468.7h.8M52.9 466.2h.8M49.3 465.7h.8M48.5 464.3h.8M46.0 462.1h.8M46.5 467.5h.8M53.0 464.6h.8M56.9 465.1h.8M65.0 466.7h.8M44.5 462.8h.8M53.6 463.3h.8M47.0 465.7h.8M43.5 468.0h.8M55.8 465.5h.8M39.2 461.0h.8M45.4 465.7h.8M63.0 465.9h.8M46.0 464.5h.8M50.2 462.3h.8M51.8 462.4h.8M49.0 465.1h.8M58.5 464.7h.8M47.1 465.6h.8M48.9 463.8h.8M41.2 464.3h.8M48.7 462.7h.8M47.2 464.6h.8M58.1 466.5h.8M48.5 462.6h.8M37.3 470.0h.8M56.7 465.5h.8M53.8 466.3h.8M60.9 464.1h.8M41.7 465.3h.8M54.7 462.8h.8M38.1 464.3h.8M37.0 464.8h.8M47.2 459.3h.8M64.8 463.9h.8M40.1 467.3h.8M70.5 465.0h.8M45.7 465.2h.8M43.3 466.8h.8M66.0 462.4h.8M42.4 463.4h.8M62.8 466.9h.8M41.4 463.5h.8M42.9 464.4h.8M48.1 465.0h.8M54.0 464.0h.8M43.4 467.7h.8M33.2 465.2h.8M73.5 467.4h.8M48.3 466.6h.8M37.0 465.2h.8M44.9 463.8h.8M56.7 465.6h.8M49.2 466.1h.8M62.0 463.6h.8M35.8 464.3h.8M54.6 462.7h.8M50.5 463.3h.8M51.4 465.2h.8M55.0 464.3h.8M60.9 468.3h.8M45.1 464.1h.8M52.2 464.8h.8M54.3 464.5h.8M55.3 465.6h.8M31.1 462.9h.8M46.1 465.3h.8M48.6 466.7h.8M51.7 465.7h.8M64.8 465.4h.8M59.0 464.4h.8M43.6 464.8h.8M58.0 466.9h.8M61.0 464.6h.8M42.6 464.8h.8M45.8 465.0h.8M57.9 466.6h.8M58.0 468.8h.8M40.5 467.8h.8M40.1 465.7h.8M44.8 465.5h.8M54.0 465.9h.8M30.7 466.1h.8M59.0 466.1h.8M47.0 465.1h.8M44.5 466.1h.8M46.9 465.2h.8M54.0 464.7h.8M51.7 467.6h.8M41.4 465.3h.8M56.5 465.1h.8M44.4 466.1h.8M46.6 463.5h.8M66.8 464.4h.8M39.7 465.0h.8M37.8 465.6h.8M51.3 463.4h.8M52.1 466.3h.8M54.2 464.5h.8M62.4 465.7h.8M45.2 465.7h.8M65.4 466.0h.8M59.4 466.8h.8M49.1 465.3h.8M55.1 465.3h.8M51.3 466.6h.8M44.1 461.8h.8M49.6 462.9h.8M46.2 466.8h.8M39.7 465.0h.8M59.9 465.3h.8M63.2 464.6h.8M59.2 465.2h.8M57.1 466.2h.8M46.0 464.2h.8M55.9 465.9h.8M56.9 464.3h.8M39.9 463.8h.8M62.4 466.3h.8M44.8 466.5h.8M54.6 467.7h.8M43.6 463.5h.8M36.9 465.8h.8M39.2 465.9h.8M46.2 466.1h.8M58.8 463.7h.8M40.1 465.0h.8M64.7 462.8h.8M63.1 466.5h.8M47.1 467.3h.8M63.0 466.5h.8M46.9 465.2h.8M52.5 465.1h.8M48.3 463.6h.8M52.3 464.3h.8M47.7 465.5h.8M53.0 466.0h.8M54.5 464.8h.8M59.1 465.1h.8M48.4 466.8h.8M38.5 465.1h.8M44.5 464.0h.8M39.8 464.9h.8M48.0 462.1h.8M41.6 465.0h.8M35.4 464.3h.8M46.1 465.5h.8M54.5 467.8h.8M44.4 465.4h.8M50.5 462.2h.8M39.4 464.2h.8M52.4 464.6h.8M46.8 465.1h.8M50.5 464.4h.8M57.7 464.1h.8M64.7 465.9h.8M51.2 467.0h.8M53.3 463.7h.8M32.1 465.4h.8M64.4 463.4h.8M41.5 465.4h.8M49.7 465.6h.8M47.5 464.8h.8M47.3 463.5h.8M32.3 463.9h.8M55.6 465.6h.8M53.3 466.0h.8M49.0 466.8h.8M54.3 463.5h.8M62.3 464.5h.8M39.8 466.0h.8M45.9 464.6h.8M44.6 465.2h.8M52.2 467.2h.8M33.8 465.4h.8M59.5 467.8h.8M52.0 466.2h.8M54.9 462.8h.8M47.7 467.0h.8M51.7 464.1h.8M57.1 467.7h.8M48.6 467.3h.8M32.4 465.3h.8M62.7 464.4h.8M40.9 467.2h.8M45.6 465.2h.8M47.0 466.0h.8M52.3 463.9h.8M44.2 464.1h.8M40.5 463.6h.8M42.6 463.2h.8M53.8 466.6h.8M56.4 466.3h.8M47.5 465.8h.8M46.6 463.2h.8M49.6 466.7h.8M58.5 467.8h.8M51.6 464.6h.8M60.6 464.8h.8M47.4 463.6h.8M51.5 464.3h.8M48.6 467.3h.8M58.2 463.6h.8M49.5 466.4h.8M61.3 463.0h.8M47.5 466.3h.8M39.7 465.1h.8M47.4 468.1h.8M41.2 466.2h.8M48.3 463.5h.8M57.3 466.9h.8M51.5 466.9h.8M52.3 466.7h.8M52.8 467.4h.8M53.1 461.8h.8M47.6 463.1h.8M48.5 465.2h.8M37.8 467.2h.8M39.9 462.6h.8M53.3 465.3h.8M46.7 465.8h.8M48.7 463.7h.8M44.5 464.7h.8M34.5 466.2h.8M44.5 463.6h.8M62.1 466.0h.8M50.6 460.6h.8M61.1 464.2h.8M57.5 465.7h.8M55.8 467.3h.8M51.3 466.9h.8M44.7 468.6h.8M50.8 462.4h.8M59.1 463.9h.8M61.6 465.8h.8M50.9 464.9h.8M60.3 465.3h.8M42.2 463.4h.8M49.2 466.7h.8M60.7 464.6h.8M40.1 464.6h.8M56.5 462.1h.8M69.5 466.7h.8M52.7 464.0h.8M63.6 464.7h.8M57.6 463.9h.8M50.1 464.4h.8M39.7 466.5h.8M48.6 466.0h.8M46.1 466.0h.8M34.3 466.1h.8M62.0 463.8h.8M49.7 462.2h.8M47.5 464.3h.8M45.7 466.7h.8M44.0 465.7h.8M40.1 464.0h.8M60.7 466.5h.8M50.7 462.6h.8M58.7 462.3h.8M51.3 467.6h.8M47.1 466.3h.8M44.2 464.6h.8M53.1 465.1h.8M46.3 463.7h.8M46.0 466.0h.8M50.5 464.2h.8M54.7 460.0h.8M65.5 462.5h.8M53.1 466.4h.8M64.2 466.3h.8M56.9 460.7h.8M45.3 462.6h.8M53.7 462.4h.8M45.1 462.2h.8M54.5 465.1h.8M55.2 466.5h.8M65.3 464.1h.8M47.5 464.6h.8M48.0 467.2h.8M41.3 465.2h.8M41.3 462.8h.8M42.9 467.7h.8M48.2 462.0h.8M49.5 464.1h.8M55.6 465.7h.8M43.1 468.4h.8M56.8 465.4h.8M51.4 464.7h.8M53.7 466.1h.8M54.5 462.0h.8M30.6 464.9h.8M44.3 465.6h.8M50.3 464.9h.8M45.6 465.9h.8M52.2 463.5h.8M42.7 465.7h.8M52.9 466.2h.8M51.8 463.4h.8M57.6 465.5h.8M58.9 468.2h.8M48.5 463.8h.8M52.8 463.5h.8M44.6 463.3h.8M60.1 464.0h.8M32.2 466.5h.8M49.8 464.5h.8M53.1 464.4h.8M68.3 463.9h.8M53.2 465.3h.8M54.6 464.5h.8M72.9 461.7h.8M39.4 465.8h.8M34.8 465.1h.8M54.2 465.0h.8M58.5 466.7h.8M70.1 464.6h.8M45.2 466.1h.8M54.9 465.7h.8M69.4 465.4h.8M56.7 464.7h.8M47.1 462.5h.8M51.7 466.8h.8M50.4 466.3h.8M43.1 463.6h.8M43.0 464.7h.8M34.4 467.1h.8M47.4 466.0h.8M46.0 463.7h.8M39.9 463.3h.8M59.3 464.6h.8M44.9 465.0h.8M47.7 465.9h.8M47.4 466.2h.8M42.5 463.6h.8M45.8 465.7h.8M50.6 464.0h.8M42.0 463.6h.8M56.0 463.7h.8M68.3 468.1h.8M34.3 465.9h.8M50.8 464.8h.8M48.2 462.3h.8M43.4 464.8h.8M54.7 464.5h.8M50.6 464.1h.8M56.7 464.1h.8M48.4 467.3h.8M51.8 467.4h.8M46.5 464.5h.8M44.8 464.3h.8M51.4 466.6h.8M39.0 462.0h.8M50.4 461.5h.8M66.0 464.5h.8M46.5 465.2h.8M46.1 464.8h.8M49.6 466.1h.8M61.6 466.9h.8M40.3 464.0h.8M38.5 467.3h.8M40.8 466.0h.8M50.6 463.7h.8M54.3 464.8h.8M30.9 463.8h.8M38.8 467.3h.8M45.6 463.7h.8M42.6 465.4h.8M42.7 464.6h.8M46.7 463.3h.8M49.6 467.0h.8M53.4 467.6h.8M45.7 463.5h.8M61.7 463.9h.8M33.2 462.4h.8M54.0 462.3h.8M51.5 463.8h.8M51.5 464.0h.8M53.5 465.4h.8M43.5 462.6h.8M59.6 465.8h.8M43.6 464.0h.8M53.3 464.3h.8M38.6 463.6h.8M42.7 464.6h.8M43.5 463.6h.8M50.3 466.3h.8M52.2 465.6h.8M48.5 466.2h.8M46.2 464.8h.8M38.8 465.9h.8M43.0 463.2h.8M44.5 465.6h.8M43.8 466.0h.8M65.6 467.0h.8M55.3 465.6h.8M45.0 465.9h.8M51.8 465.0h.8M58.2 464.4h.8M50.0 469.5h.8M44.4 463.9h.8M52.2 462.3h.8M59.4 467.3h.8M45.0 465.0h.8M45.2 467.9h.8M66.8 463.4h.8M33.3 465.9h.8M47.5 464.0h.8M47.2 463.7h.8M57.0 464.7h.8M69.4 463.0h.8M55.3 463.6h.8M40.9 464.4h.8M41.1 464.2h.8M49.7 464.6h.8M39.9 466.5h.8M43.3 465.4h.8M39.9 467.2h.8M39.9 462.1h.8M51.0 467.2h.8M58.9 460.1h.8M52.9 464.0h.8M56.8 464.7h.8M38.5 464.7h.8M57.1 465.2h.8M46.0 464.1h.8M42.2 464.2h.8M68.5 465.4h.8M51.0 463.4h.8M59.6 464.7h.8M46.7 464.8h.8M57.7 463.7h.8M69.0 463.6h.8M53.9 466.8h.8M34.1 464.8h.8M41.5 463.8h.8M61.2 465.0h.8M41.1 466.5h.8M49.4 464.9h.8M50.7 464.8h.8M51.5 464.3h.8M54.9 465.0h.8M60.1 461.6h.8M50.1 465.8h.8M60.0 463.8h.8M48.3 466.1h.8M50.7 463.2h.8M39.7 464.7h.8M56.6 464.0h.8M39.7 464.0h.8M56.1 466.7h.8M34.3 461.7h.8M54.0 464.3h.8M53.3 465.6h.8M41.6 468.1h.8M54.5 466.6h.8M42.9 461.0h.8M56.8 464.5h.8M48.0 464.1h.8M40.7 467.0h.8M46.5 462.9h.8M57.9 464.5h.8M50.3 466.8h.8M56.3 464.0h.8M42.2 461.9h.8M68.0 467.7h.8M43.3 463.5h.8M47.9 465.1h.8M39.4 463.0h.8M44.7 463.4h.8M44.0 463.7h.8M50.3 463.3h.8M55.4 465.8h.8M39.9 466.7h.8M50.9 463.5h.8M52.2 465.8h.8M47.0 462.7h.8M40.8 465.3h.8M57.5 467.3h.8M54.5 463.6h.8M49.8 467.4h.8M44.0 463.1h.8M36.2 465.7h.8M42.1 467.0h.8M36.3 466.1h.8M44.2 464.2h.8M52.3 464.7h.8M42.1 464.2h.8M47.7 462.2h.8M46.6 466.3h.8M48.0 463.4h.8M34.6 462.5h.8M41.0 465.0h.8M45.8 464.4h.8M39.3 464.9h.8M57.7 465.7h.8M49.1 462.8h.8M34.0 465.4h.8M54.9 465.2h.8M48.6 465.8h.8M56.2 465.0h.8M46.5 466.5h.8M55.0 463.1h.8M44.6 467.4h.8M42.2 462.1h.8M60.4 461.2h.8M48.1 467.6h.8M48.7 464.2h.8M46.0 465.8h.8M44.9 465.6h.8M67.8 463.8h.8M49.2 465.6h.8M62.5 463.6h.8M55.0 465.6h.8M51.9 465.0h.8M37.9 465.0h.8M46.0 463.8h.8M57.5 466.3h.8M45.6 463.4h.8M67.1 466.8h.8M59.0 465.9h.8M50.8 462.7h.8M47.0 466.0h.8M38.0 464.1h.8M42.9 463.6h.8M42.7 465.9h.8M48.7 466.0h.8M40.6 466.2h.8M53.9 462.3h.8M58.9 463.5h.8M46.1 465.6h.8M52.1 464.4h.8M39.1 464.5h.8M45.1 464.8h.8M44.5 467.1h.8M41.3 467.5h.8M45.5 465.7h.8M41.0 464.4h.8M37.7 466.1h.8M32.2 464.5h.8M55.5 465.1h.8M50.1 464.5h.8M50.8 464.0h.8M63.3 463.1h.8M59.1 464.2h.8M53.6 462.7h.8M44.4 463.6h.8M35.4 463.0h.8M43.5 465.0h.8M51.2 463.8h.8M67.5 462.1h.8M50.3 466.0h.8M33.3 466.6h.8M48.9 464.0h.8M31.2 464.2h.8M36.6 463.3h.8M67.5 463.7h.8M44.6 465.1h.8M52.9 463.2h.8M52.7 466.6h.8M73.4 464.3h.8M49.3 461.9h.8M51.4 463.3h.8M58.5 463.7h.8M51.3 464.0h.8M69.8 463.3h.8M49.0 466.0h.8M50.5 464.8h.8M45.4 467.6h.8M44.2 462.0h.8M53.6 464.7h.8M40.6 465.2h.8M35.7 465.6h.8M58.1 466.7h.8M39.2 466.5h.8M39.7 467.5h.8M50.1 466.3h.8M50.7 464.9h.8M49.8 465.5h.8M51.2 464.1h.8M56.7 465.2h.8M40.9 463.7h.8M50.9 461.8h.8M41.0 468.6h.8M55.2 463.3h.8M41.9 464.1h.8M64.4 466.7h.8M52.3 463.6h.8M58.3 464.4h.8M44.9 459.9h.8M43.1 462.6h.8M51.4 463.4h.8M48.0 463.8h.8M51.9 463.8h.8M45.0 465.3h.8M50.0 465.2h.8M40.4 464.0h.8M43.7 465.9h.8M41.9 464.0h.8M50.9 463.4h.8M51.4 467.5h.8M50.6 463.2h.8M46.4 465.7h.8M43.7 462.9h.8M42.6 465.6h.8M40.5 465.2h.8M63.8 465.8h.8M40.0 467.0h.8M58.2 461.8h.8M42.9 463.0h.8M54.4 466.8h.8M48.9 466.5h.8M53.1 462.7h.8M45.2 463.7h.8M53.9 462.6h.8M37.7 464.1h.8M40.4 464.9h.8M54.8 463.6h.8M48.6 466.1h.8M49.4 464.1h.8M46.0 465.4h.8M33.5 465.0h.8M68.8 463.7h.8M50.8 466.1h.8M67.9 465.4h.8M41.8 465.0h.8M50.0 464.9h.8M40.4 466.6h.8M47.0 465.0h.8M52.8 467.6h.8M53.9 463.2h.8M49.1 468.8h.8M50.9 464.7h.8M55.5 464.0h.8M47.6 463.0h.8M39.7 465.9h.8M47.8 463.8h.8M49.7 465.8h.8M56.8 465.1h.8M55.0 463.0h.8M73.7 463.0h.8M59.3 466.8h.8M41.1 462.8h.8M48.4 465.3h.8M54.1 464.5h.8M49.9 463.9h.8M39.2 465.2h.8M57.6 463.8h.8M60.2 465.7h.8M53.1 466.9h.8M68.7 465.5h.8M33.4 466.2h.8M53.7 463.3h.8M66.9 463.5h.8M45.2 462.1h.8M38.1 462.5h.8M34.9 463.0h.8M40.4 465.9h.8M60.8 464.5h.8M51.3 463.4h.8M44.5 465.6h.8M36.7 463.1h.8M52.2 466.2h.8M37.5 465.7h.8M59.7 467.0h.8M51.2 466.8h.8M48.3 465.3h.8M46.5 467.2h.8M60.0 465.8h.8M40.0 465.5h.8M46.9 464.7h.8M33.0 465.3h.8M47.4 465.0h.8M61.4 467.5h.8M53.5 464.4h.8M56.5 466.7h.8M59.3 462.2h.8M47.7 462.4h.8M37.9 465.2h.8M51.9 466.2h.8M34.0 466.4h.8M56.9 466.6h.8M47.9 467.4h.8M58.1 465.6h.8M54.8 464.4h.8M49.1 466.3h.8M55.0 463.8h.8M49.7 466.0h.8M37.9 462.8h.8M58.4 468.4h.8M34.3 464.8h.8M49.0 464.1h.8M52.5 466.9h.8M56.6 461.3h.8M58.2 467.3h.8M55.9 465.6h.8M51.9 465.4h.8M47.9 464.5h.8M41.1 464.3h.8M51.9 463.7h.8M47.2 464.4h.8M42.5 465.6h.8M49.8 463.5h.8M41.2 468.3h.8M53.3 461.7h.8M34.8 464.3h.8M37.8 465.8h.8M48.8 466.8h.8M53.6 463.1h.8M64.4 463.4h.8M60.1 466.6h.8M44.9 462.8h.8M52.3 465.1h.8M49.4 465.3h.8M53.8 466.2h.8M51.9 464.7h.8M59.8 466.3h.8M57.2 462.9h.8M40.8 465.6h.8M45.9 463.8h.8M49.6 464.4h.8M55.2 467.6h.8M49.6 466.6h.8M50.6 463.6h.8M53.9 467.3h.8M52.8 462.9h.8M56.0 464.1h.8M47.2 463.1h.8M52.0 466.1h.8M54.9 466.2h.8M63.2 466.4h.8M59.3 467.3h.8M63.0 463.6h.8M49.2 464.5h.8M50.4 465.0h.8M55.2 465.6h.8M46.9 462.0h.8M42.9 461.5h.8M43.9 465.1h.8M45.3 465.3h.8M49.8 467.9h.8M33.8 465.0h.8M33.0 464.4h.8M45.6 464.8h.8M61.0 464.6h.8M51.0 462.6h.8M47.9 462.4h.8M58.9 463.3h.8M58.2 462.1h.8M47.3 465.4h.8M67.7 467.2h.8M58.1 466.8h.8M43.5 463.1h.8M54.4 465.1h.8M59.7 463.1h.8M46.3 464.8h.8M47.8 464.8h.8M37.1 464.0h.8M45.6 464.3h.8M57.6 464.1h.8M50.7 465.7h.8M62.8 464.4h.8M46.7 466.6h.8M71.8 465.7h.8M48.1 463.5h.8M36.3 463.6h.8M59.9 470.0h.8M65.5 464.8h.8M38.8 463.3h.8M57.8 464.7h.8M48.9 466.6h.8M33.3 464.9h.8M46.1 466.3h.8M42.1 464.9h.8M48.7 463.5h.8M62.5 467.1h.8M46.5 466.9h.8M50.4 462.5h.8M60.3 464.4h.8M56.3 465.7h.8M60.9 461.5h.8M38.2 464.1h.8M43.5 464.2h.8M66.6 462.0h.8M42.5 467.7h.8M56.4 464.8h.8M47.6 465.7h.8M50.8 464.1h.8M51.1 465.1h.8M52.7 462.3h.8M48.9 465.6h.8M42.7 466.0h.8M36.8 465.1h.8M65.8 468.0h.8M38.4 465.7h.8M51.8 463.8h.8M51.9 468.2h.8M60.7 462.0h.8M67.3 463.9h.8M73.6 464.4h.8M53.1 464.9h.8M52.6 465.9h.8M61.2 462.6h.8M55.9 464.9h.8M65.9 466.0h.8M43.1 465.2h.8M49.3 465.6h.8M61.4 464.4h.8M52.2 464.5h.8M59.7 464.0h.8M50.1 463.3h.8M56.7 463.6h.8M45.0 464.0h.8M47.6 465.8h.8M57.8 463.8h.8M60.9 464.3h.8M43.7 467.6h.8M44.5 464.0h.8M48.9 466.3h.8M56.5 467.9h.8M49.2 466.3h.8M44.1 468.3h.8M47.5 466.1h.8M43.4 465.2h.8M42.8 464.9h.8M41.5 464.7h.8M54.3 468.1h.8M36.6 465.0h.8M37.9 466.7h.8M64.2 464.0h.8M45.4 464.7h.8M59.3 462.5h.8M46.3 465.8h.8M38.6 467.9h.8M64.7 463.0h.8M59.6 462.7h.8M51.0 464.4h.8M43.0 464.3h.8M39.8 465.1h.8M58.4 463.1h.8M53.8 463.9h.8M67.9 463.9h.8M49.5 464.4h.8M54.6 466.3h.8M75.7 466.0h.8M43.3 465.2h.8M55.2 465.1h.8M59.7 463.8h.8M39.9 463.6h.8M44.4 464.2h.8M48.8 463.4h.8M53.5 467.5h.8M55.2 467.3h.8M39.5 463.3h.8M47.2 463.9h.8M54.5 465.5h.8M57.4 463.7h.8M43.6 464.5h.8M40.7 465.8h.8M50.3 463.9h.8M39.6 465.2h.8M47.7 463.8h.8M37.0 465.4h.8M56.2 462.9h.8M35.1 466.6h.8M71.3 464.1h.8M37.9 465.2h.8M57.2 466.2h.8M66.6 467.0h.8M52.2 461.9h.8M60.1 465.7h.8M56.5 463.1h.8M57.3 464.9h.8M39.8 463.0h.8M40.3 467.7h.8M60.8 464.7h.8M44.6 462.9h.8M58.7 465.5h.8M51.2 465.4h.8M48.7 466.0h.8M31.9 467.9h.8M54.3 466.1h.8M40.7 462.6h.8M44.9 465.7h.8M48.9 462.1h.8M47.7 464.7h.8M37.1 465.2h.8M51.1 464.2h.8M52.3 464.9h.8M31.0 464.4h.8M54.8 465.9h.8M47.0 462.5h.8M38.2 465.7h.8M63.9 464.2h.8M46.0 463.0h.8M54.1 463.6h.8M47.6 464.6h.8M41.6 465.0h.8M49.2 461.9h.8M49.9 465.5h.8M54.4 464.3h.8M43.4 464.8h.8M42.2 465.3h.8M41.6 465.1h.8M56.9 463.4h.8M47.4 464.8h.8M36.0 464.0h.8M46.5 463.6h.8M47.5 463.6h.8M53.4 466.3h.8M44.3 463.5h.8M36.9 463.7h.8M48.9 466.1h.8M54.6 469.2h.8M51.4 464.7h.8M53.4 467.7h.8M45.2 467.2h.8M45.3 465.8h.8M43.1 467.4h.8M61.9 465.3h.8M52.2 462.8h.8M45.4 463.4h.8M48.0 465.5h.8M53.0 462.4h.8M39.4 465.4h.8M48.6 465.5h.8M54.3 464.7h.8M52.3 465.1h.8M49.0 464.7h.8M43.3 467.1h.8M48.6 463.4h.8M41.4 464.6h.8M59.6 466.9h.8M45.3 468.2h.8M59.1 466.1h.8M36.3 465.2h.8M45.8 466.7h.8M62.1 466.1h.8M52.5 463.9h.8M46.3 467.9h.8M51.7 463.0h.8M45.8 460.6h.8M61.6 466.7h.8M44.0 462.8h.8M47.3 462.6h.8M42.8 465.7h.8M49.4 461.2h.8M57.0 462.9h.8M50.3 464.2h.8M51.0 463.8h.8M67.4 463.9h.8M50.0 462.0h.8M53.0 465.9h.8M55.3 465.2h.8M59.8 464.0h.8M42.3 464.2h.8M47.2 462.8h.8M62.5 467.1h.8M50.7 463.6h.8M41.1 466.1h.8M40.8 465.4h.8M38.5 464.0h.8M50.9 463.0h.8M59.4 465.1h.8M49.2 464.9h.8M42.9 463.8h.8M46.4 465.0h.8M39.8 466.0h.8M46.4 466.4h.8M53.6 462.7h.8M55.4 465.6h.8M52.8 465.0h.8M40.8 463.1h.8M53.7 465.3h.8M59.0 463.9h.8M60.0 462.6h.8M43.3 464.2h.8M40.8 468.6h.8M63.2 464.7h.8M55.4 465.5h.8M44.8 462.9h.8M67.9 464.3h.8M54.7 466.4h.8M51.4 465.7h.8M44.3 466.4h.8M45.7 464.4h.8M47.2 462.3h.8M33.9 464.2h.8M40.9 463.1h.8M50.7 465.0h.8M59.1 466.2h.8M48.3 465.5h.8M62.7 464.6h.8M54.6 466.1h.8M51.5 463.7h.8M59.5 462.3h.8M52.0 464.7h.8M53.1 465.2h.8M63.4 465.9h.8M46.1 462.6h.8M49.0 464.6h.8M62.2 463.5h.8M67.5 465.3h.8M35.1 464.4h.8M53.7 465.3h.8M59.7 466.4h.8M49.0 468.3h.8M49.8 467.8h.8M54.8 465.2h.8M54.5 465.9h.8M43.5 464.5h.8M34.3 465.9h.8M43.6 465.0h.8M53.9 464.4h.8M57.8 463.0h.8M60.4 466.6h.8M58.6 464.4h.8M44.6 464.8h.8M42.6 465.6h.8M48.6 467.1h.8M48.5 466.6h.8M41.2 464.7h.8M57.3 462.3h.8M58.4 465.0h.8M53.9 465.2h.8M45.6 465.5h.8M53.9 464.0h.8M38.6 467.7h.8M54.8 463.1h.8M52.2 463.5h.8M61.4 465.9h.8M58.4 464.2h.8M40.1 467.8h.8M38.1 463.6h.8M60.2 465.4h.8M43.3 463.1h.8M46.3 468.2h.8M51.4 466.3h.8M50.1 462.6h.8M39.8 465.0h.8M49.2 462.7h.8M62.6 464.9h.8M54.8 463.6h.8M40.0 465.3h.8M39.9 465.8h.8M43.1 469.2h.8M47.8 463.1h.8M52.3 464.3h.8M38.9 464.6h.8M50.9 463.2h.8M47.8 463.3h.8M48.4 464.0h.8M49.6 463.3h.8M61.1 461.9h.8M52.2 464.9h.8M35.8 468.4h.8M50.2 465.0h.8M35.9 467.5h.8M48.3 462.8h.8M55.4 466.3h.8M46.5 463.0h.8M47.3 462.2h.8M34.0 464.1h.8M64.1 465.1h.8M62.3 464.1h.8M31.3 466.8h.8M55.6 465.4h.8M53.9 466.9h.8M58.1 461.0h.8M42.1 464.3h.8M62.0 464.8h.8M50.1 465.7h.8M41.5 466.3h.8M45.5 463.2h.8M54.2 463.5h.8M37.1 464.4h.8M62.1 466.7h.8M48.5 466.6h.8M43.0 465.0h.8M44.6 467.2h.8M65.2 465.0h.8M49.2 462.7h.8M32.8 465.0h.8M50.0 468.2h.8M55.0 463.7h.8M42.9 465.4h.8M61.0 465.4h.8M48.1 464.7h.8M39.1 464.8h.8M56.0 462.7h.8M44.4 461.0h.8M39.2 464.6h.8M49.1 465.5h.8M56.1 463.8h.8M40.0 466.0h.8M56.7 464.8h.8M51.1 463.3h.8M54.1 463.9h.8M49.3 465.2h.8M50.1 462.4h.8M46.4 462.3h.8M41.1 463.7h.8M43.3 465.1h.8M53.2 465.4h.8M38.9 464.2h.8M35.1 464.6h.8M58.2 462.9h.8M54.3 463.2h.8M52.1 463.7h.8M55.9 463.8h.8M66.7 465.2h.8M44.6 464.0h.8M45.3 463.5h.8M43.5 464.9h.8M60.4 467.5h.8M41.5 463.3h.8M44.4 462.8h.8M46.7 464.3h.8M39.6 463.7h.8M52.4 463.8h.8M66.6 463.2h.8M65.4 466.9h.8M53.5 465.1h.8M51.1 462.6h.8M44.2 464.3h.8M43.7 460.5h.8M37.0 465.9h.8M50.6 462.3h.8M62.9 468.1h.8M45.0 467.6h.8M44.9 464.7h.8M56.1 461.9h.8M58.1 467.3h.8M51.3 463.2h.8M54.6 465.3h.8M49.6 463.5h.8M35.3 464.7h.8M52.4 465.7h.8M38.5 464.9h.8M55.2 463.2h.8M51.8 462.2h.8M55.9 464.8h.8M35.0 462.8h.8M42.0 464.7h.8M39.1 464.0h.8M63.6 465.3h.8M33.0 464.6h.8M41.3 465.7h.8M46.3 466.3h.8M58.4 463.8h.8M35.7 465.9h.8M43.0 466.1h.8M63.1 465.0h.8M63.5 466.3h.8M63.2 465.6h.8M40.1 464.0h.8M47.4 464.0h.8M48.4 465.4h.8M52.3 466.2h.8M44.0 464.6h.8M49.6 465.8h.8M62.3 465.0h.8M54.8 465.6h.8M49.5 464.3h.8M55.9 465.8h.8M57.4 466.5h.8M45.1 463.1h.8M46.1 466.1h.8M51.1 465.9h.8M39.6 466.3h.8M42.0 465.1h.8M53.0 466.2h.8M33.9 465.7h.8M42.8 464.8h.8M53.5 463.4h.8M64.5 464.6h.8M43.7 469.2h.8M34.1 467.5h.8M47.2 465.0h.8M45.3 462.7h.8M46.2 465.7h.8M49.5 462.4h.8M59.5 464.0h.8M64.2 466.6h.8M38.7 464.7h.8M41.8 467.5h.8M41.2 465.8h.8M54.2 463.2h.8M50.3 463.9h.8M49.1 466.2h.8M42.7 464.8h.8M39.3 463.5h.8M37.7 465.6h.8M58.7 463.3h.8M36.1 464.9h.8M52.3 462.4h.8M56.7 464.6h.8M57.1 464.5h.8M50.1 465.8h.8M46.0 465.9h.8M55.9 464.6h.8M50.6 463.9h.8M55.8 463.5h.8M41.4 464.9h.8M54.1 462.9h.8M52.1 465.3h.8M59.7 464.9h.8M40.6 465.5h.8M53.5 465.1h.8M51.2 464.4h.8M53.8 463.5h.8M54.3 466.4h.8M48.0 463.0h.8M35.0 465.0h.8M41.1 466.8h.8M41.4 467.9h.8M45.5 464.2h.8M58.6 466.8h.8M52.0 465.2h.8M35.3 465.1h.8M46.6 464.2h.8M48.1 464.9h.8M47.7 464.9h.8M60.1 462.7h.8M46.1 467.4h.8M57.0 465.7h.8M46.8 463.7h.8M50.0 465.6h.8M47.9 466.2h.8M47.1 464.4h.8M54.2 467.6h.8M42.4 462.5h.8M62.8 464.5h.8M40.5 464.6h.8M50.3 464.6h.8M69.2 463.1h.8M65.4 464.3h.8M37.1 466.9h.8M40.5 466.8h.8M51.5 462.9h.8M57.8 462.5h.8M64.2 461.1h.8M51.3 463.6h.8M50.5 464.5h.8M59.0 467.7h.8M56.7 464.6h.8M53.1 467.4h.8M54.6 462.0h.8M60.4 463.2h.8M38.8 467.0h.8M57.2 463.8h.8M54.6 464.3h.8M36.6 467.4h.8M43.7 465.8h.8M49.2 463.6h.8M52.2 464.7h.8M57.9 464.6h.8M46.2 462.7h.8M47.9 463.1h.8M60.8 464.4h.8M49.3 465.8h.8M55.4 464.4h.8M45.6 464.2h.8M50.7 466.1h.8M40.4 467.8h.8M52.7 463.6h.8M39.5 464.9h.8M47.8 465.2h.8M55.5 462.8h.8M63.3 462.7h.8M62.1 464.7h.8M50.1 462.5h.8M48.0 466.4h.8M44.3 463.1h.8M40.9 465.0h.8M62.7 467.0h.8M47.8 464.0h.8M45.1 468.1h.8M41.0 465.1h.8M36.0 466.4h.8M51.2 463.2h.8M63.6 465.7h.8M35.1 466.2h.8M50.0 463.0h.8M48.8 465.9h.8M36.6 464.8h.8M55.6 463.8h.8M38.0 466.2h.8M41.1 464.1h.8M36.7 465.8h.8M38.9 465.0h.8M51.2 465.4h.8M47.3 466.1h.8M52.1 467.6h.8M52.7 465.7h.8M37.8 466.0h.8M43.1 464.4h.8M61.8 464.4h.8M56.3 462.8h.8M68.7 463.8h.8M42.1 467.1h.8M36.7 462.8h.8M50.1 462.7h.8M61.2 466.1h.8M41.8 466.6h.8M34.9 464.1h.8M38.1 463.7h.8M40.9 464.6h.8M37.1 464.2h.8M54.1 462.4h.8M55.7 463.3h.8M44.0 465.1h.8M57.5 467.0h.8M51.4 465.3h.8M57.2 463.9h.8M56.2 467.0h.8M46.2 465.1h.8M62.3 465.9h.8M48.5 463.9h.8M46.0 467.9h.8M49.0 467.5h.8M51.0 466.0h.8M52.2 463.8h.8M51.7 464.4h.8M51.4 463.5h.8M58.3 462.9h.8M56.2 466.4h.8M59.8 465.0h.8M43.9 464.7h.8M62.8 465.6h.8M56.4 462.7h.8M48.5 465.9h.8M50.8 464.8h.8M46.0 463.9h.8M48.5 463.1h.8M47.8 467.8h.8M63.8 466.5h.8M55.2 463.0h.8M40.9 465.5h.8M44.1 462.1h.8M47.5 466.8h.8M41.1 464.6h.8M52.5 466.1h.8M47.2 467.0h.8M58.7 461.8h.8M55.4 464.3h.8M53.0 465.3h.8M46.9 465.2h.8M46.0 463.7h.8M50.3 469.0h.8M48.3 465.3h.8M40.3 465.9h.8M46.8 463.6h.8M41.7 466.0h.8M49.0 464.9h.8M58.2 465.2h.8M58.6 460.7h.8M58.1 464.6h.8M46.5 467.4h.8M56.1 465.4h.8M49.6 464.9h.8M47.7 463.1h.8M51.3 466.3h.8M45.2 465.2h.8M54.8 465.1h.8M49.7 466.3h.8M34.6 465.3h.8M50.8 467.8h.8M47.7 465.8h.8M54.5 464.6h.8M63.8 466.7h.8M48.9 464.3h.8M69.3 464.5h.8M32.6 465.7h.8M53.2 468.7h.8M43.2 463.0h.8M41.3 464.6h.8M54.9 465.1h.8M61.4 466.3h.8M41.1 462.3h.8M49.9 466.6h.8M45.6 463.9h.8M64.1 465.3h.8M52.9 465.4h.8M44.1 463.3h.8M53.5 465.6h.8M57.0 464.8h.8M60.4 463.8h.8M57.7 463.3h.8M60.2 466.9h.8M42.9 464.6h.8M46.3 464.7h.8M60.4 465.9h.8M45.0 466.3h.8M42.6 465.1h.8M41.3 463.4h.8M48.2 465.8h.8M51.0 464.5h.8M43.0 464.1h.8M45.4 464.3h.8M46.6 465.4h.8M41.1 463.1h.8M44.4 463.0h.8M47.3 466.5h.8M47.2 465.3h.8M42.2 467.0h.8M59.2 463.4h.8M51.9 468.1h.8M56.0 465.0h.8M44.8 465.7h.8M45.5 464.9h.8M53.8 465.2h.8M44.9 462.3h.8M50.5 463.7h.8M51.4 463.0h.8M56.2 466.4h.8M61.9 464.5h.8M52.1 462.3h.8M55.8 465.0h.8M46.1 463.5h.8M35.7 466.1h.8M53.8 464.7h.8M39.9 465.1h.8M46.3 465.1h.8M52.0 464.3h.8M62.5 464.9h.8M47.0 464.2h.8M45.9 464.8h.8M62.1 466.0h.8M50.5 465.4h.8M57.5 461.9h.8M63.3 465.4h.8M50.6 464.4h.8M53.5 464.3h.8M45.9 463.9h.8M30.7 463.4h.8M47.6 465.5h.8M56.5 465.4h.8M56.8 464.7h.8M58.1 464.6h.8M43.1 463.2h.8M40.6 463.5h.8M38.9 463.5h.8M34.7 464.9h.8M43.1 464.4h.8M49.2 464.2h.8M40.4 466.3h.8M59.4 463.5h.8M66.2 464.2h.8M63.1 465.6h.8M60.0 465.4h.8M45.3 466.3h.8M50.1 464.9h.8M52.5 464.6h.8M37.1 463.1h.8M50.1 466.8h.8M44.0 464.6h.8M37.8 464.1h.8M56.0 464.5h.8M34.5 464.1h.8M49.7 466.7h.8M57.7 463.7h.8M71.4 467.3h.8M42.8 464.2h.8M46.3 464.4h.8M42.8 463.6h.8M63.3 463.1h.8M54.8 465.6h.8M60.4 461.6h.8M37.4 465.7h.8M71.3 467.8h.8M41.9 463.2h.8M49.0 463.8h.8M55.2 462.5h.8M38.0 462.5h.8M46.0 461.8h.8M48.2 465.5h.8M57.4 465.7h.8M72.4 466.6h.8M33.1 463.5h.8M50.8 465.1h.8M44.4 464.3h.8M48.2 466.7h.8M44.9 465.0h.8M48.1 463.0h.8M58.8 466.4h.8M58.7 466.8h.8M36.7 464.3h.8M43.4 466.1h.8M46.9 466.0h.8M64.0 464.7h.8M59.4 467.9h.8M61.3 465.1h.8M54.4 465.2h.8M43.7 462.6h.8M46.7 463.6h.8M58.9 463.5h.8M55.8 463.6h.8M38.9 463.6h.8M53.2 464.6h.8M51.9 464.3h.8M38.0 466.0h.8M48.2 465.1h.8M53.6 466.6h.8M63.6 465.6h.8M37.8 464.6h.8M41.3 464.1h.8M81.6 466.0h.8M71.8 460.6h.8M66.1 464.9h.8M78.0 465.6h.8M68.2 465.4h.8M67.2 464.6h.8M75.3 464.9h.8M61.1 462.8h.8M63.7 468.3h.8M80.9 465.3h.8M74.7 462.7h.8M70.5 467.7h.8M61.7 464.8h.8M79.8 464.8h.8M68.9 462.0h.8M53.3 466.6h.8M66.0 466.1h.8M66.6 463.4h.8M65.5 464.6h.8M81.5 463.6h.8M73.4 465.7h.8M64.7 469.0h.8M56.2 467.2h.8M84.1 464.0h.8M64.8 463.6h.8M60.8 466.6h.8M65.6 465.4h.8M71.0 467.1h.8M71.5 463.9h.8M75.8 464.0h.8M63.1 464.1h.8M65.0 462.6h.8M76.9 464.6h.8M66.4 467.4h.8M84.1 467.0h.8M79.3 464.9h.8M63.0 464.4h.8M67.3 465.7h.8M62.1 467.0h.8M70.6 463.0h.8M62.9 464.7h.8M64.5 466.9h.8M73.3 467.7h.8M74.7 464.1h.8M72.6 467.5h.8M85.6 467.4h.8M77.2 465.0h.8M65.6 462.7h.8M66.3 466.3h.8M86.5 465.1h.8M69.9 468.3h.8M80.3 466.1h.8M65.1 462.2h.8M75.3 464.1h.8M90.9 466.2h.8M58.3 463.6h.8M77.0 461.9h.8M58.0 462.8h.8M77.9 464.0h.8M84.6 465.8h.8M75.0 466.7h.8M71.9 465.6h.8M70.0 466.1h.8M73.8 466.9h.8M78.1 462.1h.8M65.6 462.6h.8M60.9 460.4h.8M64.0 464.8h.8M63.7 463.3h.8M71.6 465.7h.8M45.2 467.9h.8M56.1 467.9h.8M62.7 464.0h.8M82.0 468.9h.8M85.8 461.6h.8M86.2 466.3h.8M62.8 465.3h.8M79.8 466.3h.8M86.4 466.7h.8M66.6 460.9h.8M66.2 467.1h.8M73.3 466.4h.8M72.7 464.4h.8M74.0 463.5h.8M59.3 466.6h.8M63.9 464.5h.8M68.7 470.0h.8M57.9 466.1h.8M62.6 468.2h.8M73.4 466.9h.8M68.7 466.9h.8M84.2 461.4h.8M54.0 461.8h.8M76.5 463.4h.8M76.8 465.3h.8M70.8 463.8h.8M79.4 466.5h.8M69.0 464.3h.8M33.4 466.0h.8M86.0 463.7h.8M65.6 461.6h.8M67.7 461.0h.8M59.4 467.6h.8M62.3 461.5h.8M86.5 460.7h.8M83.8 460.9h.8M91.7 464.4h.8M65.5 463.7h.8M55.9 467.3h.8M79.1 466.8h.8M58.1 465.9h.8M62.8 466.1h.8M59.4 464.7h.8M67.2 466.0h.8M77.1 464.4h.8M84.1 465.9h.8M63.6 468.5h.8M67.9 468.3h.8M71.2 464.5h.8M67.4 463.6h.8M72.2 466.3h.8M63.6 467.3h.8M83.3 463.7h.8M65.4 465.5h.8M73.0 467.2h.8M72.3 464.5h.8M52.9 466.4h.8M87.4 467.2h.8M56.9 463.2h.8M73.3 461.2h.8M54.6 462.3h.8M68.3 464.2h.8M65.3 463.7h.8M74.8 464.8h.8M71.0 464.7h.8M68.0 464.3h.8M52.4 463.7h.8M75.4 464.8h.8M87.4 463.8h.8M71.7 465.2h.8M88.4 465.2h.8M57.8 466.8h.8M70.5 464.2h.8M67.8 468.9h.8M81.5 463.4h.8M65.8 463.7h.8M61.8 463.2h.8M79.9 465.2h.8M61.2 465.4h.8M75.2 464.6h.8M67.4 464.1h.8M73.6 461.1h.8M91.2 464.7h.8M53.2 461.9h.8M67.8 465.5h.8M86.0 464.9h.8M69.4 465.1h.8M79.2 464.6h.8M68.5 465.8h.8M86.7 465.6h.8M67.5 464.3h.8M68.7 463.6h.8M76.8 466.7h.8M99.5 464.9h.8M70.2 463.7h.8M73.8 461.8h.8M79.4 465.9h.8M62.4 464.9h.8M78.6 465.2h.8M85.2 462.9h.8M75.9 463.5h.8M59.4 464.2h.8M66.3 464.1h.8M67.0 463.2h.8M71.1 465.8h.8M86.2 468.9h.8M71.0 464.8h.8M76.7 463.6h.8M78.5 465.0h.8M69.7 463.4h.8M67.8 465.5h.8M58.6 463.9h.8M73.9 464.7h.8M74.8 462.9h.8M68.7 465.3h.8M83.0 468.1h.8M78.0 464.2h.8M86.6 465.7h.8M82.7 463.9h.8M52.1 463.8h.8M58.7 464.1h.8M67.1 464.1h.8M79.3 465.6h.8M76.9 462.5h.8M77.0 464.0h.8M74.7 465.1h.8M68.5 464.0h.8M51.3 465.8h.8M79.4 462.8h.8M77.1 466.2h.8M76.6 460.9h.8M66.2 464.1h.8M77.8 464.5h.8M86.9 467.2h.8M72.1 465.4h.8M67.9 466.0h.8M76.1 464.7h.8M50.2 463.9h.8M76.2 463.1h.8M63.7 463.9h.8M87.0 467.8h.8M79.9 464.8h.8M75.8 464.7h.8M71.1 466.8h.8M70.0 464.9h.8M72.3 465.7h.8M63.6 465.6h.8M73.0 463.6h.8M67.0 462.8h.8M74.1 465.7h.8M65.5 465.4h.8M55.3 467.3h.8M62.0 465.3h.8M74.4 465.1h.8M66.0 464.6h.8M65.8 465.3h.8M68.1 462.3h.8M69.4 463.2h.8M72.4 466.7h.8M71.2 462.1h.8M67.2 466.6h.8M76.0 461.5h.8M70.1 465.2h.8M86.5 464.8h.8M64.9 467.7h.8M66.4 463.6h.8M63.5 463.1h.8M72.7 467.2h.8M51.5 466.5h.8M75.8 468.5h.8M73.1 465.7h.8M84.1 466.7h.8M78.5 463.3h.8M74.8 463.9h.8M70.1 463.6h.8M56.1 465.2h.8M79.9 471.0h.8M82.2 464.9h.8M70.5 464.3h.8M60.5 463.0h.8M82.4 464.4h.8M58.3 465.5h.8M54.4 465.6h.8M80.3 466.0h.8M72.1 467.6h.8M81.6 465.0h.8M67.2 467.5h.8M62.4 465.0h.8M80.7 463.6h.8M65.7 464.1h.8M79.2 465.2h.8M49.1 461.3h.8M70.1 464.0h.8M82.3 461.8h.8M71.5 465.5h.8M71.3 464.1h.8M49.2 466.8h.8M90.4 464.3h.8M67.7 467.2h.8M70.3 462.2h.8M47.3 465.5h.8M72.7 463.9h.8M65.8 464.7h.8M61.9 463.0h.8M54.0 466.5h.8M73.2 468.1h.8M76.5 463.7h.8M66.4 467.8h.8M66.7 465.0h.8M57.3 465.3h.8M49.1 465.6h.8M81.3 463.8h.8M64.6 467.1h.8M75.0 465.2h.8M61.4 465.2h.8M73.9 464.7h.8M69.1 462.1h.8M67.9 465.0h.8M56.5 465.4h.8M78.2 465.2h.8M56.3 466.9h.8M61.9 464.3h.8M58.1 465.6h.8M69.7 464.1h.8M66.1 463.6h.8M71.3 463.9h.8M63.0 463.3h.8M62.8 466.6h.8M62.7 462.9h.8M89.5 466.4h.8M74.8 468.0h.8M61.8 466.8h.8M83.1 466.6h.8M73.9 465.0h.8M71.6 464.6h.8M62.9 466.3h.8M62.5 462.7h.8M77.9 466.3h.8M75.9 461.2h.8M79.4 464.5h.8M71.2 464.6h.8M69.2 466.6h.8M58.8 464.6h.8M71.7 464.5h.8M82.4 465.7h.8M74.1 466.1h.8M66.4 463.6h.8M64.2 460.3h.8M67.0 465.0h.8M63.6 465.4h.8M64.1 465.4h.8M64.1 464.2h.8M75.7 467.5h.8M76.1 464.2h.8M70.8 467.1h.8M79.0 465.7h.8M79.0 465.3h.8M72.8 462.2h.8M60.3 464.1h.8M63.2 465.0h.8M62.8 466.4h.8M93.7 465.5h.8M57.3 465.4h.8M63.5 466.3h.8M55.8 463.6h.8M71.0 463.4h.8M53.0 462.5h.8M59.0 463.3h.8M93.7 467.4h.8M64.7 463.8h.8M85.6 464.0h.8M71.7 465.7h.8M90.5 466.3h.8M65.1 467.5h.8M64.3 462.7h.8M64.0 465.5h.8M69.6 462.9h.8M67.2 463.4h.8M78.4 465.1h.8M85.8 464.8h.8M71.0 463.6h.8M74.0 463.3h.8M80.8 464.1h.8M56.9 465.5h.8M76.7 465.7h.8M80.1 466.0h.8M69.4 464.5h.8M61.8 464.4h.8M65.6 464.2h.8M65.7 464.3h.8M63.8 467.8h.8M69.7 466.4h.8M69.0 467.4h.8M49.0 465.1h.8M76.8 468.3h.8M68.8 464.6h.8M71.0 461.6h.8M63.0 464.1h.8M52.3 463.9h.8M67.9 465.1h.8M71.3 462.6h.8M94.0 464.7h.8M82.8 469.8h.8M80.1 465.7h.8M73.2 465.6h.8M80.0 463.8h.8M73.9 462.2h.8M71.8 469.7h.8M57.0 464.3h.8M72.4 465.0h.8M76.5 464.5h.8M65.2 464.8h.8M69.6 465.1h.8M61.7 467.6h.8M71.9 463.2h.8M60.6 467.0h.8M56.5 464.9h.8M64.9 465.9h.8M94.6 463.4h.8M75.8 464.9h.8M76.6 463.3h.8M66.4 463.3h.8M74.6 466.1h.8M84.7 464.2h.8M87.2 465.9h.8M51.0 464.1h.8M61.7 463.6h.8M56.7 466.0h.8M69.5 464.8h.8M79.4 461.5h.8M75.0 462.8h.8M73.6 464.2h.8M74.0 463.7h.8M88.6 467.0h.8M86.0 467.4h.8M61.2 464.3h.8M62.3 469.3h.8M78.2 466.3h.8M55.0 461.7h.8M53.9 466.9h.8M62.8 462.5h.8M74.1 465.3h.8M74.8 462.5h.8M76.1 462.7h.8M58.8 466.0h.8M67.4 465.8h.8M74.1 463.6h.8M71.3 462.6h.8M70.7 465.0h.8M71.2 466.6h.8M60.6 469.9h.8M61.0 463.4h.8M96.8 467.7h.8M74.5 463.9h.8M70.1 461.9h.8M63.3 462.8h.8M69.4 464.4h.8M60.2 465.0h.8M66.2 465.9h.8M68.1 465.2h.8M80.0 464.6h.8M83.8 465.8h.8M77.0 467.9h.8M73.1 468.4h.8M73.7 462.6h.8M68.9 462.9h.8M85.8 464.5h.8M80.5 465.6h.8M70.3 466.8h.8M64.6 463.7h.8M84.4 467.0h.8M70.4 464.6h.8M70.1 466.2h.8M63.0 466.4h.8M53.9 465.8h.8M77.2 464.5h.8M76.2 461.8h.8M77.4 462.9h.8M71.0 466.3h.8M79.6 465.5h.8M78.3 465.0h.8M81.7 467.0h.8M63.9 465.0h.8M68.1 464.4h.8M78.3 466.3h.8M74.4 464.3h.8M62.0 463.3h.8M68.8 465.3h.8M74.3 465.7h.8M80.3 466.8h.8M84.2 463.1h.8M78.1 462.3h.8M86.2 466.4h.8M86.4 464.4h.8M82.1 464.4h.8M70.0 463.8h.8M82.9 461.2h.8M71.5 465.0h.8M78.1 464.7h.8M66.3 463.2h.8M63.9 464.7h.8M63.9 467.7h.8M81.0 461.6h.8M74.5 467.3h.8M81.7 466.3h.8M68.1 466.3h.8M66.7 464.5h.8M56.2 465.5h.8M69.6 465.7h.8M77.2 467.8h.8M67.6 466.8h.8M60.5 463.0h.8M72.4 462.1h.8M81.6 465.0h.8M94.5 465.9h.8M71.5 464.6h.8M72.7 464.9h.8M70.2 465.4h.8M79.2 467.0h.8M82.2 468.2h.8M73.8 461.9h.8M61.6 466.5h.8M59.2 463.0h.8M72.5 464.5h.8M64.2 468.9h.8M75.0 464.1h.8M75.6 463.6h.8M67.0 464.9h.8M72.2 463.4h.8M59.4 461.7h.8M85.7 466.6h.8M87.7 471.8h.8M85.9 467.5h.8M88.9 466.6h.8M91.7 467.9h.8M88.0 467.9h.8M87.0 471.3h.8M88.7 466.3h.8M91.6 472.2h.8M88.3 473.0h.8M87.0 473.1h.8M87.1 471.4h.8M88.2 472.1h.8M89.7 475.5h.8M87.7 463.7h.8M92.4 465.8h.8M90.5 466.9h.8M81.3 472.8h.8M87.7 470.9h.8M85.7 463.7h.8M89.5 469.0h.8M88.5 465.4h.8M85.6 464.6h.8M87.4 463.2h.8M86.8 469.2h.8M84.5 465.5h.8M90.8 470.5h.8M88.9 473.8h.8M87.9 469.3h.8M85.3 466.9h.8M83.9 470.1h.8M90.1 471.1h.8M89.0 472.4h.8M90.6 475.0h.8M85.0 471.7h.8M86.1 472.8h.8M87.1 468.6h.8M90.2 468.0h.8M80.7 471.7h.8M88.3 473.6h.8M90.6 466.3h.8M85.0 469.2h.8M84.5 471.7h.8M84.7 467.5h.8M90.6 467.6h.8M90.4 466.2h.8M86.4 469.2h.8M84.6 463.6h.8M86.5 470.1h.8M87.3 472.9h.8M90.2 469.3h.8M90.5 469.0h.8M81.9 466.6h.8M89.9 466.8h.8M89.9 470.2h.8M86.3 465.3h.8M94.1 466.0h.8M85.1 475.5h.8M85.8 473.2h.8M89.3 460.9h.8M90.3 470.4h.8M90.0 473.5h.8M86.7 475.8h.8M90.9 468.1h.8M88.5 467.9h.8M87.3 464.4h.8M84.3 470.3h.8M83.6 469.3h.8M88.8 469.8h.8M90.3 476.0h.8M91.1 469.4h.8M86.5 462.7h.8M85.6 466.6h.8M85.4 469.5h.8M84.3 473.2h.8M87.8 471.1h.8M86.2 470.5h.8M87.5 469.8h.8M90.9 467.0h.8M84.0 467.7h.8M91.5 466.3h.8M90.0 468.6h.8M85.9 464.2h.8M84.9 465.7h.8M88.6 468.1h.8M89.8 475.6h.8M88.2 465.8h.8M90.0 466.4h.8M87.6 476.2h.8M87.0 469.2h.8M89.0 469.1h.8M85.8 467.5h.8M88.5 471.5h.8M87.1 469.7h.8M88.2 473.4h.8M89.4 469.6h.8M84.9 468.9h.8M94.6 468.4h.8M88.3 464.2h.8M87.5 465.3h.8M87.5 477.6h.8M91.7 470.1h.8M88.4 477.2h.8M84.2 467.9h.8M88.7 466.9h.8M86.9 469.0h.8M89.8 470.5h.8M88.4 473.2h.8M86.1 470.2h.8M86.3 472.1h.8M92.2 468.2h.8M89.7 474.2h.8M86.6 478.5h.8M86.8 470.9h.8M87.9 466.8h.8M83.2 466.1h.8M82.3 470.7h.8M86.8 474.8h.8M84.4 467.4h.8M89.5 469.4h.8M88.8 463.8h.8M90.0 472.7h.8M86.2 471.2h.8M86.8 473.4h.8M86.2 474.6h.8M84.4 470.6h.8M83.6 467.1h.8M91.5 472.7h.8M84.5 466.1h.8M86.9 470.2h.8M87.7 468.4h.8M88.9 466.2h.8M88.8 468.8h.8M86.6 466.1h.8M83.8 472.9h.8M90.1 468.5h.8M87.1 467.0h.8M90.6 461.9h.8M85.3 471.9h.8M87.8 466.6h.8M86.5 472.8h.8M86.4 468.8h.8M86.5 474.9h.8M83.2 468.9h.8M83.1 466.0h.8M90.7 472.2h.8M85.5 469.1h.8M87.9 473.3h.8M83.9 472.6h.8M88.5 468.9h.8M86.6 470.3h.8M88.4 469.1h.8M87.8 471.8h.8M90.6 471.5h.8M86.7 473.0h.8M89.7 463.5h.8M89.2 471.2h.8M87.2 470.0h.8M86.6 470.9h.8M88.1 467.0h.8M88.7 469.3h.8M89.5 467.3h.8M86.8 467.6h.8M88.2 469.6h.8M91.6 467.0h.8M91.2 476.9h.8M89.0 471.5h.8M87.4 465.4h.8M91.8 470.8h.8M82.5 464.6h.8M89.4 464.7h.8M85.6 468.3h.8M85.4 470.3h.8M87.9 473.5h.8M92.5 474.7h.8M91.7 468.1h.8M87.4 468.1h.8M85.3 470.6h.8M85.5 471.8h.8M86.0 468.0h.8M85.2 469.1h.8M92.0 474.3h.8M89.5 469.4h.8M87.3 471.9h.8M87.7 467.9h.8M89.8 469.6h.8M89.7 474.3h.8M86.8 469.8h.8M85.5 470.9h.8M84.6 469.0h.8M87.3 470.8h.8M87.8 464.6h.8M87.2 464.3h.8M86.3 462.6h.8M87.7 473.0h.8M87.3 470.4h.8M91.2 468.8h.8M88.0 466.7h.8M84.9 467.1h.8M87.5 467.4h.8M85.9 463.7h.8M88.6 471.3h.8M88.7 466.8h.8M84.5 469.9h.8M85.9 475.2h.8M91.1 469.0h.8M88.4 469.1h.8M91.6 471.7h.8M87.7 470.1h.8M82.7 466.8h.8M86.5 474.0h.8M87.3 468.5h.8M87.0 471.3h.8M82.3 465.5h.8M82.1 471.3h.8M87.8 463.7h.8M85.9 467.9h.8M89.0 475.0h.8M85.6 469.1h.8M88.3 473.3h.8M83.1 471.1h.8M86.4 472.2h.8M80.8 465.5h.8M83.0 464.7h.8M87.2 468.3h.8M88.1 466.1h.8M83.3 468.0h.8M88.3 465.8h.8M90.8 476.6h.8M88.7 468.6h.8M83.6 468.1h.8M86.9 469.9h.8M83.6 468.7h.8M85.4 465.3h.8M86.8 469.1h.8M88.7 464.6h.8M86.4 465.5h.8M88.3 469.6h.8M84.6 470.5h.8M89.0 472.4h.8M94.4 466.6h.8M87.7 466.9h.8M92.0 469.0h.8M87.7 471.3h.8M85.9 469.7h.8M90.6 464.2h.8M84.1 468.5h.8M88.4 471.8h.8M87.8 472.1h.8M90.2 475.4h.8M89.9 469.0h.8M87.3 467.5h.8M89.7 468.9h.8M87.8 470.3h.8M90.3 467.4h.8M85.6 469.0h.8M88.7 467.4h.8M90.2 476.1h.8M87.2 473.2h.8M87.7 470.8h.8M91.0 466.3h.8M85.5 473.8h.8M86.2 476.0h.8M93.2 468.8h.8M84.4 471.1h.8M84.2 469.7h.8M86.1 469.6h.8M86.7 468.2h.8M87.1 469.2h.8M87.0 468.3h.8M86.7 472.8h.8M92.2 467.5h.8M88.1 470.0h.8M85.3 472.2h.8M82.1 470.9h.8M80.8 466.4h.8M87.5 474.6h.8M85.7 469.8h.8M85.0 471.3h.8M89.6 469.9h.8M89.4 465.4h.8M87.0 472.4h.8M84.9 471.5h.8M88.6 469.8h.8M89.9 470.4h.8M82.8 468.1h.8M90.1 459.7h.8M86.6 471.8h.8M84.1 462.3h.8M81.0 471.7h.8M85.4 472.1h.8M84.9 467.0h.8M89.5 468.3h.8M79.4 472.8h.8M88.7 473.4h.8M89.8 471.7h.8M90.5 470.3h.8M88.6 470.0h.8M91.7 468.9h.8M86.3 468.1h.8M88.0 468.9h.8M83.6 466.5h.8M86.0 464.3h.8M87.7 471.0h.8M86.9 465.3h.8M86.0 472.8h.8M84.1 470.0h.8M86.2 468.4h.8M87.5 472.8h.8M89.4 468.0h.8M92.2 468.9h.8M88.0 475.3h.8M87.3 468.2h.8M84.8 471.6h.8M84.7 473.3h.8M86.8 468.3h.8M88.0 464.9h.8M89.4 473.7h.8M88.1 469.8h.8M90.5 465.0h.8M88.4 459.7h.8M88.8 470.6h.8M83.1 475.0h.8M83.7 467.3h.8M90.2 468.4h.8M83.6 472.8h.8M88.2 471.4h.8M82.5 468.8h.8M86.7 467.6h.8M85.1 467.1h.8M91.5 470.0h.8M89.0 464.2h.8M89.2 469.6h.8M87.3 469.6h.8M84.2 471.7h.8M83.5 463.1h.8M90.4 469.5h.8M88.6 472.1h.8M86.1 470.5h.8M91.6 471.9h.8M90.4 467.7h.8M86.7 467.1h.8M88.7 471.5h.8M85.9 469.1h.8M84.6 468.7h.8M88.6 469.5h.8M89.0 468.9h.8M90.3 473.6h.8M86.8 469.5h.8M85.7 471.0h.8M87.3 473.4h.8M87.8 471.2h.8M82.5 469.2h.8M87.2 472.0h.8M90.5 471.5h.8M84.4 470.5h.8M83.8 467.5h.8M84.5 475.1h.8M89.4 471.9h.8M90.5 466.0h.8M87.8 467.7h.8M84.7 470.0h.8M81.0 467.3h.8M86.8 473.0h.8M85.7 466.9h.8M86.1 471.8h.8M88.7 468.4h.8M86.4 465.1h.8M84.5 468.6h.8M80.8 473.1h.8M87.1 473.1h.8M91.4 465.7h.8M88.6 474.0h.8M84.7 471.5h.8M85.2 475.4h.8M87.9 467.3h.8M83.9 468.4h.8M90.0 467.5h.8M89.5 474.0h.8M84.6 474.1h.8M88.4 471.4h.8M84.8 472.6h.8M81.1 469.4h.8M88.1 466.7h.8M83.7 466.4h.8M87.2 463.0h.8M90.5 476.9h.8M78.8 466.6h.8M89.2 477.3h.8M84.0 463.6h.8M92.7 462.5h.8M90.6 464.3h.8M85.1 469.5h.8M85.0 465.4h.8M86.2 462.7h.8M96.5 469.9h.8M82.7 470.8h.8M89.3 468.3h.8M82.6 467.5h.8M87.6 470.3h.8M85.9 469.8h.8M87.6 464.8h.8M85.9 468.2h.8M89.5 466.2h.8M88.4 469.6h.8M85.2 470.6h.8M84.7 474.2h.8M86.8 472.2h.8M88.4 469.7h.8M86.9 472.1h.8M85.3 468.5h.8M90.3 470.2h.8M84.4 467.7h.8M88.9 470.0h.8M86.3 465.7h.8M81.4 472.8h.8M87.8 467.1h.8M88.0 463.9h.8M85.2 470.8h.8M82.7 474.4h.8M82.9 477.1h.8M84.0 467.4h.8M91.5 472.9h.8M90.6 470.6h.8M87.5 469.5h.8M89.2 471.9h.8M88.5 465.3h.8M84.0 465.2h.8M89.1 467.4h.8M85.0 470.2h.8M87.0 469.5h.8M83.3 471.8h.8M88.9 470.4h.8M91.1 467.8h.8M86.1 473.1h.8M86.3 469.6h.8M86.1 473.4h.8M84.6 468.5h.8M88.3 472.1h.8M88.0 464.0h.8M85.6 468.6h.8M84.7 472.9h.8M90.1 469.6h.8M84.3 470.4h.8M89.0 471.5h.8M91.2 469.9h.8M85.2 471.2h.8M85.8 469.9h.8M86.9 473.8h.8M86.3 469.2h.8M83.3 467.5h.8M86.7 466.8h.8M86.9 472.2h.8M83.3 469.8h.8M85.3 470.5h.8M89.9 463.2h.8M89.4 470.5h.8M83.7 467.1h.8M87.5 467.2h.8M86.8 469.7h.8M83.7 468.4h.8M90.5 471.4h.8M83.1 469.0h.8M91.6 471.9h.8M90.5 470.8h.8M87.9 465.7h.8M83.2 471.3h.8M88.7 468.9h.8M84.9 467.0h.8M88.4 467.5h.8M89.2 471.3h.8M88.6 471.2h.8M85.2 470.5h.8M85.9 467.4h.8M85.1 467.2h.8M88.2 465.2h.8M83.2 462.7h.8M90.8 472.8h.8M90.4 470.2h.8M86.4 472.0h.8M85.8 470.2h.8M84.6 471.2h.8M83.6 472.5h.8M88.7 471.3h.8M78.8 468.6h.8M94.1 465.5h.8M89.4 465.9h.8M84.7 467.6h.8M89.1 471.6h.8M89.5 473.1h.8M88.6 466.6h.8M92.9 476.8h.8M91.6 472.3h.8M90.4 471.0h.8M92.0 465.6h.8M84.4 473.0h.8M86.7 465.7h.8M85.3 468.1h.8M86.1 471.4h.8M84.7 476.1h.8M88.2 472.2h.8M87.6 469.9h.8M84.7 471.9h.8M90.1 470.6h.8M87.9 472.2h.8M90.6 472.4h.8M87.6 466.9h.8M84.9 466.4h.8M83.0 468.0h.8M92.7 466.2h.8M85.6 473.7h.8M87.0 473.8h.8M84.8 472.9h.8M92.4 471.9h.8M86.6 469.9h.8M84.1 469.8h.8M85.0 467.8h.8M90.3 469.2h.8M85.6 469.1h.8M92.7 473.2h.8M90.4 474.9h.8M85.9 471.4h.8M88.6 469.3h.8M87.2 473.1h.8M82.8 470.8h.8M96.4 465.8h.8M91.7 469.8h.8M92.1 471.3h.8M90.7 460.7h.8M87.7 481.6h.8M87.0 463.3h.8M85.8 484.5h.8M90.4 464.2h.8M90.2 479.3h.8M88.0 453.9h.8M92.7 474.7h.8M91.4 487.0h.8M91.3 490.5h.8M87.7 471.5h.8M93.4 471.9h.8M85.9 465.4h.8M90.1 465.0h.8M90.2 472.7h.8M88.7 460.4h.8M91.4 485.5h.8M90.4 474.1h.8M87.9 486.4h.8M87.8 477.6h.8M90.7 480.2h.8M93.6 472.4h.8M93.4 473.1h.8M92.1 478.7h.8M90.8 470.1h.8M92.5 474.4h.8M91.4 468.7h.8M87.5 471.7h.8M89.1 460.9h.8M90.9 473.5h.8M91.6 474.7h.8M95.7 468.9h.8M89.6 470.8h.8M84.4 471.5h.8M87.6 484.7h.8M88.8 487.1h.8M90.2 477.3h.8M88.6 469.1h.8M91.1 476.3h.8M89.7 488.6h.8M88.9 470.9h.8M92.2 477.6h.8M88.1 474.2h.8M90.6 487.2h.8M88.9 470.3h.8M87.1 485.2h.8M83.1 464.1h.8M85.4 474.4h.8M88.5 477.7h.8M86.6 474.3h.8M94.0 472.6h.8M89.1 475.4h.8M88.1 471.3h.8M91.8 475.3h.8M83.7 482.8h.8M82.9 480.9h.8M84.1 481.2h.8M92.1 481.3h.8M94.2 468.3h.8M86.0 496.1h.8M92.4 479.6h.8M97.1 479.9h.8M85.8 477.4h.8M87.9 476.7h.8M84.4 463.6h.8M88.9 473.3h.8M91.5 467.4h.8M87.3 470.4h.8M83.6 475.4h.8M85.9 471.9h.8M86.8 468.4h.8M85.8 496.0h.8M88.6 467.9h.8M89.9 465.6h.8M94.1 468.3h.8M79.4 477.6h.8M82.5 469.4h.8M83.9 477.0h.8M96.0 466.8h.8M87.8 474.9h.8M86.8 473.0h.8M86.4 473.9h.8M87.5 465.5h.8M90.2 482.1h.8M87.9 463.9h.8M92.7 470.7h.8M84.6 492.1h.8M87.4 482.1h.8M92.0 480.0h.8M91.9 460.5h.8M84.7 483.6h.8M94.4 490.0h.8M90.4 473.2h.8M89.7 477.7h.8M87.0 467.6h.8M91.2 469.8h.8M87.5 478.6h.8M89.0 467.5h.8M82.7 479.0h.8M88.5 461.8h.8M92.8 473.0h.8M86.5 465.7h.8M90.6 469.2h.8M85.3 456.3h.8M93.6 492.9h.8M94.7 472.0h.8M85.6 478.4h.8M91.7 463.2h.8M88.1 469.9h.8M83.2 478.0h.8M90.0 470.6h.8M81.5 485.3h.8M88.0 462.4h.8M89.9 458.5h.8M89.3 464.0h.8M92.2 454.2h.8M86.9 479.2h.8M87.4 488.0h.8M92.5 481.4h.8M85.3 478.4h.8M86.7 463.8h.8M87.2 453.8h.8M82.4 467.6h.8M91.5 469.0h.8M84.9 477.9h.8M82.1 478.8h.8M88.0 464.0h.8M91.1 483.0h.8M91.7 471.4h.8M88.3 470.5h.8M92.0 475.8h.8M84.6 463.7h.8M94.0 467.0h.8M90.3 481.1h.8M91.1 476.7h.8M83.7 469.9h.8M91.3 472.6h.8M85.5 467.1h.8M96.0 480.0h.8M87.3 482.1h.8M92.9 479.2h.8M89.0 468.9h.8M96.0 467.1h.8M96.6 469.3h.8M93.7 477.2h.8M96.0 471.6h.8M84.6 466.2h.8M94.5 476.5h.8M85.1 465.2h.8M82.5 470.7h.8M90.3 460.5h.8M89.4 478.2h.8M86.4 467.0h.8M85.6 471.2h.8M85.4 480.0h.8M84.9 463.4h.8M85.8 471.7h.8M93.6 469.9h.8M90.0 489.0h.8M90.6 472.6h.8M88.3 465.9h.8M85.6 475.9h.8M90.3 462.9h.8M93.1 472.3h.8M82.0 487.8h.8M89.7 478.6h.8M85.4 469.9h.8M90.6 469.1h.8M94.0 453.1h.8M84.0 468.3h.8M90.4 471.1h.8M89.9 462.8h.8M91.9 492.9h.8M87.7 483.4h.8M89.0 479.6h.8M92.8 465.7h.8M83.6 475.1h.8M91.7 481.3h.8M89.5 467.2h.8M78.8 457.2h.8M92.4 460.9h.8M95.2 474.7h.8M89.4 478.0h.8M83.9 482.5h.8M82.8 466.8h.8M97.0 478.8h.8M86.5 478.0h.8M89.3 472.8h.8M90.2 470.8h.8M91.8 501.8h.8M87.6 472.6h.8M86.4 481.7h.8M88.0 486.2h.8M95.7 477.0h.8M86.1 463.6h.8M86.6 474.5h.8M95.7 482.7h.8M92.3 469.0h.8M85.2 470.9h.8M86.9 472.1h.8M86.3 480.0h.8M89.6 460.7h.8M87.0 478.8h.8M88.5 481.8h.8M90.0 468.5h.8M81.1 468.6h.8M84.9 481.4h.8M91.2 475.3h.8M95.3 453.3h.8M88.4 469.2h.8M87.4 494.6h.8M91.7 477.4h.8M92.9 471.2h.8M91.4 473.6h.8M88.1 476.0h.8M83.2 469.7h.8M91.4 452.6h.8M86.8 498.8h.8M85.2 462.2h.8M88.4 467.4h.8M93.9 472.8h.8M88.8 488.8h.8M81.6 469.0h.8M89.5 457.5h.8M88.8 473.0h.8M95.5 475.0h.8M88.0 489.2h.8M80.9 463.9h.8M92.6 463.1h.8M88.1 489.3h.8M85.0 475.5h.8M88.0 477.1h.8M84.5 475.1h.8M86.6 493.6h.8M95.1 464.2h.8M86.2 466.6h.8M87.9 463.3h.8M92.5 471.5h.8M88.0 470.8h.8M90.5 460.7h.8M85.6 466.9h.8M89.8 455.8h.8M86.6 454.0h.8M86.7 483.6h.8M87.4 466.8h.8M96.5 468.0h.8M86.7 464.2h.8M98.4 475.0h.8M84.4 464.5h.8M82.2 469.6h.8M86.8 482.6h.8M89.1 469.3h.8M87.8 479.6h.8M89.0 501.5h.8M88.4 469.4h.8M91.5 506.1h.8M93.0 507.0h.8M94.1 490.9h.8M93.4 482.9h.8M85.0 492.5h.8M87.7 477.9h.8M80.6 500.1h.8M88.5 498.5h.8M95.4 484.2h.8M85.4 507.9h.8M87.5 496.8h.8M92.1 509.2h.8M85.7 488.9h.8M83.6 474.6h.8M96.5 499.0h.8M82.4 488.6h.8M98.0 499.6h.8M92.2 490.1h.8M90.1 505.3h.8M86.2 510.2h.8M80.4 489.6h.8M91.2 492.3h.8M91.1 502.1h.8M87.6 497.4h.8M78.7 493.1h.8M91.3 503.2h.8M86.5 472.8h.8M84.8 482.7h.8M88.7 493.5h.8M91.5 483.3h.8M91.4 487.2h.8M95.4 504.3h.8M90.9 493.9h.8M94.6 497.6h.8M85.4 501.6h.8M89.9 463.6h.8M89.1 469.1h.8M90.7 489.4h.8M81.0 492.1h.8M76.5 484.4h.8M83.4 497.2h.8M93.7 507.1h.8M89.6 485.1h.8M88.2 501.1h.8M90.9 462.8h.8M84.6 509.0h.8M86.0 493.9h.8M86.7 488.2h.8M79.8 503.2h.8M81.8 509.5h.8M88.5 505.5h.8M88.2 484.5h.8M91.2 509.0h.8M82.1 503.7h.8M94.1 488.5h.8M89.4 494.8h.8M83.7 504.4h.8M90.2 491.3h.8M80.2 478.8h.8M89.2 487.9h.8M82.3 491.2h.8M87.9 510.3h.8M79.6 492.3h.8M84.7 490.8h.8M83.9 497.2h.8M87.6 491.5h.8M82.8 480.8h.8M90.8 491.6h.8M86.5 487.1h.8M92.6 507.5h.8M83.7 494.6h.8M89.6 497.6h.8M96.1 508.1h.8M90.9 509.3h.8M87.0 472.4h.8M86.0 506.7h.8M85.4 509.5h.8M90.0 487.1h.8M82.5 509.3h.8M98.1 477.1h.8M85.9 479.0h.8M86.2 509.5h.8M85.8 496.0h.8M85.9 488.2h.8M86.2 500.2h.8M87.8 502.9h.8M90.3 494.7h.8M90.4 472.2h.8M86.6 493.2h.8M82.8 499.1h.8M88.4 506.3h.8M96.1 498.4h.8M96.3 499.6h.8M86.2 489.6h.8M93.4 492.2h.8M80.5 506.6h.8M85.5 489.1h.8M83.3 482.1h.8M86.9 494.8h.8M90.8 502.3h.8M89.0 498.6h.8M85.6 508.7h.8M82.1 482.8h.8M92.1 503.5h.8M83.1 486.2h.8M90.3 482.3h.8M90.7 489.8h.8M88.8 497.2h.8M89.9 487.5h.8M82.3 497.5h.8M94.9 488.6h.8M90.3 494.5h.8M79.5 500.9h.8M89.6 474.3h.8M96.2 482.0h.8M92.3 500.9h.8M91.2 481.8h.8M86.2 474.3h.8M87.7 503.4h.8M84.9 505.3h.8M79.7 497.9h.8M88.0 487.0h.8M89.7 494.4h.8M87.5 477.8h.8M94.6 489.4h.8M86.6 487.2h.8M92.4 507.1h.8M91.4 496.4h.8M81.8 497.0h.8M94.9 484.6h.8M89.3 486.8h.8M90.8 480.8h.8M88.4 503.7h.8M81.8 499.6h.8M88.1 501.7h.8M87.3 489.7h.8M86.1 493.8h.8M92.5 504.3h.8M90.1 497.8h.8M82.9 506.0h.8M86.9 486.4h.8M89.2 471.8h.8M91.0 471.8h.8M83.2 481.4h.8M90.4 500.0h.8M90.1 478.8h.8M82.3 509.0h.8M88.9 504.8h.8M92.6 484.3h.8M96.9 510.4h.8M91.2 477.3h.8M86.9 486.8h.8M88.8 501.8h.8M94.1 493.9h.8M89.2 501.2h.8M80.3 506.8h.8M89.8 500.0h.8M84.6 504.7h.8M87.5 470.1h.8M92.1 508.0h.8M86.6 485.6h.8M88.3 475.8h.8M86.2 507.4h.8M86.2 481.3h.8M82.1 481.4h.8M83.8 495.5h.8M97.2 498.4h.8M84.2 509.8h.8M89.1 506.1h.8M94.8 500.3h.8M88.6 495.4h.8M89.5 485.5h.8M85.3 487.8h.8M90.6 497.2h.8M80.4 503.0h.8M81.7 507.8h.8M93.7 508.8h.8M82.4 491.7h.8M88.6 496.8h.8M82.4 496.1h.8M81.2 493.4h.8M96.3 503.0h.8M89.8 498.9h.8M88.3 507.1h.8M86.1 498.8h.8M90.4 499.0h.8M87.7 484.4h.8M91.3 503.7h.8M95.4 480.4h.8M88.6 500.2h.8M86.7 481.3h.8M84.8 504.6h.8M90.0 488.7h.8M93.0 473.4h.8M84.6 492.7h.8M87.4 499.4h.8M85.3 501.3h.8M85.5 486.8h.8M83.8 493.1h.8M92.8 486.5h.8M82.6 497.7h.8M85.1 489.2h.8M87.9 489.8h.8M84.9 465.1h.8M89.8 504.1h.8M81.7 498.6h.8M80.8 492.8h.8M88.8 500.0h.8M89.9 508.7h.8M80.3 507.5h.8M85.3 506.9h.8M90.1 495.2h.8M88.7 488.0h.8M90.1 474.3h.8M91.2 499.3h.8M90.3 473.8h.8M87.2 485.3h.8M83.4 488.8h.8M91.9 503.3h.8M95.2 501.0h.8M84.0 482.2h.8M88.9 482.9h.8M86.6 485.3h.8M79.1 508.3h.8M95.5 503.4h.8M94.2 495.2h.8M86.6 508.3h.8M82.6 498.5h.8M83.5 495.5h.8M91.3 502.4h.8M87.5 463.3h.8M84.9 477.6h.8M84.5 489.4h.8M83.9 504.8h.8M90.9 477.6h.8M91.6 495.9h.8M84.2 486.0h.8M91.2 484.0h.8M84.5 489.3h.8M87.4 507.7h.8M85.5 508.4h.8M85.2 487.0h.8M94.7 472.3h.8M93.5 495.3h.8M84.4 501.0h.8M88.5 507.2h.8M84.8 475.6h.8M83.5 503.9h.8M83.8 503.3h.8M91.7 478.6h.8M78.1 494.2h.8M86.9 490.1h.8M81.2 508.2h.8M92.7 488.6h.8M90.1 500.8h.8M86.7 493.6h.8M83.5 482.6h.8M86.3 488.6h.8M87.4 502.0h.8M83.1 501.1h.8M83.2 485.4h.8M93.1 492.0h.8M93.9 488.6h.8M85.8 504.9h.8M87.8 504.4h.8M82.7 501.2h.8M86.3 505.1h.8M88.9 509.3h.8M85.0 504.2h.8M87.4 486.3h.8M91.2 475.0h.8M85.5 479.9h.8M89.7 495.4h.8M87.2 477.1h.8M92.7 493.3h.8M88.5 489.4h.8M86.9 492.6h.8M91.8 495.9h.8M82.8 481.1h.8M95.6 507.8h.8M86.8 494.5h.8M91.6 507.8h.8M89.9 464.8h.8M91.7 487.2h.8M89.7 509.9h.8M85.8 497.1h.8M83.3 486.6h.8M86.5 494.8h.8M88.5 488.0h.8M85.4 497.6h.8M96.3 489.3h.8M88.0 501.2h.8M93.3 486.8h.8M88.0 486.3h.8M90.7 481.8h.8M86.4 501.4h.8M88.0 483.4h.8M85.9 485.0h.8M91.9 507.7h.8M92.2 499.8h.8M94.6 484.4h.8M93.4 493.2h.8M80.8 479.9h.8M86.0 501.6h.8M92.0 481.5h.8M87.2 489.0h.8M82.3 496.4h.8M85.6 506.2h.8M88.0 475.7h.8M86.0 500.3h.8M84.4 499.9h.8M92.8 500.5h.8M88.6 487.2h.8M97.2 476.3h.8M79.9 496.0h.8M91.5 500.8h.8M86.3 500.9h.8M85.3 485.4h.8M87.8 505.9h.8M83.9 496.4h.8M87.4 494.6h.8M82.7 462.5h.8M84.3 500.0h.8M84.7 484.4h.8M89.8 482.8h.8M81.3 479.8h.8M88.9 501.0h.8M87.4 486.5h.8M87.9 506.9h.8M91.1 507.3h.8M92.8 500.1h.8M91.6 510.5h.8M85.4 509.9h.8M84.6 494.6h.8M83.9 483.4h.8M77.5 471.1h.8M82.7 498.9h.8M87.0 479.6h.8M83.8 482.6h.8M87.8 505.3h.8M93.0 502.2h.8M84.1 475.1h.8M92.4 494.4h.8M94.6 495.2h.8M84.6 507.5h.8M79.8 486.2h.8M86.3 498.5h.8M93.6 478.1h.8M91.3 494.9h.8M87.9 489.7h.8M90.4 489.5h.8M91.9 480.1h.8M87.9 486.3h.8M92.3 492.0h.8M89.0 503.1h.8M91.9 470.6h.8M90.3 490.8h.8M91.7 470.8h.8M85.8 485.4h.8M90.1 503.3h.8M88.3 486.4h.8M88.0 507.7h.8M80.3 494.2h.8M88.5 496.7h.8M94.9 498.0h.8M87.2 507.0h.8M84.4 484.5h.8M79.3 482.1h.8M93.8 494.3h.8M96.1 504.7h.8M80.9 482.2h.8M88.5 499.1h.8M96.0 489.3h.8M85.1 501.6h.8M89.9 502.2h.8M89.3 493.2h.8M87.8 480.6h.8M91.9 475.5h.8M82.5 485.9h.8M81.9 494.4h.8M86.5 487.3h.8M88.9 481.7h.8M84.0 507.5h.8M93.3 505.5h.8M87.7 500.3h.8M88.9 498.1h.8M90.8 484.4h.8M82.9 491.0h.8M83.3 491.5h.8M84.8 501.8h.8M99.5 493.1h.8M88.7 500.1h.8M81.4 482.1h.8M83.3 490.0h.8M87.7 494.0h.8M82.5 472.3h.8M92.0 496.8h.8M95.8 486.1h.8M88.1 495.8h.8M83.4 507.3h.8M82.1 490.6h.8M85.1 507.8h.8M87.4 469.4h.8M87.1 488.1h.8M90.4 503.4h.8M75.3 498.7h.8M86.5 503.6h.8M82.7 492.1h.8M86.5 493.4h.8M93.6 505.5h.8M86.0 462.3h.8M87.3 504.8h.8M93.6 484.3h.8M92.5 476.1h.8M87.0 493.4h.8M95.5 499.6h.8M83.5 501.7h.8M87.0 495.0h.8M91.2 491.4h.8M81.0 503.3h.8M91.2 499.4h.8M85.1 470.3h.8M86.8 501.3h.8M81.1 499.0h.8M85.6 504.9h.8M83.8 485.1h.8M86.6 494.3h.8M86.6 494.6h.8M87.0 505.4h.8M84.2 505.2h.8M94.3 507.4h.8M83.2 504.7h.8M87.0 484.7h.8M91.5 500.5h.8M88.1 477.2h.8M94.3 496.9h.8M77.7 479.5h.8M88.0 469.5h.8M78.7 488.6h.8M92.1 474.4h.8M86.9 502.8h.8M85.7 492.0h.8M87.3 497.1h.8M85.9 483.8h.8M86.6 486.9h.8M91.5 498.8h.8M88.5 505.6h.8M93.9 505.4h.8M81.2 488.6h.8M78.8 484.2h.8M88.5 485.6h.8M83.7 498.2h.8M88.5 500.5h.8M84.7 492.1h.8M90.1 505.7h.8M88.5 482.4h.8M83.1 493.9h.8M87.6 507.3h.8M86.2 497.9h.8M86.6 483.2h.8M85.0 488.4h.8M85.1 487.7h.8M94.8 506.1h.8M84.3 494.9h.8M83.1 499.3h.8M90.0 503.2h.8M91.4 489.5h.8M88.6 485.0h.8M88.7 496.9h.8M89.5 496.8h.8M82.8 501.6h.8M86.4 479.8h.8M86.6 504.2h.8M85.9 495.3h.8M85.7 492.0h.8M87.5 499.6h.8M63.8 499.2h.8M46.5 496.2h.8M62.7 495.6h.8M53.5 503.9h.8M67.3 492.3h.8M53.0 497.9h.8M49.3 491.8h.8M49.0 489.7h.8M68.9 493.8h.8M84.4 494.0h.8M77.1 508.7h.8M46.9 495.6h.8M45.6 497.8h.8M70.4 495.5h.8M54.5 500.4h.8M64.1 497.9h.8M83.2 491.7h.8M49.5 491.4h.8M34.6 492.0h.8M56.8 492.9h.8M57.2 506.6h.8M78.2 501.9h.8M62.8 493.3h.8M53.0 500.9h.8M43.9 506.3h.8M73.3 488.5h.8M39.5 482.4h.8M42.5 492.7h.8M76.3 498.3h.8M62.6 492.2h.8M69.9 499.4h.8M91.5 487.5h.8M83.7 505.0h.8M88.0 490.3h.8M62.5 505.5h.8M68.7 508.8h.8M61.5 505.3h.8M63.3 495.5h.8M81.3 498.6h.8M46.5 509.9h.8M32.9 497.0h.8M55.1 489.6h.8M55.5 507.8h.8M36.4 500.4h.8M71.8 503.6h.8M43.3 496.1h.8M60.7 509.7h.8M60.4 501.6h.8M35.4 497.3h.8M49.3 502.9h.8M75.2 494.2h.8M34.6 497.0h.8M77.3 485.4h.8M66.6 498.7h.8M55.6 496.3h.8M53.1 482.8h.8M52.8 486.9h.8M60.8 487.2h.8M55.8 488.4h.8M35.7 500.8h.8M39.9 496.5h.8M59.4 507.4h.8M73.8 500.8h.8M73.4 487.1h.8M52.1 496.2h.8M56.1 503.8h.8M49.2 493.2h.8M52.3 502.0h.8M45.6 491.2h.8M54.5 493.2h.8M40.6 493.8h.8M68.8 500.9h.8M68.8 505.0h.8M41.0 487.9h.8M52.7 503.4h.8M61.4 507.1h.8M68.8 504.0h.8M77.3 507.4h.8M69.9 502.0h.8M52.1 497.7h.8M42.2 486.7h.8M71.8 485.7h.8M73.7 498.1h.8M67.4 489.2h.8M43.7 503.6h.8M53.9 506.7h.8M61.4 502.4h.8M33.8 496.2h.8M45.0 495.6h.8M89.4 505.5h.8M43.3 487.3h.8M35.9 503.3h.8M37.1 509.5h.8M57.1 501.2h.8M54.0 489.3h.8M79.2 485.9h.8M99.1 496.6h.8M57.7 493.9h.8M34.8 503.6h.8M77.2 508.3h.8M63.4 500.6h.8M36.4 497.8h.8M40.8 500.0h.8M78.7 495.7h.8M65.7 496.9h.8M63.3 497.0h.8M66.7 506.0h.8M36.7 500.0h.8M63.9 499.3h.8M88.4 509.7h.8M65.0 499.5h.8M35.3 486.7h.8M59.7 506.5h.8M51.0 503.3h.8M48.9 503.3h.8M61.1 499.9h.8M79.0 502.1h.8M61.1 497.8h.8M41.6 498.6h.8M37.2 493.0h.8M80.2 497.8h.8M53.6 494.2h.8M43.5 507.7h.8M44.7 499.9h.8M41.5 495.8h.8M53.9 503.0h.8M76.3 490.9h.8M76.7 491.0h.8M34.0 503.0h.8M41.9 480.6h.8M68.5 493.9h.8M71.5 508.6h.8M60.3 492.9h.8M83.7 492.9h.8M72.0 493.2h.8M31.0 504.2h.8M88.4 485.1h.8M52.5 489.3h.8M67.5 482.2h.8M40.3 505.2h.8M46.2 496.0h.8M45.1 499.7h.8M73.0 491.1h.8M47.1 501.6h.8M81.3 506.9h.8M48.6 484.0h.8M53.8 501.4h.8M38.7 507.1h.8M44.1 505.5h.8M32.3 496.0h.8M64.2 502.4h.8M75.4 497.5h.8M35.7 493.8h.8M46.1 505.5h.8M65.6 488.1h.8M77.6 497.5h.8M69.9 490.1h.8M68.0 501.2h.8M69.5 496.4h.8M80.4 498.8h.8M50.3 508.3h.8M50.6 491.6h.8M66.7 484.3h.8M75.5 499.1h.8M66.1 503.5h.8M40.9 490.4h.8M73.1 499.8h.8M67.1 503.1h.8M41.9 492.3h.8M45.2 499.4h.8M54.2 510.3h.8M61.5 493.2h.8M62.1 500.7h.8M52.6 494.4h.8M59.4 491.6h.8M39.5 491.5h.8M43.2 482.1h.8M53.2 500.5h.8M58.3 482.5h.8M80.4 497.4h.8M66.0 485.4h.8M61.4 505.6h.8M62.0 490.7h.8M61.6 504.7h.8M68.9 491.4h.8M72.0 489.6h.8M64.4 506.2h.8M42.2 506.9h.8M79.9 509.3h.8M55.8 485.9h.8M52.9 510.0h.8M39.0 509.7h.8M73.4 497.2h.8M48.2 505.3h.8M36.3 501.3h.8M83.6 504.5h.8M34.1 504.8h.8M62.4 496.0h.8M55.3 481.6h.8M60.8 492.5h.8M85.9 499.9h.8M71.8 497.0h.8M82.5 492.9h.8M50.2 495.7h.8M47.4 496.7h.8M81.5 499.4h.8M72.9 507.5h.8M61.9 495.6h.8M76.2 509.4h.8M60.3 504.3h.8M67.6 501.0h.8M67.1 499.8h.8M65.2 488.6h.8M61.2 493.6h.8M60.9 492.2h.8M32.0 504.2h.8M58.4 506.1h.8M54.1 502.0h.8M45.6 499.5h.8M38.6 496.3h.8M66.8 496.5h.8M54.7 488.1h.8M50.2 490.0h.8M56.4 509.9h.8M96.4 504.1h.8M82.1 497.7h.8M38.4 490.1h.8M69.4 506.4h.8M90.7 510.2h.8M52.9 493.2h.8M68.8 508.2h.8M37.4 510.4h.8M57.9 492.0h.8M71.8 507.6h.8M37.0 503.8h.8M60.1 506.3h.8M75.2 502.4h.8M44.2 500.8h.8M62.8 501.6h.8M52.7 506.7h.8M64.3 504.8h.8M54.6 506.3h.8M51.3 488.3h.8M33.9 500.8h.8M49.7 502.7h.8M53.0 501.9h.8M55.8 498.0h.8M43.6 494.1h.8M86.4 485.1h.8M42.2 509.7h.8M97.4 508.5h.8M47.8 485.9h.8M67.8 495.1h.8M74.6 505.2h.8M73.0 494.4h.8M66.7 495.2h.8M51.4 502.1h.8M51.2 500.1h.8M79.0 503.4h.8M61.9 509.9h.8M85.3 484.8h.8M71.1 506.3h.8M36.2 499.7h.8M66.1 500.1h.8M36.0 501.2h.8M80.4 508.2h.8M78.5 491.7h.8M60.1 498.3h.8M38.9 492.2h.8M80.0 487.8h.8M55.8 502.5h.8M73.1 487.9h.8M58.0 488.0h.8M72.5 494.4h.8M56.7 493.3h.8M84.2 487.4h.8M66.4 498.4h.8M39.6 499.0h.8" stroke="#000" stroke-opacity="0.34" stroke-width="0.8" fill="none" filter="url(#bd)"/>
<rect x="30" y="446.2" width="71.00" height="64.80" fill="none" stroke="#5c5c5c" stroke-width="0.9"/>
<line x1="76.2" y1="446.2" x2="76.2" y2="511" stroke="#747474" stroke-width="0.7" />
<line x1="30" y1="483.1" x2="101" y2="483.1" stroke="#747474" stroke-width="0.7" />
<text transform="translate(25.8,518.3) scale(0.86,1)" font-family='"Liberation Sans", sans-serif' font-size="6.7" fill="#3a3a3a">10<tspan dy="-2.7" font-size="4.8">0</tspan></text>
<text transform="translate(26.8,515.9) rotate(-90) scale(0.86,1)" font-family='"Liberation Sans", sans-serif' font-size="6.7" fill="#3a3a3a">10<tspan dy="-2.7" font-size="4.8">0</tspan></text>
<line x1="30.0" y1="511" x2="30.0" y2="512.6" stroke="#444" stroke-width="0.6" />
<line x1="28.4" y1="511.0" x2="30" y2="511.0" stroke="#444" stroke-width="0.6" />
<text transform="translate(43.5,518.3) scale(0.86,1)" font-family='"Liberation Sans", sans-serif' font-size="6.7" fill="#3a3a3a">10<tspan dy="-2.7" font-size="4.8">1</tspan></text>
<text transform="translate(26.8,499.7) rotate(-90) scale(0.86,1)" font-family='"Liberation Sans", sans-serif' font-size="6.7" fill="#3a3a3a">10<tspan dy="-2.7" font-size="4.8">1</tspan></text>
<line x1="47.75" y1="511" x2="47.75" y2="512.6" stroke="#444" stroke-width="0.6" />
<line x1="28.4" y1="494.8" x2="30" y2="494.8" stroke="#444" stroke-width="0.6" />
<text transform="translate(61.3,518.3) scale(0.86,1)" font-family='"Liberation Sans", sans-serif' font-size="6.7" fill="#3a3a3a">10<tspan dy="-2.7" font-size="4.8">2</tspan></text>
<text transform="translate(26.8,483.5) rotate(-90) scale(0.86,1)" font-family='"Liberation Sans", sans-serif' font-size="6.7" fill="#3a3a3a">10<tspan dy="-2.7" font-size="4.8">2</tspan></text>
<line x1="65.5" y1="511" x2="65.5" y2="512.6" stroke="#444" stroke-width="0.6" />
<line x1="28.4" y1="478.6" x2="30" y2="478.6" stroke="#444" stroke-width="0.6" />
<text transform="translate(79.0,518.3) scale(0.86,1)" font-family='"Liberation Sans", sans-serif' font-size="6.7" fill="#3a3a3a">10<tspan dy="-2.7" font-size="4.8">3</tspan></text>
<text transform="translate(26.8,467.3) rotate(-90) scale(0.86,1)" font-family='"Liberation Sans", sans-serif' font-size="6.7" fill="#3a3a3a">10<tspan dy="-2.7" font-size="4.8">3</tspan></text>
<line x1="83.25" y1="511" x2="83.25" y2="512.6" stroke="#444" stroke-width="0.6" />
<line x1="28.4" y1="462.4" x2="30" y2="462.4" stroke="#444" stroke-width="0.6" />
<text transform="translate(96.8,518.3) scale(0.86,1)" font-family='"Liberation Sans", sans-serif' font-size="6.7" fill="#3a3a3a">10<tspan dy="-2.7" font-size="4.8">4</tspan></text>
<text transform="translate(26.8,451.1) rotate(-90) scale(0.86,1)" font-family='"Liberation Sans", sans-serif' font-size="6.7" fill="#3a3a3a">10<tspan dy="-2.7" font-size="4.8">4</tspan></text>
<line x1="101.0" y1="511" x2="101.0" y2="512.6" stroke="#444" stroke-width="0.6" />
<line x1="28.4" y1="446.2" x2="30" y2="446.2" stroke="#444" stroke-width="0.6" />
<text transform="translate(35.20,455.06) scale(1.029,1)" font-family='"Liberation Serif", serif' font-size="9.41" font-weight="normal" fill="#000">73 %</text>
<text transform="translate(78.50,455.06) scale(1.029,1)" font-family='"Liberation Serif", serif' font-size="9.41" font-weight="normal" fill="#000">27 %</text>
<path d="M175.7 494.0h.8M161.4 502.8h.8M166.3 484.2h.8M161.0 490.2h.8M184.7 506.3h.8M180.2 492.7h.8M205.4 485.5h.8M151.8 507.4h.8M202.4 499.3h.8M195.0 498.2h.8M184.3 499.7h.8M174.3 484.1h.8M198.0 503.8h.8M176.2 488.1h.8M190.6 486.5h.8M208.1 504.3h.8M213.1 503.3h.8M217.4 489.1h.8M180.3 506.9h.8M150.4 489.7h.8M178.8 484.7h.8M178.1 498.2h.8M207.9 497.2h.8M151.6 488.5h.8M172.6 509.5h.8M210.5 494.5h.8M203.5 495.1h.8M160.2 498.1h.8M173.6 500.4h.8M197.1 483.9h.8M163.5 489.5h.8M195.2 498.1h.8M169.4 507.1h.8M159.4 494.9h.8M153.3 501.8h.8M202.0 486.8h.8M180.6 505.5h.8M156.8 504.2h.8M165.7 497.6h.8M170.9 506.3h.8M176.8 483.4h.8M183.1 502.1h.8M185.6 486.0h.8M183.9 504.1h.8M177.9 488.9h.8M180.8 501.4h.8M180.3 508.4h.8M191.1 500.0h.8M174.4 495.0h.8M151.4 499.9h.8M207.4 491.2h.8M184.4 493.3h.8M214.5 482.9h.8M185.8 491.3h.8M167.8 490.0h.8M181.3 507.9h.8M159.2 497.6h.8M152.6 507.2h.8M161.0 483.7h.8M167.6 498.2h.8M193.5 506.5h.8M151.4 501.1h.8M186.5 508.9h.8M195.3 499.4h.8M204.8 497.5h.8M177.0 484.4h.8M179.1 493.4h.8M152.4 507.4h.8M189.3 506.8h.8M183.7 488.0h.8M205.4 499.9h.8M170.3 499.0h.8M198.8 488.2h.8M195.7 508.1h.8M184.7 508.5h.8M208.2 505.9h.8M171.0 486.4h.8M198.2 510.5h.8M209.5 500.1h.8M181.8 504.1h.8M150.1 494.6h.8M166.7 490.2h.8M218.1 506.2h.8M198.0 503.0h.8M218.0 504.0h.8M188.2 486.1h.8M208.8 489.5h.8M217.9 482.1h.8M189.3 509.5h.8M205.0 495.9h.8M216.4 488.4h.8M193.2 486.1h.8M150.1 486.3h.8M188.5 496.5h.8M155.9 496.7h.8M192.1 482.4h.8M180.9 488.1h.8M208.3 485.9h.8M158.0 498.6h.8M193.5 500.9h.8M201.2 510.1h.8M216.3 499.9h.8M191.0 485.6h.8M191.8 483.2h.8M211.1 482.2h.8M203.8 485.1h.8M171.7 509.1h.8M151.9 507.1h.8M209.7 504.4h.8M174.2 500.7h.8M203.5 490.0h.8M150.9 491.7h.8M197.1 499.0h.8M215.2 492.4h.8M205.6 498.4h.8M217.2 487.2h.8M197.0 482.7h.8M160.2 501.5h.8M174.2 501.8h.8M193.7 491.8h.8M161.8 488.3h.8M159.6 494.7h.8M171.5 489.5h.8M168.0 490.9h.8M155.0 495.9h.8M193.0 497.1h.8M195.8 486.0h.8M196.5 495.1h.8M214.9 495.1h.8M202.9 494.1h.8M168.0 492.1h.8M175.1 492.7h.8M196.8 499.3h.8M154.7 503.9h.8M181.1 509.6h.8M192.3 491.4h.8M173.4 497.7h.8M176.8 483.3h.8M204.4 501.5h.8M175.4 483.5h.8M188.7 507.2h.8M218.1 506.5h.8M214.3 484.1h.8M179.5 502.0h.8M170.9 503.4h.8M200.1 486.5h.8M189.1 502.2h.8M215.9 483.3h.8M158.3 487.0h.8M166.7 484.9h.8M177.8 504.1h.8M181.5 492.6h.8M191.8 509.4h.8M182.7 510.4h.8M200.4 482.7h.8M170.6 496.6h.8M174.8 482.4h.8M159.4 497.4h.8M175.9 499.1h.8M166.6 490.3h.8M206.6 504.4h.8M178.2 497.3h.8M154.0 505.5h.8M155.8 491.4h.8M188.0 509.9h.8M157.4 481.9h.8M217.4 500.3h.8M198.6 504.9h.8M182.7 481.7h.8M198.1 481.4h.8M185.2 502.4h.8M212.4 485.4h.8M213.9 499.5h.8M169.7 496.5h.8M218.1 497.9h.8M202.9 486.2h.8M183.4 482.4h.8M192.6 504.0h.8M163.8 489.7h.8M170.6 500.2h.8M153.6 508.9h.8M204.5 505.3h.8M178.3 508.0h.8M150.8 493.9h.8M201.1 500.0h.8M211.5 497.3h.8M166.4 508.8h.8M177.6 487.6h.8M160.8 501.3h.8M156.8 498.4h.8M202.0 505.4h.8M150.0 510.5h.8M206.7 492.0h.8M192.4 492.0h.8M196.1 499.5h.8M154.9 488.5h.8M183.3 506.1h.8M159.5 496.3h.8M178.0 487.4h.8M183.4 499.8h.8M191.6 502.3h.8M199.5 483.1h.8M151.4 491.1h.8M197.2 498.5h.8M208.3 493.8h.8M204.1 503.0h.8M174.5 480.9h.8M199.5 495.9h.8M151.3 509.4h.8M175.3 508.3h.8M182.1 505.0h.8M196.0 488.8h.8M200.7 490.9h.8M159.8 496.9h.8M185.3 495.1h.8M196.1 490.0h.8M160.9 494.4h.8M205.6 495.5h.8M207.3 488.3h.8M166.4 486.0h.8M181.6 502.7h.8M205.6 491.6h.8M213.2 481.5h.8M210.1 483.2h.8M195.6 494.9h.8M181.0 491.2h.8M198.6 496.4h.8M155.6 484.0h.8M189.0 501.8h.8M194.5 490.8h.8M198.4 506.9h.8M196.2 501.4h.8M172.0 508.7h.8M176.9 500.3h.8M157.3 495.1h.8M189.5 506.0h.8M193.3 489.0h.8M154.8 485.9h.8M210.6 493.9h.8M185.4 488.3h.8M197.3 487.2h.8M199.4 502.2h.8M179.0 503.6h.8M173.3 487.5h.8M190.2 503.8h.8M174.6 507.5h.8M159.6 500.1h.8M176.0 510.3h.8M185.4 504.1h.8M196.8 505.4h.8M173.5 507.4h.8M153.9 493.1h.8M198.0 491.6h.8M164.8 494.4h.8M163.6 490.0h.8M180.0 481.4h.8M151.4 482.1h.8M185.0 507.5h.8M164.7 506.5h.8M157.8 493.7h.8M198.9 501.9h.8M154.9 484.4h.8M197.7 500.6h.8M195.3 498.2h.8M157.9 484.4h.8M192.7 504.4h.8M173.4 485.5h.8M186.4 497.8h.8M186.6 483.8h.8M154.8 487.8h.8M163.6 494.8h.8M218.2 507.6h.8M188.8 488.9h.8M170.7 482.5h.8M152.5 494.4h.8M171.9 486.8h.8M153.2 508.2h.8M163.8 507.1h.8M154.5 496.5h.8M172.4 491.0h.8M151.2 507.3h.8M206.7 497.7h.8M178.1 480.8h.8M156.8 482.1h.8M160.6 496.1h.8M151.5 483.4h.8M183.8 499.7h.8M201.1 500.9h.8M179.3 500.2h.8M213.0 507.1h.8M216.7 494.2h.8M174.7 501.5h.8M202.5 501.5h.8M166.1 488.6h.8M208.6 502.7h.8M166.9 490.2h.8M218.7 494.0h.8M212.5 501.3h.8M157.1 502.7h.8M181.2 494.0h.8M198.4 496.5h.8M186.6 493.6h.8M212.7 489.0h.8M159.8 509.7h.8M186.4 500.3h.8M210.6 491.8h.8M202.0 492.6h.8M174.6 498.4h.8M167.3 497.4h.8M179.3 497.8h.8M171.6 501.6h.8M150.1 488.1h.8M218.4 483.2h.8M182.5 488.9h.8M196.5 502.1h.8M153.5 491.3h.8M183.8 486.8h.8M210.1 505.6h.8M168.8 507.2h.8M205.6 505.7h.8M208.1 486.9h.8M194.5 486.8h.8M183.5 497.5h.8M151.3 505.8h.8M200.4 494.8h.8M165.0 504.3h.8M203.1 491.8h.8M149.9 510.3h.8M199.9 510.1h.8M213.5 493.8h.8M159.5 505.7h.8M172.6 500.6h.8M211.2 482.8h.8M192.9 481.5h.8M150.7 491.5h.8M200.0 491.4h.8M153.6 509.0h.8M186.8 500.6h.8M188.1 490.7h.8M182.8 493.8h.8M185.5 499.7h.8M160.1 508.0h.8M185.9 499.5h.8M197.4 505.5h.8M175.1 495.8h.8M192.3 491.0h.8M158.8 492.0h.8M170.1 509.3h.8M156.2 507.9h.8M202.7 503.8h.8M166.2 491.8h.8M206.1 498.7h.8M201.1 481.7h.8M159.0 495.4h.8M163.0 495.5h.8M196.4 505.2h.8M169.1 481.0h.8M205.3 490.8h.8M203.4 507.7h.8M215.3 508.7h.8M174.2 504.9h.8M195.4 510.0h.8M159.4 483.7h.8M201.3 499.8h.8M185.7 497.5h.8M151.4 507.1h.8M206.5 496.7h.8M150.5 492.7h.8M155.3 492.0h.8M165.7 500.8h.8M204.0 490.5h.8M202.0 506.2h.8M187.0 502.5h.8M192.5 502.4h.8M166.5 508.1h.8M178.6 505.1h.8M189.9 486.7h.8M197.0 504.4h.8M200.8 498.5h.8M167.5 498.6h.8M196.7 497.6h.8M166.5 482.2h.8M155.9 488.2h.8M216.1 509.3h.8M199.2 494.5h.8M189.7 498.6h.8M212.8 504.9h.8M191.1 500.4h.8M181.8 499.7h.8M168.6 490.5h.8M178.2 510.5h.8M178.7 496.0h.8M156.6 486.2h.8M164.0 488.8h.8M168.4 509.1h.8M216.4 508.4h.8M187.9 503.2h.8M209.7 496.2h.8M216.5 503.3h.8M211.0 487.7h.8M181.4 503.2h.8M205.9 492.5h.8M199.9 491.6h.8M217.3 499.6h.8M173.1 494.1h.8M215.7 482.4h.8M188.2 492.1h.8M205.4 508.7h.8M163.1 498.1h.8M210.8 460.8h.8M209.2 493.7h.8M210.2 509.5h.8M201.6 475.4h.8M216.2 490.0h.8M212.7 481.0h.8M216.2 463.2h.8M212.9 491.6h.8M212.7 503.0h.8M200.4 455.3h.8M215.1 462.5h.8M202.9 462.5h.8M207.0 480.2h.8M213.3 503.6h.8M203.7 499.2h.8M207.4 480.9h.8M209.8 456.9h.8M209.9 476.6h.8M208.1 486.3h.8M202.0 460.1h.8M218.6 459.4h.8M216.7 486.4h.8M216.1 471.8h.8M216.6 476.6h.8M209.0 485.9h.8M209.0 449.1h.8M202.2 505.2h.8M211.6 462.6h.8M213.7 458.3h.8M205.2 489.6h.8M207.2 498.9h.8M204.0 502.2h.8M201.2 466.4h.8M210.3 495.3h.8M218.3 479.6h.8M200.3 477.3h.8M205.1 479.3h.8M216.3 459.4h.8M215.0 473.6h.8M211.0 504.2h.8M217.7 493.3h.8M215.7 486.1h.8M203.1 505.6h.8M212.3 492.5h.8M205.6 485.0h.8M203.7 480.4h.8M215.6 449.9h.8M213.3 455.0h.8M213.1 456.4h.8M213.1 495.2h.8M213.9 481.3h.8M199.4 449.8h.8M199.3 507.4h.8M210.7 472.8h.8M204.1 449.3h.8M210.0 506.8h.8M214.9 477.3h.8M202.8 499.4h.8M212.4 457.8h.8M214.3 480.7h.8M206.2 454.8h.8M215.6 470.0h.8M208.2 508.4h.8M217.9 479.1h.8M201.5 481.7h.8M199.4 449.4h.8M210.5 453.4h.8M207.3 509.6h.8M204.0 460.0h.8M208.2 473.3h.8M211.8 460.3h.8M206.0 462.5h.8M217.1 469.6h.8M217.2 504.1h.8M205.6 506.1h.8M205.1 509.0h.8M200.4 498.0h.8M202.4 455.4h.8M208.8 508.1h.8M200.7 460.0h.8M212.5 484.8h.8M204.4 499.9h.8M202.7 462.4h.8M210.4 476.9h.8M217.5 476.7h.8M203.7 451.5h.8M217.0 460.5h.8M214.2 487.2h.8M216.7 460.9h.8M200.4 462.0h.8M203.8 468.0h.8M214.5 470.9h.8M210.7 498.8h.8M206.4 485.3h.8M207.5 497.5h.8M218.4 506.2h.8M207.4 467.2h.8M209.1 469.8h.8M217.7 489.7h.8M208.1 456.3h.8M213.9 458.3h.8M210.4 477.9h.8M211.7 493.6h.8M199.5 488.0h.8M202.9 498.6h.8M214.9 503.3h.8M217.5 473.8h.8M217.3 494.5h.8M215.0 501.2h.8M212.7 450.9h.8M209.9 462.0h.8M209.6 460.4h.8M207.2 449.0h.8M208.1 483.4h.8M208.2 495.6h.8M215.8 447.8h.8M206.0 478.0h.8M216.2 492.1h.8M213.4 452.1h.8M210.2 469.1h.8M217.9 457.5h.8M201.3 501.3h.8M209.6 463.1h.8M205.7 458.2h.8M211.6 495.1h.8M206.9 505.7h.8M210.0 492.0h.8M210.1 448.0h.8M218.7 490.1h.8M205.1 491.6h.8M203.3 488.8h.8M215.2 489.5h.8M215.3 474.0h.8M213.4 507.3h.8M216.3 448.1h.8M208.8 505.2h.8M207.6 503.6h.8M216.3 449.4h.8M201.9 458.8h.8M216.5 493.8h.8M205.5 458.9h.8M210.1 483.2h.8M214.3 463.0h.8M205.8 472.6h.8M217.6 468.7h.8M202.3 509.6h.8M210.2 475.9h.8M207.3 462.9h.8M210.2 447.9h.8M210.9 475.7h.8" stroke="#000" stroke-opacity="0.24" stroke-width="0.8" fill="none" filter="url(#bd)"/>
<path d="M151.3 465.9h.8M152.3 467.8h.8M163.1 468.0h.8M168.5 464.4h.8M169.0 465.7h.8M169.5 466.5h.8M178.9 466.1h.8M184.6 466.2h.8M164.6 467.8h.8M153.4 464.9h.8M156.8 465.8h.8M172.7 465.2h.8M166.0 464.6h.8M173.3 462.7h.8M155.0 467.6h.8M166.6 465.5h.8M167.7 464.2h.8M176.7 465.6h.8M161.0 465.2h.8M177.3 466.3h.8M154.5 465.3h.8M163.8 466.2h.8M186.5 464.8h.8M152.4 466.4h.8M162.6 463.0h.8M163.8 465.0h.8M171.9 465.9h.8M156.6 464.2h.8M159.8 464.5h.8M168.6 468.7h.8M153.2 463.2h.8M163.3 465.2h.8M154.0 468.6h.8M164.2 464.9h.8M177.3 465.5h.8M184.0 469.4h.8M161.1 463.3h.8M184.8 459.9h.8M165.7 466.0h.8M151.5 465.8h.8M151.2 463.3h.8M155.0 464.4h.8M184.8 464.9h.8M158.9 462.4h.8M177.2 462.3h.8M186.5 465.5h.8M168.6 466.0h.8M181.2 464.7h.8M163.1 466.4h.8M152.8 466.1h.8M162.0 469.1h.8M151.2 465.3h.8M159.2 464.3h.8M167.4 465.0h.8M157.1 465.8h.8M151.3 465.5h.8M175.5 467.7h.8M152.9 465.6h.8M149.7 464.1h.8M165.2 465.2h.8M163.6 466.5h.8M162.0 466.3h.8M172.2 465.0h.8M156.1 464.5h.8M177.6 467.9h.8M171.0 465.1h.8M161.7 469.9h.8M175.3 467.9h.8M150.8 466.1h.8M169.6 468.4h.8M158.9 467.4h.8M160.3 465.3h.8M186.6 465.9h.8M151.0 467.2h.8M160.2 465.2h.8M159.8 463.9h.8M169.6 468.4h.8M171.9 464.4h.8M170.8 466.2h.8M177.4 465.6h.8M151.9 465.9h.8M167.9 467.3h.8M179.0 463.9h.8M163.5 464.8h.8M174.0 465.3h.8M164.3 463.7h.8M169.8 463.6h.8M159.2 463.9h.8M155.1 462.1h.8M175.1 467.8h.8M161.5 462.4h.8M167.8 461.4h.8M173.3 466.8h.8M175.3 466.6h.8M180.2 465.0h.8M165.2 463.2h.8M152.5 466.9h.8M178.9 464.6h.8M180.5 468.2h.8M174.0 464.5h.8M179.0 466.7h.8M168.4 465.1h.8M186.8 463.9h.8M153.3 462.3h.8M169.2 465.3h.8M154.3 465.4h.8M162.4 466.9h.8M181.8 465.5h.8M184.7 464.3h.8M157.0 464.0h.8M171.1 465.2h.8M189.9 463.3h.8M157.7 467.6h.8M174.5 463.2h.8M154.7 465.0h.8M165.2 466.2h.8M176.6 466.8h.8M178.2 461.7h.8M162.0 466.0h.8M166.1 462.1h.8M152.0 466.0h.8M168.7 465.1h.8M176.6 466.2h.8M168.1 467.5h.8M173.4 465.9h.8M164.4 463.4h.8M176.6 466.2h.8M164.8 463.5h.8M185.0 463.2h.8M183.6 466.9h.8M160.7 465.4h.8M163.2 464.2h.8M176.3 467.3h.8M154.7 468.7h.8M163.8 464.0h.8M166.0 467.9h.8M174.2 466.2h.8M165.5 465.5h.8M187.5 464.3h.8M165.9 467.7h.8M159.8 462.6h.8M161.3 465.5h.8M170.9 465.6h.8M165.9 461.4h.8M160.8 466.7h.8M176.8 462.8h.8M152.6 463.3h.8M172.4 470.2h.8M153.1 465.6h.8M167.2 466.0h.8M175.0 465.7h.8M163.4 465.4h.8M151.5 464.0h.8M170.5 466.6h.8M172.9 465.5h.8M168.3 465.2h.8M156.6 465.8h.8M163.3 463.2h.8M174.1 463.4h.8M159.8 463.6h.8M164.1 465.0h.8M162.9 465.3h.8M169.6 463.3h.8M152.5 465.9h.8M168.2 464.4h.8M174.2 468.3h.8M171.9 463.6h.8M158.3 465.7h.8M183.3 467.6h.8M158.5 464.2h.8M160.0 464.3h.8M189.6 465.7h.8M178.1 465.4h.8M165.7 466.0h.8M175.7 464.9h.8M162.5 461.6h.8M177.7 463.2h.8M156.5 463.6h.8M179.6 465.6h.8M162.9 466.6h.8M166.6 467.1h.8M162.0 464.5h.8M156.6 463.4h.8M172.7 463.9h.8M190.9 463.6h.8M170.4 465.5h.8M187.5 461.3h.8M182.9 463.8h.8M161.0 467.2h.8M164.4 466.6h.8M164.9 465.7h.8M158.8 464.5h.8M161.4 464.9h.8M165.3 464.4h.8M182.8 463.1h.8M152.7 464.3h.8M161.2 463.9h.8M164.1 465.4h.8M174.3 464.7h.8M175.8 465.2h.8M181.6 465.6h.8M168.6 465.8h.8M160.3 467.5h.8M163.0 463.2h.8M166.4 463.6h.8M181.8 465.2h.8M159.8 465.3h.8M158.6 468.1h.8M180.2 464.0h.8M156.4 466.3h.8M165.7 465.7h.8M157.7 467.3h.8M157.7 465.3h.8M160.4 465.7h.8M167.5 464.2h.8M180.5 462.8h.8M176.1 462.3h.8M182.2 463.9h.8M174.4 463.1h.8M173.3 465.1h.8M169.0 465.7h.8M162.7 466.9h.8M192.8 464.7h.8M168.9 465.7h.8M167.6 461.2h.8M152.4 466.6h.8M168.5 464.0h.8M164.2 464.0h.8M166.9 463.9h.8M158.6 467.0h.8M189.7 464.8h.8M188.8 466.1h.8M162.6 466.2h.8M191.1 464.0h.8M182.6 464.1h.8M155.3 465.4h.8M174.9 463.4h.8M155.0 468.8h.8M178.9 462.9h.8M167.9 466.6h.8M168.8 464.4h.8M166.2 466.2h.8M180.4 465.0h.8M171.0 465.5h.8M185.9 462.1h.8M165.3 464.9h.8M182.5 466.2h.8M174.4 463.9h.8M160.2 468.7h.8M157.6 470.4h.8M171.9 466.3h.8M162.1 466.3h.8M167.6 468.9h.8M152.0 466.5h.8M155.8 468.0h.8M167.2 465.8h.8M154.0 466.1h.8M164.3 465.7h.8M160.6 467.7h.8M171.0 465.5h.8M174.5 465.9h.8M156.4 466.0h.8M173.6 465.0h.8M178.0 465.6h.8M160.7 463.7h.8M150.1 463.3h.8M180.2 465.0h.8M184.3 468.2h.8M169.4 463.1h.8M164.3 466.2h.8M156.7 464.4h.8M154.2 466.1h.8M165.6 466.9h.8M165.9 465.7h.8M163.6 465.2h.8M159.0 466.8h.8M169.2 462.8h.8M161.8 465.2h.8M178.8 466.1h.8M163.8 462.8h.8M164.7 464.7h.8M174.2 465.0h.8M157.2 467.4h.8M185.0 469.6h.8M169.4 465.8h.8M167.9 466.5h.8M183.2 464.7h.8M186.6 463.8h.8M160.5 464.4h.8M186.2 463.4h.8M173.7 466.4h.8M163.4 463.8h.8M177.9 462.9h.8M177.7 465.6h.8M162.0 465.1h.8M157.9 463.2h.8M165.5 465.8h.8M166.3 466.2h.8M168.1 464.8h.8M158.0 469.5h.8M155.0 463.4h.8M163.2 466.8h.8M151.5 462.5h.8M172.2 464.0h.8M169.4 465.0h.8M159.4 464.0h.8M178.0 466.2h.8M185.7 468.3h.8M162.0 465.2h.8M188.9 466.5h.8M152.1 464.6h.8M153.8 462.4h.8M162.3 467.4h.8M180.0 466.4h.8M171.9 464.4h.8M173.4 466.9h.8M167.0 466.3h.8M176.8 466.0h.8M162.9 465.7h.8M156.5 464.5h.8M157.3 467.2h.8M161.1 466.0h.8M179.9 466.6h.8M163.8 468.2h.8M163.7 465.2h.8M172.6 466.3h.8M163.8 465.1h.8M177.4 466.1h.8M172.0 466.4h.8M155.3 465.2h.8M166.0 467.9h.8M155.7 465.7h.8M181.6 465.4h.8M153.0 464.9h.8M155.9 464.6h.8M160.3 465.4h.8M171.9 466.6h.8M153.1 467.0h.8M178.4 463.2h.8M179.9 467.0h.8M170.2 467.1h.8M165.6 463.8h.8M170.0 463.0h.8M186.4 469.5h.8M165.2 466.5h.8M172.4 464.6h.8M177.7 466.4h.8M167.9 466.2h.8M163.6 465.5h.8M168.7 464.4h.8M178.3 464.8h.8M167.1 465.0h.8M159.9 465.3h.8M163.5 465.1h.8M166.7 463.7h.8M177.6 463.5h.8M164.2 466.7h.8M168.2 467.2h.8M170.9 465.2h.8M157.8 463.2h.8M189.8 466.3h.8M169.1 465.8h.8M168.2 467.1h.8M180.0 463.4h.8M168.9 464.9h.8M167.6 467.9h.8M162.5 463.9h.8M164.3 465.8h.8M183.5 466.0h.8M170.9 467.4h.8M181.0 463.1h.8M179.8 465.4h.8M169.8 464.2h.8M158.9 464.4h.8M181.1 465.9h.8M184.3 465.4h.8M181.0 464.1h.8M169.3 467.1h.8M186.7 464.2h.8M153.2 465.6h.8M172.3 467.1h.8M156.6 464.0h.8M154.5 464.3h.8M168.1 464.1h.8M170.4 467.5h.8M170.0 464.6h.8M169.6 465.0h.8M166.3 468.8h.8M169.1 466.2h.8M175.0 467.9h.8M154.8 466.7h.8M151.3 461.9h.8M171.5 469.1h.8M182.1 468.3h.8M185.8 467.0h.8M149.7 465.7h.8M163.6 466.7h.8M177.4 463.8h.8M154.9 466.6h.8M152.1 465.8h.8M162.9 465.7h.8M169.1 465.5h.8M158.0 464.6h.8M174.6 463.2h.8M172.0 468.2h.8M177.4 467.4h.8M174.3 464.2h.8M167.6 465.4h.8M164.6 467.8h.8M150.3 466.0h.8M171.0 467.5h.8M164.3 466.1h.8M165.4 465.9h.8M158.6 463.6h.8M160.9 465.8h.8M174.1 467.0h.8M172.2 465.0h.8M153.3 467.5h.8M181.3 466.3h.8M169.3 464.8h.8M177.8 465.5h.8M168.0 467.3h.8M173.7 465.2h.8M165.7 466.0h.8M168.2 466.7h.8M157.1 465.6h.8M151.6 463.8h.8M154.0 465.1h.8M179.1 464.5h.8M166.6 464.1h.8M160.5 467.4h.8M163.8 469.7h.8M178.5 466.6h.8M182.9 464.5h.8M163.0 464.9h.8M163.6 463.0h.8M170.7 465.3h.8M165.9 464.4h.8M169.4 466.3h.8M184.6 462.2h.8M174.2 463.7h.8M169.3 463.9h.8M183.3 466.6h.8M164.5 465.8h.8M165.4 464.6h.8M150.6 464.6h.8M184.9 464.7h.8M161.4 466.6h.8M161.7 462.4h.8M158.9 464.7h.8M167.3 465.2h.8M179.5 467.9h.8M171.7 463.7h.8M170.1 465.3h.8M156.0 468.7h.8M157.5 466.7h.8M165.1 464.3h.8M176.1 466.6h.8M175.1 467.5h.8M177.3 467.1h.8M168.8 466.1h.8M178.5 468.4h.8M159.4 467.6h.8M176.2 462.8h.8M162.7 466.2h.8M164.2 465.9h.8M177.7 464.1h.8M187.9 464.6h.8M150.3 463.9h.8M175.7 465.1h.8M174.7 465.9h.8M159.2 466.2h.8M178.0 466.1h.8M175.1 466.3h.8M175.8 466.7h.8M179.3 462.6h.8M155.8 463.0h.8M167.1 466.8h.8M153.4 465.4h.8M163.0 465.3h.8M181.2 464.1h.8M173.3 467.5h.8M159.3 461.9h.8M173.1 464.7h.8M171.0 464.0h.8M183.6 463.0h.8M155.0 469.3h.8M170.0 466.2h.8M157.9 465.5h.8M160.6 466.3h.8M158.3 468.5h.8M162.6 464.1h.8M157.4 467.5h.8M185.9 465.6h.8M155.6 465.2h.8M167.2 463.0h.8M163.9 464.5h.8M157.6 465.2h.8M163.2 464.7h.8M187.9 468.0h.8M154.7 463.8h.8M174.8 465.2h.8M177.3 463.9h.8M169.7 465.0h.8M159.5 462.9h.8M164.4 465.1h.8M157.3 470.4h.8M153.5 462.5h.8M167.6 464.9h.8M170.9 465.2h.8M168.1 467.0h.8M169.2 463.1h.8M173.7 464.0h.8M165.9 467.1h.8M169.3 465.0h.8M157.1 464.2h.8M169.7 463.1h.8M181.7 469.1h.8M162.0 465.7h.8M176.2 466.3h.8M161.7 463.5h.8M167.4 467.5h.8M178.0 467.2h.8M170.9 464.1h.8M157.4 465.0h.8M172.8 466.4h.8M159.3 461.8h.8M157.4 463.7h.8M161.5 464.8h.8M165.8 465.9h.8M177.4 468.4h.8M149.9 465.5h.8M190.5 463.6h.8M162.8 466.8h.8M170.2 466.8h.8M183.7 465.5h.8M164.1 464.8h.8M168.3 466.3h.8M179.5 462.4h.8M181.7 463.9h.8M172.0 465.9h.8M171.0 463.6h.8M158.8 464.9h.8M176.7 466.5h.8M171.1 466.7h.8M163.2 466.3h.8M167.1 463.7h.8M168.4 467.0h.8M158.9 466.2h.8M168.3 461.0h.8M166.0 465.3h.8M157.9 463.6h.8M156.1 462.5h.8M158.3 466.8h.8M181.7 468.7h.8M165.3 461.7h.8M150.9 466.4h.8M176.1 468.3h.8M175.4 467.7h.8M172.8 464.7h.8M160.6 464.9h.8M178.8 465.3h.8M175.5 467.8h.8M164.3 468.2h.8M158.3 462.9h.8M163.7 465.0h.8M152.4 463.1h.8M185.1 466.3h.8M164.7 462.4h.8M156.3 465.9h.8M166.0 466.7h.8M159.8 465.3h.8M166.1 461.3h.8M173.0 464.0h.8M159.4 465.2h.8M169.5 464.9h.8M188.3 463.9h.8M175.0 464.2h.8M156.5 468.1h.8M188.7 465.0h.8M172.1 464.9h.8M177.8 467.0h.8M170.2 463.5h.8M160.6 463.9h.8M162.7 463.4h.8M169.0 466.1h.8M172.2 464.5h.8M152.8 466.1h.8M175.6 463.8h.8M169.3 465.0h.8M167.9 464.9h.8M155.4 465.7h.8M161.3 464.9h.8M161.6 463.0h.8M152.7 464.7h.8M161.3 464.5h.8M159.3 464.9h.8M149.5 465.1h.8M159.5 468.2h.8M165.7 463.5h.8M171.7 468.1h.8M161.2 463.1h.8M167.9 465.9h.8M167.2 464.0h.8M170.4 465.4h.8M181.0 465.6h.8M173.8 468.2h.8M169.1 465.3h.8M180.6 463.9h.8M166.7 465.4h.8M157.0 464.9h.8M159.7 467.7h.8M162.1 465.8h.8M168.2 467.4h.8M172.3 465.9h.8M153.4 466.2h.8M177.2 464.0h.8M166.2 463.8h.8M155.0 466.2h.8M150.3 464.0h.8M169.9 465.6h.8M175.9 465.5h.8M172.7 462.2h.8M174.3 465.4h.8M177.9 465.5h.8M153.7 464.3h.8M159.1 466.2h.8M152.9 465.5h.8M183.0 465.2h.8M171.4 463.6h.8M159.2 463.7h.8M162.6 470.0h.8M180.2 466.0h.8M176.1 465.5h.8M181.9 465.3h.8M167.6 464.9h.8M156.8 467.9h.8M162.0 466.6h.8M182.0 465.6h.8M161.8 465.4h.8M154.1 463.8h.8M171.9 463.6h.8M154.1 466.5h.8M171.8 462.5h.8M158.6 465.9h.8M167.2 462.3h.8M168.0 466.4h.8M156.6 466.8h.8M170.4 464.9h.8M166.5 463.8h.8M179.4 467.7h.8M177.2 466.2h.8M170.5 463.8h.8M176.1 464.2h.8M172.8 464.7h.8M159.9 466.2h.8M158.2 464.3h.8M166.1 463.6h.8M171.7 467.0h.8M187.0 463.3h.8M180.5 464.4h.8M162.5 465.1h.8M166.2 465.5h.8M179.5 466.9h.8M177.2 467.8h.8M166.6 466.0h.8M168.8 466.0h.8M166.0 465.0h.8M173.9 466.6h.8M166.2 465.3h.8M192.5 466.5h.8M187.9 464.3h.8M182.9 465.2h.8M178.7 466.1h.8M172.7 466.4h.8M156.9 462.7h.8M156.3 465.2h.8M177.3 467.3h.8M159.0 463.3h.8M162.7 464.5h.8M176.7 463.8h.8M153.1 468.4h.8M175.9 466.6h.8M182.9 464.3h.8M159.7 468.1h.8M161.4 463.9h.8M166.8 462.5h.8M177.5 463.7h.8M163.9 465.3h.8M173.9 465.3h.8M166.9 464.2h.8M168.9 462.7h.8M157.2 463.9h.8M167.9 465.2h.8M180.3 467.3h.8M164.3 465.4h.8M170.0 463.9h.8M165.0 463.9h.8M176.8 465.3h.8M160.4 466.1h.8M150.6 465.9h.8M163.1 463.9h.8M160.8 467.4h.8M162.7 465.5h.8M171.9 465.1h.8M158.1 467.1h.8M161.0 466.2h.8M172.8 468.1h.8M179.7 465.5h.8M168.8 465.0h.8M158.8 468.0h.8M172.9 463.2h.8M168.8 466.2h.8M160.7 466.5h.8M150.2 464.4h.8M163.2 466.1h.8M164.8 466.9h.8M157.5 466.5h.8M175.1 464.3h.8M160.6 469.1h.8M163.2 463.8h.8M176.0 465.9h.8M167.5 465.8h.8M168.4 465.2h.8M180.3 464.4h.8M172.9 464.6h.8M165.6 469.0h.8M165.0 465.0h.8M171.2 464.4h.8M181.7 465.2h.8M185.8 465.2h.8M157.2 463.1h.8M160.9 465.7h.8M171.4 462.7h.8M180.0 466.1h.8M163.3 461.8h.8M161.4 462.9h.8M179.1 465.7h.8M182.0 466.1h.8M160.0 463.3h.8M172.8 466.4h.8M164.1 463.5h.8M159.9 468.2h.8M167.0 467.4h.8M163.6 464.5h.8M165.8 462.9h.8M166.3 464.8h.8M176.2 467.4h.8M171.6 467.4h.8M167.3 463.0h.8M169.1 463.9h.8M170.9 467.4h.8M171.6 465.5h.8M160.6 463.0h.8M161.8 466.9h.8M180.0 466.1h.8M163.6 463.6h.8M158.1 468.2h.8M165.1 467.3h.8M184.5 467.6h.8M174.7 465.6h.8M162.4 467.2h.8M161.0 465.0h.8M155.5 465.8h.8M165.7 464.7h.8M152.5 465.1h.8M178.0 467.3h.8M181.1 465.6h.8M167.7 463.1h.8M173.4 464.0h.8M185.1 465.7h.8M169.1 465.9h.8M161.2 467.0h.8M163.6 463.1h.8M151.1 466.5h.8M162.1 465.4h.8M171.4 463.0h.8M167.0 464.8h.8M167.6 463.8h.8M154.5 463.9h.8M167.0 466.3h.8M159.8 464.5h.8M185.2 464.8h.8M171.3 463.9h.8M173.4 465.5h.8M164.5 464.9h.8M172.1 468.7h.8M162.5 463.3h.8M171.7 463.6h.8M157.8 467.0h.8M159.7 463.6h.8M156.1 464.5h.8M164.3 465.8h.8M164.6 466.8h.8M173.1 464.9h.8M165.1 465.8h.8M160.5 465.1h.8M182.9 466.7h.8M173.2 464.2h.8M164.0 465.9h.8M166.6 464.2h.8M178.0 465.7h.8M160.8 464.6h.8M180.3 466.5h.8M172.7 464.9h.8M171.1 465.4h.8M150.3 463.6h.8M176.2 465.6h.8M172.4 463.8h.8M165.7 466.6h.8M180.5 463.7h.8M169.8 461.9h.8M159.0 464.4h.8M170.8 464.0h.8M173.5 465.5h.8M167.0 463.8h.8M169.0 464.1h.8M172.6 462.1h.8M184.4 467.3h.8M168.7 463.4h.8M152.3 466.5h.8M171.3 465.6h.8M182.3 464.2h.8M156.7 465.2h.8M170.7 463.0h.8M157.0 464.6h.8M165.2 464.5h.8M165.6 465.6h.8M150.8 462.2h.8M166.4 466.4h.8M173.7 468.5h.8M189.0 463.8h.8M164.0 466.2h.8M159.9 465.1h.8M158.8 467.8h.8M167.0 464.8h.8M164.2 463.5h.8M172.8 465.7h.8M157.4 462.7h.8M179.0 465.9h.8M173.2 465.4h.8M182.3 466.4h.8M175.4 469.3h.8M163.5 465.8h.8M169.3 464.0h.8M168.3 467.0h.8M165.0 466.6h.8M179.2 464.9h.8M161.4 461.7h.8M173.9 463.0h.8M165.4 464.4h.8M164.8 467.8h.8M175.7 465.1h.8M159.2 465.6h.8M173.6 467.9h.8M177.9 462.7h.8M159.8 465.2h.8M165.2 464.8h.8M175.6 464.4h.8M171.0 463.9h.8M170.0 465.7h.8M170.1 465.7h.8M161.3 469.0h.8M174.9 466.2h.8M172.8 463.9h.8M164.0 465.0h.8M181.9 465.3h.8M161.0 464.8h.8M172.3 466.5h.8M177.9 466.5h.8M164.0 467.7h.8M161.7 467.3h.8M156.1 465.3h.8M172.3 466.3h.8M181.6 467.0h.8M167.5 466.3h.8M168.2 465.2h.8M161.0 464.3h.8M170.9 464.1h.8M153.4 468.3h.8M173.9 464.8h.8M173.3 467.1h.8M164.9 464.0h.8M165.5 464.9h.8M169.8 463.2h.8M168.7 467.5h.8M181.5 463.7h.8M177.1 464.9h.8M187.8 466.2h.8M155.4 464.9h.8M171.6 465.4h.8M173.4 464.0h.8M166.3 468.0h.8M160.1 463.6h.8M181.5 465.2h.8M170.5 466.9h.8M163.3 466.4h.8M165.6 465.3h.8M151.6 466.9h.8M188.7 465.4h.8M151.7 467.8h.8M159.8 465.2h.8M155.9 463.7h.8M163.8 462.8h.8M165.5 465.1h.8M158.5 467.1h.8M179.4 468.0h.8M171.4 467.4h.8M162.2 465.9h.8M155.1 464.2h.8M165.7 463.1h.8M160.4 468.1h.8M151.1 463.5h.8M171.7 465.3h.8M152.2 464.9h.8M170.8 468.4h.8M153.6 467.0h.8M151.9 465.6h.8M162.1 466.2h.8M168.7 466.3h.8M176.8 464.9h.8M166.5 464.5h.8M164.0 464.2h.8M164.0 464.7h.8M162.2 466.2h.8M163.0 464.4h.8M158.0 467.3h.8M166.6 465.1h.8M171.5 467.4h.8M157.7 467.0h.8M164.2 465.2h.8M172.4 467.3h.8M167.2 464.7h.8M162.9 466.4h.8M174.9 465.9h.8M182.3 463.8h.8M167.6 463.3h.8M166.0 464.6h.8M168.0 465.4h.8M173.4 466.0h.8M158.3 464.3h.8M170.2 464.5h.8M159.7 466.5h.8M177.8 466.1h.8M172.1 468.1h.8M152.6 467.1h.8M168.6 467.1h.8M182.7 462.8h.8M161.4 466.1h.8M184.0 467.0h.8M152.3 463.3h.8M168.3 463.8h.8M173.1 465.7h.8M174.8 465.1h.8M165.5 467.3h.8M163.4 467.3h.8M178.3 462.9h.8M160.0 468.4h.8M167.4 463.1h.8M175.6 463.6h.8M191.6 462.4h.8M161.4 466.0h.8M165.3 463.7h.8M150.6 465.6h.8M160.2 465.4h.8M169.2 466.1h.8M177.4 465.6h.8M180.3 465.7h.8M160.2 465.9h.8M177.0 465.0h.8M154.0 466.2h.8M184.0 464.6h.8M181.4 468.5h.8M161.5 464.0h.8M163.5 464.5h.8M183.9 464.9h.8M153.4 464.8h.8M165.9 465.2h.8M158.7 464.7h.8M167.1 464.2h.8M155.5 461.4h.8M151.1 466.5h.8M165.7 466.0h.8M186.6 464.2h.8M166.6 466.4h.8M179.6 466.2h.8M178.3 463.8h.8M170.2 464.7h.8M163.3 467.1h.8M158.5 464.4h.8M166.2 466.0h.8M152.2 464.2h.8M163.8 465.2h.8M162.4 470.5h.8M171.4 467.8h.8M154.4 464.2h.8M165.3 463.9h.8M173.6 464.5h.8M167.9 464.9h.8M163.0 467.4h.8M174.3 464.2h.8M160.1 465.1h.8M168.1 465.6h.8M187.9 464.4h.8M178.0 466.2h.8M173.2 466.1h.8M153.8 465.2h.8M159.9 465.2h.8M177.1 463.3h.8M172.6 464.6h.8M168.9 462.6h.8M177.3 465.9h.8M166.6 463.6h.8M181.0 462.0h.8M152.6 465.5h.8M160.6 466.8h.8M161.0 465.1h.8M172.6 463.2h.8M159.2 467.5h.8M167.6 468.6h.8M167.7 464.6h.8M160.6 460.9h.8M169.4 466.5h.8M171.3 465.1h.8M182.2 466.8h.8M163.3 466.2h.8M171.1 468.0h.8M182.3 464.1h.8M172.3 465.9h.8M170.6 466.0h.8M159.8 467.7h.8M173.8 465.8h.8M178.1 464.6h.8M172.7 462.6h.8M157.4 468.6h.8M178.7 462.1h.8M157.2 465.1h.8M170.3 465.3h.8M175.2 469.0h.8M166.3 467.6h.8M170.4 465.8h.8M168.0 464.3h.8M180.7 469.0h.8M157.0 467.7h.8M168.9 464.7h.8M172.6 466.2h.8M159.7 464.7h.8M174.3 465.6h.8M180.7 464.3h.8M171.5 466.5h.8M181.4 463.4h.8M170.3 467.6h.8M171.4 465.9h.8M176.4 464.2h.8M178.1 463.4h.8M183.6 464.7h.8M181.8 463.0h.8M159.0 463.2h.8M177.8 465.7h.8M162.9 465.4h.8M155.9 463.4h.8M172.6 464.4h.8M166.2 463.4h.8M180.1 466.0h.8M160.9 466.4h.8M159.0 466.2h.8M161.3 465.5h.8M153.3 467.3h.8M154.2 468.1h.8M151.9 467.3h.8M174.4 464.5h.8M162.8 466.0h.8M179.3 465.8h.8M178.8 465.5h.8M164.6 464.0h.8M177.0 461.0h.8M167.8 467.0h.8M167.8 465.7h.8M158.1 465.4h.8M180.7 463.4h.8M161.8 465.9h.8M180.9 464.9h.8M161.7 462.9h.8M183.1 464.4h.8M160.4 463.4h.8M171.6 468.0h.8M160.4 462.8h.8M170.2 463.0h.8M161.5 467.6h.8M161.0 466.3h.8M156.2 462.9h.8M178.1 465.3h.8M149.6 467.3h.8M168.4 465.8h.8M156.4 465.5h.8M156.1 463.6h.8M162.1 467.6h.8M169.6 461.6h.8M188.1 465.3h.8M173.0 461.6h.8M154.4 470.6h.8M153.1 467.1h.8M170.8 467.1h.8M153.8 464.1h.8M165.6 466.8h.8M166.0 465.3h.8M181.7 463.4h.8M155.1 467.3h.8M164.9 463.7h.8M159.4 463.4h.8M164.4 462.4h.8M156.7 467.4h.8M149.5 467.2h.8M171.6 467.3h.8M163.6 465.4h.8M176.4 465.8h.8M175.2 465.8h.8M164.1 466.5h.8M176.9 463.1h.8M183.8 465.0h.8M196.7 467.2h.8M169.4 465.0h.8M177.2 465.4h.8M161.1 468.7h.8M169.7 465.4h.8M181.6 466.2h.8M177.8 466.3h.8M160.2 463.5h.8M163.3 465.3h.8M174.6 464.0h.8M160.0 463.3h.8M170.4 464.2h.8M156.4 464.2h.8M169.1 465.5h.8M158.5 465.4h.8M181.5 465.3h.8M160.7 467.2h.8M166.1 467.4h.8M159.9 466.5h.8M162.5 464.1h.8M179.9 467.6h.8M155.6 466.4h.8M175.8 468.5h.8M189.6 465.0h.8M168.5 467.9h.8M175.1 467.9h.8M161.4 463.4h.8M153.7 466.4h.8M183.3 464.5h.8M155.5 462.5h.8M175.4 465.3h.8M166.8 464.3h.8M168.6 469.3h.8M170.2 467.8h.8M164.2 467.3h.8M173.8 467.5h.8M172.4 466.9h.8M163.1 464.2h.8M166.2 465.7h.8M159.2 464.5h.8M153.0 464.8h.8M157.0 466.1h.8M167.7 463.3h.8M162.8 465.4h.8M179.6 464.0h.8M177.8 467.5h.8M159.4 464.7h.8M175.6 463.1h.8M181.4 464.4h.8M180.7 465.4h.8M156.8 465.6h.8M175.8 468.5h.8M173.9 463.6h.8M184.5 463.1h.8M171.5 462.7h.8M184.3 466.3h.8M160.4 464.3h.8M177.9 464.5h.8M157.5 463.5h.8M176.1 464.6h.8M177.3 462.3h.8M170.5 464.4h.8M162.1 465.8h.8M175.3 467.7h.8M171.7 461.5h.8M175.7 463.7h.8M167.0 463.5h.8M174.0 466.7h.8M168.2 463.1h.8M183.9 465.4h.8M173.3 464.9h.8M163.4 464.4h.8M175.1 465.0h.8M172.9 465.3h.8M173.9 468.0h.8M173.8 463.7h.8M162.6 462.6h.8M161.9 464.0h.8M175.5 465.7h.8M173.2 464.2h.8M162.7 464.3h.8M167.3 470.6h.8M185.5 466.5h.8M177.9 464.6h.8M161.3 461.2h.8M163.8 464.2h.8M163.4 463.2h.8M168.0 463.7h.8M163.4 466.3h.8M161.7 464.6h.8M159.6 463.3h.8M152.1 467.0h.8M159.3 463.6h.8M166.9 465.0h.8M170.9 468.4h.8M160.5 468.7h.8M149.8 465.6h.8M168.5 466.4h.8M168.5 467.3h.8M183.7 463.8h.8M172.8 466.0h.8M188.7 465.2h.8M161.5 463.0h.8M158.7 467.3h.8M165.0 465.8h.8M163.9 465.2h.8M167.8 467.1h.8M157.3 463.9h.8M169.7 464.9h.8M166.3 466.5h.8M160.6 464.8h.8M172.1 467.4h.8M154.8 467.7h.8M169.4 468.5h.8M151.6 466.7h.8M158.9 463.8h.8M161.5 466.1h.8M159.7 464.9h.8M172.0 462.7h.8M168.3 467.5h.8M178.5 465.5h.8M160.8 465.8h.8M166.2 465.4h.8M187.5 462.5h.8M168.8 466.5h.8M167.0 467.3h.8M168.2 466.3h.8M162.7 467.7h.8M165.5 465.9h.8M151.3 463.4h.8M164.2 465.9h.8M167.2 465.1h.8M164.0 464.9h.8M172.0 466.9h.8M164.1 464.6h.8M152.2 466.8h.8M177.6 467.5h.8M177.4 464.4h.8M168.0 465.6h.8M159.8 465.0h.8M181.2 463.4h.8M155.2 466.5h.8M165.9 461.5h.8M176.4 466.8h.8M174.9 464.6h.8M165.0 463.8h.8M163.5 465.8h.8M172.1 465.5h.8M173.8 466.0h.8M150.2 466.6h.8M182.2 467.7h.8M157.5 467.5h.8M170.3 466.5h.8M190.5 466.3h.8M151.0 463.9h.8M150.0 464.3h.8M190.4 467.9h.8M181.7 466.2h.8M171.4 467.1h.8M160.1 464.5h.8M180.2 467.1h.8M177.7 464.4h.8M151.3 467.7h.8M177.9 468.0h.8M171.7 463.3h.8M164.2 463.6h.8M163.2 465.2h.8M171.5 464.9h.8M164.6 465.2h.8M159.8 465.2h.8M160.8 465.0h.8M163.7 463.6h.8M172.1 466.5h.8M161.8 465.0h.8M168.9 463.0h.8M156.7 466.3h.8M158.1 464.5h.8M167.3 466.8h.8M175.3 465.6h.8M168.4 465.9h.8M160.8 465.0h.8M162.7 466.1h.8M151.8 469.8h.8M173.5 465.2h.8M172.8 464.8h.8M165.4 465.9h.8M185.5 465.2h.8M176.9 463.1h.8M164.8 463.3h.8M161.0 463.9h.8M170.9 465.9h.8M166.3 468.2h.8M166.5 465.8h.8M169.2 467.0h.8M168.4 464.9h.8M182.0 465.3h.8M149.7 467.8h.8M164.8 466.4h.8M150.8 469.2h.8M173.5 465.5h.8M167.8 466.3h.8M178.6 466.3h.8M149.7 466.9h.8M151.4 462.7h.8M157.1 464.1h.8M162.1 468.2h.8M182.4 462.4h.8M169.7 467.6h.8M172.5 464.8h.8M171.0 465.7h.8M170.6 463.7h.8M170.1 467.3h.8M178.9 466.8h.8M193.3 466.4h.8M163.0 464.7h.8M183.6 462.6h.8M165.0 464.4h.8M156.0 466.2h.8M175.5 463.9h.8M167.0 466.6h.8M178.0 465.0h.8M173.1 465.0h.8M155.9 466.7h.8M168.8 464.0h.8M164.9 463.2h.8M175.2 464.6h.8M173.9 465.7h.8M164.0 466.3h.8M165.3 464.0h.8M177.6 464.3h.8M159.5 466.0h.8M152.3 464.3h.8M161.0 466.1h.8M170.7 464.0h.8M184.2 465.8h.8M158.3 466.7h.8M166.9 465.9h.8M155.9 463.5h.8M152.3 461.7h.8M190.2 465.7h.8M159.1 462.5h.8M178.2 467.3h.8M164.6 464.3h.8M165.5 465.1h.8M174.9 464.5h.8M191.7 466.2h.8M184.8 463.6h.8M169.6 465.7h.8M151.4 464.6h.8M162.7 467.8h.8M162.6 464.2h.8M163.8 465.4h.8M168.7 466.4h.8M168.1 464.5h.8M153.0 470.5h.8M166.8 465.7h.8M183.5 465.3h.8M154.3 467.5h.8M160.8 464.5h.8M185.2 464.4h.8M163.5 467.5h.8M163.9 463.3h.8M171.6 467.5h.8M159.6 465.6h.8M170.3 461.2h.8M177.0 465.7h.8M152.8 465.8h.8M157.3 466.0h.8M154.9 466.8h.8M177.6 463.6h.8M163.1 466.4h.8M172.8 465.8h.8M161.1 464.9h.8M164.7 465.3h.8M166.8 464.6h.8M168.7 463.6h.8M155.8 464.2h.8M163.2 462.9h.8M151.5 466.9h.8M171.5 465.6h.8M164.6 469.1h.8M154.1 465.1h.8M167.9 466.2h.8M169.6 463.9h.8M154.0 466.6h.8M186.4 462.4h.8M169.1 465.2h.8M172.9 463.7h.8M166.1 465.4h.8M166.1 463.4h.8M173.5 466.4h.8M160.8 464.9h.8M166.2 467.3h.8M161.4 465.6h.8M169.9 464.3h.8M159.2 465.5h.8M169.6 465.9h.8M155.6 464.0h.8M165.3 462.4h.8M166.1 463.5h.8M149.7 463.3h.8M162.2 466.5h.8M181.4 463.7h.8M163.5 465.1h.8M170.8 466.4h.8M162.6 462.5h.8M174.2 467.7h.8M178.7 469.9h.8M170.5 465.2h.8M165.8 466.1h.8M161.6 465.2h.8M161.5 468.6h.8M179.9 465.5h.8M179.0 464.3h.8M172.0 465.9h.8M176.0 466.4h.8M152.3 467.3h.8M182.9 467.0h.8M173.9 467.1h.8M161.9 469.8h.8M167.2 465.7h.8M179.7 463.6h.8M165.3 462.7h.8M172.5 465.4h.8M175.2 466.1h.8M154.3 463.8h.8M153.1 465.2h.8M177.3 466.0h.8M163.3 460.4h.8M160.0 464.5h.8M175.9 463.7h.8M168.0 468.4h.8M195.4 464.2h.8M176.3 466.6h.8M181.3 464.7h.8M175.4 464.4h.8M154.7 466.0h.8M165.9 468.5h.8M153.5 465.5h.8M190.0 463.7h.8M170.3 466.5h.8M172.3 467.1h.8M173.2 466.5h.8M164.3 466.2h.8M163.6 465.2h.8M173.4 465.0h.8M181.6 468.6h.8M164.5 466.4h.8M169.7 463.2h.8M170.5 463.4h.8M166.9 465.9h.8M190.0 466.5h.8M165.8 467.0h.8M167.7 468.6h.8M165.9 467.3h.8M157.1 463.4h.8M180.7 468.9h.8M178.1 461.2h.8M172.7 466.7h.8M163.1 464.1h.8M183.9 464.1h.8M159.3 466.1h.8M169.1 465.1h.8M154.2 466.1h.8M167.0 462.4h.8M160.7 464.2h.8M161.9 467.1h.8M158.2 467.6h.8M177.7 463.5h.8M160.5 467.2h.8M172.5 466.7h.8M173.9 466.1h.8M161.9 465.1h.8M179.0 460.7h.8M169.1 464.8h.8M178.8 467.2h.8M155.9 464.9h.8M167.3 466.6h.8M171.6 467.1h.8M173.9 464.7h.8M165.2 464.5h.8M162.9 464.2h.8M164.8 466.2h.8M159.6 465.8h.8M154.7 467.7h.8M180.2 467.1h.8M162.9 466.5h.8M183.9 463.8h.8M172.0 463.6h.8M174.5 470.8h.8M172.3 465.5h.8M155.5 466.8h.8M167.6 465.1h.8M170.1 467.1h.8M168.7 466.1h.8M152.4 465.2h.8M177.4 465.3h.8M190.2 463.1h.8M174.1 468.0h.8M163.0 466.1h.8M166.5 465.6h.8M180.9 468.2h.8M151.1 461.2h.8M163.3 468.2h.8M173.2 465.0h.8M164.2 463.6h.8M170.4 466.4h.8M183.5 463.8h.8M170.3 464.5h.8M175.2 462.4h.8M157.6 463.4h.8M173.7 465.1h.8M166.3 466.1h.8M176.3 466.2h.8M173.6 465.1h.8M158.5 461.9h.8M170.5 465.5h.8M157.3 466.9h.8M169.1 465.7h.8M168.6 462.9h.8M181.6 464.4h.8M181.3 467.1h.8M160.0 463.2h.8M157.3 462.5h.8M190.3 464.6h.8M164.9 464.6h.8M179.0 462.5h.8M163.2 464.6h.8M155.6 463.4h.8M159.9 464.1h.8M161.5 466.1h.8M152.6 463.4h.8M167.9 465.0h.8M171.9 466.9h.8M163.0 464.1h.8M170.1 466.4h.8M154.1 461.9h.8M164.9 466.7h.8M166.8 465.0h.8M180.0 467.0h.8M159.9 464.1h.8M161.9 465.8h.8M157.3 463.3h.8M156.8 468.1h.8M162.9 463.7h.8M163.9 463.9h.8M154.8 465.5h.8M170.2 465.7h.8M159.8 463.5h.8M153.4 467.3h.8M170.4 460.8h.8M179.5 466.6h.8M177.1 461.7h.8M170.7 465.6h.8M159.5 465.3h.8M176.0 466.3h.8M180.9 464.5h.8M160.3 463.4h.8M178.0 465.6h.8M190.8 467.0h.8M166.2 468.3h.8M152.9 466.1h.8M179.7 464.2h.8M191.3 465.3h.8M160.5 465.2h.8M171.8 466.8h.8M166.7 465.8h.8M179.8 468.9h.8M182.6 463.8h.8M175.9 465.1h.8M172.7 466.1h.8M172.1 466.8h.8M173.8 467.8h.8M164.2 468.1h.8M158.9 466.2h.8M157.0 465.4h.8M162.5 464.1h.8M152.4 466.4h.8M173.9 466.4h.8M181.2 465.2h.8M156.8 464.6h.8M164.3 463.2h.8M172.3 465.3h.8M151.9 464.3h.8M168.3 463.1h.8M166.7 466.3h.8M174.9 465.8h.8M177.4 464.9h.8M168.2 466.6h.8M162.4 467.8h.8M167.6 467.2h.8M152.4 467.3h.8M186.0 466.9h.8M173.0 464.5h.8M161.9 466.5h.8M160.2 467.0h.8M160.6 463.8h.8M176.7 464.7h.8M150.4 465.9h.8M162.5 464.7h.8M157.8 468.3h.8M157.8 464.4h.8M179.4 464.0h.8M167.3 465.9h.8M179.0 465.1h.8M160.4 465.5h.8M174.8 467.7h.8M190.5 467.0h.8M169.5 465.7h.8M192.3 465.5h.8M154.2 467.4h.8M158.1 465.9h.8M178.2 466.1h.8M163.1 469.1h.8M177.9 463.7h.8M149.6 467.6h.8M157.2 466.1h.8M158.6 464.5h.8M167.5 463.9h.8M156.9 464.8h.8M180.8 467.3h.8M162.3 466.3h.8M171.1 466.1h.8M163.9 465.7h.8M161.8 464.4h.8M179.4 465.9h.8M175.4 464.4h.8M159.1 466.2h.8M174.8 465.0h.8M168.4 464.4h.8M156.4 464.9h.8M166.7 466.6h.8M197.5 466.9h.8M164.4 464.8h.8M150.8 463.7h.8M171.9 467.0h.8M156.2 467.8h.8M152.3 466.3h.8M166.6 464.2h.8M166.4 466.8h.8M154.7 464.3h.8M160.8 466.7h.8M171.6 463.1h.8M167.6 465.5h.8M170.5 465.4h.8M176.0 466.2h.8M168.8 464.9h.8M169.6 467.1h.8M183.7 467.9h.8M171.7 465.1h.8M171.3 467.0h.8M171.5 469.2h.8M169.1 466.6h.8M168.1 465.5h.8M180.4 469.0h.8M183.6 468.1h.8M183.5 464.2h.8M188.2 464.6h.8M157.2 465.2h.8M168.9 463.3h.8M179.1 461.9h.8M152.6 465.7h.8M169.1 466.4h.8M157.7 462.9h.8M157.1 464.8h.8M174.1 464.5h.8M185.7 465.9h.8M180.2 463.4h.8M170.9 463.7h.8M180.5 462.7h.8M164.4 466.6h.8M166.8 466.1h.8M161.9 467.1h.8M163.3 469.1h.8M155.4 465.8h.8M156.8 465.5h.8M181.6 462.6h.8M175.8 467.2h.8M181.3 466.9h.8M170.1 464.8h.8M185.1 464.8h.8M166.3 465.3h.8M164.7 466.3h.8M159.6 465.2h.8M172.7 466.7h.8M162.4 467.2h.8M164.5 463.7h.8M173.6 465.0h.8M165.1 466.3h.8M164.6 464.5h.8M156.0 464.9h.8M188.8 467.8h.8M154.8 465.4h.8M189.4 466.6h.8M168.2 466.8h.8M174.1 465.8h.8M172.3 465.3h.8M173.0 465.8h.8M158.1 464.0h.8M179.6 466.1h.8M154.3 464.1h.8M164.5 464.4h.8M170.2 465.0h.8M168.7 466.4h.8M165.2 465.7h.8M168.0 467.6h.8M175.3 466.4h.8M173.6 466.0h.8M169.8 467.2h.8M158.3 463.4h.8M153.0 467.3h.8M165.1 462.6h.8M190.3 466.5h.8M170.0 465.9h.8M168.8 467.9h.8M156.4 467.2h.8M181.1 463.2h.8M157.2 464.4h.8M155.4 466.2h.8M156.4 464.2h.8M168.4 468.1h.8M164.8 464.7h.8M154.5 467.2h.8M169.5 463.6h.8M180.2 463.4h.8M159.6 466.6h.8M158.4 463.5h.8M169.9 464.3h.8M157.6 464.5h.8M162.7 463.4h.8M170.9 464.2h.8M162.0 465.6h.8M166.1 462.4h.8M177.2 466.0h.8M159.0 463.7h.8M158.9 464.7h.8M168.1 462.4h.8M168.1 464.8h.8M156.1 465.0h.8M168.8 467.5h.8M159.2 462.3h.8M171.9 466.1h.8M161.2 462.9h.8M173.5 465.6h.8M165.0 467.2h.8M172.3 464.9h.8M194.7 466.3h.8M162.4 465.5h.8M177.7 464.8h.8M185.1 465.2h.8M176.5 464.8h.8M162.2 463.8h.8M203.9 464.4h.8M173.6 465.9h.8M158.5 464.5h.8M172.5 464.8h.8M170.0 465.9h.8M156.0 464.9h.8M178.7 466.0h.8M168.1 463.7h.8M176.2 464.8h.8M179.7 462.0h.8M170.0 463.2h.8M160.4 466.5h.8M164.8 463.5h.8M162.9 465.0h.8M163.0 465.9h.8M154.7 464.4h.8M174.5 463.1h.8M161.3 467.3h.8M181.3 466.8h.8M152.5 463.1h.8M161.3 464.9h.8M177.0 464.5h.8M170.2 467.9h.8M167.4 466.1h.8M167.3 468.1h.8M172.7 467.1h.8M157.8 466.1h.8M177.3 466.7h.8M172.7 465.9h.8M164.3 463.9h.8M168.9 464.0h.8M179.0 462.0h.8M179.5 464.4h.8M171.7 463.7h.8M202.5 465.3h.8M188.7 466.8h.8M178.1 464.7h.8M169.7 465.5h.8M182.5 469.8h.8M196.8 467.0h.8M196.8 462.9h.8M208.6 466.8h.8M187.8 463.7h.8M180.1 462.8h.8M179.8 467.1h.8M200.0 463.7h.8M170.2 466.3h.8M182.1 465.2h.8M188.9 466.1h.8M187.0 465.3h.8M200.4 464.3h.8M189.0 465.6h.8M184.3 466.6h.8M191.4 467.9h.8M193.4 467.4h.8M178.3 466.2h.8M190.1 462.3h.8M194.8 463.8h.8M188.5 466.7h.8M193.3 465.1h.8M182.9 465.6h.8M177.5 470.0h.8M198.2 467.6h.8M198.1 461.5h.8M184.5 466.2h.8M182.8 466.8h.8M196.8 464.2h.8M190.1 464.0h.8M199.3 465.0h.8M207.6 465.2h.8M188.4 463.4h.8M193.7 462.7h.8M180.2 465.0h.8M183.0 464.6h.8M205.6 464.7h.8M177.8 461.8h.8M192.8 467.1h.8M197.8 467.3h.8M185.9 463.3h.8M185.9 468.6h.8M187.2 466.5h.8M180.7 467.0h.8M186.8 467.0h.8M181.6 465.0h.8M208.2 462.9h.8M169.8 462.6h.8M178.5 465.5h.8M210.8 468.7h.8M167.5 464.9h.8M203.3 466.3h.8M193.4 469.1h.8M188.4 463.7h.8M195.5 464.2h.8M208.4 467.4h.8M181.2 465.3h.8M177.7 465.7h.8M163.6 466.0h.8M163.1 465.7h.8M176.5 465.4h.8M169.5 469.0h.8M183.1 465.8h.8M205.1 466.1h.8M183.6 463.5h.8M177.4 464.7h.8M201.3 466.9h.8M190.5 467.3h.8M192.6 469.0h.8M166.1 462.2h.8M199.5 465.1h.8M173.7 466.1h.8M182.1 469.6h.8M180.9 464.4h.8M176.8 462.0h.8M164.2 464.3h.8M184.8 465.2h.8M188.5 463.3h.8M168.9 468.2h.8M184.2 465.1h.8M186.0 463.0h.8M190.7 465.7h.8M198.2 462.1h.8M161.7 461.8h.8M188.6 466.3h.8M192.2 463.8h.8M184.9 465.2h.8M173.8 466.8h.8M172.6 464.7h.8M192.6 463.2h.8M177.7 462.1h.8M181.7 465.4h.8M193.4 466.8h.8M190.8 464.1h.8M184.3 464.6h.8M188.1 464.6h.8M203.6 467.4h.8M196.4 466.8h.8M183.7 462.1h.8M180.6 461.8h.8M184.0 465.5h.8M195.5 465.3h.8M192.1 467.7h.8M201.3 463.9h.8M190.8 465.4h.8M179.1 463.7h.8M174.6 464.8h.8M184.4 467.8h.8M189.8 466.7h.8M182.6 464.7h.8M191.7 465.0h.8M194.9 467.3h.8M188.6 462.0h.8M200.2 462.8h.8M189.5 468.2h.8M184.8 465.6h.8M180.8 467.5h.8M191.3 467.1h.8M191.9 467.1h.8M188.1 466.2h.8M181.0 466.4h.8M196.4 467.1h.8M166.7 467.5h.8M171.0 464.3h.8M192.2 465.6h.8M207.2 464.0h.8M178.2 465.5h.8M184.3 463.4h.8M181.8 467.6h.8M199.2 462.6h.8M199.0 465.4h.8M193.8 466.5h.8M185.9 466.9h.8M207.0 467.8h.8M202.5 467.8h.8M204.0 466.1h.8M163.5 463.6h.8M188.4 463.1h.8M177.1 465.7h.8M185.6 462.9h.8M192.3 464.6h.8M191.1 463.2h.8M203.4 465.6h.8M203.8 468.1h.8M176.4 464.6h.8M180.4 466.5h.8M190.5 462.9h.8M192.8 468.9h.8M191.1 465.9h.8M184.6 466.1h.8M201.4 461.8h.8M187.1 462.8h.8M182.4 466.0h.8M181.0 462.8h.8M165.4 465.3h.8M178.4 465.4h.8M188.2 466.5h.8M179.3 469.3h.8M175.0 464.4h.8M204.5 462.0h.8M176.3 465.2h.8M190.7 464.4h.8M181.2 464.4h.8M199.5 466.3h.8M185.3 466.7h.8M179.4 469.2h.8M196.4 467.9h.8M175.7 467.0h.8M192.3 465.0h.8M196.4 464.8h.8M193.6 464.8h.8M186.3 463.8h.8M195.4 466.5h.8M193.2 462.5h.8M188.9 466.7h.8M186.8 460.7h.8M182.6 464.5h.8M199.0 464.8h.8M186.3 465.5h.8M199.2 464.7h.8M186.2 463.6h.8M179.9 461.5h.8M204.4 465.5h.8M184.2 469.2h.8M196.8 469.2h.8M188.2 468.0h.8M179.7 465.2h.8M184.6 462.1h.8M181.1 462.0h.8M194.9 466.4h.8M197.3 462.4h.8M180.1 466.3h.8M197.4 465.0h.8M168.8 467.3h.8M179.3 466.2h.8M180.4 467.8h.8M192.8 462.1h.8M191.1 465.8h.8M188.3 464.2h.8M217.7 471.1h.8M173.6 464.2h.8M185.2 467.6h.8M211.0 467.2h.8M192.1 466.8h.8M183.4 464.3h.8M178.8 464.4h.8M188.4 468.9h.8M168.6 461.2h.8M186.8 466.4h.8M186.7 468.3h.8M177.9 467.4h.8M214.9 465.4h.8M174.7 464.1h.8M195.5 468.2h.8M194.4 465.9h.8M188.7 463.3h.8M182.8 466.9h.8M179.3 463.4h.8M188.5 464.7h.8M192.9 464.9h.8M182.4 465.2h.8M193.7 467.5h.8M167.2 461.4h.8M198.8 466.8h.8M170.1 467.7h.8M182.6 465.4h.8M203.1 464.6h.8M179.4 466.0h.8M174.9 467.1h.8M200.9 469.8h.8M196.1 466.8h.8M207.7 466.4h.8M202.1 464.8h.8M187.3 467.4h.8M191.9 468.9h.8M198.5 467.2h.8M174.5 466.0h.8M191.4 464.8h.8M174.2 468.8h.8M191.2 466.6h.8M169.5 464.8h.8M194.4 461.4h.8M184.9 466.7h.8M210.7 465.1h.8M180.1 463.8h.8M203.9 462.8h.8M180.2 463.8h.8M195.5 464.0h.8M194.9 465.3h.8M206.4 463.7h.8M186.2 465.2h.8M168.5 465.6h.8M180.5 466.1h.8M188.7 467.0h.8M186.8 465.7h.8M180.0 466.7h.8M181.8 465.4h.8M189.4 466.8h.8M200.7 464.4h.8M162.7 466.0h.8M178.4 465.1h.8M154.1 465.8h.8M198.8 465.6h.8M196.7 468.7h.8M217.8 465.1h.8M189.9 466.7h.8M187.0 465.4h.8M187.5 466.5h.8M205.0 466.0h.8M189.7 466.6h.8M194.7 468.8h.8M207.9 466.1h.8M178.5 463.0h.8M183.0 465.9h.8M186.5 466.7h.8M214.1 465.9h.8M175.6 463.6h.8M209.8 466.2h.8M204.8 465.3h.8M192.2 467.4h.8M201.8 464.3h.8M197.9 463.2h.8M195.3 469.2h.8M190.8 466.7h.8M198.7 464.1h.8M170.2 462.6h.8M193.7 463.8h.8M197.9 464.2h.8M187.1 464.4h.8M186.7 467.3h.8M207.2 464.5h.8M169.8 468.6h.8M193.4 465.9h.8M188.5 467.2h.8M187.6 461.4h.8M192.9 465.4h.8M190.3 468.1h.8M202.0 462.2h.8M188.7 464.7h.8M185.1 462.9h.8M193.9 464.7h.8M174.6 466.1h.8M185.0 467.0h.8M186.6 464.1h.8M188.1 468.1h.8M188.8 465.3h.8M191.3 465.3h.8M175.6 463.5h.8M187.2 465.8h.8M199.8 465.5h.8M193.0 462.5h.8M183.3 466.6h.8M196.9 464.1h.8M179.0 466.6h.8M171.5 466.8h.8M181.9 464.3h.8M181.7 460.7h.8M172.5 468.1h.8M176.7 464.9h.8M196.7 464.8h.8M202.6 465.7h.8M194.0 464.7h.8M192.8 467.9h.8M195.8 466.6h.8M186.6 465.1h.8M180.3 464.9h.8M204.3 466.2h.8M185.3 464.9h.8M170.3 463.1h.8M207.2 464.2h.8M184.4 467.0h.8M201.3 465.3h.8M200.1 465.2h.8M178.1 464.4h.8M193.8 465.3h.8M172.8 466.7h.8M187.5 467.5h.8M198.2 464.7h.8M192.4 465.4h.8M201.7 463.6h.8M179.5 464.5h.8M176.0 462.7h.8M182.5 466.1h.8M192.9 466.2h.8M200.5 463.9h.8M180.5 464.6h.8M190.7 462.9h.8M195.8 466.1h.8M195.2 460.7h.8M198.2 463.0h.8M188.3 464.2h.8M161.8 467.4h.8M180.9 464.6h.8M190.0 464.4h.8M190.1 462.8h.8M182.7 465.6h.8M193.5 466.7h.8M209.4 464.6h.8M177.0 469.0h.8M183.9 468.2h.8M176.1 466.8h.8M205.1 463.3h.8M179.4 463.3h.8M183.1 465.1h.8M173.6 467.1h.8M209.2 465.5h.8M198.7 466.0h.8M195.2 465.0h.8M188.8 464.8h.8M187.4 463.2h.8M196.1 467.3h.8M175.2 464.3h.8M177.2 466.5h.8M196.8 467.7h.8M179.6 464.5h.8M197.2 468.3h.8M197.2 462.9h.8M211.8 467.1h.8M187.3 464.9h.8M213.6 466.9h.8M192.8 461.1h.8M190.2 464.7h.8M178.5 466.7h.8M160.6 468.2h.8M199.4 463.7h.8M190.9 465.5h.8M186.0 465.3h.8M208.7 468.0h.8M183.6 464.4h.8M182.5 463.0h.8M209.1 467.1h.8M192.9 465.2h.8M199.3 465.6h.8M175.2 465.6h.8M177.8 467.2h.8M171.7 467.9h.8M174.1 469.0h.8M183.7 467.6h.8M178.5 464.3h.8M182.5 465.4h.8M190.8 466.6h.8M185.7 469.2h.8M175.5 463.3h.8M201.0 464.9h.8M196.6 462.9h.8M193.4 468.3h.8M175.1 468.8h.8M211.6 466.6h.8M176.7 466.9h.8M205.8 465.3h.8M206.0 468.3h.8M198.4 466.6h.8M189.4 461.9h.8M195.9 463.6h.8M193.2 464.0h.8M201.4 467.6h.8M175.3 466.3h.8M209.6 464.5h.8M191.5 465.5h.8M181.3 465.3h.8M211.0 467.1h.8M202.2 462.6h.8M176.6 465.8h.8M197.3 465.4h.8M180.9 468.7h.8M176.1 466.3h.8M189.8 465.4h.8M193.7 465.2h.8M193.7 465.7h.8M177.3 465.0h.8M178.9 468.3h.8M218.0 466.0h.8M171.1 467.1h.8M185.5 468.8h.8M184.5 463.7h.8M185.4 463.7h.8M185.9 466.6h.8M173.7 467.1h.8M209.0 468.4h.8M201.7 463.4h.8M193.1 465.6h.8M180.8 463.0h.8M178.9 467.5h.8M190.9 466.1h.8M173.0 458.5h.8M195.2 465.2h.8M194.1 465.0h.8M192.0 463.8h.8M194.6 468.3h.8M201.6 467.1h.8M195.2 465.5h.8M184.1 468.1h.8M180.7 465.4h.8M188.8 465.4h.8M193.3 464.6h.8M178.0 466.5h.8M184.1 466.2h.8M199.6 468.0h.8M194.8 463.8h.8M179.7 461.9h.8M198.6 465.6h.8M171.1 462.2h.8M184.8 467.5h.8M194.7 467.4h.8M168.4 462.7h.8M194.4 465.9h.8M189.0 467.5h.8M159.7 466.0h.8M169.0 465.6h.8M178.5 467.0h.8M189.1 464.1h.8M192.9 466.1h.8M179.0 467.7h.8M188.6 466.3h.8M170.1 467.7h.8M176.6 458.3h.8M176.4 467.7h.8M185.9 467.0h.8M179.2 465.6h.8M168.0 462.2h.8M181.2 462.9h.8M191.7 467.5h.8M198.6 465.7h.8M194.2 468.0h.8M170.8 463.1h.8M173.6 466.8h.8M187.4 466.2h.8M187.4 462.7h.8M191.4 466.0h.8M169.5 463.1h.8M193.7 465.0h.8M195.1 467.9h.8M181.2 462.3h.8M199.5 464.1h.8M190.0 462.9h.8M194.3 469.4h.8M213.2 463.7h.8M201.5 464.0h.8M194.3 467.3h.8M191.9 464.5h.8M180.6 464.3h.8M215.9 464.8h.8M180.3 468.2h.8M191.4 466.1h.8M198.8 465.7h.8M192.5 466.3h.8M196.3 468.1h.8M212.5 462.8h.8M193.1 465.3h.8M186.0 464.7h.8M182.3 471.0h.8M192.8 465.4h.8M179.6 467.7h.8M178.1 463.8h.8M174.9 464.2h.8M194.2 463.0h.8M184.3 464.3h.8M194.9 464.6h.8M187.9 465.6h.8M193.3 465.5h.8M169.4 464.8h.8M184.1 464.1h.8M186.1 466.4h.8M191.4 463.6h.8M190.7 466.5h.8M197.5 464.4h.8M207.2 466.0h.8M178.9 465.0h.8M173.1 464.2h.8M193.1 468.2h.8M214.1 466.4h.8M179.1 464.6h.8M172.3 466.5h.8M192.5 462.2h.8M197.2 461.5h.8M194.9 468.0h.8M181.1 464.9h.8M179.6 462.5h.8M207.5 466.7h.8M178.2 463.8h.8M187.5 466.2h.8M181.8 464.6h.8M204.5 468.2h.8M202.3 463.3h.8M186.7 462.0h.8M180.8 463.1h.8M188.3 464.8h.8M175.5 464.7h.8M191.5 465.2h.8M182.8 467.1h.8M187.6 465.6h.8M192.6 465.3h.8M195.6 463.8h.8M205.4 466.9h.8M199.4 465.4h.8M196.2 466.6h.8M190.4 463.5h.8M192.6 467.2h.8M195.4 465.1h.8M176.0 465.4h.8M185.2 464.6h.8M178.9 462.9h.8M202.1 466.9h.8M171.4 467.4h.8M189.2 465.6h.8M199.6 465.1h.8M168.2 464.7h.8M192.3 460.4h.8M177.2 464.1h.8M176.0 466.5h.8M190.3 467.3h.8M186.4 466.1h.8M191.1 463.6h.8M182.2 467.0h.8M191.1 464.3h.8M200.0 466.2h.8M190.9 464.3h.8M181.9 469.1h.8M178.5 466.0h.8M183.2 462.1h.8M182.7 464.2h.8M194.2 465.4h.8M170.8 467.3h.8M180.0 462.5h.8M180.7 466.3h.8M199.0 467.5h.8M184.0 467.2h.8M172.0 465.9h.8M188.6 464.2h.8M203.2 469.7h.8M208.4 463.2h.8M181.8 464.5h.8M194.4 465.3h.8M173.4 463.1h.8M195.4 466.2h.8M181.5 465.8h.8M172.1 462.8h.8M170.1 463.3h.8M173.3 465.6h.8M182.4 466.8h.8M216.7 466.5h.8M188.1 466.5h.8M180.7 467.1h.8M183.2 467.4h.8M193.1 466.5h.8M172.6 464.8h.8M169.7 462.9h.8M180.8 463.6h.8M181.9 462.2h.8M187.9 465.1h.8M187.5 467.3h.8M202.9 463.8h.8M174.4 462.9h.8M188.8 466.5h.8M201.6 465.0h.8M177.0 463.9h.8M175.2 463.3h.8M178.5 468.4h.8M195.6 466.0h.8M185.4 463.4h.8M193.0 466.3h.8M180.1 465.4h.8M192.6 464.7h.8M182.7 467.1h.8M189.1 462.9h.8M209.7 465.9h.8M194.7 468.8h.8M174.9 465.8h.8M191.1 462.2h.8M187.2 466.1h.8M174.6 463.5h.8M181.7 465.4h.8M186.3 460.9h.8M180.6 463.5h.8M197.6 461.4h.8M175.8 465.0h.8M164.7 462.7h.8M199.4 466.4h.8M193.8 466.6h.8M167.9 465.3h.8M188.0 464.9h.8M204.1 465.4h.8M162.2 466.0h.8M180.6 466.6h.8M208.9 466.1h.8M179.4 467.2h.8M182.9 465.1h.8M181.3 467.5h.8M167.7 464.8h.8M187.5 466.0h.8M200.2 465.0h.8M198.5 466.7h.8M176.1 462.5h.8M197.1 464.4h.8M184.8 469.2h.8M197.8 466.1h.8M167.0 464.2h.8M178.8 466.8h.8M185.4 463.0h.8M173.9 465.6h.8M196.0 466.5h.8M180.5 467.2h.8M173.4 463.6h.8M183.2 463.2h.8M197.1 463.1h.8M181.9 463.0h.8M174.6 463.2h.8M176.8 465.4h.8M174.9 464.7h.8M200.3 461.1h.8M197.8 466.0h.8M199.3 466.3h.8M198.9 466.5h.8M196.8 468.0h.8M168.4 463.3h.8M183.6 464.7h.8M179.0 461.9h.8M180.2 467.0h.8M197.4 466.6h.8M180.9 460.8h.8M185.9 463.5h.8M182.5 466.2h.8M171.5 465.2h.8M182.0 462.4h.8M207.3 464.8h.8M165.0 467.3h.8M185.9 466.2h.8M188.5 463.6h.8M188.5 463.4h.8M193.2 464.8h.8M176.9 466.3h.8M184.2 465.3h.8M191.1 468.9h.8M186.0 463.8h.8M190.2 466.9h.8M209.0 470.6h.8M206.7 469.5h.8M209.0 471.2h.8M205.0 469.5h.8M203.9 468.9h.8M208.7 470.7h.8M205.3 470.8h.8M203.1 471.6h.8M207.1 469.2h.8M208.8 466.9h.8M200.3 470.8h.8M204.5 469.9h.8M210.2 471.6h.8M205.8 474.5h.8M209.1 470.6h.8M207.2 471.7h.8M206.9 469.8h.8M199.1 468.9h.8M203.6 469.5h.8M204.6 467.5h.8M206.0 464.0h.8M203.0 472.3h.8M203.0 470.0h.8M200.7 478.5h.8M205.2 467.8h.8M203.7 473.9h.8M208.7 470.0h.8M204.1 473.1h.8M206.2 470.1h.8M205.7 471.2h.8M206.0 473.4h.8M204.1 475.3h.8M205.2 473.2h.8M201.9 469.9h.8M206.4 469.3h.8M209.1 470.0h.8M200.8 463.9h.8M206.6 474.4h.8M207.5 473.0h.8M208.0 468.0h.8M203.8 467.7h.8M208.3 471.1h.8M204.2 469.7h.8M204.4 471.4h.8M207.8 470.6h.8M204.9 472.9h.8M206.9 471.5h.8M207.5 471.6h.8M206.7 469.4h.8M198.9 466.8h.8M210.1 463.4h.8M204.6 469.6h.8M204.7 473.7h.8M205.2 474.8h.8M205.7 475.2h.8M199.0 469.7h.8M203.9 471.2h.8M204.8 468.3h.8M199.2 465.1h.8M206.2 473.6h.8M201.5 472.7h.8M201.6 479.4h.8M208.2 472.3h.8M203.9 472.7h.8M204.7 466.9h.8M208.4 466.9h.8M203.8 464.1h.8M208.5 472.4h.8M205.2 481.6h.8M209.4 474.6h.8M205.5 465.7h.8M205.7 466.8h.8M208.3 473.8h.8M202.4 470.8h.8M202.1 470.5h.8M210.7 474.5h.8M205.1 471.0h.8M206.3 471.2h.8M206.5 473.9h.8M204.4 474.7h.8M205.3 465.7h.8M203.7 467.3h.8M206.5 468.9h.8M207.4 469.3h.8M207.4 468.5h.8M201.6 469.3h.8M202.6 472.9h.8M208.0 467.4h.8M206.8 470.9h.8M206.2 465.7h.8M205.1 469.1h.8M204.6 471.1h.8M204.5 473.0h.8M198.4 474.4h.8M202.5 475.5h.8M209.1 468.1h.8M203.6 468.3h.8M208.3 465.4h.8M205.0 467.4h.8M206.6 468.5h.8M201.9 467.2h.8M205.3 479.5h.8M210.8 464.3h.8M205.7 468.7h.8M203.3 467.1h.8M208.7 471.5h.8M198.5 474.5h.8M207.5 471.0h.8M208.6 466.6h.8M207.5 472.3h.8M208.9 472.5h.8M205.0 469.3h.8M204.2 467.9h.8M199.9 469.5h.8M205.1 469.9h.8M203.1 465.0h.8M212.1 466.6h.8M207.6 464.3h.8M202.5 466.1h.8M206.1 466.3h.8M206.0 468.2h.8M208.5 467.7h.8M208.6 472.8h.8M204.2 473.1h.8M207.0 474.3h.8M204.9 466.7h.8M204.9 468.8h.8M206.2 466.5h.8M202.5 472.6h.8M206.3 470.7h.8M203.6 466.6h.8M208.5 472.7h.8M205.0 475.4h.8M205.5 467.1h.8M203.8 477.1h.8M202.7 470.8h.8M206.7 466.7h.8M208.3 467.7h.8M207.7 468.9h.8M209.0 464.2h.8M208.6 467.5h.8M204.0 476.1h.8M207.5 470.8h.8M201.1 471.4h.8M203.9 468.3h.8M205.0 476.6h.8M207.9 477.7h.8M207.9 472.1h.8M205.2 465.3h.8M206.8 470.5h.8M203.8 469.7h.8M203.6 468.8h.8M205.8 459.5h.8M203.5 475.6h.8M209.3 470.0h.8M204.2 471.2h.8M203.8 469.8h.8M204.7 470.4h.8M204.4 470.0h.8M203.4 472.0h.8M207.6 476.8h.8M204.4 471.0h.8M207.4 471.7h.8M203.2 468.2h.8M208.1 470.2h.8M207.4 473.6h.8M207.0 468.8h.8M200.6 468.5h.8M205.3 458.9h.8M205.9 475.5h.8M211.5 470.4h.8M203.3 475.6h.8M202.8 473.0h.8M209.5 472.9h.8M201.3 473.7h.8M202.9 470.8h.8M204.9 468.2h.8M212.8 468.8h.8M205.5 465.4h.8M201.5 470.2h.8M207.2 472.9h.8M205.7 468.0h.8M207.2 470.5h.8M201.3 468.1h.8M209.4 467.4h.8M204.4 476.5h.8M200.3 472.4h.8M209.1 471.3h.8M206.0 463.7h.8M202.5 467.8h.8M207.4 474.5h.8M210.0 470.6h.8M205.2 470.2h.8M208.1 469.2h.8M210.4 470.9h.8M206.4 475.0h.8M206.5 468.8h.8M208.3 468.9h.8M206.3 469.4h.8M199.7 473.1h.8M205.2 473.7h.8M201.8 465.1h.8M209.3 468.6h.8M202.8 465.8h.8M204.8 464.5h.8M206.7 468.1h.8M206.2 468.0h.8M207.1 467.4h.8M207.5 470.6h.8M202.9 467.9h.8M203.7 471.9h.8M207.4 474.5h.8M205.8 473.6h.8M206.9 474.8h.8M207.4 477.8h.8M208.5 467.2h.8M203.1 477.6h.8M203.3 472.6h.8M206.0 467.6h.8M198.9 473.1h.8M202.7 470.0h.8M203.8 465.0h.8M204.6 474.0h.8M206.1 465.5h.8M207.0 474.6h.8M201.7 471.8h.8M206.9 466.8h.8M207.0 470.9h.8M205.2 473.3h.8M211.1 470.8h.8M197.6 469.0h.8M209.7 466.2h.8M204.6 468.8h.8M206.8 466.9h.8M205.9 465.7h.8M203.8 469.5h.8M206.6 470.8h.8M203.2 470.0h.8M207.0 466.5h.8M208.7 472.7h.8M208.5 472.5h.8M205.9 469.9h.8M202.0 470.7h.8M203.5 466.4h.8M204.8 469.9h.8M203.6 468.5h.8M214.6 472.4h.8M203.1 465.8h.8M206.9 475.7h.8M208.0 474.0h.8M210.2 470.8h.8M200.4 469.3h.8M209.2 467.8h.8M206.4 465.1h.8M203.3 472.5h.8M204.7 469.2h.8M208.2 470.3h.8M207.8 464.4h.8M209.7 472.1h.8M207.9 476.7h.8M206.2 473.2h.8M206.8 472.8h.8M203.1 472.1h.8M205.9 464.2h.8M208.1 471.3h.8M205.4 475.7h.8M206.0 472.2h.8M208.3 470.9h.8M203.9 462.1h.8M205.7 473.5h.8M210.8 471.0h.8M202.4 467.9h.8M208.3 471.5h.8M208.0 472.1h.8M208.3 461.8h.8M205.5 470.9h.8M211.1 478.8h.8M205.7 464.3h.8M203.8 469.9h.8M210.0 467.1h.8M204.7 467.7h.8M209.4 470.3h.8M197.9 470.3h.8M208.8 467.9h.8M208.0 469.2h.8M207.5 473.3h.8M209.0 463.8h.8M203.6 478.6h.8M200.9 470.4h.8M207.0 470.4h.8M203.2 465.0h.8M206.4 467.8h.8M207.3 474.7h.8M205.0 470.9h.8M212.5 472.5h.8M208.7 466.1h.8M209.6 470.0h.8M203.9 470.9h.8M202.8 466.1h.8M203.6 468.1h.8M207.0 474.5h.8M207.3 475.0h.8M203.7 470.2h.8M206.1 471.6h.8M203.8 464.8h.8M209.9 465.9h.8M207.0 475.9h.8M208.0 469.4h.8M206.5 471.7h.8M205.2 468.5h.8M204.5 471.2h.8M205.5 466.4h.8M205.8 472.9h.8M201.2 470.7h.8M207.6 465.3h.8M206.3 472.1h.8M201.9 469.5h.8M203.1 468.2h.8M203.9 466.7h.8M203.0 476.7h.8M206.6 469.9h.8M204.3 472.1h.8M205.9 472.7h.8M209.5 474.1h.8M204.6 467.6h.8M202.9 471.4h.8M209.6 471.2h.8M201.0 470.9h.8M201.6 467.2h.8M203.9 472.9h.8M206.3 469.4h.8M206.2 470.8h.8M209.4 464.5h.8M203.8 464.3h.8M209.4 476.6h.8M205.0 468.7h.8M201.2 467.3h.8M202.6 474.9h.8M202.4 471.1h.8M204.1 468.8h.8M200.3 469.1h.8M203.3 477.3h.8M206.3 466.8h.8M208.4 478.6h.8M211.5 465.5h.8M204.6 469.2h.8M203.3 469.1h.8M209.0 471.0h.8M202.5 474.7h.8M204.6 473.5h.8M207.5 474.4h.8M207.9 463.4h.8M208.1 474.2h.8M207.2 474.1h.8M205.2 467.4h.8M209.5 465.0h.8M204.6 463.2h.8M202.9 465.7h.8M208.6 471.4h.8M205.4 468.8h.8M206.3 469.2h.8M199.6 467.4h.8M205.3 467.8h.8M205.3 469.0h.8M204.4 470.2h.8M205.4 472.8h.8M204.7 468.8h.8M205.2 467.9h.8M201.6 468.2h.8M202.2 470.9h.8M207.1 466.7h.8M204.4 471.2h.8M206.2 469.2h.8M211.6 469.3h.8M206.9 466.4h.8M203.4 474.5h.8M205.8 470.6h.8M207.0 464.9h.8M205.3 470.9h.8M201.3 474.4h.8M201.9 475.6h.8M205.0 468.0h.8M204.8 473.8h.8M201.1 467.7h.8M205.7 474.8h.8M208.7 471.0h.8M200.4 472.9h.8M204.5 471.3h.8M201.3 468.2h.8M207.7 468.0h.8M203.5 471.4h.8M212.1 469.2h.8M206.6 474.4h.8M206.1 469.7h.8M202.1 472.1h.8M205.9 469.8h.8M206.7 472.3h.8M210.2 474.0h.8M202.8 475.8h.8M210.5 470.6h.8M206.2 476.2h.8M203.5 472.0h.8M203.5 467.8h.8M204.2 470.0h.8M209.6 470.7h.8M210.5 470.6h.8M202.5 476.6h.8M203.6 465.8h.8M207.5 468.1h.8M209.6 477.4h.8M202.2 469.5h.8M205.2 468.1h.8M205.9 469.7h.8M207.7 466.2h.8M207.8 470.0h.8M202.9 473.0h.8M207.2 470.2h.8M202.6 475.5h.8M207.2 467.2h.8M207.4 463.6h.8M200.0 469.8h.8M205.3 470.2h.8M203.8 475.2h.8M207.9 472.5h.8M201.2 468.1h.8M207.4 470.9h.8M206.7 470.8h.8M203.8 482.9h.8M205.0 472.6h.8M203.7 465.5h.8M204.0 467.4h.8M203.4 467.6h.8M202.0 474.7h.8M209.6 469.7h.8M206.9 468.9h.8M203.8 473.4h.8M202.9 467.2h.8M207.3 469.9h.8M204.8 474.9h.8M209.6 469.7h.8M204.4 466.5h.8M205.9 474.2h.8M209.8 472.0h.8M203.9 468.9h.8M205.7 477.9h.8M205.2 474.5h.8M205.1 465.4h.8M207.1 473.0h.8M203.3 469.6h.8M206.2 466.7h.8M204.6 474.5h.8M210.1 472.5h.8M206.2 468.3h.8M205.6 469.0h.8M203.0 472.6h.8M210.9 471.5h.8M203.3 470.7h.8M206.6 476.4h.8M202.8 476.5h.8M206.5 463.8h.8M207.6 469.9h.8M205.8 467.4h.8M207.0 464.0h.8M204.3 468.2h.8M206.3 464.5h.8M210.2 466.4h.8M208.7 469.1h.8M198.3 475.6h.8M207.1 468.2h.8M208.5 470.3h.8M201.9 470.8h.8M206.2 471.7h.8M202.0 466.2h.8M207.5 467.3h.8M205.0 467.5h.8M202.9 468.7h.8M203.3 469.7h.8M206.0 468.1h.8M206.5 475.1h.8M203.5 469.3h.8M207.0 477.6h.8M207.8 469.2h.8M209.2 469.6h.8M206.5 467.6h.8M203.6 468.7h.8M200.8 469.0h.8M201.9 465.7h.8M201.7 470.3h.8M202.8 476.9h.8M207.3 470.6h.8M203.9 467.4h.8M200.5 472.1h.8M203.4 463.0h.8M210.1 463.9h.8M205.1 464.4h.8M203.9 472.6h.8M207.9 468.3h.8M200.1 467.4h.8M213.5 465.9h.8M208.8 471.8h.8M209.6 473.0h.8M204.1 473.4h.8M208.2 470.2h.8M207.2 471.9h.8M205.0 463.6h.8M205.5 475.2h.8M206.3 466.9h.8M198.0 471.1h.8M202.9 470.8h.8M204.7 474.4h.8M208.7 478.2h.8M199.6 465.2h.8M204.1 467.9h.8M211.7 464.2h.8M204.3 480.2h.8M206.2 464.1h.8M212.4 470.4h.8M200.2 468.1h.8M208.2 470.8h.8M207.5 466.6h.8M205.4 475.2h.8M199.1 473.2h.8M206.8 471.6h.8M202.0 470.1h.8M209.6 473.5h.8M201.7 472.3h.8M204.8 467.0h.8M199.4 465.3h.8M197.7 471.3h.8M200.9 470.5h.8M209.4 471.4h.8M205.2 470.2h.8M208.1 469.9h.8M198.1 461.7h.8M206.6 476.4h.8M199.4 465.6h.8M203.6 463.5h.8M205.5 468.3h.8M207.9 465.8h.8M207.0 465.1h.8M204.3 466.8h.8M205.8 464.9h.8M211.8 465.9h.8M208.9 471.9h.8M202.8 462.7h.8M206.8 471.5h.8M206.7 467.8h.8M202.5 468.7h.8M210.0 464.4h.8M202.4 469.9h.8M205.2 466.8h.8M207.3 471.3h.8M205.7 466.4h.8M204.0 468.6h.8M203.4 471.5h.8M204.5 465.6h.8M203.1 468.1h.8M204.4 469.8h.8M203.2 472.6h.8M207.5 470.6h.8M205.1 470.3h.8M210.0 465.5h.8M204.6 471.1h.8M200.3 469.2h.8M199.6 471.4h.8M210.0 465.6h.8M207.3 473.3h.8M208.7 461.3h.8M202.9 469.9h.8M201.7 477.9h.8M205.8 475.3h.8M205.5 464.6h.8M209.3 470.0h.8M209.3 470.6h.8M198.1 474.5h.8M206.8 466.3h.8M207.5 464.9h.8M200.5 464.5h.8M205.8 470.4h.8M202.6 470.6h.8M209.1 469.8h.8M206.4 467.6h.8M209.2 467.7h.8M204.2 475.4h.8M206.3 466.2h.8M203.0 471.7h.8M210.8 468.1h.8M203.6 470.0h.8M211.9 476.5h.8M209.5 471.9h.8M207.1 465.2h.8M210.7 468.1h.8M203.2 474.3h.8M206.6 470.3h.8M211.0 470.5h.8M206.9 473.2h.8M205.0 473.9h.8M208.6 470.8h.8M209.0 472.0h.8M204.9 475.0h.8M209.1 473.9h.8M210.2 466.1h.8M210.8 470.0h.8M206.5 468.2h.8M202.9 468.7h.8M202.4 465.6h.8M208.9 466.7h.8M201.2 472.7h.8M208.2 474.9h.8M208.0 469.1h.8M212.7 476.1h.8M201.3 471.0h.8M205.6 465.0h.8M205.1 466.8h.8M209.6 465.0h.8M202.3 471.8h.8M207.9 468.7h.8M203.7 474.1h.8M201.3 464.3h.8M204.1 466.0h.8M205.5 470.2h.8M208.2 466.6h.8M204.8 469.5h.8M205.5 472.8h.8M205.9 474.0h.8M203.5 466.3h.8M207.4 470.6h.8M207.0 467.7h.8M204.2 464.9h.8M207.4 473.7h.8M208.2 469.0h.8M202.2 466.6h.8M209.6 479.0h.8M199.5 469.4h.8M211.0 467.4h.8M203.4 473.6h.8M204.6 469.2h.8M204.2 465.6h.8M209.0 467.3h.8M198.8 463.6h.8M207.5 476.0h.8M201.5 475.4h.8M203.8 471.2h.8M205.2 468.6h.8M205.7 475.2h.8M204.5 471.6h.8M207.8 470.4h.8M205.8 469.9h.8M204.0 475.1h.8M211.0 474.9h.8M205.9 464.3h.8M208.8 466.7h.8M206.6 467.1h.8M204.2 469.7h.8M210.5 466.4h.8M205.4 469.5h.8M205.6 464.7h.8M204.9 472.7h.8M202.4 467.7h.8M202.4 476.3h.8M205.1 474.4h.8M201.1 471.2h.8M204.4 467.5h.8M212.0 472.8h.8M207.9 467.6h.8M200.8 472.5h.8M211.6 470.3h.8M203.0 468.9h.8M204.0 473.4h.8M205.9 467.5h.8M211.2 474.6h.8M206.8 469.1h.8M209.7 476.6h.8M202.5 467.5h.8M209.5 466.2h.8M204.3 466.2h.8M203.9 466.5h.8M206.3 475.7h.8M202.2 463.4h.8M199.7 472.7h.8M211.2 467.8h.8M207.1 468.1h.8M206.0 477.1h.8M207.7 468.0h.8M201.1 464.9h.8M204.9 471.0h.8M206.5 471.3h.8M202.8 472.2h.8M203.7 469.1h.8M201.5 471.3h.8M204.8 468.8h.8M210.2 468.9h.8M204.5 472.6h.8M209.8 470.7h.8M206.6 467.2h.8M206.2 471.3h.8M205.6 470.1h.8M204.1 471.1h.8M206.3 466.5h.8M208.5 473.7h.8M202.4 473.6h.8M202.2 471.0h.8M209.0 466.4h.8M208.8 466.3h.8M201.0 469.4h.8M206.6 469.3h.8M205.5 467.4h.8M201.6 463.7h.8M202.4 471.9h.8M205.5 468.1h.8M201.8 473.3h.8M204.4 466.2h.8M201.3 468.6h.8M205.2 470.4h.8M205.7 466.6h.8M201.5 469.3h.8M206.2 472.9h.8M204.6 470.7h.8M201.2 470.9h.8M202.1 463.8h.8M209.8 465.8h.8M208.5 475.1h.8M208.4 472.2h.8M208.0 475.4h.8M208.1 470.8h.8M209.9 474.0h.8M207.5 472.6h.8M212.5 469.7h.8M205.5 471.1h.8M206.1 469.0h.8M206.1 473.0h.8M206.0 469.2h.8M205.3 471.3h.8M204.2 472.6h.8M211.6 462.2h.8M204.2 477.1h.8M206.2 467.7h.8M205.7 474.5h.8M210.4 470.7h.8M203.6 468.6h.8M202.5 473.7h.8M206.3 464.8h.8M216.0 473.6h.8M207.9 468.3h.8M208.9 472.4h.8M201.3 468.7h.8M207.5 467.8h.8M213.7 469.9h.8M208.9 475.8h.8M208.8 471.5h.8M207.8 474.3h.8M206.4 488.1h.8M203.9 486.8h.8M203.6 457.2h.8M204.4 472.6h.8M209.3 478.2h.8M206.3 471.0h.8M210.4 467.2h.8M206.6 481.8h.8M207.0 478.4h.8M207.8 476.6h.8M210.3 480.3h.8M207.2 476.4h.8M211.4 484.8h.8M210.9 472.8h.8M207.9 454.2h.8M201.4 485.1h.8M205.4 470.0h.8M208.0 473.0h.8M206.9 464.4h.8M210.2 474.6h.8M209.5 479.7h.8M209.8 478.7h.8M209.6 468.0h.8M206.8 471.8h.8M201.3 472.5h.8M211.2 481.4h.8M206.6 482.1h.8M208.4 459.6h.8M208.6 460.5h.8M207.6 484.5h.8M204.4 468.7h.8M203.3 480.9h.8M210.6 464.2h.8M210.2 474.1h.8M205.6 479.1h.8M209.3 483.9h.8M208.1 477.6h.8M208.9 486.8h.8M205.8 500.8h.8M205.5 465.9h.8M206.1 492.9h.8M204.5 487.4h.8M201.2 491.5h.8M203.1 482.0h.8M205.6 476.1h.8M206.0 475.9h.8M208.8 492.6h.8M208.4 469.4h.8M212.8 456.8h.8M203.0 473.2h.8M202.0 486.4h.8M212.1 453.6h.8M207.5 460.5h.8M211.1 468.9h.8M205.2 479.8h.8M210.2 492.3h.8M207.6 472.8h.8M212.4 478.4h.8M210.2 459.4h.8M205.8 486.2h.8M204.5 473.3h.8M204.0 465.5h.8M209.1 472.8h.8M206.7 469.1h.8M210.9 475.3h.8M204.4 459.4h.8M208.6 478.7h.8M208.6 470.7h.8M204.8 469.2h.8M206.3 474.8h.8M206.1 477.4h.8M203.9 471.6h.8M206.1 481.5h.8M202.9 467.9h.8M204.9 474.9h.8M205.3 478.2h.8M213.0 465.7h.8M202.8 467.1h.8M203.2 485.0h.8M204.8 486.5h.8M203.3 474.2h.8M208.7 484.5h.8M201.1 475.5h.8M201.6 471.3h.8M211.1 472.7h.8M211.4 477.3h.8M209.2 476.5h.8M209.3 478.0h.8M207.3 469.3h.8M209.4 472.8h.8M204.5 483.5h.8M203.7 459.1h.8M207.5 467.5h.8M206.6 466.7h.8M207.0 477.6h.8M207.1 473.8h.8M200.6 483.8h.8M209.0 478.0h.8M198.3 483.4h.8M209.8 482.7h.8M208.7 480.6h.8M206.0 480.7h.8M211.5 502.7h.8M204.8 473.9h.8M208.4 473.4h.8M210.2 480.2h.8M200.4 483.4h.8M206.8 477.5h.8M208.4 477.5h.8M206.6 480.0h.8M210.4 481.2h.8M208.5 461.5h.8M207.7 470.1h.8M211.9 470.5h.8M207.5 459.2h.8M210.4 464.7h.8M208.6 478.5h.8M208.6 476.2h.8M210.0 449.2h.8M207.2 478.3h.8M207.5 468.1h.8M204.1 485.3h.8M210.7 458.6h.8M211.2 477.4h.8M205.0 466.3h.8M204.2 465.6h.8M204.5 467.8h.8M203.3 483.7h.8M208.5 494.7h.8M207.3 470.8h.8M207.5 483.3h.8M205.5 469.4h.8M205.1 467.2h.8M207.7 475.1h.8M207.3 479.9h.8M210.5 482.4h.8M205.8 479.8h.8M204.4 485.2h.8M210.0 490.1h.8M206.0 492.7h.8M210.0 493.9h.8M212.6 504.9h.8M209.3 483.1h.8M208.4 465.1h.8M201.4 487.3h.8M210.6 478.2h.8M208.8 471.4h.8M209.7 488.9h.8M206.1 472.6h.8M209.2 470.6h.8M209.5 471.3h.8M205.0 479.9h.8M209.4 476.8h.8M216.2 479.1h.8M210.0 467.1h.8M205.4 467.7h.8M206.8 484.8h.8M210.1 466.7h.8M207.5 474.1h.8M206.7 480.6h.8M199.1 470.1h.8M208.8 476.1h.8M208.8 480.7h.8M206.1 486.7h.8M206.8 490.0h.8M202.3 482.4h.8M210.0 487.8h.8M205.6 479.9h.8M199.8 479.2h.8M201.8 465.1h.8M205.2 470.1h.8M208.7 494.2h.8M208.5 473.4h.8M213.4 477.5h.8M201.1 468.5h.8M212.3 475.0h.8M206.8 485.3h.8M206.5 474.3h.8M200.4 485.9h.8M206.2 482.3h.8M202.7 461.7h.8M206.4 483.7h.8M204.2 459.7h.8M208.9 473.1h.8M204.2 482.3h.8M208.1 479.3h.8M207.6 475.9h.8M203.8 484.6h.8M207.5 469.0h.8M209.3 475.1h.8M203.3 485.9h.8M210.4 487.3h.8M205.9 474.7h.8M200.2 489.3h.8M207.9 475.5h.8M207.2 491.7h.8M206.5 489.7h.8M207.8 487.3h.8M210.4 467.7h.8M207.6 472.0h.8M207.1 490.6h.8M207.6 455.3h.8M205.7 471.0h.8M205.4 473.4h.8M212.1 462.4h.8M208.3 464.2h.8M211.9 489.7h.8M204.2 478.6h.8M212.7 485.8h.8M203.0 467.5h.8M214.8 473.8h.8M213.4 468.8h.8M203.9 455.4h.8M204.7 470.7h.8M209.5 487.2h.8M201.9 477.5h.8M210.7 476.7h.8M203.0 479.4h.8M209.8 467.6h.8M212.2 487.8h.8M203.0 489.7h.8M206.1 473.3h.8M211.4 467.7h.8M205.9 478.5h.8M204.8 463.3h.8M214.0 484.0h.8M201.9 487.9h.8M206.0 483.1h.8M202.0 467.0h.8M209.2 494.3h.8M203.4 467.1h.8M209.4 474.6h.8M205.7 484.2h.8M204.3 466.2h.8M205.4 488.3h.8M207.7 474.2h.8M207.7 479.5h.8M210.1 471.1h.8M207.3 472.6h.8M208.7 470.6h.8M201.1 470.6h.8M205.3 480.8h.8M214.2 461.0h.8M206.4 486.0h.8M203.3 465.9h.8M205.6 490.3h.8M205.9 468.8h.8M210.6 482.2h.8M205.9 455.0h.8M215.1 482.8h.8M204.6 491.2h.8M199.3 480.9h.8M206.3 474.3h.8M207.2 477.9h.8M205.0 482.1h.8M203.1 471.7h.8M204.3 473.4h.8M203.2 461.3h.8M197.8 483.1h.8M204.4 484.6h.8M211.6 474.2h.8M208.4 472.9h.8M204.3 491.3h.8M207.8 471.9h.8M210.3 473.9h.8M208.1 472.5h.8M206.4 472.0h.8M206.3 485.9h.8M207.6 473.8h.8M207.3 478.0h.8M203.2 476.0h.8M208.9 473.8h.8M207.9 476.7h.8M196.6 486.8h.8M204.5 474.3h.8M202.4 474.5h.8M212.6 474.5h.8M202.5 478.0h.8M212.8 479.0h.8M212.6 473.2h.8M207.7 475.3h.8M209.9 487.1h.8M206.5 477.6h.8M206.5 469.5h.8M204.9 491.8h.8M203.8 468.7h.8M202.7 487.0h.8M203.6 487.4h.8M204.7 483.4h.8M204.1 479.4h.8M206.0 465.0h.8M200.4 468.8h.8M207.7 473.1h.8M210.6 481.2h.8M211.2 482.5h.8M209.8 472.4h.8M207.5 483.9h.8M211.8 477.7h.8M212.8 480.7h.8M211.8 472.4h.8M209.7 474.9h.8M205.6 465.5h.8M203.0 483.8h.8M203.1 471.0h.8M207.7 468.0h.8M210.1 493.7h.8M205.0 479.6h.8M203.6 472.4h.8M203.4 476.8h.8M214.6 462.0h.8M209.5 488.3h.8M204.8 470.6h.8M205.0 458.1h.8M206.1 487.8h.8M216.5 454.5h.8M203.3 467.0h.8M201.0 462.3h.8M207.1 488.6h.8M206.6 459.8h.8M201.3 471.9h.8M201.7 498.3h.8M210.7 480.6h.8M208.1 485.8h.8M209.1 476.6h.8M205.4 487.1h.8M209.7 482.8h.8M205.3 487.6h.8M211.8 489.2h.8M204.1 480.1h.8M208.2 469.8h.8M205.1 473.3h.8M207.4 464.8h.8M203.4 485.9h.8M207.5 479.5h.8M204.1 466.8h.8M208.4 463.3h.8M206.3 472.7h.8M205.8 483.4h.8M207.8 474.0h.8M212.7 490.0h.8M211.2 474.1h.8M205.0 481.5h.8M205.1 465.2h.8M212.6 468.3h.8M208.1 478.2h.8M204.7 481.2h.8M208.3 474.4h.8M207.8 483.5h.8M206.6 482.4h.8M202.8 479.9h.8M207.7 473.7h.8M210.5 465.6h.8M205.9 476.2h.8M204.5 484.1h.8M208.6 476.6h.8M206.0 478.3h.8M209.4 472.5h.8M211.2 459.3h.8M207.1 473.8h.8M212.0 474.2h.8M212.2 472.4h.8M207.4 492.6h.8M209.8 464.5h.8M206.7 460.4h.8M202.8 451.9h.8M205.0 467.3h.8M202.7 473.3h.8M206.5 469.0h.8M214.9 465.1h.8M206.7 479.8h.8M208.0 475.5h.8M201.9 484.1h.8M216.2 475.0h.8M204.2 486.6h.8M206.5 490.4h.8M203.6 491.7h.8M210.6 468.5h.8M210.4 469.2h.8M203.1 477.8h.8M208.9 475.9h.8M210.0 486.1h.8M204.3 475.7h.8M207.6 490.1h.8M208.7 453.6h.8M210.5 471.2h.8M213.0 494.8h.8M204.5 475.8h.8M207.6 484.4h.8M213.7 473.7h.8M206.1 466.9h.8M209.0 458.9h.8M213.7 482.5h.8M205.3 465.5h.8M205.1 468.3h.8M203.4 491.4h.8M202.8 475.0h.8M203.5 478.1h.8M204.3 494.5h.8M209.8 483.8h.8M214.2 482.8h.8M207.6 477.8h.8M209.3 484.9h.8M210.0 492.7h.8M208.1 470.9h.8M210.9 477.3h.8M208.8 469.3h.8M213.0 471.8h.8M208.9 488.5h.8M202.3 477.0h.8M203.6 479.0h.8M211.4 478.0h.8M204.4 472.6h.8M200.1 482.0h.8M212.1 472.0h.8M207.6 475.9h.8M202.9 470.0h.8M202.5 456.0h.8M201.7 485.9h.8M207.1 469.6h.8M214.6 470.6h.8M200.4 491.7h.8M205.1 479.1h.8M203.4 480.7h.8M211.6 491.3h.8M212.9 473.6h.8M205.3 472.4h.8M200.7 493.2h.8M212.6 472.0h.8M213.2 481.5h.8M210.0 464.0h.8M212.9 485.2h.8M201.1 472.7h.8M205.2 464.2h.8M205.7 495.3h.8M208.0 486.0h.8M204.1 462.0h.8M204.0 483.6h.8M205.4 477.5h.8M203.8 471.4h.8M208.6 469.7h.8M212.1 471.7h.8M205.3 475.3h.8M210.3 480.1h.8M202.8 475.7h.8M212.5 478.8h.8M204.9 473.9h.8M206.1 471.3h.8M209.1 485.8h.8M205.3 485.8h.8M209.7 486.1h.8M211.7 488.0h.8M205.8 489.7h.8M209.5 470.7h.8M203.7 475.6h.8M204.6 477.3h.8M213.3 480.3h.8M205.0 472.7h.8M213.9 479.0h.8M206.2 464.6h.8M209.8 478.2h.8M203.8 468.0h.8M208.6 476.3h.8M205.8 490.6h.8M206.0 469.9h.8M210.4 475.9h.8M210.0 476.7h.8M210.8 470.2h.8M211.5 484.9h.8M209.0 469.6h.8M204.7 474.9h.8M208.0 465.1h.8M212.7 472.3h.8M208.8 480.7h.8M204.9 475.1h.8M211.6 479.4h.8M209.2 476.2h.8M203.9 462.8h.8M210.4 488.7h.8M211.8 480.8h.8M212.2 450.0h.8M203.7 464.3h.8M213.8 485.5h.8M199.5 472.8h.8M205.7 490.3h.8M207.6 473.0h.8M206.3 463.3h.8M207.9 469.6h.8M208.3 486.3h.8M205.1 479.8h.8M204.7 469.7h.8M203.9 479.8h.8M205.3 486.4h.8M202.6 471.7h.8M208.0 471.2h.8M203.6 467.8h.8M202.6 497.6h.8M206.6 472.0h.8M208.1 468.9h.8M207.7 475.2h.8M207.1 502.6h.8M206.1 491.7h.8M197.4 487.9h.8M206.4 496.7h.8M206.4 483.5h.8M198.4 506.3h.8M201.6 455.6h.8M200.6 510.2h.8M208.3 497.2h.8M203.2 501.3h.8M206.5 485.2h.8M205.2 487.2h.8M201.2 503.2h.8M205.3 506.6h.8M201.2 485.3h.8M205.0 502.9h.8M215.6 487.1h.8M203.4 495.1h.8M203.3 510.2h.8M201.0 478.4h.8M204.1 493.0h.8M210.5 506.4h.8M195.1 502.2h.8M208.3 481.7h.8M206.8 482.9h.8M209.4 507.2h.8M205.5 506.3h.8M209.1 508.1h.8M206.1 507.4h.8M204.9 494.8h.8M209.8 466.4h.8M202.0 495.5h.8M209.5 461.3h.8M202.3 505.4h.8M202.2 492.4h.8M206.9 508.8h.8M203.9 490.8h.8M211.3 495.6h.8M204.7 480.1h.8M211.3 493.2h.8M210.9 503.7h.8M200.7 506.5h.8M204.2 499.3h.8M204.3 497.8h.8M198.2 489.5h.8M203.8 505.6h.8M205.0 484.4h.8M203.4 491.5h.8M209.2 503.0h.8M207.9 490.1h.8M215.1 501.0h.8M212.9 472.1h.8M206.3 491.5h.8M196.3 490.4h.8M203.0 500.6h.8M205.5 500.8h.8M207.8 493.2h.8M211.7 506.6h.8M207.9 497.0h.8M210.1 487.5h.8M196.6 503.8h.8M205.6 477.8h.8M205.1 501.3h.8M203.8 498.0h.8M207.2 480.0h.8M205.4 500.8h.8M213.3 493.6h.8M214.4 484.8h.8M203.7 510.1h.8M201.8 500.5h.8M211.1 506.6h.8M205.7 496.1h.8M204.9 507.5h.8M204.8 473.1h.8M203.0 497.3h.8M195.4 497.5h.8M203.2 505.3h.8M204.2 495.9h.8M210.9 486.9h.8M202.3 484.7h.8M205.9 504.4h.8M201.2 479.7h.8M209.1 482.3h.8M198.9 497.1h.8M206.8 476.2h.8M203.2 499.2h.8M200.9 493.8h.8M200.7 503.5h.8M203.1 497.3h.8M206.7 497.0h.8M202.0 490.7h.8M209.6 503.6h.8M206.6 472.3h.8M204.8 497.6h.8M207.4 488.3h.8M212.0 468.6h.8M194.8 500.0h.8M208.2 471.0h.8M200.0 505.8h.8M210.4 505.0h.8M211.8 494.9h.8M208.1 489.2h.8M200.1 504.6h.8M210.6 478.3h.8M203.5 500.8h.8M204.6 506.6h.8M211.4 487.5h.8M200.2 504.3h.8M211.3 502.5h.8M209.3 495.5h.8M215.8 505.4h.8M195.0 492.7h.8M202.8 497.0h.8M201.8 494.3h.8M206.9 506.9h.8M208.0 501.2h.8M206.1 479.0h.8M206.2 502.7h.8M206.7 487.4h.8M202.6 486.6h.8M211.2 477.5h.8M195.4 488.9h.8M205.5 507.7h.8M191.3 487.3h.8M205.8 485.4h.8M209.0 506.2h.8M207.6 497.2h.8M209.3 498.5h.8M202.6 484.7h.8M209.4 494.3h.8M205.7 452.8h.8M201.6 503.3h.8M203.6 484.9h.8M207.4 488.3h.8M206.7 501.9h.8M208.9 506.7h.8M202.8 507.4h.8M204.7 509.1h.8M205.9 477.3h.8M213.2 496.4h.8M205.5 488.8h.8M204.9 491.9h.8M204.1 496.6h.8M198.1 483.0h.8M203.8 491.0h.8M198.8 501.8h.8M204.7 503.2h.8M198.7 491.2h.8M205.6 495.6h.8M206.8 508.9h.8M201.5 483.2h.8M200.7 496.7h.8M202.8 491.6h.8M205.8 461.8h.8M207.6 493.1h.8M203.7 489.6h.8M210.0 470.2h.8M200.7 484.2h.8M208.8 497.1h.8M211.2 476.5h.8M211.3 486.8h.8M203.8 493.0h.8M201.3 492.7h.8M214.1 495.0h.8M208.9 466.6h.8M210.2 485.2h.8M200.7 483.0h.8M199.4 495.6h.8M197.9 493.2h.8M200.4 509.4h.8M214.0 502.1h.8M213.7 503.2h.8M205.4 503.8h.8M205.9 481.0h.8M200.3 499.9h.8M211.2 507.0h.8M202.1 490.9h.8M201.8 502.9h.8M204.5 488.5h.8M212.3 491.0h.8M201.2 489.3h.8M204.3 504.1h.8M209.2 501.6h.8M197.0 495.0h.8M211.4 487.7h.8M204.2 503.6h.8M203.2 476.9h.8M210.3 492.8h.8M209.2 506.7h.8M198.7 483.6h.8M215.4 491.6h.8M201.0 505.5h.8M207.7 506.6h.8M206.3 507.2h.8M207.8 500.7h.8M207.0 481.0h.8M208.3 497.9h.8M210.7 497.6h.8M205.3 504.4h.8M204.5 497.7h.8M200.8 474.5h.8M194.3 490.1h.8M202.6 495.7h.8M207.8 502.2h.8M206.5 498.6h.8M206.4 485.0h.8M201.0 491.1h.8M204.2 500.8h.8M206.0 494.6h.8M198.9 494.3h.8M208.8 498.1h.8M206.3 494.9h.8M204.4 506.3h.8M206.7 510.4h.8M205.6 484.1h.8M199.1 503.6h.8M198.6 478.7h.8M204.2 502.9h.8M202.8 506.0h.8M209.3 497.9h.8M202.5 504.8h.8M204.7 498.1h.8M207.7 488.3h.8M209.6 498.2h.8M200.3 501.9h.8M201.0 476.7h.8M214.7 496.5h.8M208.9 495.9h.8M204.9 495.5h.8M212.0 484.6h.8M208.3 502.0h.8M212.4 491.1h.8M206.7 507.6h.8M207.9 484.5h.8M200.6 472.6h.8M208.7 470.8h.8M202.4 506.7h.8M204.8 476.7h.8M213.6 505.7h.8M202.8 498.5h.8M204.0 473.5h.8M203.3 507.9h.8M209.9 496.9h.8M210.1 486.9h.8M210.2 493.1h.8M200.1 500.2h.8M200.9 500.9h.8M202.7 503.0h.8M199.2 508.8h.8M200.9 492.5h.8M202.3 499.1h.8M200.0 487.3h.8M211.7 478.3h.8M210.6 504.3h.8M197.1 494.4h.8M208.3 480.7h.8M206.8 485.2h.8M201.9 492.3h.8M207.0 471.7h.8M207.9 509.5h.8M198.4 486.4h.8M204.6 497.6h.8M205.1 501.3h.8M204.9 478.5h.8M209.0 495.1h.8M210.7 500.7h.8M210.5 477.1h.8M207.1 484.0h.8M205.7 498.4h.8M200.1 496.1h.8M201.5 504.5h.8M205.0 491.7h.8M200.0 503.1h.8M207.9 488.7h.8M209.8 486.5h.8M200.0 488.6h.8M197.8 502.6h.8M203.0 485.5h.8M212.3 490.0h.8M202.1 508.1h.8M213.2 501.2h.8M204.4 493.5h.8M204.5 493.7h.8M204.1 506.1h.8M198.2 491.9h.8M212.6 492.9h.8M213.5 489.5h.8M203.7 493.3h.8M207.8 498.7h.8M204.9 503.7h.8M206.8 500.4h.8M207.4 488.4h.8M209.6 479.4h.8M206.1 500.4h.8M214.3 481.5h.8M203.0 488.8h.8M209.9 503.0h.8M203.2 490.5h.8M208.5 473.3h.8M209.4 493.6h.8M202.3 480.3h.8M199.4 496.7h.8M206.6 493.5h.8M203.5 479.9h.8M206.3 476.6h.8M205.8 500.5h.8M199.8 494.2h.8M200.8 510.2h.8M210.6 499.2h.8M198.0 497.1h.8M213.4 496.5h.8M215.8 484.6h.8M202.0 482.6h.8M210.2 475.6h.8M207.3 488.9h.8M212.3 488.2h.8M207.3 465.2h.8M205.1 490.8h.8M207.0 465.9h.8M202.6 498.4h.8M208.3 502.7h.8M206.2 498.0h.8M207.2 500.7h.8M206.8 503.2h.8M208.5 495.6h.8M203.4 485.3h.8M210.7 494.1h.8M205.1 500.4h.8M209.0 488.8h.8M197.9 490.5h.8M204.2 491.5h.8M203.8 492.1h.8M199.7 500.6h.8M203.3 477.3h.8M200.5 476.9h.8M203.8 500.1h.8M202.8 494.9h.8M213.7 495.1h.8M210.9 488.6h.8M203.2 508.0h.8M206.0 488.1h.8M215.0 494.4h.8M202.7 490.0h.8M208.3 477.1h.8M202.8 498.3h.8M193.1 501.8h.8M204.4 492.7h.8M200.6 506.8h.8M201.1 487.4h.8M213.3 489.5h.8M207.8 490.5h.8M214.0 481.8h.8M205.0 483.3h.8M201.2 484.1h.8M200.8 488.5h.8M203.4 488.5h.8M207.0 486.5h.8M207.7 494.0h.8M206.5 500.6h.8M212.1 498.2h.8M216.4 499.5h.8M213.8 489.3h.8M202.2 497.8h.8M207.7 490.8h.8M205.0 493.4h.8M205.3 491.1h.8M203.6 481.9h.8M203.2 503.8h.8M207.0 491.7h.8M200.7 491.6h.8M208.4 509.5h.8M206.7 487.2h.8M202.2 494.4h.8M199.2 506.9h.8M209.0 495.7h.8M207.3 500.2h.8M198.8 484.3h.8M211.1 501.0h.8M205.3 501.0h.8M203.4 509.5h.8M208.6 489.4h.8M194.6 506.5h.8M206.5 489.5h.8M195.7 459.1h.8M205.4 491.5h.8M205.6 493.1h.8M202.0 494.8h.8M204.7 505.3h.8M209.2 497.7h.8M203.6 481.6h.8M209.4 507.3h.8M203.9 510.1h.8M200.9 485.5h.8M207.5 496.7h.8M203.1 506.2h.8M205.2 480.6h.8M202.1 486.0h.8M208.9 495.1h.8M202.2 504.9h.8M206.3 492.0h.8M206.9 501.2h.8M203.1 457.0h.8M206.1 468.5h.8M210.4 508.4h.8M207.0 490.3h.8M205.9 484.7h.8M210.9 497.8h.8M206.3 504.0h.8M201.4 496.9h.8M210.7 507.0h.8M211.2 509.7h.8M206.9 486.1h.8M210.7 492.8h.8M202.3 466.7h.8M210.0 497.5h.8M203.0 493.4h.8M205.3 504.9h.8M204.7 488.6h.8M200.2 494.5h.8M210.2 493.7h.8M208.5 495.0h.8M207.0 486.4h.8M212.6 500.5h.8M204.0 505.1h.8M205.9 497.9h.8M201.9 487.7h.8M204.0 461.4h.8M204.8 493.4h.8M210.1 487.2h.8M198.0 480.7h.8M206.3 486.9h.8M205.6 483.6h.8M201.6 474.4h.8M208.2 498.1h.8M196.7 491.7h.8M216.0 506.4h.8M208.7 466.0h.8M210.1 483.6h.8M209.0 502.2h.8M197.8 463.0h.8M204.5 498.8h.8M209.8 488.6h.8M213.9 495.3h.8M210.4 475.9h.8M205.2 497.4h.8M205.5 510.5h.8M208.5 498.3h.8M202.3 475.1h.8M203.9 482.1h.8M207.2 501.2h.8M206.2 493.2h.8M202.9 484.0h.8M198.3 495.5h.8M206.6 501.9h.8M206.5 501.4h.8M207.9 502.1h.8M205.0 485.7h.8M203.2 508.5h.8M207.5 484.2h.8M200.2 486.7h.8M214.0 490.3h.8M210.1 484.5h.8M202.9 477.5h.8M208.7 504.0h.8M210.1 488.7h.8M200.7 498.9h.8M209.9 485.3h.8M205.5 486.4h.8M202.0 475.8h.8M204.3 504.8h.8M200.0 463.9h.8M207.1 500.0h.8M205.1 477.9h.8M205.9 502.8h.8M203.8 494.4h.8M205.8 507.9h.8M202.8 493.2h.8M205.4 490.4h.8M206.0 490.4h.8M206.1 507.2h.8M208.3 481.8h.8M207.4 490.7h.8M202.4 480.6h.8M205.4 486.8h.8M207.9 509.2h.8M200.9 498.2h.8M196.6 497.1h.8M203.8 479.3h.8M209.2 496.4h.8M204.7 491.2h.8M202.1 487.5h.8M209.0 490.4h.8M203.1 486.2h.8M196.9 502.9h.8M206.2 506.6h.8M206.7 500.0h.8M203.8 503.8h.8M202.2 496.8h.8M206.3 510.0h.8M193.9 479.5h.8M206.1 481.7h.8M203.8 487.6h.8M206.0 482.5h.8M203.8 499.0h.8M197.9 490.3h.8M200.7 497.0h.8M209.7 482.7h.8M203.5 500.5h.8M202.4 509.6h.8M202.7 483.2h.8M204.2 494.7h.8M205.7 473.2h.8M218.2 501.7h.8M202.0 502.8h.8M210.4 494.2h.8M210.9 490.1h.8M196.9 506.2h.8M197.5 500.8h.8M201.6 491.2h.8M204.0 491.4h.8M203.9 484.8h.8M202.2 491.7h.8M204.1 481.6h.8M209.1 493.2h.8M204.4 485.3h.8M203.3 500.6h.8M202.9 484.8h.8M212.9 475.6h.8M207.1 483.3h.8M198.6 503.1h.8M206.6 487.1h.8M210.7 488.0h.8M207.9 503.7h.8M201.9 478.2h.8M204.7 495.3h.8M202.5 484.8h.8M217.3 491.1h.8M211.5 494.6h.8M203.2 509.9h.8M209.1 481.3h.8M203.6 501.1h.8M200.4 478.1h.8M210.6 491.9h.8M201.2 485.2h.8M208.4 485.7h.8M204.3 501.3h.8M206.1 500.6h.8M205.7 502.2h.8M198.5 485.8h.8M202.8 476.6h.8M214.1 489.3h.8M201.6 478.0h.8M198.8 489.0h.8M209.8 494.7h.8M199.8 504.3h.8M196.7 498.0h.8M206.5 492.6h.8M208.0 476.2h.8M208.6 494.9h.8M207.1 498.9h.8M207.0 504.7h.8M198.1 496.1h.8M207.3 480.6h.8M206.9 490.7h.8M198.9 500.6h.8M197.3 508.9h.8M203.5 510.0h.8M207.5 495.3h.8M205.0 469.5h.8M207.7 499.8h.8M203.2 489.0h.8M218.0 481.7h.8M210.9 498.9h.8M207.0 501.2h.8M204.4 506.4h.8M201.9 471.7h.8M201.6 483.4h.8M205.7 477.4h.8M202.6 503.3h.8M197.4 501.4h.8M210.5 473.9h.8M205.0 489.1h.8M201.6 500.2h.8M209.7 485.0h.8M201.2 494.1h.8M202.1 499.2h.8M204.8 492.7h.8M197.8 502.7h.8M205.1 482.3h.8M202.4 474.1h.8M199.6 485.3h.8M203.0 493.8h.8M203.7 506.4h.8M208.0 484.8h.8M207.5 496.9h.8M196.5 486.7h.8M203.0 489.1h.8M202.3 488.0h.8M214.1 463.7h.8M200.3 508.2h.8M201.6 489.8h.8M209.9 476.0h.8M202.7 495.6h.8M209.8 492.2h.8M200.4 507.7h.8M207.5 466.4h.8M211.3 489.9h.8M206.3 510.1h.8M197.5 509.0h.8M207.1 484.6h.8M197.1 478.3h.8M204.1 490.8h.8M212.0 506.1h.8M206.1 499.0h.8M199.6 494.1h.8M210.4 502.6h.8M207.0 497.7h.8M209.8 486.9h.8M201.3 491.8h.8M208.8 487.0h.8M208.1 489.1h.8M209.3 478.0h.8M205.8 490.6h.8M200.0 500.5h.8M206.4 486.2h.8M210.9 486.1h.8M204.3 508.6h.8M201.4 501.5h.8M209.4 486.5h.8M205.2 494.9h.8M205.6 505.8h.8M211.4 470.3h.8M212.7 487.8h.8M193.5 505.1h.8M199.7 462.9h.8M199.7 507.7h.8M204.4 494.3h.8M202.7 468.9h.8M207.3 499.2h.8M201.2 488.8h.8M204.9 506.8h.8M210.7 507.6h.8M201.4 510.3h.8M209.5 498.2h.8M204.1 507.8h.8M206.3 486.3h.8M205.0 485.0h.8M200.2 499.6h.8M203.8 507.2h.8M204.2 494.9h.8M203.5 497.8h.8M204.6 500.2h.8M208.4 482.4h.8M208.4 488.0h.8M208.0 500.4h.8M205.7 470.2h.8M203.1 497.8h.8M211.0 493.2h.8M207.3 497.4h.8M205.2 493.9h.8M201.8 489.8h.8M203.7 488.3h.8M198.5 507.8h.8M204.2 488.7h.8M203.6 502.2h.8M209.1 499.2h.8M211.1 484.0h.8M210.4 488.1h.8M207.6 497.1h.8M204.3 496.1h.8M209.8 500.7h.8M212.0 484.3h.8M202.5 488.9h.8M212.6 468.1h.8M202.7 502.7h.8M208.8 510.4h.8M209.3 499.9h.8M203.6 496.4h.8M204.1 492.3h.8M210.8 507.9h.8M211.3 482.7h.8M207.9 485.5h.8M203.6 499.4h.8M204.1 508.8h.8M204.2 498.8h.8M210.0 479.3h.8M202.7 485.2h.8M198.8 473.4h.8M206.3 488.1h.8M203.8 484.6h.8M207.6 505.2h.8M202.7 495.5h.8M204.7 482.4h.8M204.0 495.3h.8M207.0 477.3h.8M213.2 482.2h.8M207.2 479.1h.8M207.9 500.3h.8M208.1 496.7h.8M208.6 500.3h.8M204.1 504.2h.8M192.9 489.2h.8M205.7 499.0h.8M201.7 495.3h.8M203.7 500.1h.8M205.4 484.7h.8M202.6 465.9h.8M205.8 493.3h.8M196.6 493.7h.8M208.2 489.2h.8M200.2 488.5h.8M203.7 484.9h.8M209.0 488.7h.8M205.5 504.5h.8M199.3 498.9h.8M210.8 490.4h.8M211.5 483.6h.8M202.9 489.5h.8M202.6 476.4h.8M211.6 506.9h.8M199.5 471.7h.8M203.6 503.0h.8M205.6 492.1h.8M206.0 501.9h.8M209.6 509.6h.8M204.0 496.3h.8M211.8 498.2h.8M198.4 482.6h.8M200.3 489.1h.8M210.6 492.3h.8M204.3 501.7h.8M206.9 491.8h.8M208.2 485.4h.8M197.4 468.8h.8M205.4 468.9h.8M211.0 486.7h.8M200.4 497.9h.8M199.2 496.8h.8M201.9 504.0h.8M203.0 508.5h.8M202.9 491.0h.8M205.9 479.6h.8M209.0 499.6h.8M208.2 490.5h.8M208.1 492.8h.8M207.6 504.0h.8M198.7 492.1h.8M208.9 478.5h.8M201.8 500.0h.8M201.0 487.6h.8M206.5 482.2h.8M202.8 490.8h.8M208.2 507.6h.8M193.3 470.0h.8M212.0 482.0h.8M203.1 472.2h.8M204.0 485.7h.8M205.5 506.8h.8M207.1 498.6h.8M200.5 485.7h.8M211.8 493.1h.8M210.9 488.7h.8M209.6 458.6h.8M204.2 500.7h.8M201.1 491.2h.8M209.4 481.9h.8M207.3 490.3h.8M206.2 508.7h.8M199.7 495.4h.8M210.0 507.7h.8M210.3 478.0h.8M206.8 465.8h.8M208.5 496.3h.8M206.4 508.6h.8M201.5 493.0h.8M210.4 507.2h.8M199.8 489.0h.8M202.2 480.4h.8M208.4 502.4h.8M210.6 462.6h.8M212.2 486.7h.8M201.6 480.6h.8M199.1 487.8h.8M208.0 497.2h.8M202.2 483.5h.8M200.4 500.5h.8M198.9 483.8h.8M208.8 474.5h.8M201.6 490.7h.8M201.7 496.7h.8M202.3 497.2h.8M201.7 489.0h.8M204.8 504.5h.8M207.5 485.7h.8M210.0 479.5h.8M198.6 493.0h.8M196.8 469.8h.8M208.3 487.7h.8M210.1 491.8h.8M210.0 491.4h.8M210.4 483.9h.8M200.8 490.9h.8M205.0 504.3h.8M205.7 483.4h.8M207.6 482.1h.8M205.0 492.8h.8M201.9 502.9h.8M210.7 488.5h.8M204.6 500.6h.8M205.1 494.8h.8M207.0 482.1h.8M206.5 497.7h.8M205.5 492.3h.8M195.3 495.3h.8M210.8 483.8h.8M202.8 466.8h.8M200.0 502.4h.8M201.9 489.4h.8M204.5 500.5h.8M212.2 498.0h.8M209.3 484.1h.8M205.7 486.9h.8M203.3 475.8h.8M213.1 498.7h.8M197.3 495.0h.8M206.9 491.4h.8M201.2 484.0h.8M200.8 499.8h.8M203.8 489.3h.8M207.7 477.2h.8M209.2 499.7h.8M206.5 485.3h.8M208.9 478.7h.8M209.2 497.1h.8M202.5 504.0h.8M211.5 493.7h.8M212.2 500.2h.8M206.1 500.0h.8M209.3 509.8h.8M207.9 500.6h.8M197.0 475.8h.8M204.1 482.7h.8M202.8 483.8h.8M202.5 479.1h.8M205.1 502.8h.8M209.0 480.7h.8M207.2 508.9h.8M201.1 500.0h.8M201.3 506.8h.8M213.1 491.1h.8M202.4 504.3h.8M201.5 493.0h.8M211.3 472.1h.8M202.7 494.3h.8M206.1 494.0h.8M202.5 499.5h.8M204.4 485.1h.8M196.8 469.3h.8M200.9 495.7h.8M204.7 493.5h.8M209.1 475.0h.8M204.4 478.7h.8M207.6 474.4h.8M201.9 493.8h.8M209.5 485.8h.8M207.7 492.9h.8M207.4 469.3h.8M209.8 510.3h.8M213.6 495.3h.8M204.9 483.8h.8M205.2 500.5h.8M211.0 502.7h.8M210.6 491.8h.8M212.7 499.4h.8M200.9 489.7h.8M207.3 505.8h.8M207.1 509.1h.8M204.4 488.6h.8M203.5 478.7h.8M199.5 490.5h.8M203.9 498.5h.8M204.9 500.8h.8M205.0 490.9h.8M210.0 484.9h.8M208.9 487.2h.8M207.3 483.9h.8M199.7 489.7h.8M200.1 494.4h.8M207.0 496.4h.8M204.0 506.5h.8M203.2 492.8h.8M201.0 477.4h.8M216.6 506.9h.8M209.1 488.0h.8M207.1 482.3h.8M200.9 503.4h.8M211.5 504.3h.8M201.6 487.0h.8M200.7 489.6h.8M199.7 491.0h.8M208.4 496.1h.8M212.2 509.6h.8M203.5 510.0h.8M209.9 481.1h.8M198.2 487.8h.8M198.1 504.7h.8M204.2 487.0h.8M210.3 508.7h.8M204.6 491.2h.8M203.8 500.2h.8M205.8 480.1h.8M211.1 491.8h.8M207.1 494.9h.8M201.9 493.5h.8M203.1 489.7h.8M207.7 496.5h.8M207.7 499.3h.8M204.9 469.9h.8M206.0 498.2h.8M208.7 488.2h.8M202.2 481.2h.8M206.4 500.5h.8M207.6 474.7h.8M207.6 499.4h.8M204.8 506.8h.8M206.0 502.6h.8M205.6 500.7h.8M208.5 470.2h.8M201.6 495.5h.8M208.2 478.7h.8M205.0 508.2h.8M207.8 498.9h.8M208.3 502.6h.8M195.1 489.7h.8M210.2 460.4h.8M212.4 508.2h.8M209.0 495.0h.8M200.1 499.9h.8M206.5 494.9h.8M203.6 507.9h.8M209.0 503.8h.8M206.8 498.6h.8M198.3 504.5h.8M213.2 502.6h.8M206.7 499.5h.8M215.3 508.5h.8M203.9 487.6h.8M202.1 479.3h.8M204.8 508.2h.8M204.4 493.5h.8M210.9 510.2h.8M201.0 506.5h.8M207.4 501.1h.8M207.7 487.0h.8M205.8 509.8h.8M207.4 481.4h.8M206.1 462.8h.8M200.0 485.8h.8M202.0 489.3h.8M212.9 490.4h.8M205.0 503.0h.8M203.8 495.3h.8M215.2 484.8h.8M201.1 489.8h.8M208.2 482.3h.8M209.7 500.5h.8M206.0 508.6h.8M198.7 485.0h.8M213.1 479.9h.8M214.0 480.9h.8M201.2 477.6h.8M213.4 498.0h.8M203.2 486.6h.8M203.1 489.8h.8M203.4 498.4h.8M201.3 488.8h.8M204.0 483.8h.8M199.7 501.7h.8M208.3 482.2h.8M206.3 497.0h.8M204.9 485.9h.8M206.3 491.4h.8M213.8 502.1h.8M203.9 496.1h.8M203.3 492.3h.8M205.8 500.2h.8M204.5 478.4h.8M198.4 480.1h.8M198.8 497.8h.8M210.0 493.6h.8M212.8 494.8h.8M209.2 470.3h.8M206.3 497.4h.8M201.3 498.3h.8M207.7 477.8h.8M205.0 492.5h.8M198.4 503.1h.8M200.2 492.6h.8M193.3 504.4h.8M204.3 506.0h.8M209.6 493.0h.8M204.9 505.8h.8M217.1 497.5h.8M197.5 499.0h.8M211.0 499.8h.8M204.8 475.6h.8M211.7 505.5h.8M209.4 508.4h.8M208.8 502.2h.8M205.8 500.6h.8M206.3 492.4h.8M195.8 481.9h.8M205.0 508.0h.8M209.7 491.7h.8M205.8 488.4h.8M202.1 487.2h.8M206.4 496.4h.8M203.1 499.0h.8M204.3 500.3h.8M209.0 499.0h.8M203.7 503.9h.8M200.0 482.0h.8M207.7 489.3h.8M199.5 482.5h.8M209.8 479.8h.8M208.6 504.4h.8M208.3 491.4h.8M209.2 476.7h.8M200.4 479.1h.8M206.3 486.9h.8M207.5 481.1h.8M217.5 507.4h.8M207.9 483.8h.8M212.4 501.7h.8M198.9 492.1h.8M210.1 495.3h.8M205.6 493.1h.8M199.1 489.3h.8M203.3 481.5h.8M203.6 501.6h.8M207.2 486.4h.8M210.5 478.6h.8M204.3 482.8h.8M201.3 482.6h.8M206.1 505.7h.8M203.8 499.7h.8M205.5 489.3h.8M205.9 497.2h.8M207.7 503.0h.8M208.8 489.9h.8M203.5 506.0h.8M206.8 483.9h.8M207.2 483.5h.8M210.4 510.2h.8M206.0 498.3h.8M207.5 485.8h.8M201.6 466.3h.8M210.8 496.2h.8M209.3 495.6h.8M203.6 502.7h.8M208.9 497.9h.8M209.1 495.9h.8M204.0 471.6h.8M205.1 508.3h.8M204.8 496.8h.8M201.8 483.5h.8M199.0 493.4h.8M194.2 482.5h.8M198.9 503.2h.8M197.6 496.6h.8M203.0 495.7h.8M210.6 488.7h.8M198.3 468.5h.8M212.6 501.5h.8M208.2 501.0h.8M201.8 506.8h.8M213.5 507.4h.8M215.6 498.3h.8M205.6 498.8h.8M199.5 508.2h.8M203.0 478.5h.8M195.1 488.4h.8M196.3 505.2h.8M201.1 505.9h.8M203.3 487.3h.8M202.2 498.0h.8M208.6 464.7h.8M204.7 483.8h.8M204.4 498.2h.8M212.2 492.4h.8M212.1 480.4h.8M202.2 483.0h.8M204.9 505.5h.8M217.0 501.9h.8M213.9 503.7h.8M203.8 500.9h.8M194.4 490.0h.8M201.8 500.4h.8M207.8 497.2h.8M204.3 489.2h.8M207.7 483.0h.8M208.8 480.4h.8M215.6 478.3h.8M198.5 473.2h.8M196.8 495.8h.8M195.3 500.2h.8M202.6 489.9h.8M201.4 491.0h.8M203.4 497.5h.8M203.0 490.7h.8M206.8 504.0h.8M203.8 509.8h.8M205.5 498.9h.8M203.6 490.0h.8M206.1 497.8h.8M209.1 495.7h.8M207.9 504.4h.8M212.5 490.5h.8M209.2 485.9h.8M207.4 503.1h.8M206.2 509.0h.8M206.0 500.4h.8M207.1 493.0h.8M202.7 485.3h.8M208.9 495.7h.8M204.0 486.2h.8M208.9 494.7h.8M206.6 493.5h.8M202.0 502.8h.8M205.4 484.4h.8M198.5 498.0h.8M201.7 502.1h.8M211.3 486.1h.8M202.3 508.5h.8M199.2 458.7h.8M197.1 487.8h.8M197.0 498.0h.8M206.6 473.3h.8M209.9 481.9h.8M204.8 478.0h.8M208.7 487.1h.8M208.4 506.8h.8M198.9 490.2h.8M200.0 489.9h.8M197.2 476.6h.8M201.3 495.4h.8M203.2 492.9h.8M194.5 466.4h.8M201.3 498.5h.8M203.7 481.6h.8M198.7 498.6h.8M203.8 487.6h.8M208.9 509.7h.8M210.3 492.4h.8M201.2 502.5h.8M201.3 491.9h.8M200.2 493.7h.8M207.5 506.7h.8M203.8 472.2h.8M199.2 509.9h.8M204.9 502.7h.8M204.9 480.1h.8M200.0 487.4h.8M206.1 473.7h.8M203.2 501.2h.8M202.9 506.2h.8M197.8 505.5h.8M199.3 486.6h.8M194.4 504.7h.8M203.2 508.8h.8M213.2 491.0h.8M198.1 484.3h.8M200.8 505.9h.8M197.8 479.9h.8M211.9 505.8h.8M203.0 492.8h.8M202.7 491.7h.8M201.4 496.6h.8M200.4 484.5h.8M208.1 489.1h.8M213.4 505.7h.8M209.3 500.2h.8M208.1 468.5h.8M205.3 497.2h.8M212.4 487.5h.8M209.4 505.3h.8M206.8 509.1h.8M201.9 498.0h.8M196.2 476.8h.8M199.9 507.9h.8M199.4 505.0h.8M208.0 495.1h.8M206.8 502.6h.8M202.0 492.7h.8M203.8 489.0h.8M205.0 493.9h.8M198.3 499.4h.8M204.0 492.6h.8M205.0 491.1h.8M201.8 490.1h.8M206.7 503.1h.8M208.3 510.2h.8M216.0 506.8h.8M206.9 493.0h.8M206.2 508.2h.8M213.7 491.3h.8M204.1 485.9h.8M202.5 474.1h.8M212.7 502.5h.8M205.1 488.2h.8M196.2 495.8h.8M208.2 494.2h.8M199.0 478.7h.8M201.7 498.1h.8M207.8 493.2h.8M207.4 493.6h.8M207.9 494.1h.8M201.1 485.3h.8M201.0 491.1h.8M204.2 499.5h.8M196.6 490.2h.8M206.8 494.4h.8M206.2 495.8h.8M209.0 493.4h.8M204.4 493.6h.8M209.0 502.7h.8M200.6 490.8h.8M204.4 499.7h.8M203.8 503.0h.8M208.4 494.8h.8M198.5 500.3h.8M203.8 501.5h.8M206.7 486.3h.8M204.5 504.6h.8M201.6 507.0h.8M207.7 501.8h.8M209.7 507.0h.8M210.0 505.7h.8M208.9 490.6h.8M205.3 486.4h.8M200.5 473.1h.8M205.0 509.1h.8M206.4 463.8h.8M213.7 490.7h.8M197.3 477.3h.8M202.1 489.8h.8M205.7 498.1h.8M208.3 489.0h.8M204.6 491.0h.8M215.3 496.0h.8M207.8 471.8h.8M205.3 484.8h.8M203.5 486.2h.8M204.7 490.7h.8M201.9 499.4h.8M215.5 480.6h.8M211.7 492.7h.8M207.1 506.4h.8M189.4 497.5h.8M159.6 487.2h.8M164.0 510.3h.8M173.3 487.1h.8M172.6 499.4h.8M181.4 508.7h.8M190.0 510.5h.8M197.6 507.3h.8M186.2 487.9h.8M154.9 503.6h.8M167.0 487.7h.8M182.6 504.3h.8M193.8 500.7h.8M212.6 494.9h.8M172.0 501.4h.8M184.1 493.1h.8M165.2 494.7h.8M188.7 494.9h.8M174.2 500.7h.8M176.6 499.9h.8M179.0 504.0h.8M193.7 499.3h.8M157.4 492.0h.8M167.5 504.8h.8M157.8 495.0h.8M181.4 502.4h.8M171.6 475.6h.8M153.6 507.9h.8M191.3 494.4h.8M180.7 504.3h.8M208.0 502.6h.8M213.9 508.5h.8M179.2 505.0h.8M184.1 504.8h.8M208.4 494.7h.8M201.9 496.0h.8M181.9 504.0h.8M195.0 496.2h.8M176.3 493.3h.8M198.4 487.1h.8M209.3 487.9h.8M185.7 496.3h.8M178.8 491.9h.8M164.1 503.3h.8M182.8 505.9h.8M187.3 487.3h.8M182.1 488.9h.8M193.1 500.7h.8M163.0 502.5h.8M170.7 499.2h.8M209.3 488.6h.8M160.7 507.6h.8M167.2 488.3h.8M186.1 492.0h.8M154.0 499.1h.8M158.1 483.6h.8M199.4 487.8h.8M162.0 497.8h.8M161.0 494.4h.8M188.2 494.3h.8M153.5 499.3h.8M155.0 492.9h.8M179.5 487.7h.8M185.6 486.5h.8M199.4 491.5h.8M190.2 502.0h.8M170.6 503.6h.8M150.0 494.4h.8M190.3 499.8h.8M154.8 499.0h.8M182.7 492.3h.8M183.3 499.2h.8M169.0 504.4h.8M206.7 510.4h.8M183.5 501.9h.8M211.5 501.2h.8M162.0 498.4h.8M166.0 499.5h.8M179.5 499.4h.8M188.0 507.4h.8M183.9 492.1h.8M189.8 502.9h.8M189.1 501.6h.8M198.2 492.8h.8M165.7 495.7h.8M178.3 497.0h.8M156.8 505.1h.8M197.5 504.0h.8M158.3 507.8h.8M179.7 507.3h.8M166.7 499.8h.8M193.6 508.4h.8M170.1 494.8h.8M191.2 486.3h.8M198.8 500.8h.8M189.2 498.3h.8M207.1 487.9h.8M154.3 507.1h.8M163.6 494.4h.8M168.8 493.9h.8M163.7 509.8h.8M216.0 499.2h.8M166.1 498.0h.8M179.6 503.8h.8M170.8 495.2h.8M176.5 496.1h.8M165.7 491.4h.8M176.2 501.1h.8M182.2 508.5h.8M170.3 499.3h.8M191.6 503.8h.8M176.2 497.9h.8M207.0 498.4h.8M207.0 508.1h.8M198.6 499.7h.8M169.4 497.1h.8M178.2 490.1h.8M181.2 506.3h.8M184.3 492.3h.8M202.8 496.8h.8M165.8 504.3h.8M208.0 498.2h.8M176.3 492.4h.8M156.1 495.3h.8M180.0 508.7h.8M200.7 492.0h.8M181.1 490.4h.8M189.7 499.7h.8M182.6 497.1h.8M189.7 489.1h.8M193.7 493.1h.8M171.5 494.2h.8M171.2 487.1h.8M185.0 497.0h.8M188.8 498.3h.8M157.2 499.2h.8M173.7 497.7h.8M198.3 486.6h.8M160.2 505.9h.8M157.7 509.4h.8M171.6 493.9h.8M173.4 493.8h.8M178.7 508.6h.8M149.5 505.2h.8M192.9 498.4h.8M166.3 508.1h.8M161.3 507.7h.8M206.2 489.8h.8M178.8 497.8h.8M162.3 494.6h.8M192.5 501.6h.8M184.8 497.2h.8M150.2 501.4h.8M187.7 488.5h.8M179.0 508.4h.8M188.9 501.5h.8M156.9 498.8h.8M165.7 508.2h.8M171.0 497.7h.8M179.4 508.8h.8M197.4 509.8h.8M166.7 486.3h.8M200.8 505.5h.8M205.9 508.6h.8M179.5 507.3h.8M174.2 494.1h.8M180.5 508.7h.8M198.1 492.7h.8M205.6 496.7h.8M164.9 496.3h.8M182.1 500.0h.8M179.1 493.4h.8M197.8 508.3h.8M199.3 493.8h.8M187.6 503.7h.8M187.4 509.3h.8M163.8 497.3h.8M177.0 496.9h.8M185.2 508.3h.8M194.3 490.4h.8M189.6 488.7h.8M170.7 497.3h.8M173.1 487.2h.8M177.4 501.6h.8M163.7 498.2h.8M186.2 505.9h.8M218.9 502.8h.8M151.3 506.5h.8M159.8 501.3h.8M198.7 505.5h.8M194.9 501.8h.8M168.4 507.6h.8M197.9 509.2h.8M169.2 509.1h.8M179.4 497.4h.8M175.3 507.4h.8M178.0 501.3h.8M158.8 492.1h.8M194.4 503.6h.8M172.1 505.6h.8M180.1 486.8h.8M169.1 501.6h.8M166.7 489.3h.8M183.5 493.8h.8M178.3 490.5h.8M195.2 507.9h.8M155.3 505.7h.8M179.8 495.5h.8M149.6 505.9h.8M173.8 501.7h.8M177.2 494.2h.8M178.7 506.8h.8M215.4 497.9h.8M173.6 509.6h.8M184.8 502.5h.8M163.1 504.8h.8M193.1 501.3h.8M198.0 495.4h.8M173.1 498.6h.8M174.1 490.4h.8M204.9 495.4h.8M167.2 491.3h.8M177.4 495.7h.8M212.2 504.6h.8M163.7 491.0h.8M157.6 493.6h.8M169.2 493.8h.8M167.5 496.8h.8M188.3 499.9h.8M173.5 507.6h.8M183.3 500.8h.8M188.5 499.6h.8M158.3 496.7h.8M204.8 506.9h.8M213.7 489.8h.8M192.1 486.9h.8M171.6 500.2h.8M158.3 494.7h.8M170.0 509.7h.8M194.7 508.1h.8M195.6 502.1h.8M163.0 497.9h.8M177.8 499.1h.8M178.6 496.0h.8M166.8 493.3h.8M188.5 498.5h.8M168.2 506.5h.8M161.9 491.2h.8M196.9 491.1h.8M185.8 498.6h.8M183.4 503.2h.8M150.6 500.7h.8M164.0 492.8h.8M193.9 488.4h.8M166.6 490.7h.8M208.5 490.1h.8M165.3 492.4h.8M163.3 506.7h.8M183.2 506.4h.8M186.3 503.5h.8M194.2 496.8h.8M168.0 499.0h.8M184.7 505.1h.8M174.3 493.4h.8M185.3 492.6h.8M198.7 490.2h.8M161.4 498.1h.8M190.7 497.2h.8M194.5 500.3h.8M183.2 492.0h.8M185.5 502.9h.8M181.5 509.9h.8M177.6 497.1h.8M188.7 503.2h.8M184.1 493.4h.8M174.5 507.0h.8M169.3 500.6h.8M187.7 495.2h.8M164.3 492.7h.8M157.1 506.8h.8M156.4 497.0h.8M175.5 496.2h.8M171.1 510.0h.8M173.3 504.5h.8M177.4 499.8h.8M180.3 497.6h.8M170.0 500.4h.8M179.0 508.5h.8M165.9 495.1h.8M168.8 504.2h.8M202.3 505.6h.8" stroke="#000" stroke-opacity="0.34" stroke-width="0.8" fill="none" filter="url(#bd)"/>
<rect x="148.8" y="447" width="70.80" height="64.00" fill="none" stroke="#5c5c5c" stroke-width="0.9"/>
<line x1="194.2" y1="447" x2="194.2" y2="511" stroke="#747474" stroke-width="0.7" />
<line x1="148.8" y1="483" x2="219.6" y2="483" stroke="#747474" stroke-width="0.7" />
<text transform="translate(144.6,518.3) scale(0.86,1)" font-family='"Liberation Sans", sans-serif' font-size="6.7" fill="#3a3a3a">10<tspan dy="-2.7" font-size="4.8">0</tspan></text>
<text transform="translate(145.6,515.9) rotate(-90) scale(0.86,1)" font-family='"Liberation Sans", sans-serif' font-size="6.7" fill="#3a3a3a">10<tspan dy="-2.7" font-size="4.8">0</tspan></text>
<line x1="148.8" y1="511" x2="148.8" y2="512.6" stroke="#444" stroke-width="0.6" />
<line x1="147.20000000000002" y1="511.0" x2="148.8" y2="511.0" stroke="#444" stroke-width="0.6" />
<text transform="translate(162.3,518.3) scale(0.86,1)" font-family='"Liberation Sans", sans-serif' font-size="6.7" fill="#3a3a3a">10<tspan dy="-2.7" font-size="4.8">1</tspan></text>
<text transform="translate(145.6,499.9) rotate(-90) scale(0.86,1)" font-family='"Liberation Sans", sans-serif' font-size="6.7" fill="#3a3a3a">10<tspan dy="-2.7" font-size="4.8">1</tspan></text>
<line x1="166.5" y1="511" x2="166.5" y2="512.6" stroke="#444" stroke-width="0.6" />
<line x1="147.20000000000002" y1="495.0" x2="148.8" y2="495.0" stroke="#444" stroke-width="0.6" />
<text transform="translate(180.0,518.3) scale(0.86,1)" font-family='"Liberation Sans", sans-serif' font-size="6.7" fill="#3a3a3a">10<tspan dy="-2.7" font-size="4.8">2</tspan></text>
<text transform="translate(145.6,483.9) rotate(-90) scale(0.86,1)" font-family='"Liberation Sans", sans-serif' font-size="6.7" fill="#3a3a3a">10<tspan dy="-2.7" font-size="4.8">2</tspan></text>
<line x1="184.2" y1="511" x2="184.2" y2="512.6" stroke="#444" stroke-width="0.6" />
<line x1="147.20000000000002" y1="479.0" x2="148.8" y2="479.0" stroke="#444" stroke-width="0.6" />
<text transform="translate(197.7,518.3) scale(0.86,1)" font-family='"Liberation Sans", sans-serif' font-size="6.7" fill="#3a3a3a">10<tspan dy="-2.7" font-size="4.8">3</tspan></text>
<text transform="translate(145.6,467.9) rotate(-90) scale(0.86,1)" font-family='"Liberation Sans", sans-serif' font-size="6.7" fill="#3a3a3a">10<tspan dy="-2.7" font-size="4.8">3</tspan></text>
<line x1="201.9" y1="511" x2="201.9" y2="512.6" stroke="#444" stroke-width="0.6" />
<line x1="147.20000000000002" y1="463.0" x2="148.8" y2="463.0" stroke="#444" stroke-width="0.6" />
<text transform="translate(215.4,518.3) scale(0.86,1)" font-family='"Liberation Sans", sans-serif' font-size="6.7" fill="#3a3a3a">10<tspan dy="-2.7" font-size="4.8">4</tspan></text>
<text transform="translate(145.6,451.9) rotate(-90) scale(0.86,1)" font-family='"Liberation Sans", sans-serif' font-size="6.7" fill="#3a3a3a">10<tspan dy="-2.7" font-size="4.8">4</tspan></text>
<line x1="219.6" y1="511" x2="219.6" y2="512.6" stroke="#444" stroke-width="0.6" />
<line x1="147.20000000000002" y1="447.0" x2="148.8" y2="447.0" stroke="#444" stroke-width="0.6" />
<text transform="translate(153.30,455.86) scale(1.075,1)" font-family='"Liberation Serif", serif' font-size="9.41" font-weight="normal" fill="#000">63 %</text>
<text transform="translate(197.50,455.86) scale(1.045,1)" font-family='"Liberation Serif", serif' font-size="9.41" font-weight="normal" fill="#000">37 %</text>
</g>
</svg>
</body></html>
